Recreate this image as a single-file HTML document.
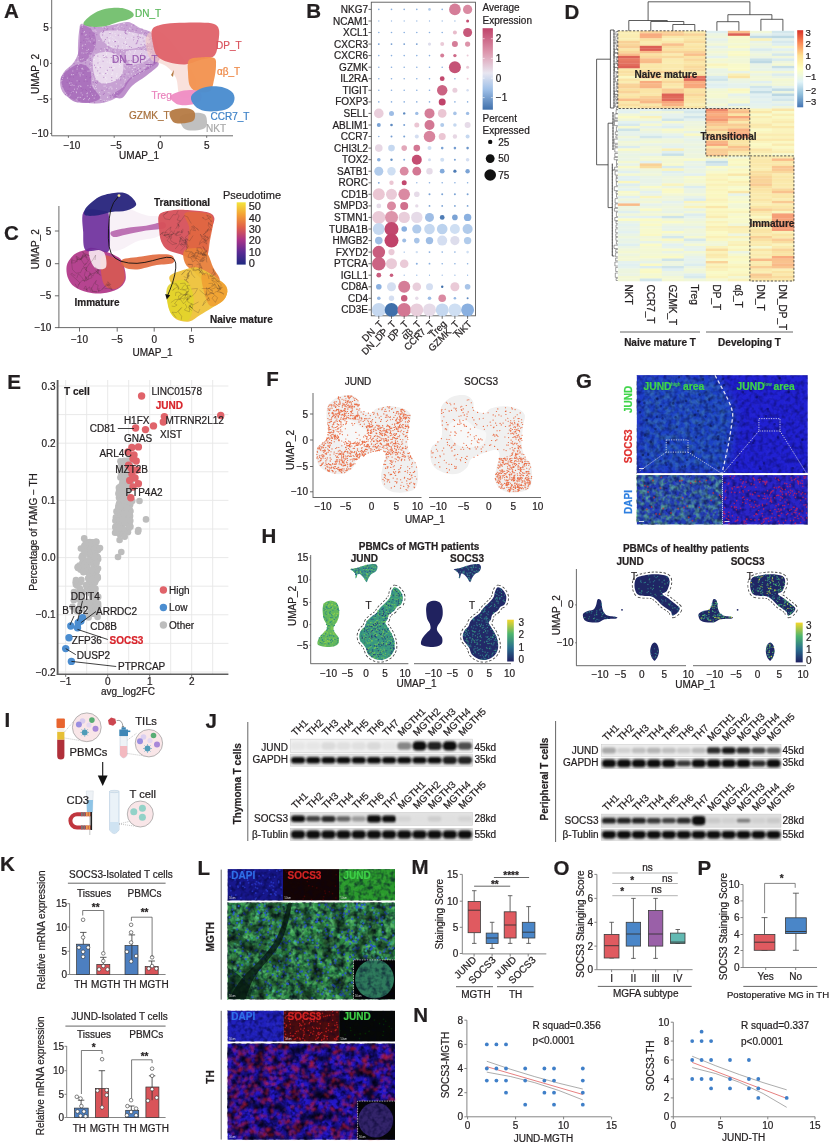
<!DOCTYPE html>
<html><head><meta charset="utf-8"><title>Figure</title>
<style>html,body{margin:0;padding:0;background:#fff;}svg{display:block;}
text{font-family:'Liberation Sans', Arial, sans-serif;}</style></head>
<body><svg fill="#231f20" width="831" height="1146" viewBox="0 0 831 1146">
<rect width="831" height="1146" fill="#ffffff"/>
<text x="4.0" y="18.1" font-size="20.5" font-weight="bold" fill="#231f20" stroke="#231f20" stroke-width="0.22">A</text>
<path d="M81.0,24.0 C83.7,22.5 90.8,26.8 96.0,27.0 C101.2,27.2 106.7,25.8 112.0,25.0 C117.3,24.2 123.3,21.5 128.0,22.0 C132.7,22.5 136.0,26.2 140.0,28.0 C144.0,29.8 149.0,30.2 152.0,33.0 C155.0,35.8 156.8,40.5 158.0,45.0 C159.2,49.5 160.3,56.2 159.0,60.0 C157.7,63.8 153.2,65.8 150.0,68.0 C146.8,70.2 143.3,71.0 140.0,73.0 C136.7,75.0 133.0,76.8 130.0,80.0 C127.0,83.2 125.0,88.7 122.0,92.0 C119.0,95.3 116.3,98.1 112.0,100.0 C107.7,101.9 101.7,103.3 96.0,103.5 C90.3,103.7 83.3,102.6 78.0,101.0 C72.7,99.4 67.0,97.2 64.0,94.0 C61.0,90.8 60.0,85.7 60.0,82.0 C60.0,78.3 61.7,75.3 64.0,72.0 C66.3,68.7 71.5,65.7 74.0,62.0 C76.5,58.3 78.0,54.3 79.0,50.0 C80.0,45.7 79.7,40.3 80.0,36.0 C80.3,31.7 78.3,25.5 81.0,24.0Z" fill="#b98ac8" fill-opacity="0.8"/>
<path d="M61.0,80.0 C60.7,75.2 64.8,72.7 68.0,70.0 C71.2,67.3 76.3,64.0 80.0,64.0 C83.7,64.0 88.0,66.3 90.0,70.0 C92.0,73.7 90.3,81.3 92.0,86.0 C93.7,90.7 101.0,95.2 100.0,98.0 C99.0,100.8 91.0,102.8 86.0,103.0 C81.0,103.2 74.2,102.8 70.0,99.0 C65.8,95.2 61.3,84.8 61.0,80.0Z" fill="#a263b6" fill-opacity="0.75"/>
<path d="M81.0,26.0 C83.3,23.5 89.5,27.3 92.0,30.0 C94.5,32.7 96.3,37.7 96.0,42.0 C95.7,46.3 92.7,52.7 90.0,56.0 C87.3,59.3 82.0,63.8 80.0,62.0 C78.0,60.2 77.8,51.0 78.0,45.0 C78.2,39.0 78.7,28.5 81.0,26.0Z" fill="#a263b6" fill-opacity="0.6"/>
<path d="M112.0,95.0 C112.0,93.3 119.0,90.8 122.0,88.0 C125.0,85.2 126.7,80.8 130.0,78.0 C133.3,75.2 137.7,73.7 142.0,71.0 C146.3,68.3 153.3,62.8 156.0,62.0 C158.7,61.2 159.7,63.7 158.0,66.0 C156.3,68.3 150.3,72.7 146.0,76.0 C141.7,79.3 136.0,82.3 132.0,86.0 C128.0,89.7 125.3,96.5 122.0,98.0 C118.7,99.5 112.0,96.7 112.0,95.0Z" fill="#a263b6" fill-opacity="0.7"/>
<path d="M94.0,56.0 C96.3,52.3 103.5,51.7 108.0,52.0 C112.5,52.3 118.5,54.8 121.0,58.0 C123.5,61.2 124.0,67.2 123.0,71.0 C122.0,74.8 118.7,79.0 115.0,81.0 C111.3,83.0 104.5,84.2 101.0,83.0 C97.5,81.8 95.2,78.5 94.0,74.0 C92.8,69.5 91.7,59.7 94.0,56.0Z" fill="#ffffff" fill-opacity="0.6"/>
<path d="M100.0,33.0 C102.3,30.3 116.0,30.3 124.0,31.0 C132.0,31.7 144.0,34.8 148.0,37.0 C152.0,39.2 151.0,42.0 148.0,44.0 C145.0,46.0 136.3,48.5 130.0,49.0 C123.7,49.5 115.0,49.7 110.0,47.0 C105.0,44.3 97.7,35.7 100.0,33.0Z" fill="#ffffff" fill-opacity="0.5"/>
<path d="M126.0,52.0 C128.0,49.7 137.7,49.7 142.0,50.0 C146.3,50.3 151.7,52.0 152.0,54.0 C152.3,56.0 147.7,60.3 144.0,62.0 C140.3,63.7 133.0,65.7 130.0,64.0 C127.0,62.3 124.0,54.3 126.0,52.0Z" fill="#ffffff" fill-opacity="0.45"/>
<path d="M92.1 72.5h0.2M86.1 38.3h0.2M62.4 78.4h0.2M96.2 88.5h0.2M135.3 50.5h0.2M63.0 74.8h0.2M148.0 57.6h0.2M125.7 42.4h0.2M132.9 63.7h0.2M94.8 54.0h0.2M89.2 55.9h0.2M108.9 68.1h0.2M144.1 46.0h0.2M81.4 68.9h0.2M107.1 48.2h0.2M69.4 83.2h0.2M121.8 72.8h0.2M106.7 79.1h0.2M109.9 63.2h0.2M90.4 41.9h0.2M109.5 60.1h0.2M72.7 71.0h0.2M81.0 73.0h0.2M87.6 60.1h0.2M145.7 47.4h0.2M113.0 48.0h0.2M108.1 92.7h0.2M108.8 100.6h0.2M100.4 59.0h0.2M123.9 62.8h0.2M126.5 45.7h0.2M119.2 78.3h0.2M115.0 50.1h0.2M107.2 45.5h0.2M122.5 47.1h0.2M133.2 65.2h0.2M90.6 91.4h0.2M91.8 76.8h0.2M106.5 82.7h0.2M85.2 35.2h0.2M116.9 95.6h0.2M99.1 58.6h0.2M109.4 32.3h0.2M104.7 33.9h0.2M147.9 37.5h0.2M129.4 32.5h0.2M135.4 74.5h0.2M65.6 93.0h0.2M124.7 82.1h0.2M134.6 67.6h0.2M92.4 95.5h0.2M143.3 71.0h0.2M122.6 73.6h0.2M104.5 90.5h0.2M123.5 78.2h0.2M89.1 71.0h0.2M116.4 88.4h0.2M82.7 45.1h0.2M91.8 38.8h0.2M132.1 62.0h0.2M66.7 94.7h0.2M111.8 89.1h0.2M133.7 54.4h0.2M91.7 66.8h0.2M114.0 46.5h0.2M114.3 67.4h0.2M149.2 42.6h0.2M124.0 27.4h0.2M87.8 71.2h0.2M113.4 41.5h0.2M101.8 83.3h0.2M69.0 96.3h0.2M125.1 65.1h0.2M79.0 73.0h0.2M82.0 27.7h0.2M144.3 50.5h0.2M136.3 61.4h0.2M115.7 53.5h0.2M98.4 67.4h0.2M87.2 96.2h0.2M105.3 71.0h0.2M116.9 30.0h0.2M93.0 85.4h0.2M118.3 42.0h0.2M76.4 92.7h0.2M77.5 66.7h0.2M103.4 56.7h0.2M95.7 74.2h0.2M116.7 28.0h0.2M126.4 51.9h0.2M112.6 74.2h0.2M77.0 100.2h0.2M85.2 44.4h0.2M153.4 56.9h0.2M113.9 38.1h0.2M114.2 93.5h0.2M151.3 65.8h0.2M152.2 60.7h0.2M123.9 63.9h0.2M104.3 56.4h0.2M83.0 58.5h0.2M60.9 81.2h0.2M80.1 75.9h0.2M142.3 34.6h0.2M84.4 31.5h0.2M78.3 56.7h0.2M114.8 27.4h0.2M90.1 87.3h0.2M80.3 59.6h0.2M133.6 67.6h0.2M95.9 31.4h0.2M76.1 99.2h0.2M81.8 52.9h0.2M120.4 34.3h0.2M119.6 28.2h0.2M140.8 40.2h0.2M96.0 79.1h0.2M125.4 43.6h0.2M73.9 85.4h0.2M131.7 37.8h0.2M141.1 52.8h0.2M103.9 86.1h0.2M111.6 46.7h0.2M123.6 23.6h0.2M132.7 77.8h0.2M105.3 27.5h0.2M100.1 95.6h0.2M86.8 93.7h0.2M83.0 74.7h0.2M142.9 33.8h0.2M123.9 38.1h0.2M117.5 30.3h0.2M120.9 85.0h0.2M99.6 60.2h0.2M93.3 86.8h0.2M104.4 48.8h0.2M82.0 59.3h0.2M147.6 41.9h0.2M95.2 95.2h0.2M113.0 68.4h0.2M89.9 55.0h0.2M111.2 62.3h0.2M106.7 100.5h0.2M119.1 50.7h0.2M132.5 33.9h0.2M112.6 72.9h0.2M71.4 74.7h0.2M152.4 42.1h0.2M98.9 63.4h0.2M124.1 68.0h0.2M78.6 64.6h0.2M73.1 91.6h0.2M86.1 34.7h0.2M135.6 57.5h0.2M72.1 75.1h0.2M133.4 71.4h0.2M100.5 50.4h0.2M133.8 58.1h0.2M132.2 69.5h0.2M141.8 57.3h0.2M90.9 52.5h0.2M115.0 80.1h0.2M118.5 26.1h0.2M158.1 57.5h0.2M70.8 85.4h0.2M147.7 66.4h0.2M120.6 53.6h0.2M82.6 48.6h0.2M98.9 40.5h0.2M135.2 67.0h0.2M146.5 65.2h0.2M103.1 74.3h0.2M123.9 63.6h0.2M109.7 39.9h0.2M77.0 80.8h0.2M105.1 50.9h0.2M108.9 37.2h0.2M109.2 62.2h0.2M138.2 48.6h0.2M126.9 45.5h0.2M106.5 54.5h0.2M115.6 35.4h0.2M138.0 34.7h0.2M126.0 37.7h0.2M140.6 53.5h0.2M104.8 55.8h0.2M84.5 98.7h0.2M82.4 25.0h0.2M150.1 47.8h0.2M95.0 30.2h0.2M99.3 92.4h0.2M77.2 88.9h0.2M101.9 66.1h0.2M141.4 31.4h0.2M119.4 64.5h0.2M109.7 40.7h0.2M151.0 50.5h0.2M115.3 39.9h0.2M105.3 51.5h0.2M78.3 86.8h0.2M90.8 85.2h0.2M77.0 69.1h0.2M137.6 59.9h0.2M76.2 91.9h0.2M140.3 71.1h0.2M112.5 64.2h0.2M92.7 80.5h0.2M77.4 97.8h0.2M147.0 36.4h0.2M124.9 80.2h0.2M125.2 79.4h0.2M143.1 68.0h0.2M131.4 25.8h0.2M126.8 73.9h0.2M149.4 64.0h0.2M88.6 99.8h0.2M82.8 69.3h0.2M96.3 84.7h0.2M134.6 31.3h0.2M109.9 87.1h0.2M89.0 41.1h0.2M107.5 97.3h0.2M120.2 75.5h0.2M124.2 23.4h0.2M115.5 55.7h0.2M94.2 45.5h0.2M97.8 66.7h0.2M114.9 33.7h0.2M71.0 82.8h0.2M94.4 88.2h0.2M92.1 58.1h0.2M129.4 50.8h0.2M67.3 78.1h0.2M154.3 46.2h0.2M94.3 59.6h0.2M125.3 41.6h0.2M85.7 53.2h0.2M93.5 59.9h0.2M105.6 77.3h0.2M137.2 27.1h0.2M133.5 57.6h0.2M113.0 80.1h0.2M108.9 39.9h0.2M117.1 46.3h0.2M99.0 71.8h0.2M112.6 37.1h0.2M100.7 99.5h0.2M127.7 38.3h0.2M116.7 75.3h0.2M128.2 73.9h0.2M70.9 92.5h0.2M147.1 33.1h0.2M121.7 26.4h0.2M73.4 74.5h0.2M125.1 69.3h0.2M104.1 100.4h0.2M109.5 50.0h0.2M82.2 94.9h0.2M94.1 98.2h0.2M110.0 82.2h0.2M139.4 73.4h0.2M120.2 54.2h0.2M83.8 32.3h0.2M82.2 25.9h0.2M129.7 67.7h0.2M80.5 97.4h0.2M138.8 56.8h0.2M151.4 37.5h0.2M132.3 61.9h0.2M119.3 79.1h0.2M148.8 33.6h0.2M134.5 40.3h0.2M117.0 73.8h0.2M92.9 74.4h0.2M149.1 65.9h0.2M78.8 97.3h0.2M124.2 68.9h0.2M106.9 57.5h0.2M87.3 93.0h0.2M106.5 71.4h0.2M117.1 92.5h0.2M127.1 66.8h0.2M126.4 38.5h0.2M119.1 66.9h0.2M144.2 48.6h0.2M111.0 46.3h0.2M139.3 70.7h0.2M74.4 89.2h0.2M123.5 49.6h0.2M102.7 27.4h0.2M105.2 77.9h0.2M93.2 79.9h0.2M107.0 47.8h0.2M120.2 36.9h0.2M123.8 86.1h0.2M152.9 36.3h0.2M62.9 76.4h0.2M141.7 46.9h0.2M130.6 47.7h0.2M115.6 51.4h0.2M72.1 84.9h0.2M137.9 65.8h0.2M110.2 32.8h0.2M102.8 73.3h0.2M144.7 38.7h0.2M117.4 26.8h0.2M107.2 44.3h0.2M130.5 52.0h0.2M112.4 33.0h0.2M109.3 41.9h0.2M148.1 52.5h0.2M124.1 43.8h0.2M142.8 63.2h0.2M91.2 56.0h0.2M91.7 93.8h0.2M86.6 41.8h0.2M106.3 83.2h0.2M89.4 98.4h0.2M130.6 28.9h0.2M107.1 62.0h0.2M113.6 67.2h0.2M114.4 92.9h0.2M116.2 83.8h0.2M97.8 75.0h0.2M148.9 61.6h0.2M123.7 51.5h0.2M129.4 28.2h0.2M103.0 74.4h0.2M122.1 43.9h0.2M90.3 61.5h0.2M113.7 94.9h0.2M149.2 67.2h0.2M79.0 86.0h0.2M87.1 52.6h0.2M144.2 32.3h0.2M91.8 62.7h0.2M133.3 60.8h0.2M87.8 38.8h0.2M140.9 49.8h0.2M112.6 62.9h0.2M127.4 30.5h0.2M110.9 87.0h0.2M105.0 81.0h0.2M126.6 47.9h0.2M130.2 63.1h0.2M95.4 86.4h0.2M103.3 59.8h0.2M61.8 80.5h0.2M124.3 42.4h0.2M133.6 34.6h0.2M134.4 52.9h0.2M122.2 37.3h0.2M70.1 95.0h0.2M108.0 44.5h0.2M99.2 28.3h0.2M128.8 54.2h0.2M151.9 59.4h0.2M111.5 74.3h0.2M111.8 88.2h0.2M82.2 46.0h0.2M109.0 88.7h0.2M153.7 49.9h0.2M135.0 51.8h0.2M81.0 92.9h0.2M141.4 61.8h0.2M149.2 50.6h0.2M142.8 43.7h0.2M101.5 37.2h0.2M148.4 47.5h0.2M149.9 34.8h0.2M144.3 70.3h0.2M90.2 67.4h0.2M106.5 87.9h0.2M139.7 35.2h0.2M128.9 76.8h0.2M77.9 61.4h0.2M106.5 53.1h0.2M112.6 40.2h0.2M158.4 52.1h0.2M155.6 44.1h0.2M120.6 65.4h0.2M88.4 49.4h0.2M138.4 68.4h0.2M102.3 41.0h0.2M144.6 67.9h0.2M145.1 54.3h0.2M86.9 50.4h0.2M85.6 79.7h0.2M131.4 73.9h0.2M92.3 30.9h0.2M122.6 87.0h0.2M116.3 76.6h0.2M110.6 36.3h0.2M153.4 38.6h0.2M158.1 51.1h0.2M121.8 50.5h0.2M80.9 86.4h0.2M132.1 76.9h0.2M145.4 60.1h0.2M87.8 85.7h0.2M80.2 86.1h0.2M143.1 49.2h0.2M83.4 99.4h0.2M107.4 73.4h0.2M97.0 75.6h0.2M93.1 78.2h0.2M109.7 92.9h0.2M94.0 40.0h0.2M83.7 53.2h0.2M107.3 97.1h0.2M112.1 49.3h0.2M119.0 24.8h0.2M105.1 86.0h0.2M142.0 35.1h0.2M116.8 40.2h0.2M82.4 68.3h0.2M93.7 31.0h0.2M96.0 79.7h0.2M80.0 74.6h0.2M115.7 44.7h0.2" stroke="#ffffff" stroke-width="0.9" stroke-linecap="round" fill="none" stroke-opacity="0.55"/>
<path d="M150.5 53.1h0.2M156.4 57.4h0.2M148.0 32.8h0.2M104.6 28.2h0.2M136.0 43.8h0.2M103.4 31.4h0.2M67.9 90.6h0.2M136.1 30.3h0.2M129.6 46.6h0.2M89.7 33.0h0.2M100.2 67.6h0.2M83.7 40.3h0.2M77.1 72.6h0.2M111.6 77.6h0.2M114.3 59.9h0.2M102.5 35.0h0.2M112.8 49.7h0.2M138.3 38.7h0.2M95.6 67.7h0.2M103.0 61.2h0.2M70.4 92.3h0.2M120.6 79.9h0.2M106.7 49.5h0.2M93.1 43.4h0.2M69.3 87.0h0.2M118.0 62.1h0.2M93.2 82.2h0.2M156.7 46.5h0.2M97.9 63.0h0.2M103.6 30.8h0.2M76.1 97.9h0.2M114.3 61.6h0.2M140.3 68.6h0.2M137.3 36.8h0.2M99.1 28.2h0.2M90.1 58.7h0.2M94.4 65.2h0.2M129.0 60.6h0.2M114.8 60.9h0.2M107.3 70.3h0.2M81.2 88.5h0.2M138.2 34.9h0.2M146.3 36.2h0.2M148.6 67.7h0.2M79.1 81.0h0.2M76.0 74.9h0.2M144.3 33.1h0.2M108.8 47.0h0.2M78.9 66.7h0.2M132.7 61.4h0.2M86.3 76.6h0.2M90.0 77.7h0.2M82.1 90.7h0.2M95.9 95.7h0.2M105.8 56.9h0.2M124.0 76.8h0.2M68.6 94.3h0.2M82.3 28.5h0.2M107.3 50.3h0.2M113.8 58.1h0.2M94.2 27.7h0.2M125.7 33.5h0.2M109.9 33.5h0.2M133.6 25.1h0.2M133.7 37.3h0.2M69.3 68.0h0.2M140.1 37.5h0.2M117.8 46.1h0.2M118.1 46.0h0.2M91.2 91.3h0.2M132.6 29.4h0.2M115.4 41.5h0.2M87.5 53.1h0.2M105.6 73.5h0.2M91.8 65.8h0.2M85.5 62.9h0.2M90.2 28.8h0.2M124.8 74.2h0.2M93.5 42.9h0.2M125.7 83.1h0.2M146.6 33.3h0.2M125.1 31.7h0.2M117.5 48.1h0.2M126.9 34.0h0.2M97.6 70.9h0.2M84.1 81.2h0.2M149.8 39.3h0.2M144.5 44.8h0.2M120.0 50.8h0.2M152.4 41.7h0.2M142.2 71.5h0.2M95.6 49.1h0.2M147.6 66.5h0.2M106.9 89.0h0.2M93.0 35.4h0.2M82.4 57.8h0.2M90.8 77.4h0.2M102.7 32.5h0.2M103.2 55.6h0.2M80.7 42.4h0.2M76.0 84.3h0.2M73.4 77.1h0.2M86.8 38.1h0.2M94.5 102.7h0.2M141.1 49.5h0.2M153.2 46.7h0.2M70.6 76.8h0.2M105.3 39.5h0.2M91.1 76.4h0.2M81.7 33.4h0.2M141.5 53.9h0.2M126.7 25.2h0.2M84.9 70.4h0.2M93.2 74.4h0.2M104.0 57.5h0.2M156.9 56.2h0.2M133.7 60.0h0.2M116.2 79.8h0.2M76.0 65.3h0.2M125.7 38.1h0.2M137.0 28.1h0.2M94.2 55.6h0.2M97.7 56.1h0.2M101.9 90.3h0.2M89.3 102.4h0.2M91.9 93.0h0.2M133.7 39.9h0.2M142.8 38.0h0.2M124.9 32.4h0.2M85.1 37.2h0.2M154.5 63.1h0.2M94.3 33.3h0.2M137.5 40.9h0.2M94.8 28.2h0.2M113.5 52.9h0.2M90.8 26.2h0.2M112.7 28.3h0.2M126.2 44.2h0.2M95.0 90.9h0.2M111.8 80.5h0.2M112.2 52.0h0.2M136.7 43.3h0.2M86.3 90.5h0.2M90.2 89.2h0.2M85.3 47.9h0.2M147.6 46.6h0.2M69.4 80.6h0.2M89.5 36.2h0.2M72.1 75.7h0.2M141.0 44.6h0.2M81.5 27.8h0.2M80.8 69.5h0.2M128.1 60.9h0.2M111.4 67.4h0.2M125.3 30.7h0.2M85.2 53.7h0.2M135.1 69.2h0.2M82.1 33.8h0.2M74.8 68.8h0.2M89.5 64.1h0.2M112.6 70.2h0.2M115.1 46.3h0.2M81.8 34.7h0.2M83.4 96.8h0.2M99.8 73.2h0.2M82.7 30.8h0.2M100.8 100.7h0.2M79.2 81.5h0.2M103.7 77.4h0.2M109.7 67.4h0.2M86.0 41.8h0.2M108.6 43.0h0.2M65.4 94.5h0.2M79.3 86.5h0.2M62.7 86.7h0.2M116.1 58.9h0.2M94.8 42.4h0.2M138.7 36.7h0.2M70.1 86.4h0.2M73.2 73.8h0.2M114.7 41.7h0.2M90.6 60.5h0.2M79.2 100.2h0.2M96.6 83.6h0.2M117.0 92.6h0.2M113.0 29.6h0.2M104.2 93.3h0.2M147.4 43.4h0.2M117.0 58.4h0.2M125.7 33.2h0.2M106.8 29.6h0.2M83.5 73.0h0.2M96.7 34.7h0.2M149.6 33.0h0.2M88.6 96.9h0.2M65.8 71.1h0.2M85.4 60.5h0.2M151.7 38.2h0.2M131.3 60.7h0.2M151.3 49.5h0.2M110.0 95.7h0.2M114.9 61.8h0.2M71.8 81.7h0.2M138.2 47.6h0.2M111.2 57.5h0.2M95.4 82.5h0.2M67.1 82.3h0.2M83.3 48.1h0.2M90.4 38.3h0.2M69.9 91.4h0.2M118.2 35.2h0.2M74.0 63.7h0.2M145.0 57.2h0.2M131.2 47.5h0.2M145.0 32.7h0.2M156.4 53.7h0.2M135.9 71.9h0.2M152.1 46.1h0.2M123.8 43.3h0.2M106.1 26.1h0.2M103.3 94.4h0.2M106.8 57.6h0.2M128.9 72.1h0.2M69.3 77.0h0.2M101.0 48.9h0.2M90.0 51.6h0.2M82.9 89.4h0.2M113.8 97.5h0.2M107.6 28.7h0.2M90.9 93.6h0.2M143.9 41.1h0.2M87.0 81.3h0.2M142.0 29.1h0.2M97.1 82.3h0.2M128.1 77.1h0.2M68.8 75.1h0.2M158.9 59.2h0.2M110.9 96.0h0.2M104.4 41.2h0.2M90.4 72.9h0.2M120.9 76.4h0.2M72.2 92.8h0.2M121.4 60.5h0.2M153.7 62.5h0.2M103.6 101.7h0.2M107.1 37.7h0.2M149.1 39.9h0.2M147.0 67.5h0.2M126.5 61.0h0.2M110.6 97.7h0.2M76.1 60.0h0.2M136.9 42.3h0.2M137.6 70.5h0.2M137.6 40.9h0.2M65.0 77.2h0.2M97.7 81.1h0.2M85.4 89.4h0.2M155.7 57.2h0.2M85.8 65.7h0.2M124.2 28.0h0.2" stroke="#9d5db2" stroke-width="0.9" stroke-linecap="round" fill="none" stroke-opacity="0.7"/>
<path d="M146.0,38.0 C147.0,33.3 152.0,29.7 156.0,30.0 C160.0,30.3 165.0,34.7 170.0,40.0 C175.0,45.3 181.7,55.3 186.0,62.0 C190.3,68.7 195.0,74.3 196.0,80.0 C197.0,85.7 194.7,93.3 192.0,96.0 C189.3,98.7 182.7,99.0 180.0,96.0 C177.3,93.0 178.3,83.0 176.0,78.0 C173.7,73.0 170.3,69.3 166.0,66.0 C161.7,62.7 153.3,62.7 150.0,58.0 C146.7,53.3 145.0,42.7 146.0,38.0Z" fill="#f4c9c0" fill-opacity="0.55"/>
<path d="M83.5,24.0 C82.8,22.2 87.2,18.2 90.0,16.0 C92.8,13.8 96.3,11.8 100.0,10.5 C103.7,9.2 108.0,8.3 112.0,8.0 C116.0,7.7 120.7,7.8 124.0,8.5 C127.3,9.2 130.4,10.8 132.0,12.0 C133.6,13.2 134.2,14.8 133.5,16.0 C132.8,17.2 130.6,18.5 128.0,19.5 C125.4,20.5 121.7,20.9 118.0,22.0 C114.3,23.1 110.0,25.2 106.0,26.0 C102.0,26.8 97.8,27.3 94.0,27.0 C90.2,26.7 84.2,25.8 83.5,24.0Z" fill="#72bf6d" fill-opacity="0.95"/>
<path d="M152.0,30.0 C153.2,26.8 156.2,26.2 160.0,25.0 C163.8,23.8 168.3,23.4 175.0,23.0 C181.7,22.6 193.5,22.3 200.0,22.5 C206.5,22.7 210.8,22.8 214.0,24.0 C217.2,25.2 218.3,26.7 219.0,30.0 C219.7,33.3 218.8,39.7 218.0,44.0 C217.2,48.3 217.0,53.3 214.0,56.0 C211.0,58.7 204.8,58.6 200.0,60.0 C195.2,61.4 190.3,64.2 185.0,64.5 C179.7,64.8 172.7,63.4 168.0,62.0 C163.3,60.6 159.5,59.0 157.0,56.0 C154.5,53.0 153.8,48.3 153.0,44.0 C152.2,39.7 150.8,33.2 152.0,30.0Z" fill="#e0646b" fill-opacity="0.97"/>
<path d="M189.0,60.0 C191.0,57.6 195.8,57.8 200.0,57.5 C204.2,57.2 211.3,56.6 214.0,58.0 C216.7,59.4 216.0,62.3 216.0,66.0 C216.0,69.7 215.0,75.8 214.0,80.0 C213.0,84.2 212.7,89.0 210.0,91.0 C207.3,93.0 201.3,92.8 198.0,92.0 C194.7,91.2 191.7,89.3 190.0,86.0 C188.3,82.7 188.2,76.3 188.0,72.0 C187.8,67.7 187.0,62.4 189.0,60.0Z" fill="#f2914e" fill-opacity="0.95"/>
<path d="M170.0,97.0 C170.0,94.9 174.7,93.2 178.0,92.0 C181.3,90.8 186.3,90.0 190.0,90.0 C193.7,90.0 198.2,90.3 200.0,92.0 C201.8,93.7 202.3,97.9 201.0,100.0 C199.7,102.1 195.8,103.8 192.0,104.5 C188.2,105.2 181.7,105.8 178.0,104.5 C174.3,103.2 170.0,99.1 170.0,97.0Z" fill="#ef8cc3" fill-opacity="0.95"/>
<path d="M180.0,117.0 C181.3,114.4 188.0,113.5 192.0,113.0 C196.0,112.5 201.5,112.7 204.0,114.0 C206.5,115.3 206.8,118.7 207.0,121.0 C207.2,123.3 207.0,126.4 205.0,128.0 C203.0,129.6 198.5,130.4 195.0,130.5 C191.5,130.6 186.5,130.8 184.0,128.5 C181.5,126.2 178.7,119.6 180.0,117.0Z" fill="#bdbdbd" fill-opacity="0.95"/>
<path d="M191.0,97.0 C191.5,94.3 195.0,91.8 198.0,90.0 C201.0,88.2 205.0,87.0 209.0,86.5 C213.0,86.0 218.2,86.1 222.0,87.0 C225.8,87.9 229.9,90.0 232.0,92.0 C234.1,94.0 234.7,96.7 234.5,99.0 C234.3,101.3 233.1,104.1 231.0,106.0 C228.9,107.9 226.3,109.7 222.0,110.5 C217.7,111.3 209.5,111.8 205.0,111.0 C200.5,110.2 197.3,108.3 195.0,106.0 C192.7,103.7 190.5,99.7 191.0,97.0Z" fill="#4b8dd0" fill-opacity="0.97"/>
<path d="M169.5,113.0 C169.8,110.8 172.9,109.8 176.0,109.0 C179.1,108.2 184.9,108.0 188.0,108.5 C191.1,109.0 193.5,110.1 194.5,112.0 C195.5,113.9 195.4,118.2 194.0,120.0 C192.6,121.8 189.3,122.6 186.0,123.0 C182.7,123.4 176.8,124.2 174.0,122.5 C171.2,120.8 169.2,115.2 169.5,113.0Z" fill="#b57a43" fill-opacity="0.95"/>
<polygon points="171.0,75.0 174.0,70.0 173.0,77.0" fill="#b57a43"/>
<line x1="51.7" y1="0.0" x2="51.7" y2="135.8" stroke="#5a5a5a" stroke-width="0.9"/>
<line x1="50.2" y1="27.8" x2="51.7" y2="27.8" stroke="#5a5a5a" stroke-width="0.9"/>
<text x="48.7" y="31.4" font-size="10" text-anchor="end" fill="#231f20" stroke="#231f20" stroke-width="0.22">5</text>
<line x1="50.2" y1="63.4" x2="51.7" y2="63.4" stroke="#5a5a5a" stroke-width="0.9"/>
<text x="48.7" y="67.0" font-size="10" text-anchor="end" fill="#231f20" stroke="#231f20" stroke-width="0.22">0</text>
<line x1="50.2" y1="99.0" x2="51.7" y2="99.0" stroke="#5a5a5a" stroke-width="0.9"/>
<text x="48.7" y="102.5" font-size="10" text-anchor="end" fill="#231f20" stroke="#231f20" stroke-width="0.22">−5</text>
<line x1="50.2" y1="133.5" x2="51.7" y2="133.5" stroke="#5a5a5a" stroke-width="0.9"/>
<text x="48.7" y="137.1" font-size="10" text-anchor="end" fill="#231f20" stroke="#231f20" stroke-width="0.22">−10</text>
<line x1="51.7" y1="135.8" x2="233.0" y2="135.8" stroke="#5a5a5a" stroke-width="0.9"/>
<line x1="68.4" y1="135.8" x2="68.4" y2="137.8" stroke="#5a5a5a" stroke-width="0.9"/>
<line x1="114.2" y1="135.8" x2="114.2" y2="137.8" stroke="#5a5a5a" stroke-width="0.9"/>
<line x1="160.3" y1="135.8" x2="160.3" y2="137.8" stroke="#5a5a5a" stroke-width="0.9"/>
<line x1="206.7" y1="135.8" x2="206.7" y2="137.8" stroke="#5a5a5a" stroke-width="0.9"/>
<text x="71.9" y="148.8" font-size="10" text-anchor="middle" fill="#231f20" stroke="#231f20" stroke-width="0.22">−10</text>
<text x="116.1" y="148.8" font-size="10" text-anchor="middle" fill="#231f20" stroke="#231f20" stroke-width="0.22">−5</text>
<text x="160.3" y="148.8" font-size="10" text-anchor="middle" fill="#231f20" stroke="#231f20" stroke-width="0.22">0</text>
<text x="206.7" y="148.8" font-size="10" text-anchor="middle" fill="#231f20" stroke="#231f20" stroke-width="0.22">5</text>
<text x="139.1" y="159.2" font-size="10" text-anchor="middle" fill="#231f20" stroke="#231f20" stroke-width="0.22">UMAP_1</text>
<text x="35.0" y="77.5" font-size="10" text-anchor="middle" fill="#231f20" stroke="#231f20" stroke-width="0.22" transform="rotate(-90 35.0 74.0)">UMAP_2</text>
<text x="135.0" y="16.6" font-size="10" fill="#5cb85c" stroke="#5cb85c" stroke-width="0.22">DN_T</text>
<text x="216.0" y="49.0" font-size="10" fill="#d9525c" stroke="#d9525c" stroke-width="0.22">DP_T</text>
<text x="112.0" y="62.5" font-size="10" fill="#9a5bb0" stroke="#9a5bb0" stroke-width="0.22">DN_DP_T</text>
<text x="217.0" y="75.0" font-size="10" fill="#ef8a48" stroke="#ef8a48" stroke-width="0.22">αβ_T</text>
<text x="151.5" y="98.5" font-size="10" fill="#ea84bd" stroke="#ea84bd" stroke-width="0.22">Treg</text>
<text x="129.0" y="118.5" font-size="10" fill="#a8703c" stroke="#a8703c" stroke-width="0.22">GZMK_T</text>
<text x="210.5" y="120.0" font-size="10" fill="#3f83c8" stroke="#3f83c8" stroke-width="0.22">CCR7_T</text>
<text x="206.0" y="131.6" font-size="10" fill="#a9a9a9" stroke="#a9a9a9" stroke-width="0.22">NKT</text>
<text x="306.3" y="18.3" font-size="20.5" font-weight="bold" fill="#231f20" stroke="#231f20" stroke-width="0.22">B</text>
<rect x="371.3" y="2.2" width="104.2" height="313.6" fill="none" stroke="#5a5a5a" stroke-width="0.9"/>
<line x1="368.5" y1="9.4" x2="371.3" y2="9.4" stroke="#5a5a5a" stroke-width="0.9"/>
<text x="368.0" y="12.9" font-size="10" text-anchor="end" fill="#231f20" stroke="#231f20" stroke-width="0.22">NKG7</text>
<circle cx="378.8" cy="9.4" r="0.80" fill="#8ab0e0"/>
<circle cx="391.5" cy="9.4" r="0.80" fill="#8ab0e0"/>
<circle cx="404.2" cy="9.4" r="0.80" fill="#8ab0e0"/>
<circle cx="416.8" cy="9.4" r="0.80" fill="#8ab0e0"/>
<circle cx="429.5" cy="9.4" r="1.30" fill="#b1cbeb"/>
<circle cx="442.2" cy="9.4" r="0.80" fill="#8ab0e0"/>
<circle cx="454.9" cy="9.4" r="5.80" fill="#d57d98"/>
<circle cx="467.6" cy="9.4" r="4.60" fill="#da8aa2"/>
<line x1="368.5" y1="21.0" x2="371.3" y2="21.0" stroke="#5a5a5a" stroke-width="0.9"/>
<text x="368.0" y="24.5" font-size="10" text-anchor="end" fill="#231f20" stroke="#231f20" stroke-width="0.22">NCAM1</text>
<circle cx="378.8" cy="21.0" r="0.70" fill="#9ebde5"/>
<circle cx="391.5" cy="21.0" r="0.70" fill="#9ebde5"/>
<circle cx="404.2" cy="21.0" r="0.70" fill="#9ebde5"/>
<circle cx="416.8" cy="21.0" r="0.70" fill="#9ebde5"/>
<circle cx="429.5" cy="21.0" r="0.70" fill="#9ebde5"/>
<circle cx="442.2" cy="21.0" r="0.70" fill="#9ebde5"/>
<circle cx="454.9" cy="21.0" r="0.70" fill="#9ebde5"/>
<circle cx="467.6" cy="21.0" r="1.50" fill="#c44d72"/>
<line x1="368.5" y1="32.5" x2="371.3" y2="32.5" stroke="#5a5a5a" stroke-width="0.9"/>
<text x="368.0" y="36.1" font-size="10" text-anchor="end" fill="#231f20" stroke="#231f20" stroke-width="0.22">XCL1</text>
<circle cx="378.8" cy="32.5" r="0.80" fill="#8ab0e0"/>
<circle cx="391.5" cy="32.5" r="0.80" fill="#8ab0e0"/>
<circle cx="404.2" cy="32.5" r="0.80" fill="#8ab0e0"/>
<circle cx="416.8" cy="32.5" r="0.80" fill="#8ab0e0"/>
<circle cx="429.5" cy="32.5" r="0.80" fill="#8ab0e0"/>
<circle cx="442.2" cy="32.5" r="0.80" fill="#8ab0e0"/>
<circle cx="454.9" cy="32.5" r="2.00" fill="#e8bccb"/>
<circle cx="467.6" cy="32.5" r="4.50" fill="#c7587a"/>
<line x1="368.5" y1="44.1" x2="371.3" y2="44.1" stroke="#5a5a5a" stroke-width="0.9"/>
<text x="368.0" y="47.6" font-size="10" text-anchor="end" fill="#231f20" stroke="#231f20" stroke-width="0.22">CXCR3</text>
<circle cx="378.8" cy="44.1" r="0.90" fill="#749cd0"/>
<circle cx="391.5" cy="44.1" r="0.90" fill="#749cd0"/>
<circle cx="404.2" cy="44.1" r="0.90" fill="#749cd0"/>
<circle cx="416.8" cy="44.1" r="0.90" fill="#749cd0"/>
<circle cx="429.5" cy="44.1" r="1.60" fill="#ddddec"/>
<circle cx="442.2" cy="44.1" r="2.00" fill="#eacad7"/>
<circle cx="454.9" cy="44.1" r="3.00" fill="#d57d98"/>
<circle cx="467.6" cy="44.1" r="2.60" fill="#dd94aa"/>
<line x1="368.5" y1="55.6" x2="371.3" y2="55.6" stroke="#5a5a5a" stroke-width="0.9"/>
<text x="368.0" y="59.2" font-size="10" text-anchor="end" fill="#231f20" stroke="#231f20" stroke-width="0.22">CXCR6</text>
<circle cx="378.8" cy="55.6" r="0.80" fill="#8ab0e0"/>
<circle cx="391.5" cy="55.6" r="0.80" fill="#8ab0e0"/>
<circle cx="404.2" cy="55.6" r="0.80" fill="#8ab0e0"/>
<circle cx="416.8" cy="55.6" r="0.80" fill="#8ab0e0"/>
<circle cx="429.5" cy="55.6" r="0.80" fill="#8ab0e0"/>
<circle cx="442.2" cy="55.6" r="2.00" fill="#d57d98"/>
<circle cx="454.9" cy="55.6" r="1.70" fill="#ce6a88"/>
<circle cx="467.6" cy="55.6" r="1.00" fill="#eacad7"/>
<line x1="368.5" y1="67.2" x2="371.3" y2="67.2" stroke="#5a5a5a" stroke-width="0.9"/>
<text x="368.0" y="70.7" font-size="10" text-anchor="end" fill="#231f20" stroke="#231f20" stroke-width="0.22">GZMK</text>
<circle cx="378.8" cy="67.2" r="0.80" fill="#8ab0e0"/>
<circle cx="391.5" cy="67.2" r="0.80" fill="#8ab0e0"/>
<circle cx="404.2" cy="67.2" r="0.80" fill="#8ab0e0"/>
<circle cx="416.8" cy="67.2" r="0.80" fill="#8ab0e0"/>
<circle cx="429.5" cy="67.2" r="0.80" fill="#8ab0e0"/>
<circle cx="442.2" cy="67.2" r="0.80" fill="#8ab0e0"/>
<circle cx="454.9" cy="67.2" r="6.00" fill="#c55376"/>
<circle cx="467.6" cy="67.2" r="1.50" fill="#eacad7"/>
<line x1="368.5" y1="78.7" x2="371.3" y2="78.7" stroke="#5a5a5a" stroke-width="0.9"/>
<text x="368.0" y="82.3" font-size="10" text-anchor="end" fill="#231f20" stroke="#231f20" stroke-width="0.22">IL2RA</text>
<circle cx="378.8" cy="78.7" r="0.80" fill="#8ab0e0"/>
<circle cx="391.5" cy="78.7" r="0.80" fill="#8ab0e0"/>
<circle cx="404.2" cy="78.7" r="0.80" fill="#8ab0e0"/>
<circle cx="416.8" cy="78.7" r="0.80" fill="#8ab0e0"/>
<circle cx="429.5" cy="78.7" r="0.80" fill="#8ab0e0"/>
<circle cx="442.2" cy="78.7" r="2.40" fill="#c2486e"/>
<circle cx="454.9" cy="78.7" r="0.80" fill="#8ab0e0"/>
<circle cx="467.6" cy="78.7" r="1.00" fill="#eacad7"/>
<line x1="368.5" y1="90.3" x2="371.3" y2="90.3" stroke="#5a5a5a" stroke-width="0.9"/>
<text x="368.0" y="93.9" font-size="10" text-anchor="end" fill="#231f20" stroke="#231f20" stroke-width="0.22">TIGIT</text>
<circle cx="378.8" cy="90.3" r="0.80" fill="#8ab0e0"/>
<circle cx="391.5" cy="90.3" r="0.80" fill="#8ab0e0"/>
<circle cx="404.2" cy="90.3" r="0.80" fill="#8ab0e0"/>
<circle cx="416.8" cy="90.3" r="0.80" fill="#8ab0e0"/>
<circle cx="429.5" cy="90.3" r="0.80" fill="#8ab0e0"/>
<circle cx="442.2" cy="90.3" r="5.20" fill="#cb6383"/>
<circle cx="454.9" cy="90.3" r="2.50" fill="#e9cedb"/>
<circle cx="467.6" cy="90.3" r="1.20" fill="#d4def1"/>
<line x1="368.5" y1="101.9" x2="371.3" y2="101.9" stroke="#5a5a5a" stroke-width="0.9"/>
<text x="368.0" y="105.4" font-size="10" text-anchor="end" fill="#231f20" stroke="#231f20" stroke-width="0.22">FOXP3</text>
<circle cx="378.8" cy="101.9" r="0.80" fill="#8ab0e0"/>
<circle cx="391.5" cy="101.9" r="0.80" fill="#8ab0e0"/>
<circle cx="404.2" cy="101.9" r="0.80" fill="#8ab0e0"/>
<circle cx="416.8" cy="101.9" r="0.80" fill="#8ab0e0"/>
<circle cx="429.5" cy="101.9" r="0.80" fill="#8ab0e0"/>
<circle cx="442.2" cy="101.9" r="3.50" fill="#c0436a"/>
<circle cx="454.9" cy="101.9" r="0.80" fill="#8ab0e0"/>
<circle cx="467.6" cy="101.9" r="0.80" fill="#8ab0e0"/>
<line x1="368.5" y1="113.4" x2="371.3" y2="113.4" stroke="#5a5a5a" stroke-width="0.9"/>
<text x="368.0" y="117.0" font-size="10" text-anchor="end" fill="#231f20" stroke="#231f20" stroke-width="0.22">SELL</text>
<circle cx="378.8" cy="113.4" r="4.80" fill="#e9cedb"/>
<circle cx="391.5" cy="113.4" r="2.50" fill="#9ebde5"/>
<circle cx="404.2" cy="113.4" r="1.20" fill="#5d89c0"/>
<circle cx="416.8" cy="113.4" r="1.70" fill="#9ebde5"/>
<circle cx="429.5" cy="113.4" r="5.00" fill="#d57d98"/>
<circle cx="442.2" cy="113.4" r="4.30" fill="#ebc6d3"/>
<circle cx="454.9" cy="113.4" r="1.80" fill="#a8c4e8"/>
<circle cx="467.6" cy="113.4" r="1.70" fill="#9ebde5"/>
<line x1="368.5" y1="125.0" x2="371.3" y2="125.0" stroke="#5a5a5a" stroke-width="0.9"/>
<text x="368.0" y="128.5" font-size="10" text-anchor="end" fill="#231f20" stroke="#231f20" stroke-width="0.22">ABLIM1</text>
<circle cx="378.8" cy="125.0" r="2.00" fill="#7ba3d5"/>
<circle cx="391.5" cy="125.0" r="1.30" fill="#5d89c0"/>
<circle cx="404.2" cy="125.0" r="1.00" fill="#7ba3d5"/>
<circle cx="416.8" cy="125.0" r="2.50" fill="#ebc6d3"/>
<circle cx="429.5" cy="125.0" r="5.00" fill="#d37793"/>
<circle cx="442.2" cy="125.0" r="2.00" fill="#b1cbeb"/>
<circle cx="454.9" cy="125.0" r="1.80" fill="#c5d8f0"/>
<circle cx="467.6" cy="125.0" r="3.00" fill="#e6dbe8"/>
<line x1="368.5" y1="136.5" x2="371.3" y2="136.5" stroke="#5a5a5a" stroke-width="0.9"/>
<text x="368.0" y="140.1" font-size="10" text-anchor="end" fill="#231f20" stroke="#231f20" stroke-width="0.22">CCR7</text>
<circle cx="378.8" cy="136.5" r="0.80" fill="#8ab0e0"/>
<circle cx="391.5" cy="136.5" r="1.00" fill="#749cd0"/>
<circle cx="404.2" cy="136.5" r="1.00" fill="#7ba3d5"/>
<circle cx="416.8" cy="136.5" r="2.00" fill="#d4def1"/>
<circle cx="429.5" cy="136.5" r="5.80" fill="#d8849d"/>
<circle cx="442.2" cy="136.5" r="3.50" fill="#ebc6d3"/>
<circle cx="454.9" cy="136.5" r="2.20" fill="#e7d7e4"/>
<circle cx="467.6" cy="136.5" r="2.00" fill="#c5d8f0"/>
<line x1="368.5" y1="148.1" x2="371.3" y2="148.1" stroke="#5a5a5a" stroke-width="0.9"/>
<text x="368.0" y="151.6" font-size="10" text-anchor="end" fill="#231f20" stroke="#231f20" stroke-width="0.22">CHI3L2</text>
<circle cx="378.8" cy="148.1" r="3.80" fill="#e7d7e4"/>
<circle cx="391.5" cy="148.1" r="3.30" fill="#c5d8f0"/>
<circle cx="404.2" cy="148.1" r="2.80" fill="#e2a8ba"/>
<circle cx="416.8" cy="148.1" r="3.30" fill="#d37793"/>
<circle cx="429.5" cy="148.1" r="2.00" fill="#cfdff3"/>
<circle cx="442.2" cy="148.1" r="1.30" fill="#7ba3d5"/>
<circle cx="454.9" cy="148.1" r="1.30" fill="#749cd0"/>
<circle cx="467.6" cy="148.1" r="1.30" fill="#6c96ca"/>
<line x1="368.5" y1="159.7" x2="371.3" y2="159.7" stroke="#5a5a5a" stroke-width="0.9"/>
<text x="368.0" y="163.2" font-size="10" text-anchor="end" fill="#231f20" stroke="#231f20" stroke-width="0.22">TOX2</text>
<circle cx="378.8" cy="159.7" r="1.80" fill="#8ab0e0"/>
<circle cx="391.5" cy="159.7" r="1.20" fill="#6490c5"/>
<circle cx="404.2" cy="159.7" r="1.00" fill="#8ab0e0"/>
<circle cx="416.8" cy="159.7" r="5.00" fill="#c44d72"/>
<circle cx="429.5" cy="159.7" r="1.50" fill="#d4def1"/>
<circle cx="442.2" cy="159.7" r="2.00" fill="#cfdff3"/>
<circle cx="454.9" cy="159.7" r="1.00" fill="#7ba3d5"/>
<circle cx="467.6" cy="159.7" r="1.80" fill="#d4def1"/>
<line x1="368.5" y1="171.2" x2="371.3" y2="171.2" stroke="#5a5a5a" stroke-width="0.9"/>
<text x="368.0" y="174.8" font-size="10" text-anchor="end" fill="#231f20" stroke="#231f20" stroke-width="0.22">SATB1</text>
<circle cx="378.8" cy="171.2" r="4.50" fill="#b1cbeb"/>
<circle cx="391.5" cy="171.2" r="4.20" fill="#cfdff3"/>
<circle cx="404.2" cy="171.2" r="4.40" fill="#da8aa2"/>
<circle cx="416.8" cy="171.2" r="4.40" fill="#d37793"/>
<circle cx="429.5" cy="171.2" r="3.20" fill="#e6dbe8"/>
<circle cx="442.2" cy="171.2" r="2.40" fill="#82aadb"/>
<circle cx="454.9" cy="171.2" r="1.60" fill="#4e7cb5"/>
<circle cx="467.6" cy="171.2" r="2.20" fill="#7ba3d5"/>
<line x1="368.5" y1="182.8" x2="371.3" y2="182.8" stroke="#5a5a5a" stroke-width="0.9"/>
<text x="368.0" y="186.3" font-size="10" text-anchor="end" fill="#231f20" stroke="#231f20" stroke-width="0.22">RORC</text>
<circle cx="378.8" cy="182.8" r="0.90" fill="#7ba3d5"/>
<circle cx="391.5" cy="182.8" r="2.20" fill="#ebc6d3"/>
<circle cx="404.2" cy="182.8" r="2.50" fill="#c2486e"/>
<circle cx="416.8" cy="182.8" r="0.80" fill="#9ebde5"/>
<circle cx="429.5" cy="182.8" r="0.80" fill="#8ab0e0"/>
<circle cx="442.2" cy="182.8" r="0.80" fill="#8ab0e0"/>
<circle cx="454.9" cy="182.8" r="0.80" fill="#8ab0e0"/>
<circle cx="467.6" cy="182.8" r="0.80" fill="#8ab0e0"/>
<line x1="368.5" y1="194.3" x2="371.3" y2="194.3" stroke="#5a5a5a" stroke-width="0.9"/>
<text x="368.0" y="197.9" font-size="10" text-anchor="end" fill="#231f20" stroke="#231f20" stroke-width="0.22">CD1B</text>
<circle cx="378.8" cy="194.3" r="6.00" fill="#ebc6d3"/>
<circle cx="391.5" cy="194.3" r="5.50" fill="#eacad7"/>
<circle cx="404.2" cy="194.3" r="5.80" fill="#da8aa2"/>
<circle cx="416.8" cy="194.3" r="2.80" fill="#e6dbe8"/>
<circle cx="429.5" cy="194.3" r="1.00" fill="#7ba3d5"/>
<circle cx="442.2" cy="194.3" r="1.00" fill="#7ba3d5"/>
<circle cx="454.9" cy="194.3" r="1.00" fill="#7ba3d5"/>
<circle cx="467.6" cy="194.3" r="1.00" fill="#7ba3d5"/>
<line x1="368.5" y1="205.9" x2="371.3" y2="205.9" stroke="#5a5a5a" stroke-width="0.9"/>
<text x="368.0" y="209.4" font-size="10" text-anchor="end" fill="#231f20" stroke="#231f20" stroke-width="0.22">SMPD3</text>
<circle cx="378.8" cy="205.9" r="2.40" fill="#e6dbe8"/>
<circle cx="391.5" cy="205.9" r="4.50" fill="#da8aa2"/>
<circle cx="404.2" cy="205.9" r="4.00" fill="#d0708d"/>
<circle cx="416.8" cy="205.9" r="1.70" fill="#e6dbe8"/>
<circle cx="429.5" cy="205.9" r="0.90" fill="#7ba3d5"/>
<circle cx="442.2" cy="205.9" r="0.90" fill="#7ba3d5"/>
<circle cx="454.9" cy="205.9" r="0.90" fill="#7ba3d5"/>
<circle cx="467.6" cy="205.9" r="0.90" fill="#7ba3d5"/>
<line x1="368.5" y1="217.4" x2="371.3" y2="217.4" stroke="#5a5a5a" stroke-width="0.9"/>
<text x="368.0" y="221.0" font-size="10" text-anchor="end" fill="#231f20" stroke="#231f20" stroke-width="0.22">STMN1</text>
<circle cx="378.8" cy="217.4" r="6.50" fill="#eacad7"/>
<circle cx="391.5" cy="217.4" r="6.50" fill="#dd94aa"/>
<circle cx="404.2" cy="217.4" r="5.70" fill="#e9cedb"/>
<circle cx="416.8" cy="217.4" r="5.70" fill="#e6dbe8"/>
<circle cx="429.5" cy="217.4" r="4.50" fill="#9ebde5"/>
<circle cx="442.2" cy="217.4" r="2.40" fill="#4e7cb5"/>
<circle cx="454.9" cy="217.4" r="2.80" fill="#7ba3d5"/>
<circle cx="467.6" cy="217.4" r="3.70" fill="#8ab0e0"/>
<line x1="368.5" y1="229.0" x2="371.3" y2="229.0" stroke="#5a5a5a" stroke-width="0.9"/>
<text x="368.0" y="232.5" font-size="10" text-anchor="end" fill="#231f20" stroke="#231f20" stroke-width="0.22">TUBA1B</text>
<circle cx="378.8" cy="229.0" r="6.00" fill="#c5d8f0"/>
<circle cx="391.5" cy="229.0" r="7.00" fill="#c2486e"/>
<circle cx="404.2" cy="229.0" r="2.80" fill="#8ab0e0"/>
<circle cx="416.8" cy="229.0" r="4.60" fill="#b1cbeb"/>
<circle cx="429.5" cy="229.0" r="5.30" fill="#c5d8f0"/>
<circle cx="442.2" cy="229.0" r="5.30" fill="#bbd2ee"/>
<circle cx="454.9" cy="229.0" r="5.00" fill="#cfdff3"/>
<circle cx="467.6" cy="229.0" r="5.00" fill="#b1cbeb"/>
<line x1="368.5" y1="240.6" x2="371.3" y2="240.6" stroke="#5a5a5a" stroke-width="0.9"/>
<text x="368.0" y="244.1" font-size="10" text-anchor="end" fill="#231f20" stroke="#231f20" stroke-width="0.22">HMGB2</text>
<circle cx="378.8" cy="240.6" r="3.80" fill="#9ebde5"/>
<circle cx="391.5" cy="240.6" r="7.00" fill="#c0436a"/>
<circle cx="404.2" cy="240.6" r="2.00" fill="#9ebde5"/>
<circle cx="416.8" cy="240.6" r="2.80" fill="#a8c4e8"/>
<circle cx="429.5" cy="240.6" r="3.70" fill="#9ebde5"/>
<circle cx="442.2" cy="240.6" r="5.00" fill="#d4def1"/>
<circle cx="454.9" cy="240.6" r="4.60" fill="#ddddec"/>
<circle cx="467.6" cy="240.6" r="3.70" fill="#b1cbeb"/>
<line x1="368.5" y1="252.1" x2="371.3" y2="252.1" stroke="#5a5a5a" stroke-width="0.9"/>
<text x="368.0" y="255.7" font-size="10" text-anchor="end" fill="#231f20" stroke="#231f20" stroke-width="0.22">FXYD2</text>
<circle cx="378.8" cy="252.1" r="6.30" fill="#c95d7e"/>
<circle cx="391.5" cy="252.1" r="3.10" fill="#eacad7"/>
<circle cx="404.2" cy="252.1" r="0.70" fill="#8ab0e0"/>
<circle cx="416.8" cy="252.1" r="1.20" fill="#cfdff3"/>
<circle cx="429.5" cy="252.1" r="0.90" fill="#8ab0e0"/>
<circle cx="442.2" cy="252.1" r="0.80" fill="#8ab0e0"/>
<circle cx="454.9" cy="252.1" r="0.80" fill="#8ab0e0"/>
<circle cx="467.6" cy="252.1" r="1.30" fill="#cfdff3"/>
<line x1="368.5" y1="263.7" x2="371.3" y2="263.7" stroke="#5a5a5a" stroke-width="0.9"/>
<text x="368.0" y="267.2" font-size="10" text-anchor="end" fill="#231f20" stroke="#231f20" stroke-width="0.22">PTCRA</text>
<circle cx="378.8" cy="263.7" r="6.80" fill="#cb6383"/>
<circle cx="391.5" cy="263.7" r="5.50" fill="#eacad7"/>
<circle cx="404.2" cy="263.7" r="4.30" fill="#eacad7"/>
<circle cx="416.8" cy="263.7" r="1.00" fill="#8ab0e0"/>
<circle cx="429.5" cy="263.7" r="0.90" fill="#8ab0e0"/>
<circle cx="442.2" cy="263.7" r="0.80" fill="#8ab0e0"/>
<circle cx="454.9" cy="263.7" r="0.80" fill="#8ab0e0"/>
<circle cx="467.6" cy="263.7" r="0.80" fill="#8ab0e0"/>
<line x1="368.5" y1="275.2" x2="371.3" y2="275.2" stroke="#5a5a5a" stroke-width="0.9"/>
<text x="368.0" y="278.8" font-size="10" text-anchor="end" fill="#231f20" stroke="#231f20" stroke-width="0.22">IGLL1</text>
<circle cx="378.8" cy="275.2" r="2.40" fill="#c95d7e"/>
<circle cx="391.5" cy="275.2" r="1.80" fill="#c95d7e"/>
<circle cx="404.2" cy="275.2" r="0.60" fill="#8ab0e0"/>
<circle cx="416.8" cy="275.2" r="0.60" fill="#8ab0e0"/>
<circle cx="429.5" cy="275.2" r="0.60" fill="#8ab0e0"/>
<circle cx="442.2" cy="275.2" r="0.60" fill="#8ab0e0"/>
<circle cx="454.9" cy="275.2" r="0.60" fill="#8ab0e0"/>
<circle cx="467.6" cy="275.2" r="0.60" fill="#8ab0e0"/>
<line x1="368.5" y1="286.8" x2="371.3" y2="286.8" stroke="#5a5a5a" stroke-width="0.9"/>
<text x="368.0" y="290.3" font-size="10" text-anchor="end" fill="#231f20" stroke="#231f20" stroke-width="0.22">CD8A</text>
<circle cx="378.8" cy="286.8" r="2.80" fill="#8ab0e0"/>
<circle cx="391.5" cy="286.8" r="4.50" fill="#d4def1"/>
<circle cx="404.2" cy="286.8" r="6.00" fill="#d57d98"/>
<circle cx="416.8" cy="286.8" r="4.30" fill="#e9cedb"/>
<circle cx="429.5" cy="286.8" r="3.50" fill="#d4def1"/>
<circle cx="442.2" cy="286.8" r="1.20" fill="#3f6faa"/>
<circle cx="454.9" cy="286.8" r="4.50" fill="#eacad7"/>
<circle cx="467.6" cy="286.8" r="2.80" fill="#a8c4e8"/>
<line x1="368.5" y1="298.3" x2="371.3" y2="298.3" stroke="#5a5a5a" stroke-width="0.9"/>
<text x="368.0" y="301.9" font-size="10" text-anchor="end" fill="#231f20" stroke="#231f20" stroke-width="0.22">CD4</text>
<circle cx="378.8" cy="298.3" r="1.80" fill="#94b7e3"/>
<circle cx="391.5" cy="298.3" r="2.70" fill="#d4def1"/>
<circle cx="404.2" cy="298.3" r="3.20" fill="#c95d7e"/>
<circle cx="416.8" cy="298.3" r="1.70" fill="#e6dbe8"/>
<circle cx="429.5" cy="298.3" r="1.80" fill="#9ebde5"/>
<circle cx="442.2" cy="298.3" r="3.80" fill="#da8aa2"/>
<circle cx="454.9" cy="298.3" r="1.30" fill="#94b7e3"/>
<circle cx="467.6" cy="298.3" r="1.00" fill="#5d89c0"/>
<line x1="368.5" y1="309.9" x2="371.3" y2="309.9" stroke="#5a5a5a" stroke-width="0.9"/>
<text x="368.0" y="313.4" font-size="10" text-anchor="end" fill="#231f20" stroke="#231f20" stroke-width="0.22">CD3E</text>
<circle cx="378.8" cy="309.9" r="7.00" fill="#c5d8f0"/>
<circle cx="391.5" cy="309.9" r="6.80" fill="#3f6faa"/>
<circle cx="404.2" cy="309.9" r="6.80" fill="#d37793"/>
<circle cx="416.8" cy="309.9" r="6.50" fill="#e9cedb"/>
<circle cx="429.5" cy="309.9" r="6.50" fill="#e6dbe8"/>
<circle cx="442.2" cy="309.9" r="6.50" fill="#c5d8f0"/>
<circle cx="454.9" cy="309.9" r="6.50" fill="#cfdff3"/>
<circle cx="467.6" cy="309.9" r="6.50" fill="#8ab0e0"/>
<line x1="378.8" y1="315.8" x2="378.8" y2="318.8" stroke="#5a5a5a" stroke-width="0.9"/>
<text x="383.6" y="324.5" font-size="9.6" text-anchor="end" fill="#231f20" stroke="#231f20" stroke-width="0.22" transform="rotate(-45 383.6 324.5)">DN_T</text>
<line x1="391.5" y1="315.8" x2="391.5" y2="318.8" stroke="#5a5a5a" stroke-width="0.9"/>
<text x="396.3" y="324.5" font-size="9.6" text-anchor="end" fill="#231f20" stroke="#231f20" stroke-width="0.22" transform="rotate(-45 396.3 324.5)">DN_DP_T</text>
<line x1="404.2" y1="315.8" x2="404.2" y2="318.8" stroke="#5a5a5a" stroke-width="0.9"/>
<text x="409.0" y="324.5" font-size="9.6" text-anchor="end" fill="#231f20" stroke="#231f20" stroke-width="0.22" transform="rotate(-45 409.0 324.5)">DP_T</text>
<line x1="416.8" y1="315.8" x2="416.8" y2="318.8" stroke="#5a5a5a" stroke-width="0.9"/>
<text x="421.6" y="324.5" font-size="9.6" text-anchor="end" fill="#231f20" stroke="#231f20" stroke-width="0.22" transform="rotate(-45 421.6 324.5)">αβ_T</text>
<line x1="429.5" y1="315.8" x2="429.5" y2="318.8" stroke="#5a5a5a" stroke-width="0.9"/>
<text x="434.3" y="324.5" font-size="9.6" text-anchor="end" fill="#231f20" stroke="#231f20" stroke-width="0.22" transform="rotate(-45 434.3 324.5)">CCR7_T</text>
<line x1="442.2" y1="315.8" x2="442.2" y2="318.8" stroke="#5a5a5a" stroke-width="0.9"/>
<text x="447.0" y="324.5" font-size="9.6" text-anchor="end" fill="#231f20" stroke="#231f20" stroke-width="0.22" transform="rotate(-45 447.0 324.5)">Treg</text>
<line x1="454.9" y1="315.8" x2="454.9" y2="318.8" stroke="#5a5a5a" stroke-width="0.9"/>
<text x="459.7" y="324.5" font-size="9.6" text-anchor="end" fill="#231f20" stroke="#231f20" stroke-width="0.22" transform="rotate(-45 459.7 324.5)">GZMK_T</text>
<line x1="467.6" y1="315.8" x2="467.6" y2="318.8" stroke="#5a5a5a" stroke-width="0.9"/>
<text x="472.4" y="324.5" font-size="9.6" text-anchor="end" fill="#231f20" stroke="#231f20" stroke-width="0.22" transform="rotate(-45 472.4 324.5)">NKT</text>
<text x="482.5" y="11.2" font-size="10" fill="#231f20" stroke="#231f20" stroke-width="0.22">Average</text>
<text x="482.5" y="23.6" font-size="10" fill="#231f20" stroke="#231f20" stroke-width="0.22">Expression</text>
<defs><linearGradient id="gB" x1="0" y1="1" x2="0" y2="0"><stop offset="0" stop-color="#3f6faa"/><stop offset="0.25" stop-color="#9fc0e8"/><stop offset="0.45" stop-color="#e8e6f0"/><stop offset="0.7" stop-color="#dd98ae"/><stop offset="1" stop-color="#c0436a"/></linearGradient></defs>
<rect x="482.6" y="28.2" width="10.3" height="81.5" fill="url(#gB)"/>
<line x1="482.6" y1="38.7" x2="484.6" y2="38.7" stroke="#fff" stroke-width="0.6"/>
<line x1="490.9" y1="38.7" x2="492.9" y2="38.7" stroke="#fff" stroke-width="0.6"/>
<text x="495.8" y="42.2" font-size="10" fill="#231f20" stroke="#231f20" stroke-width="0.22">2</text>
<line x1="482.6" y1="58.4" x2="484.6" y2="58.4" stroke="#fff" stroke-width="0.6"/>
<line x1="490.9" y1="58.4" x2="492.9" y2="58.4" stroke="#fff" stroke-width="0.6"/>
<text x="495.8" y="61.9" font-size="10" fill="#231f20" stroke="#231f20" stroke-width="0.22">1</text>
<line x1="482.6" y1="78.2" x2="484.6" y2="78.2" stroke="#fff" stroke-width="0.6"/>
<line x1="490.9" y1="78.2" x2="492.9" y2="78.2" stroke="#fff" stroke-width="0.6"/>
<text x="495.8" y="81.8" font-size="10" fill="#231f20" stroke="#231f20" stroke-width="0.22">0</text>
<line x1="482.6" y1="97.6" x2="484.6" y2="97.6" stroke="#fff" stroke-width="0.6"/>
<line x1="490.9" y1="97.6" x2="492.9" y2="97.6" stroke="#fff" stroke-width="0.6"/>
<text x="495.8" y="101.1" font-size="10" fill="#231f20" stroke="#231f20" stroke-width="0.22">−1</text>
<text x="482.5" y="122.1" font-size="10" fill="#231f20" stroke="#231f20" stroke-width="0.22">Percent</text>
<text x="482.5" y="134.4" font-size="10" fill="#231f20" stroke="#231f20" stroke-width="0.22">Expressed</text>
<circle cx="490.2" cy="141.9" r="2.20" fill="#111"/>
<text x="498.2" y="145.5" font-size="10" fill="#231f20" stroke="#231f20" stroke-width="0.22">25</text>
<circle cx="490.2" cy="158.6" r="4.40" fill="#111"/>
<text x="498.2" y="162.2" font-size="10" fill="#231f20" stroke="#231f20" stroke-width="0.22">50</text>
<circle cx="490.2" cy="175.0" r="5.80" fill="#111"/>
<text x="498.2" y="178.6" font-size="10" fill="#231f20" stroke="#231f20" stroke-width="0.22">75</text>
<text x="3.9" y="239.7" font-size="20.5" font-weight="bold" fill="#231f20" stroke="#231f20" stroke-width="0.22">C</text>
<path d="M107.0,213.2 C109.9,206.7 120.0,208.5 126.5,208.8 C133.0,209.2 139.8,213.9 146.0,215.3 C152.1,216.8 159.7,215.3 163.3,217.5 C166.9,219.7 168.7,225.1 167.6,228.3 C166.5,231.6 161.9,234.8 156.8,237.0 C151.7,239.1 143.4,239.1 137.3,241.3 C131.2,243.5 124.7,248.9 120.0,250.0 C115.3,251.1 111.3,253.9 109.1,247.8 C107.0,241.7 104.1,219.7 107.0,213.2Z" fill="#eedcec" fill-opacity="0.4"/>
<path d="M111.3,231.6 C113.5,230.1 120.7,228.9 126.5,227.9 C132.3,226.9 139.8,226.7 146.0,225.7 C152.1,224.8 160.2,221.8 163.3,222.3 C166.4,222.7 167.3,226.9 164.4,228.3 C161.5,229.7 152.3,229.5 146.0,230.5 C139.7,231.5 131.9,233.3 126.5,234.4 C121.1,235.5 116.0,237.5 113.5,237.0 C111.0,236.5 109.1,233.1 111.3,231.6Z" fill="#a9489e" fill-opacity="0.75"/>
<path d="M66.9,265.1 C68.0,261.2 71.4,256.8 74.5,254.3 C77.6,251.8 82.4,251.1 85.3,250.0 C88.2,248.9 88.2,247.5 91.8,247.8 C95.4,248.2 102.3,250.3 107.0,252.1 C111.7,253.9 117.1,256.1 120.0,258.6 C122.9,261.2 123.4,263.7 124.3,267.3 C125.2,270.9 126.5,276.7 125.4,280.3 C124.3,283.9 121.6,286.8 117.8,289.0 C114.0,291.1 107.7,292.8 102.6,293.3 C97.6,293.8 92.2,293.3 87.5,292.2 C82.8,291.1 77.7,289.1 74.5,286.8 C71.2,284.5 69.3,281.7 68.0,278.1 C66.7,274.5 65.8,269.1 66.9,265.1Z" fill="#b23a8a" fill-opacity="0.95"/>
<path d="M101.6,256.5 C103.9,253.6 112.0,256.8 115.6,258.6 C119.3,260.4 121.8,263.7 123.2,267.3 C124.7,270.9 125.4,276.8 124.3,280.3 C123.2,283.8 119.8,287.4 116.7,288.5 C113.7,289.6 108.4,288.9 105.9,286.8 C103.4,284.7 102.3,281.0 101.6,276.0 C100.8,270.9 99.2,259.4 101.6,256.5Z" fill="#d65a52" fill-opacity="0.9"/>
<path d="M89.7,250.0 C91.8,248.5 101.0,249.3 103.7,252.1 C106.4,255.0 107.2,264.6 105.9,267.3 C104.6,270.0 98.7,269.5 96.2,268.4 C93.6,267.3 91.8,263.9 90.7,260.8 C89.7,257.7 87.5,251.4 89.7,250.0Z" fill="#fbf4f8" fill-opacity="0.85"/>
<path d="M84.2,211.0 C87.8,207.4 100.7,209.9 104.8,211.0 C109.0,212.1 108.4,211.0 109.1,217.5 C109.9,224.0 111.0,244.6 109.1,250.0 C107.3,255.4 102.3,250.0 98.3,250.0 C94.3,250.0 87.8,252.9 85.3,250.0 C82.8,247.1 83.3,239.1 83.2,232.6 C83.0,226.2 80.6,214.6 84.2,211.0Z" fill="#6a2a9a" fill-opacity="0.9"/>
<path d="M85.3,208.8 C86.6,206.5 90.2,203.4 92.9,201.2 C95.6,199.1 97.4,197.3 101.6,195.8 C105.7,194.4 113.3,192.8 117.8,192.6 C122.3,192.4 125.6,192.8 128.6,194.7 C131.7,196.7 136.6,201.9 136.2,204.5 C135.9,207.1 130.6,209.3 126.5,210.6 C122.3,211.8 116.0,211.3 111.3,212.1 C106.6,212.9 102.6,214.8 98.3,215.3 C94.0,215.9 87.5,216.4 85.3,215.3 C83.2,214.2 84.1,211.2 85.3,208.8Z" fill="#27247c" fill-opacity="0.95"/>
<path d="M122.1,259.7 C125.0,257.9 135.5,257.4 141.6,256.5 C147.8,255.6 153.9,254.5 159.0,254.3 C164.0,254.1 169.6,253.9 172.0,255.4 C174.3,256.8 175.6,261.3 173.0,263.0 C170.5,264.6 162.8,264.1 156.8,265.1 C150.8,266.2 142.7,269.1 137.3,269.5 C131.9,269.8 126.8,268.9 124.3,267.3 C121.8,265.7 119.3,261.5 122.1,259.7Z" fill="#e0683c" fill-opacity="0.9"/>
<path d="M159.0,215.3 C160.4,212.4 163.3,211.9 167.6,211.0 C172.0,210.1 178.5,209.7 185.0,209.9 C191.5,210.1 201.7,210.8 206.6,212.1 C211.5,213.3 213.3,214.8 214.2,217.5 C215.1,220.2 212.9,224.3 212.0,228.3 C211.1,232.3 209.7,236.6 208.8,241.3 C207.9,246.0 208.8,253.2 206.6,256.5 C204.4,259.7 200.1,261.2 195.8,260.8 C191.5,260.4 185.3,256.1 180.6,254.3 C175.9,252.5 170.9,252.1 167.6,250.0 C164.4,247.8 162.6,244.9 161.1,241.3 C159.7,237.7 159.3,232.6 159.0,228.3 C158.6,224.0 157.5,218.2 159.0,215.3Z" fill="#d6505a" fill-opacity="0.95"/>
<path d="M185.0,213.2 C187.8,210.6 201.9,212.1 206.6,213.2 C211.3,214.2 212.6,215.0 213.1,219.7 C213.7,224.3 210.9,235.2 209.9,241.3 C208.8,247.5 209.0,253.4 206.6,256.5 C204.3,259.5 199.0,260.8 195.8,259.7 C192.5,258.6 188.2,255.2 187.1,250.0 C186.0,244.7 189.6,234.5 189.3,228.3 C188.9,222.2 182.1,215.7 185.0,213.2Z" fill="#e2683e" fill-opacity="0.85"/>
<path d="M185.0,250.0 C188.2,247.8 199.8,247.1 204.4,250.0 C209.1,252.9 210.6,262.3 213.1,267.3 C215.6,272.4 220.7,277.8 219.6,280.3 C218.5,282.8 210.9,283.9 206.6,282.5 C202.3,281.0 197.2,274.9 193.6,271.6 C190.0,268.4 186.4,266.6 185.0,263.0 C183.5,259.4 181.7,252.1 185.0,250.0Z" fill="#e8803a" fill-opacity="0.95"/>
<path d="M169.8,276.0 C172.0,273.1 180.6,270.9 185.0,269.5 C189.3,268.0 192.2,266.9 195.8,267.3 C199.4,267.7 202.6,269.5 206.6,271.6 C210.6,273.8 216.2,277.4 219.6,280.3 C223.0,283.2 226.5,285.7 227.2,289.0 C227.9,292.2 226.6,296.5 223.9,299.8 C221.2,303.0 214.9,305.9 210.9,308.5 C207.0,311.0 203.7,312.8 200.1,315.0 C196.5,317.1 193.3,320.7 189.3,321.5 C185.3,322.2 179.5,321.1 176.3,319.3 C173.0,317.5 171.2,314.2 169.8,310.6 C168.3,307.0 167.3,301.6 167.6,297.6 C168.0,293.7 171.6,290.4 172.0,286.8 C172.3,283.2 167.6,278.9 169.8,276.0Z" fill="#eec23a" fill-opacity="0.95"/>
<path d="M202.3,273.8 C204.8,271.6 215.5,277.8 219.6,280.3 C223.8,282.8 226.5,285.7 227.2,289.0 C227.9,292.2 226.6,296.9 223.9,299.8 C221.2,302.7 214.2,307.4 210.9,306.3 C207.7,305.2 205.9,298.7 204.4,293.3 C203.0,287.9 199.8,276.0 202.3,273.8Z" fill="#f0a033" fill-opacity="0.9"/>
<path d="M167.6,286.8 C170.3,282.1 180.6,278.5 185.0,280.3 C189.3,282.1 192.9,291.1 193.6,297.6 C194.3,304.1 192.2,315.9 189.3,319.3 C186.4,322.7 179.7,320.0 176.3,318.2 C172.9,316.4 170.2,313.7 168.7,308.5 C167.3,303.2 164.9,291.5 167.6,286.8Z" fill="#e2d42a" fill-opacity="0.9"/>
<path d="M172.1,237.6 L170.7,238.7 L172.1,234.0 L166.8,237.7 L164.2,234.8 L169.5,234.5 L173.2,234.2 L174.7,230.4" fill="none" stroke="#3a2a2a" stroke-width="0.4" stroke-opacity="0.55" stroke-linejoin="round"/>
<path d="M194.0,254.1 L194.3,256.7 L196.1,252.0 L198.9,253.0 L196.8,247.9 L200.7,247.6 L203.1,251.7 L205.4,256.3" fill="none" stroke="#3a2a2a" stroke-width="0.4" stroke-opacity="0.55" stroke-linejoin="round"/>
<path d="M180.8,250.7 L184.9,246.3 L180.9,243.2 L186.0,242.6 L187.4,240.4 L187.4,239.2 L185.8,240.1 L186.7,244.5" fill="none" stroke="#3a2a2a" stroke-width="0.4" stroke-opacity="0.55" stroke-linejoin="round"/>
<path d="M196.6,257.2 L198.5,253.5 L202.9,254.3 L205.2,251.2 L202.9,246.4 L206.7,251.7 L202.2,255.0 L201.3,251.2" fill="none" stroke="#3a2a2a" stroke-width="0.4" stroke-opacity="0.55" stroke-linejoin="round"/>
<path d="M175.2,249.0 L179.2,244.1 L180.5,239.2 L182.8,237.3 L187.0,242.5 L187.0,247.9 L185.0,243.4 L186.0,238.3" fill="none" stroke="#3a2a2a" stroke-width="0.4" stroke-opacity="0.55" stroke-linejoin="round"/>
<path d="M169.9,230.7 L171.1,226.9 L166.1,230.9 L164.1,235.9 L168.4,234.6 L168.0,234.8 L169.5,235.8 L170.2,237.1" fill="none" stroke="#3a2a2a" stroke-width="0.4" stroke-opacity="0.55" stroke-linejoin="round"/>
<path d="M182.8,246.6 L179.9,244.4 L185.1,244.6 L185.6,239.4 L184.7,240.2 L179.5,241.5 L181.0,236.7 L182.3,236.3" fill="none" stroke="#3a2a2a" stroke-width="0.4" stroke-opacity="0.55" stroke-linejoin="round"/>
<path d="M196.5,227.9 L198.7,230.4 L193.5,225.7 L195.5,230.7 L192.8,230.2 L193.8,228.3 L192.3,226.2 L190.9,227.3" fill="none" stroke="#3a2a2a" stroke-width="0.4" stroke-opacity="0.55" stroke-linejoin="round"/>
<path d="M175.6,229.1 L178.5,224.0 L179.3,226.5 L177.2,223.5 L180.5,220.7 L177.1,220.0 L179.2,215.7 L177.3,213.9" fill="none" stroke="#3a2a2a" stroke-width="0.4" stroke-opacity="0.55" stroke-linejoin="round"/>
<path d="M205.0,232.2 L208.9,228.6 L207.1,230.3 L211.3,229.7 L208.3,225.6 L208.6,222.3 L211.9,226.0 L208.5,223.6" fill="none" stroke="#3a2a2a" stroke-width="0.4" stroke-opacity="0.55" stroke-linejoin="round"/>
<path d="M203.5,242.6 L206.9,240.9 L202.9,238.7 L206.0,236.2 L204.4,235.3 L203.5,234.3 L208.1,230.6 L202.7,235.4" fill="none" stroke="#3a2a2a" stroke-width="0.4" stroke-opacity="0.55" stroke-linejoin="round"/>
<path d="M210.2,221.2 L211.9,221.4 L209.7,219.7 L206.7,215.0 L211.1,217.1 L205.8,219.8 L202.3,217.6 L204.0,217.9" fill="none" stroke="#3a2a2a" stroke-width="0.4" stroke-opacity="0.55" stroke-linejoin="round"/>
<path d="M192.8,227.3 L190.1,231.2 L189.8,234.3 L188.2,231.0 L188.6,234.4 L185.1,237.6 L189.6,240.9 L193.1,235.5" fill="none" stroke="#3a2a2a" stroke-width="0.4" stroke-opacity="0.55" stroke-linejoin="round"/>
<path d="M193.7,253.8 L188.8,251.3 L186.3,251.6 L185.5,251.3 L188.5,245.9 L183.6,241.9 L179.6,237.2 L184.7,241.1" fill="none" stroke="#3a2a2a" stroke-width="0.4" stroke-opacity="0.55" stroke-linejoin="round"/>
<path d="M163.7,235.5 L161.7,233.5 L160.1,235.0 L161.1,233.5 L163.4,232.2 L162.0,233.4 L165.1,232.1 L168.3,233.4" fill="none" stroke="#3a2a2a" stroke-width="0.4" stroke-opacity="0.55" stroke-linejoin="round"/>
<path d="M182.8,228.9 L182.8,231.1 L181.9,233.2 L181.5,230.4 L181.9,232.5 L177.2,231.7 L176.4,235.8 L181.1,234.5" fill="none" stroke="#3a2a2a" stroke-width="0.4" stroke-opacity="0.55" stroke-linejoin="round"/>
<path d="M173.4,233.5 L169.4,236.9 L171.1,241.1 L174.3,242.9 L176.8,243.6 L172.5,244.6 L167.2,240.7 L170.1,235.8" fill="none" stroke="#3a2a2a" stroke-width="0.4" stroke-opacity="0.55" stroke-linejoin="round"/>
<path d="M164.0,215.0 L168.2,211.5 L163.0,215.2 L164.9,218.8 L169.8,219.7 L173.0,214.7 L175.9,214.8 L178.2,210.5" fill="none" stroke="#3a2a2a" stroke-width="0.4" stroke-opacity="0.55" stroke-linejoin="round"/>
<path d="M200.3,257.5 L195.6,255.6 L196.3,259.1 L193.5,255.7 L190.8,256.9 L193.5,255.8 L192.1,254.6 L190.5,253.8" fill="none" stroke="#3a2a2a" stroke-width="0.4" stroke-opacity="0.55" stroke-linejoin="round"/>
<path d="M163.6,235.4 L168.7,234.4 L171.4,230.8 L173.4,233.5 L175.3,233.7 L175.1,235.3 L179.4,231.5 L175.1,234.2" fill="none" stroke="#3a2a2a" stroke-width="0.4" stroke-opacity="0.55" stroke-linejoin="round"/>
<path d="M209.6,236.2 L209.0,238.6 L205.6,236.1 L202.3,237.0 L200.3,234.1 L202.4,239.0 L200.2,241.2 L199.2,245.1" fill="none" stroke="#3a2a2a" stroke-width="0.4" stroke-opacity="0.55" stroke-linejoin="round"/>
<path d="M191.3,223.5 L188.2,218.3 L188.0,217.1 L184.4,215.6 L182.5,218.5 L178.6,223.9 L178.4,224.9 L178.1,228.5" fill="none" stroke="#3a2a2a" stroke-width="0.4" stroke-opacity="0.55" stroke-linejoin="round"/>
<path d="M204.3,238.3 L204.1,240.7 L208.0,239.6 L207.6,236.6 L204.8,239.0 L206.7,244.0 L203.3,241.4 L199.9,243.6" fill="none" stroke="#3a2a2a" stroke-width="0.4" stroke-opacity="0.55" stroke-linejoin="round"/>
<path d="M206.4,255.7 L204.4,254.9 L206.8,250.4 L202.4,254.0 L200.2,252.5 L201.0,254.4 L195.7,252.6 L195.0,252.4" fill="none" stroke="#3a2a2a" stroke-width="0.4" stroke-opacity="0.55" stroke-linejoin="round"/>
<path d="M180.1,299.0 L185.1,297.8 L185.6,293.7 L183.1,295.5 L178.9,299.7 L183.3,295.3 L188.1,293.9 L191.1,296.7" fill="none" stroke="#3a2a2a" stroke-width="0.4" stroke-opacity="0.55" stroke-linejoin="round"/>
<path d="M185.2,303.9 L186.9,307.2 L184.4,310.0 L189.4,311.8 L189.7,307.7 L189.7,306.1 L192.0,308.0 L192.8,304.5" fill="none" stroke="#3a2a2a" stroke-width="0.4" stroke-opacity="0.55" stroke-linejoin="round"/>
<path d="M206.1,301.5 L202.6,305.7 L204.3,301.6 L209.0,297.7 L207.1,300.1 L208.2,300.7 L209.8,300.2 L207.8,296.7" fill="none" stroke="#3a2a2a" stroke-width="0.4" stroke-opacity="0.55" stroke-linejoin="round"/>
<path d="M171.7,306.1 L174.5,306.5 L177.1,305.0 L174.5,303.7 L178.6,298.8 L178.6,296.0 L181.5,294.5 L179.7,293.4" fill="none" stroke="#3a2a2a" stroke-width="0.4" stroke-opacity="0.55" stroke-linejoin="round"/>
<path d="M199.9,309.1 L198.3,312.8 L194.1,310.4 L189.8,306.2 L192.8,308.6 L189.4,305.3 L188.5,307.9 L191.9,310.6" fill="none" stroke="#3a2a2a" stroke-width="0.4" stroke-opacity="0.55" stroke-linejoin="round"/>
<path d="M202.9,275.2 L201.8,271.9 L202.1,272.7 L198.9,270.0 L202.1,274.2 L207.0,272.9 L207.6,273.8 L209.0,279.0" fill="none" stroke="#3a2a2a" stroke-width="0.4" stroke-opacity="0.55" stroke-linejoin="round"/>
<path d="M208.5,283.5 L212.4,283.3 L213.5,285.8 L208.1,288.7 L209.9,288.6 L210.1,288.2 L206.8,288.5 L201.8,288.5" fill="none" stroke="#3a2a2a" stroke-width="0.4" stroke-opacity="0.55" stroke-linejoin="round"/>
<path d="M206.1,291.4 L206.8,296.3 L211.1,292.4 L214.2,293.7 L209.4,292.2 L206.5,287.6 L206.9,292.3 L205.0,296.3" fill="none" stroke="#3a2a2a" stroke-width="0.4" stroke-opacity="0.55" stroke-linejoin="round"/>
<path d="M209.0,274.6 L213.6,276.9 L216.9,281.6 L219.7,281.4 L215.2,278.2 L211.5,278.2 L213.6,278.6 L212.8,280.2" fill="none" stroke="#3a2a2a" stroke-width="0.4" stroke-opacity="0.55" stroke-linejoin="round"/>
<path d="M185.8,292.5 L188.6,291.4 L185.1,295.7 L187.5,294.3 L186.1,294.6 L187.1,291.6 L181.7,288.4 L184.8,284.6" fill="none" stroke="#3a2a2a" stroke-width="0.4" stroke-opacity="0.55" stroke-linejoin="round"/>
<path d="M195.0,277.9 L191.9,274.3 L190.8,270.7 L187.2,270.6 L186.7,269.6 L181.6,274.7 L182.9,273.0 L185.3,270.6" fill="none" stroke="#3a2a2a" stroke-width="0.4" stroke-opacity="0.55" stroke-linejoin="round"/>
<path d="M214.6,292.5 L219.2,290.3 L216.5,287.8 L219.9,289.2 L218.3,284.8 L220.2,289.9 L221.2,284.5 L216.1,280.1" fill="none" stroke="#3a2a2a" stroke-width="0.4" stroke-opacity="0.55" stroke-linejoin="round"/>
<path d="M170.8,302.7 L175.2,299.5 L180.3,299.2 L183.6,303.8 L188.4,298.7 L186.2,299.9 L191.1,295.4 L188.8,299.2" fill="none" stroke="#3a2a2a" stroke-width="0.4" stroke-opacity="0.55" stroke-linejoin="round"/>
<path d="M174.5,288.4 L172.7,290.4 L177.3,286.8 L179.9,289.4 L183.5,290.0 L188.1,288.5 L187.2,285.5 L190.2,285.3" fill="none" stroke="#3a2a2a" stroke-width="0.4" stroke-opacity="0.55" stroke-linejoin="round"/>
<path d="M183.7,276.5 L186.1,277.6 L188.3,276.4 L188.2,272.7 L187.8,275.5 L189.8,271.1 L186.9,274.8 L188.5,278.9" fill="none" stroke="#3a2a2a" stroke-width="0.4" stroke-opacity="0.55" stroke-linejoin="round"/>
<path d="M219.6,291.7 L223.9,294.2 L222.1,292.8 L217.4,291.7 L222.4,287.4 L217.8,289.0 L215.0,284.1 L211.3,285.7" fill="none" stroke="#3a2a2a" stroke-width="0.4" stroke-opacity="0.55" stroke-linejoin="round"/>
<path d="M181.3,319.7 L181.7,316.3 L178.2,311.7 L181.7,307.5 L176.6,312.6 L172.1,312.2 L173.3,313.8 L176.2,317.8" fill="none" stroke="#3a2a2a" stroke-width="0.4" stroke-opacity="0.55" stroke-linejoin="round"/>
<path d="M188.2,300.0 L187.6,295.7 L191.3,296.8 L194.7,293.6 L195.1,293.2 L197.6,288.6 L195.9,288.5 L191.3,289.0" fill="none" stroke="#3a2a2a" stroke-width="0.4" stroke-opacity="0.55" stroke-linejoin="round"/>
<path d="M211.4,290.2 L213.0,291.3 L209.9,289.7 L215.3,287.9 L214.6,283.4 L211.5,279.8 L216.2,282.3 L220.2,287.5" fill="none" stroke="#3a2a2a" stroke-width="0.4" stroke-opacity="0.55" stroke-linejoin="round"/>
<path d="M199.5,290.0 L204.4,294.3 L209.3,294.2 L212.2,293.2 L217.6,297.7 L215.4,302.4 L211.9,298.0 L214.3,295.8" fill="none" stroke="#3a2a2a" stroke-width="0.4" stroke-opacity="0.55" stroke-linejoin="round"/>
<path d="M198.6,301.9 L193.6,304.6 L191.2,303.8 L189.5,306.5 L192.2,304.2 L187.9,302.0 L186.9,297.4 L183.1,300.3" fill="none" stroke="#3a2a2a" stroke-width="0.4" stroke-opacity="0.55" stroke-linejoin="round"/>
<path d="M189.8,276.0 L187.8,275.6 L188.1,276.1 L186.5,279.9 L184.2,279.5 L188.4,282.8 L186.2,280.1 L189.5,274.8" fill="none" stroke="#3a2a2a" stroke-width="0.4" stroke-opacity="0.55" stroke-linejoin="round"/>
<path d="M175.5,296.0 L175.8,292.4 L178.8,292.1 L184.0,295.2 L189.2,290.1 L185.7,284.8 L185.0,283.1 L180.1,283.6" fill="none" stroke="#3a2a2a" stroke-width="0.4" stroke-opacity="0.55" stroke-linejoin="round"/>
<path d="M173.2,284.2 L172.3,281.6 L173.7,283.5 L178.2,286.8 L175.4,282.9 L178.2,286.0 L178.3,289.6 L178.9,287.2" fill="none" stroke="#3a2a2a" stroke-width="0.4" stroke-opacity="0.55" stroke-linejoin="round"/>
<path d="M104.5,288.6 L108.9,288.3 L112.3,289.4 L111.4,289.6 L107.8,286.1 L108.3,285.1 L106.7,284.7 L110.0,284.1" fill="none" stroke="#3a2a2a" stroke-width="0.4" stroke-opacity="0.55" stroke-linejoin="round"/>
<path d="M85.3,271.6 L84.4,275.4 L87.9,280.0 L89.1,274.9 L89.9,275.5 L89.8,273.1 L92.1,277.6 L87.8,279.4" fill="none" stroke="#3a2a2a" stroke-width="0.4" stroke-opacity="0.55" stroke-linejoin="round"/>
<path d="M88.6,271.2 L92.9,276.2 L94.5,272.9 L99.0,269.5 L97.8,273.0 L95.8,270.5 L100.6,275.3 L98.7,274.2" fill="none" stroke="#3a2a2a" stroke-width="0.4" stroke-opacity="0.55" stroke-linejoin="round"/>
<path d="M83.4,253.8 L80.7,259.0 L76.1,256.1 L76.4,258.7 L80.1,260.1 L83.5,254.8 L81.2,259.8 L76.5,257.2" fill="none" stroke="#3a2a2a" stroke-width="0.4" stroke-opacity="0.55" stroke-linejoin="round"/>
<path d="M95.1,260.0 L95.6,255.1 L92.8,260.0 L88.9,264.4 L85.4,269.8 L87.3,271.4 L83.5,266.5 L86.3,263.0" fill="none" stroke="#3a2a2a" stroke-width="0.4" stroke-opacity="0.55" stroke-linejoin="round"/>
<path d="M78.0,285.2 L82.1,280.3 L87.0,280.7 L85.8,276.5 L84.6,281.7 L82.2,277.8 L78.4,273.7 L76.8,278.2" fill="none" stroke="#3a2a2a" stroke-width="0.4" stroke-opacity="0.55" stroke-linejoin="round"/>
<path d="M87.6,291.1 L85.6,285.9 L83.9,288.6 L87.0,289.3 L86.6,289.7 L86.0,290.1 L89.6,286.9 L90.6,291.5" fill="none" stroke="#3a2a2a" stroke-width="0.4" stroke-opacity="0.55" stroke-linejoin="round"/>
<path d="M76.7,259.9 L81.9,258.9 L85.9,254.7 L80.7,258.8 L83.9,264.1 L85.9,264.3 L88.8,259.9 L89.2,259.3" fill="none" stroke="#3a2a2a" stroke-width="0.4" stroke-opacity="0.55" stroke-linejoin="round"/>
<path d="M75.5,275.1 L73.6,275.2 L72.2,273.2 L70.7,274.3 L75.9,279.0 L79.8,282.7 L77.5,287.8 L75.0,283.7" fill="none" stroke="#3a2a2a" stroke-width="0.4" stroke-opacity="0.55" stroke-linejoin="round"/>
<path d="M96.2,281.1 L94.5,282.7 L92.1,287.7 L91.6,287.5 L92.0,291.6 L97.2,291.9 L92.6,291.1 L91.1,288.0" fill="none" stroke="#3a2a2a" stroke-width="0.4" stroke-opacity="0.55" stroke-linejoin="round"/>
<path d="M99.0,288.0 L98.3,292.0 L100.5,290.5 L98.4,290.5 L97.3,289.2 L98.2,285.3 L95.2,283.9 L96.4,280.0" fill="none" stroke="#3a2a2a" stroke-width="0.4" stroke-opacity="0.55" stroke-linejoin="round"/>
<path d="M71.7,262.4 L72.1,267.0 L72.5,269.5 L76.0,273.2 L80.5,272.6 L82.5,268.4 L86.6,267.1 L86.3,271.4" fill="none" stroke="#3a2a2a" stroke-width="0.4" stroke-opacity="0.55" stroke-linejoin="round"/>
<path d="M83.7,256.4 L87.2,257.5 L82.7,252.4 L82.8,251.7 L84.2,253.4 L89.4,255.5 L84.9,254.8 L87.6,260.2" fill="none" stroke="#3a2a2a" stroke-width="0.4" stroke-opacity="0.55" stroke-linejoin="round"/>
<path d="M95.0,267.0 L99.3,270.5 L97.4,269.7 L98.3,273.8 L95.1,272.7 L90.6,274.2 L85.5,278.9 L85.8,279.7" fill="none" stroke="#3a2a2a" stroke-width="0.4" stroke-opacity="0.55" stroke-linejoin="round"/>
<path d="M71.9,258.4 L71.6,262.2 L72.0,259.9 L77.2,261.7 L77.5,258.4 L75.3,262.8 L71.4,263.1 L72.7,261.5" fill="none" stroke="#3a2a2a" stroke-width="0.4" stroke-opacity="0.55" stroke-linejoin="round"/>
<path d="M111.9,289.2 L108.7,284.4 L107.9,282.4 L104.6,286.4 L101.5,289.9 L106.3,285.8 L110.8,284.7 L107.6,281.3" fill="none" stroke="#3a2a2a" stroke-width="0.4" stroke-opacity="0.55" stroke-linejoin="round"/>
<path d="M198.9,262.6 L195.4,259.9 L192.8,262.0 L191.1,257.8 L188.0,257.2 L188.8,254.4 L190.9,251.3 L192.8,252.5" fill="none" stroke="#3a2a2a" stroke-width="0.4" stroke-opacity="0.55" stroke-linejoin="round"/>
<path d="M198.6,267.5 L199.7,268.9 L199.1,264.1 L202.2,268.0 L202.0,268.8 L199.5,273.2 L201.6,270.1 L205.0,275.4" fill="none" stroke="#3a2a2a" stroke-width="0.4" stroke-opacity="0.55" stroke-linejoin="round"/>
<path d="M201.7,255.8 L204.0,254.0 L206.6,254.9 L202.3,255.2 L206.1,255.0 L206.5,258.9 L206.0,258.9 L206.9,262.4" fill="none" stroke="#3a2a2a" stroke-width="0.4" stroke-opacity="0.55" stroke-linejoin="round"/>
<path d="M192.0,253.0 L194.8,253.6 L192.7,257.8 L196.9,258.3 L202.1,261.9 L204.8,259.7 L199.5,261.6 L202.1,260.0" fill="none" stroke="#3a2a2a" stroke-width="0.4" stroke-opacity="0.55" stroke-linejoin="round"/>
<path d="M201.5,268.4 L198.8,270.5 L199.5,269.3 L195.3,269.9 L191.7,268.7 L192.6,264.5 L187.7,264.3 L191.7,264.5" fill="none" stroke="#3a2a2a" stroke-width="0.4" stroke-opacity="0.55" stroke-linejoin="round"/>
<path d="M198.7,252.1 L196.3,250.1 L197.1,250.2 L202.3,253.4 L204.9,257.7 L200.5,259.9 L203.2,257.0 L202.8,262.1" fill="none" stroke="#3a2a2a" stroke-width="0.4" stroke-opacity="0.55" stroke-linejoin="round"/>
<path d="M194.3,266.5 L192.9,270.5 L195.6,270.6 L197.6,269.8 L200.9,267.2 L201.4,268.1 L200.2,263.2 L196.6,264.7" fill="none" stroke="#3a2a2a" stroke-width="0.4" stroke-opacity="0.55" stroke-linejoin="round"/>
<path d="M214.3,273.6 L213.0,268.7 L213.6,271.3 L209.9,276.5 L212.5,276.4 L215.0,272.6 L215.5,274.4 L211.6,275.7" fill="none" stroke="#3a2a2a" stroke-width="0.4" stroke-opacity="0.55" stroke-linejoin="round"/>
<path d="M119.0,195.8 Q112.4,202.3 110.7,209.9 Q109.0,217.5 108.5,228.2 Q108.0,239.0 109.1,246.7 Q110.2,254.3 115.1,258.1 Q120.0,262.0 128.7,263.0 Q137.3,264.0 144.9,262.4 Q152.5,260.8 160.1,258.6 Q167.6,256.5 171.3,257.6 Q175.0,258.6 175.7,263.0 Q176.3,267.3 174.7,274.9 Q173.0,282.5 170.3,289.0 L167.6,295.5" fill="none" stroke="#111" stroke-width="0.9"/>
<polygon points="165.2,294.0 170.2,295.2 166.8,299.5" fill="#111"/>
<circle cx="119.0" cy="195.6" r="1.40" fill="#f5e9a0"/>
<line x1="58.9" y1="206.0" x2="58.9" y2="327.6" stroke="#5a5a5a" stroke-width="0.9"/>
<line x1="54.9" y1="231.0" x2="58.9" y2="231.0" stroke="#5a5a5a" stroke-width="0.9"/>
<text x="51.4" y="234.6" font-size="10" text-anchor="end" fill="#231f20" stroke="#231f20" stroke-width="0.22">5</text>
<line x1="54.9" y1="263.7" x2="58.9" y2="263.7" stroke="#5a5a5a" stroke-width="0.9"/>
<text x="51.4" y="267.2" font-size="10" text-anchor="end" fill="#231f20" stroke="#231f20" stroke-width="0.22">0</text>
<line x1="54.9" y1="295.8" x2="58.9" y2="295.8" stroke="#5a5a5a" stroke-width="0.9"/>
<text x="51.4" y="299.4" font-size="10" text-anchor="end" fill="#231f20" stroke="#231f20" stroke-width="0.22">−5</text>
<line x1="54.9" y1="327.6" x2="58.9" y2="327.6" stroke="#5a5a5a" stroke-width="0.9"/>
<text x="51.4" y="331.2" font-size="10" text-anchor="end" fill="#231f20" stroke="#231f20" stroke-width="0.22">−10</text>
<line x1="58.2" y1="327.6" x2="232.0" y2="327.6" stroke="#5a5a5a" stroke-width="0.9"/>
<line x1="79.5" y1="327.6" x2="79.5" y2="331.6" stroke="#5a5a5a" stroke-width="0.9"/>
<text x="79.5" y="343.2" font-size="10" text-anchor="middle" fill="#231f20" stroke="#231f20" stroke-width="0.22">−10</text>
<line x1="117.2" y1="327.6" x2="117.2" y2="331.6" stroke="#5a5a5a" stroke-width="0.9"/>
<text x="117.2" y="343.2" font-size="10" text-anchor="middle" fill="#231f20" stroke="#231f20" stroke-width="0.22">−5</text>
<line x1="154.2" y1="327.6" x2="154.2" y2="331.6" stroke="#5a5a5a" stroke-width="0.9"/>
<text x="154.2" y="343.2" font-size="10" text-anchor="middle" fill="#231f20" stroke="#231f20" stroke-width="0.22">0</text>
<line x1="191.5" y1="327.6" x2="191.5" y2="331.6" stroke="#5a5a5a" stroke-width="0.9"/>
<text x="191.5" y="343.2" font-size="10" text-anchor="middle" fill="#231f20" stroke="#231f20" stroke-width="0.22">5</text>
<text x="152.5" y="356.4" font-size="10" text-anchor="middle" fill="#231f20" stroke="#231f20" stroke-width="0.22">UMAP_1</text>
<text x="35.0" y="252.9" font-size="10" text-anchor="middle" fill="#231f20" stroke="#231f20" stroke-width="0.22" transform="rotate(-90 35.0 249.3)">UMAP_2</text>
<text x="154.0" y="205.6" font-size="10" font-weight="bold" fill="#231f20" stroke="#231f20" stroke-width="0.22">Transitional</text>
<text x="74.5" y="305.6" font-size="10" font-weight="bold" fill="#231f20" stroke="#231f20" stroke-width="0.22">Immature</text>
<text x="210.0" y="323.1" font-size="10" font-weight="bold" fill="#231f20" stroke="#231f20" stroke-width="0.22">Naive mature</text>
<text x="223.0" y="198.6" font-size="11" fill="#231f20" stroke="#231f20" stroke-width="0.22">Pseudotime</text>
<defs><linearGradient id="gC" x1="0" y1="1" x2="0" y2="0"><stop offset="0" stop-color="#1f2a80"/><stop offset="0.2" stop-color="#5a2a94"/><stop offset="0.4" stop-color="#aa3388"/><stop offset="0.6" stop-color="#e0604a"/><stop offset="0.8" stop-color="#f4a035"/><stop offset="1" stop-color="#f3e53c"/></linearGradient></defs>
<rect x="236.7" y="202.3" width="9.0" height="62.3" fill="url(#gC)"/>
<text x="248.7" y="210.4" font-size="11" fill="#231f20" stroke="#231f20" stroke-width="0.22">50</text>
<text x="248.7" y="221.7" font-size="11" fill="#231f20" stroke="#231f20" stroke-width="0.22">40</text>
<text x="248.7" y="233.0" font-size="11" fill="#231f20" stroke="#231f20" stroke-width="0.22">30</text>
<text x="248.7" y="244.2" font-size="11" fill="#231f20" stroke="#231f20" stroke-width="0.22">20</text>
<text x="248.7" y="255.5" font-size="11" fill="#231f20" stroke="#231f20" stroke-width="0.22">10</text>
<text x="248.7" y="266.8" font-size="11" fill="#231f20" stroke="#231f20" stroke-width="0.22">0</text>
<text x="564.6" y="19.3" font-size="20.5" font-weight="bold" fill="#231f20" stroke="#231f20" stroke-width="0.22">D</text>
<rect x="617.8" y="30.8" width="22.3" height="2.8" fill="#faedb3"/>
<rect x="639.8" y="30.8" width="22.3" height="2.8" fill="#f9d59a"/>
<rect x="661.8" y="30.8" width="22.3" height="2.8" fill="#f9d499"/>
<rect x="683.8" y="30.8" width="22.3" height="2.8" fill="#faeaad"/>
<rect x="705.8" y="30.8" width="22.3" height="2.8" fill="#dfeff0"/>
<rect x="727.9" y="30.8" width="22.3" height="2.8" fill="#f9be8b"/>
<rect x="749.9" y="30.8" width="22.3" height="2.8" fill="#f1f7d9"/>
<rect x="771.9" y="30.8" width="22.3" height="2.8" fill="#d3e7ec"/>
<rect x="617.8" y="33.3" width="22.3" height="2.8" fill="#faeeb3"/>
<rect x="639.8" y="33.3" width="22.3" height="2.8" fill="#f8ab7f"/>
<rect x="661.8" y="33.3" width="22.3" height="2.8" fill="#f9c891"/>
<rect x="683.8" y="33.3" width="22.3" height="2.8" fill="#f9d499"/>
<rect x="705.8" y="33.3" width="22.3" height="2.8" fill="#ebf5e2"/>
<rect x="727.9" y="33.3" width="22.3" height="2.8" fill="#dc5f55"/>
<rect x="749.9" y="33.3" width="22.3" height="2.8" fill="#e5f2ed"/>
<rect x="771.9" y="33.3" width="22.3" height="2.8" fill="#dcecef"/>
<rect x="617.8" y="35.8" width="22.3" height="2.8" fill="#faecb2"/>
<rect x="639.8" y="35.8" width="22.3" height="2.8" fill="#f8af81"/>
<rect x="661.8" y="35.8" width="22.3" height="2.8" fill="#fae8ab"/>
<rect x="683.8" y="35.8" width="22.3" height="2.8" fill="#fae6a8"/>
<rect x="705.8" y="35.8" width="22.3" height="2.8" fill="#eff6dc"/>
<rect x="727.9" y="35.8" width="22.3" height="2.8" fill="#f9fac9"/>
<rect x="749.9" y="35.8" width="22.3" height="2.8" fill="#c2dbe5"/>
<rect x="771.9" y="35.8" width="22.3" height="2.8" fill="#bcd8e3"/>
<rect x="617.8" y="38.3" width="22.3" height="2.8" fill="#faefb5"/>
<rect x="639.8" y="38.3" width="22.3" height="2.8" fill="#f9e1a2"/>
<rect x="661.8" y="38.3" width="22.3" height="2.8" fill="#faf1b9"/>
<rect x="683.8" y="38.3" width="22.3" height="2.8" fill="#fae5a7"/>
<rect x="705.8" y="38.3" width="22.3" height="2.8" fill="#e6f2ec"/>
<rect x="727.9" y="38.3" width="22.3" height="2.8" fill="#f5f8d0"/>
<rect x="749.9" y="38.3" width="22.3" height="2.8" fill="#faf2ba"/>
<rect x="771.9" y="38.3" width="22.3" height="2.8" fill="#e6f2ec"/>
<rect x="617.8" y="40.8" width="22.3" height="2.8" fill="#f9d197"/>
<rect x="639.8" y="40.8" width="22.3" height="2.8" fill="#faebb0"/>
<rect x="661.8" y="40.8" width="22.3" height="2.8" fill="#fae8ab"/>
<rect x="683.8" y="40.8" width="22.3" height="2.8" fill="#f9db9e"/>
<rect x="705.8" y="40.8" width="22.3" height="2.8" fill="#ecf5e2"/>
<rect x="727.9" y="40.8" width="22.3" height="2.8" fill="#f6f9ce"/>
<rect x="749.9" y="40.8" width="22.3" height="2.8" fill="#e8f3e7"/>
<rect x="771.9" y="40.8" width="22.3" height="2.8" fill="#d7e9ed"/>
<rect x="617.8" y="43.3" width="22.3" height="2.8" fill="#f9d79b"/>
<rect x="639.8" y="43.3" width="22.3" height="2.8" fill="#fae7aa"/>
<rect x="661.8" y="43.3" width="22.3" height="2.8" fill="#f9c08d"/>
<rect x="683.8" y="43.3" width="22.3" height="2.8" fill="#fae9ad"/>
<rect x="705.8" y="43.3" width="22.3" height="2.8" fill="#f2f7d6"/>
<rect x="727.9" y="43.3" width="22.3" height="2.8" fill="#f3f8d4"/>
<rect x="749.9" y="43.3" width="22.3" height="2.8" fill="#eff6db"/>
<rect x="771.9" y="43.3" width="22.3" height="2.8" fill="#dfeff0"/>
<rect x="617.8" y="45.8" width="22.3" height="2.8" fill="#f9cd95"/>
<rect x="639.8" y="45.8" width="22.3" height="2.8" fill="#dc5f55"/>
<rect x="661.8" y="45.8" width="22.3" height="2.8" fill="#f9dc9f"/>
<rect x="683.8" y="45.8" width="22.3" height="2.8" fill="#fae4a5"/>
<rect x="705.8" y="45.8" width="22.3" height="2.8" fill="#e6f2ec"/>
<rect x="727.9" y="45.8" width="22.3" height="2.8" fill="#fafac8"/>
<rect x="749.9" y="45.8" width="22.3" height="2.8" fill="#ebf5e2"/>
<rect x="771.9" y="45.8" width="22.3" height="2.8" fill="#f4f8d3"/>
<rect x="617.8" y="48.3" width="22.3" height="2.8" fill="#fae6a8"/>
<rect x="639.8" y="48.3" width="22.3" height="2.8" fill="#dc5f55"/>
<rect x="661.8" y="48.3" width="22.3" height="2.8" fill="#fae3a4"/>
<rect x="683.8" y="48.3" width="22.3" height="2.8" fill="#fae4a4"/>
<rect x="705.8" y="48.3" width="22.3" height="2.8" fill="#eef5de"/>
<rect x="727.9" y="48.3" width="22.3" height="2.8" fill="#eef6dd"/>
<rect x="749.9" y="48.3" width="22.3" height="2.8" fill="#daebee"/>
<rect x="771.9" y="48.3" width="22.3" height="2.8" fill="#e3f1f1"/>
<rect x="617.8" y="50.9" width="22.3" height="2.8" fill="#f9d69b"/>
<rect x="639.8" y="50.9" width="22.3" height="2.8" fill="#f9bc8a"/>
<rect x="661.8" y="50.9" width="22.3" height="2.8" fill="#f9d49a"/>
<rect x="683.8" y="50.9" width="22.3" height="2.8" fill="#f9d298"/>
<rect x="705.8" y="50.9" width="22.3" height="2.8" fill="#f3f7d5"/>
<rect x="727.9" y="50.9" width="22.3" height="2.8" fill="#f9fac9"/>
<rect x="749.9" y="50.9" width="22.3" height="2.8" fill="#e9f4e6"/>
<rect x="771.9" y="50.9" width="22.3" height="2.8" fill="#edf5e0"/>
<rect x="617.8" y="53.4" width="22.3" height="2.8" fill="#f9bc8a"/>
<rect x="639.8" y="53.4" width="22.3" height="2.8" fill="#fae3a4"/>
<rect x="661.8" y="53.4" width="22.3" height="2.8" fill="#faebb0"/>
<rect x="683.8" y="53.4" width="22.3" height="2.8" fill="#f9bf8b"/>
<rect x="705.8" y="53.4" width="22.3" height="2.8" fill="#eef6dd"/>
<rect x="727.9" y="53.4" width="22.3" height="2.8" fill="#faf9c5"/>
<rect x="749.9" y="53.4" width="22.3" height="2.8" fill="#eff6dc"/>
<rect x="771.9" y="53.4" width="22.3" height="2.8" fill="#d4e8ec"/>
<rect x="617.8" y="55.9" width="22.3" height="2.8" fill="#dd6256"/>
<rect x="639.8" y="55.9" width="22.3" height="2.8" fill="#f9d99d"/>
<rect x="661.8" y="55.9" width="22.3" height="2.8" fill="#f9d99d"/>
<rect x="683.8" y="55.9" width="22.3" height="2.8" fill="#fae4a5"/>
<rect x="705.8" y="55.9" width="22.3" height="2.8" fill="#e5f2ee"/>
<rect x="727.9" y="55.9" width="22.3" height="2.8" fill="#f2f7d5"/>
<rect x="749.9" y="55.9" width="22.3" height="2.8" fill="#ebf4e3"/>
<rect x="771.9" y="55.9" width="22.3" height="2.8" fill="#f0f6da"/>
<rect x="617.8" y="58.4" width="22.3" height="2.8" fill="#e77a63"/>
<rect x="639.8" y="58.4" width="22.3" height="2.8" fill="#f9bf8c"/>
<rect x="661.8" y="58.4" width="22.3" height="2.8" fill="#faecb0"/>
<rect x="683.8" y="58.4" width="22.3" height="2.8" fill="#f9d89c"/>
<rect x="705.8" y="58.4" width="22.3" height="2.8" fill="#f5f8d0"/>
<rect x="727.9" y="58.4" width="22.3" height="2.8" fill="#f1f7d8"/>
<rect x="749.9" y="58.4" width="22.3" height="2.8" fill="#cae1e8"/>
<rect x="771.9" y="58.4" width="22.3" height="2.8" fill="#d9ebee"/>
<rect x="617.8" y="60.9" width="22.3" height="2.8" fill="#e47460"/>
<rect x="639.8" y="60.9" width="22.3" height="2.8" fill="#f9bb89"/>
<rect x="661.8" y="60.9" width="22.3" height="2.8" fill="#faedb3"/>
<rect x="683.8" y="60.9" width="22.3" height="2.8" fill="#fae5a7"/>
<rect x="705.8" y="60.9" width="22.3" height="2.8" fill="#f2f7d7"/>
<rect x="727.9" y="60.9" width="22.3" height="2.8" fill="#f2f7d6"/>
<rect x="749.9" y="60.9" width="22.3" height="2.8" fill="#bed9e4"/>
<rect x="771.9" y="60.9" width="22.3" height="2.8" fill="#edf5df"/>
<rect x="617.8" y="63.4" width="22.3" height="2.8" fill="#e26d5c"/>
<rect x="639.8" y="63.4" width="22.3" height="2.8" fill="#fae8ab"/>
<rect x="661.8" y="63.4" width="22.3" height="2.8" fill="#fae9ac"/>
<rect x="683.8" y="63.4" width="22.3" height="2.8" fill="#fae4a4"/>
<rect x="705.8" y="63.4" width="22.3" height="2.8" fill="#faf4bd"/>
<rect x="727.9" y="63.4" width="22.3" height="2.8" fill="#f8f9ca"/>
<rect x="749.9" y="63.4" width="22.3" height="2.8" fill="#e9f3e7"/>
<rect x="771.9" y="63.4" width="22.3" height="2.8" fill="#f3f8d4"/>
<rect x="617.8" y="65.9" width="22.3" height="2.8" fill="#dd6156"/>
<rect x="639.8" y="65.9" width="22.3" height="2.8" fill="#fae6a8"/>
<rect x="661.8" y="65.9" width="22.3" height="2.8" fill="#fae9ad"/>
<rect x="683.8" y="65.9" width="22.3" height="2.8" fill="#f9da9d"/>
<rect x="705.8" y="65.9" width="22.3" height="2.8" fill="#f8f9cb"/>
<rect x="727.9" y="65.9" width="22.3" height="2.8" fill="#f9faca"/>
<rect x="749.9" y="65.9" width="22.3" height="2.8" fill="#eaf4e4"/>
<rect x="771.9" y="65.9" width="22.3" height="2.8" fill="#c6dee7"/>
<rect x="617.8" y="68.4" width="22.3" height="2.8" fill="#fae9ac"/>
<rect x="639.8" y="68.4" width="22.3" height="2.8" fill="#fae6a8"/>
<rect x="661.8" y="68.4" width="22.3" height="2.8" fill="#faeaae"/>
<rect x="683.8" y="68.4" width="22.3" height="2.8" fill="#f9dc9f"/>
<rect x="705.8" y="68.4" width="22.3" height="2.8" fill="#eaf4e5"/>
<rect x="727.9" y="68.4" width="22.3" height="2.8" fill="#fafac8"/>
<rect x="749.9" y="68.4" width="22.3" height="2.8" fill="#e8f3e8"/>
<rect x="771.9" y="68.4" width="22.3" height="2.8" fill="#e4f2f0"/>
<rect x="617.8" y="70.9" width="22.3" height="2.8" fill="#f9e0a2"/>
<rect x="639.8" y="70.9" width="22.3" height="2.8" fill="#f9d399"/>
<rect x="661.8" y="70.9" width="22.3" height="2.8" fill="#f9d79b"/>
<rect x="683.8" y="70.9" width="22.3" height="2.8" fill="#fae9ad"/>
<rect x="705.8" y="70.9" width="22.3" height="2.8" fill="#eaf4e4"/>
<rect x="727.9" y="70.9" width="22.3" height="2.8" fill="#e8f3e8"/>
<rect x="749.9" y="70.9" width="22.3" height="2.8" fill="#f5f8d1"/>
<rect x="771.9" y="70.9" width="22.3" height="2.8" fill="#f2f7d5"/>
<rect x="617.8" y="73.4" width="22.3" height="2.8" fill="#fae4a6"/>
<rect x="639.8" y="73.4" width="22.3" height="2.8" fill="#fae5a6"/>
<rect x="661.8" y="73.4" width="22.3" height="2.8" fill="#faefb6"/>
<rect x="683.8" y="73.4" width="22.3" height="2.8" fill="#fae4a5"/>
<rect x="705.8" y="73.4" width="22.3" height="2.8" fill="#eef5dd"/>
<rect x="727.9" y="73.4" width="22.3" height="2.8" fill="#faefb6"/>
<rect x="749.9" y="73.4" width="22.3" height="2.8" fill="#eaf4e5"/>
<rect x="771.9" y="73.4" width="22.3" height="2.8" fill="#dcecef"/>
<rect x="617.8" y="75.9" width="22.3" height="2.8" fill="#faf7c2"/>
<rect x="639.8" y="75.9" width="22.3" height="2.8" fill="#f9be8b"/>
<rect x="661.8" y="75.9" width="22.3" height="2.8" fill="#fae4a5"/>
<rect x="683.8" y="75.9" width="22.3" height="2.8" fill="#e4715f"/>
<rect x="705.8" y="75.9" width="22.3" height="2.8" fill="#d9ebee"/>
<rect x="727.9" y="75.9" width="22.3" height="2.8" fill="#fae5a6"/>
<rect x="749.9" y="75.9" width="22.3" height="2.8" fill="#f1f7d8"/>
<rect x="771.9" y="75.9" width="22.3" height="2.8" fill="#ebf4e3"/>
<rect x="617.8" y="78.4" width="22.3" height="2.8" fill="#fae4a6"/>
<rect x="639.8" y="78.4" width="22.3" height="2.8" fill="#faf2ba"/>
<rect x="661.8" y="78.4" width="22.3" height="2.8" fill="#fae6a9"/>
<rect x="683.8" y="78.4" width="22.3" height="2.8" fill="#e16c5c"/>
<rect x="705.8" y="78.4" width="22.3" height="2.8" fill="#cee4ea"/>
<rect x="727.9" y="78.4" width="22.3" height="2.8" fill="#ecf5e1"/>
<rect x="749.9" y="78.4" width="22.3" height="2.8" fill="#f2f7d7"/>
<rect x="771.9" y="78.4" width="22.3" height="2.8" fill="#f4f8d2"/>
<rect x="617.8" y="80.9" width="22.3" height="2.8" fill="#faedb2"/>
<rect x="639.8" y="80.9" width="22.3" height="2.8" fill="#f8ac7f"/>
<rect x="661.8" y="80.9" width="22.3" height="2.8" fill="#f9d79b"/>
<rect x="683.8" y="80.9" width="22.3" height="2.8" fill="#f8ad80"/>
<rect x="705.8" y="80.9" width="22.3" height="2.8" fill="#e7f3eb"/>
<rect x="727.9" y="80.9" width="22.3" height="2.8" fill="#eaf4e5"/>
<rect x="749.9" y="80.9" width="22.3" height="2.8" fill="#e1f0f1"/>
<rect x="771.9" y="80.9" width="22.3" height="2.8" fill="#f1f7d8"/>
<rect x="617.8" y="83.4" width="22.3" height="2.8" fill="#f9d49a"/>
<rect x="639.8" y="83.4" width="22.3" height="2.8" fill="#f8b887"/>
<rect x="661.8" y="83.4" width="22.3" height="2.8" fill="#fae6a9"/>
<rect x="683.8" y="83.4" width="22.3" height="2.8" fill="#f8a67b"/>
<rect x="705.8" y="83.4" width="22.3" height="2.8" fill="#dfeff0"/>
<rect x="727.9" y="83.4" width="22.3" height="2.8" fill="#e5f2ee"/>
<rect x="749.9" y="83.4" width="22.3" height="2.8" fill="#edf5df"/>
<rect x="771.9" y="83.4" width="22.3" height="2.8" fill="#f2f7d6"/>
<rect x="617.8" y="85.9" width="22.3" height="2.8" fill="#f9d197"/>
<rect x="639.8" y="85.9" width="22.3" height="2.8" fill="#f8b485"/>
<rect x="661.8" y="85.9" width="22.3" height="2.8" fill="#faebb0"/>
<rect x="683.8" y="85.9" width="22.3" height="2.8" fill="#f8a97d"/>
<rect x="705.8" y="85.9" width="22.3" height="2.8" fill="#e3f1f1"/>
<rect x="727.9" y="85.9" width="22.3" height="2.8" fill="#e6f2ed"/>
<rect x="749.9" y="85.9" width="22.3" height="2.8" fill="#d0e5eb"/>
<rect x="771.9" y="85.9" width="22.3" height="2.8" fill="#e6f3eb"/>
<rect x="617.8" y="88.4" width="22.3" height="2.8" fill="#f9e0a1"/>
<rect x="639.8" y="88.4" width="22.3" height="2.8" fill="#fae5a6"/>
<rect x="661.8" y="88.4" width="22.3" height="2.8" fill="#f9ca93"/>
<rect x="683.8" y="88.4" width="22.3" height="2.8" fill="#fae4a5"/>
<rect x="705.8" y="88.4" width="22.3" height="2.8" fill="#f1f7d8"/>
<rect x="727.9" y="88.4" width="22.3" height="2.8" fill="#faf7c2"/>
<rect x="749.9" y="88.4" width="22.3" height="2.8" fill="#deeef0"/>
<rect x="771.9" y="88.4" width="22.3" height="2.8" fill="#c3dce6"/>
<rect x="617.8" y="91.0" width="22.3" height="2.8" fill="#f9d399"/>
<rect x="639.8" y="91.0" width="22.3" height="2.8" fill="#fae6a8"/>
<rect x="661.8" y="91.0" width="22.3" height="2.8" fill="#f9cd95"/>
<rect x="683.8" y="91.0" width="22.3" height="2.8" fill="#f9e2a3"/>
<rect x="705.8" y="91.0" width="22.3" height="2.8" fill="#f4f8d1"/>
<rect x="727.9" y="91.0" width="22.3" height="2.8" fill="#f9fac8"/>
<rect x="749.9" y="91.0" width="22.3" height="2.8" fill="#c4dde6"/>
<rect x="771.9" y="91.0" width="22.3" height="2.8" fill="#ecf5e0"/>
<rect x="617.8" y="93.5" width="22.3" height="2.8" fill="#fae8ac"/>
<rect x="639.8" y="93.5" width="22.3" height="2.8" fill="#fae7a9"/>
<rect x="661.8" y="93.5" width="22.3" height="2.8" fill="#de6256"/>
<rect x="683.8" y="93.5" width="22.3" height="2.8" fill="#f9d69b"/>
<rect x="705.8" y="93.5" width="22.3" height="2.8" fill="#f5f8d1"/>
<rect x="727.9" y="93.5" width="22.3" height="2.8" fill="#e6f2ec"/>
<rect x="749.9" y="93.5" width="22.3" height="2.8" fill="#e3f1f1"/>
<rect x="771.9" y="93.5" width="22.3" height="2.8" fill="#bbd7e3"/>
<rect x="617.8" y="96.0" width="22.3" height="2.8" fill="#fae4a5"/>
<rect x="639.8" y="96.0" width="22.3" height="2.8" fill="#f9d097"/>
<rect x="661.8" y="96.0" width="22.3" height="2.8" fill="#e06a5a"/>
<rect x="683.8" y="96.0" width="22.3" height="2.8" fill="#fae3a4"/>
<rect x="705.8" y="96.0" width="22.3" height="2.8" fill="#f4f8d1"/>
<rect x="727.9" y="96.0" width="22.3" height="2.8" fill="#edf5e0"/>
<rect x="749.9" y="96.0" width="22.3" height="2.8" fill="#deeef0"/>
<rect x="771.9" y="96.0" width="22.3" height="2.8" fill="#dcedef"/>
<rect x="617.8" y="98.5" width="22.3" height="2.8" fill="#f9bd8a"/>
<rect x="639.8" y="98.5" width="22.3" height="2.8" fill="#f9c590"/>
<rect x="661.8" y="98.5" width="22.3" height="2.8" fill="#e16a5b"/>
<rect x="683.8" y="98.5" width="22.3" height="2.8" fill="#fae4a6"/>
<rect x="705.8" y="98.5" width="22.3" height="2.8" fill="#eef5dd"/>
<rect x="727.9" y="98.5" width="22.3" height="2.8" fill="#f2f7d7"/>
<rect x="749.9" y="98.5" width="22.3" height="2.8" fill="#e5f2ee"/>
<rect x="771.9" y="98.5" width="22.3" height="2.8" fill="#d2e6eb"/>
<rect x="617.8" y="101.0" width="22.3" height="2.8" fill="#fae8ab"/>
<rect x="639.8" y="101.0" width="22.3" height="2.8" fill="#f8b988"/>
<rect x="661.8" y="101.0" width="22.3" height="2.8" fill="#f8a47a"/>
<rect x="683.8" y="101.0" width="22.3" height="2.8" fill="#fae7aa"/>
<rect x="705.8" y="101.0" width="22.3" height="2.8" fill="#edf5df"/>
<rect x="727.9" y="101.0" width="22.3" height="2.8" fill="#f6f9ce"/>
<rect x="749.9" y="101.0" width="22.3" height="2.8" fill="#e1f0f1"/>
<rect x="771.9" y="101.0" width="22.3" height="2.8" fill="#e8f3e8"/>
<rect x="617.8" y="103.5" width="22.3" height="2.8" fill="#f9dea0"/>
<rect x="639.8" y="103.5" width="22.3" height="2.8" fill="#fae7a9"/>
<rect x="661.8" y="103.5" width="22.3" height="2.8" fill="#f8b182"/>
<rect x="683.8" y="103.5" width="22.3" height="2.8" fill="#faeeb4"/>
<rect x="705.8" y="103.5" width="22.3" height="2.8" fill="#f4f8d3"/>
<rect x="727.9" y="103.5" width="22.3" height="2.8" fill="#dcecef"/>
<rect x="749.9" y="103.5" width="22.3" height="2.8" fill="#e5f2ed"/>
<rect x="771.9" y="103.5" width="22.3" height="2.8" fill="#dfeff0"/>
<rect x="617.8" y="106.0" width="22.3" height="2.8" fill="#fae8ab"/>
<rect x="639.8" y="106.0" width="22.3" height="2.8" fill="#f9db9e"/>
<rect x="661.8" y="106.0" width="22.3" height="2.8" fill="#f9d197"/>
<rect x="683.8" y="106.0" width="22.3" height="2.8" fill="#fae5a6"/>
<rect x="705.8" y="106.0" width="22.3" height="2.8" fill="#ebf4e2"/>
<rect x="727.9" y="106.0" width="22.3" height="2.8" fill="#eef6dd"/>
<rect x="749.9" y="106.0" width="22.3" height="2.8" fill="#e7f3eb"/>
<rect x="771.9" y="106.0" width="22.3" height="2.8" fill="#eef5dd"/>
<rect x="617.8" y="108.5" width="22.3" height="2.8" fill="#e6f2ed"/>
<rect x="639.8" y="108.5" width="22.3" height="2.8" fill="#e3f1f1"/>
<rect x="661.8" y="108.5" width="22.3" height="2.8" fill="#d8eaed"/>
<rect x="683.8" y="108.5" width="22.3" height="2.8" fill="#deeef0"/>
<rect x="705.8" y="108.5" width="22.3" height="2.8" fill="#ec876b"/>
<rect x="727.9" y="108.5" width="22.3" height="2.8" fill="#f9c992"/>
<rect x="749.9" y="108.5" width="22.3" height="2.8" fill="#faf4bd"/>
<rect x="771.9" y="108.5" width="22.3" height="2.8" fill="#fae6a8"/>
<rect x="617.8" y="111.0" width="22.3" height="2.8" fill="#e3f1f1"/>
<rect x="639.8" y="111.0" width="22.3" height="2.8" fill="#f2f7d5"/>
<rect x="661.8" y="111.0" width="22.3" height="2.8" fill="#eff6db"/>
<rect x="683.8" y="111.0" width="22.3" height="2.8" fill="#d5e8ec"/>
<rect x="705.8" y="111.0" width="22.3" height="2.8" fill="#f8a47a"/>
<rect x="727.9" y="111.0" width="22.3" height="2.8" fill="#f9bd8a"/>
<rect x="749.9" y="111.0" width="22.3" height="2.8" fill="#fae8aa"/>
<rect x="771.9" y="111.0" width="22.3" height="2.8" fill="#f8faca"/>
<rect x="617.8" y="113.5" width="22.3" height="2.8" fill="#f1f7d7"/>
<rect x="639.8" y="113.5" width="22.3" height="2.8" fill="#e9f4e6"/>
<rect x="661.8" y="113.5" width="22.3" height="2.8" fill="#e6f2ed"/>
<rect x="683.8" y="113.5" width="22.3" height="2.8" fill="#e5f2ed"/>
<rect x="705.8" y="113.5" width="22.3" height="2.8" fill="#f8af81"/>
<rect x="727.9" y="113.5" width="22.3" height="2.8" fill="#fae4a5"/>
<rect x="749.9" y="113.5" width="22.3" height="2.8" fill="#f8faca"/>
<rect x="771.9" y="113.5" width="22.3" height="2.8" fill="#faeeb4"/>
<rect x="617.8" y="116.0" width="22.3" height="2.8" fill="#fafac8"/>
<rect x="639.8" y="116.0" width="22.3" height="2.8" fill="#faf2ba"/>
<rect x="661.8" y="116.0" width="22.3" height="2.8" fill="#e6f2ec"/>
<rect x="683.8" y="116.0" width="22.3" height="2.8" fill="#d1e5eb"/>
<rect x="705.8" y="116.0" width="22.3" height="2.8" fill="#f8a47a"/>
<rect x="727.9" y="116.0" width="22.3" height="2.8" fill="#f8a57a"/>
<rect x="749.9" y="116.0" width="22.3" height="2.8" fill="#faedb3"/>
<rect x="771.9" y="116.0" width="22.3" height="2.8" fill="#faf8c3"/>
<rect x="617.8" y="118.5" width="22.3" height="2.8" fill="#f0f6d9"/>
<rect x="639.8" y="118.5" width="22.3" height="2.8" fill="#f1f7d8"/>
<rect x="661.8" y="118.5" width="22.3" height="2.8" fill="#d0e5eb"/>
<rect x="683.8" y="118.5" width="22.3" height="2.8" fill="#e6f2ed"/>
<rect x="705.8" y="118.5" width="22.3" height="2.8" fill="#f29773"/>
<rect x="727.9" y="118.5" width="22.3" height="2.8" fill="#f9cd95"/>
<rect x="749.9" y="118.5" width="22.3" height="2.8" fill="#faf5bf"/>
<rect x="771.9" y="118.5" width="22.3" height="2.8" fill="#faf1b8"/>
<rect x="617.8" y="121.0" width="22.3" height="2.8" fill="#e4f2f0"/>
<rect x="639.8" y="121.0" width="22.3" height="2.8" fill="#e5f2ee"/>
<rect x="661.8" y="121.0" width="22.3" height="2.8" fill="#f5f8d0"/>
<rect x="683.8" y="121.0" width="22.3" height="2.8" fill="#edf5df"/>
<rect x="705.8" y="121.0" width="22.3" height="2.8" fill="#f9ba89"/>
<rect x="727.9" y="121.0" width="22.3" height="2.8" fill="#fae9ad"/>
<rect x="749.9" y="121.0" width="22.3" height="2.8" fill="#faf3bc"/>
<rect x="771.9" y="121.0" width="22.3" height="2.8" fill="#faebb0"/>
<rect x="617.8" y="123.5" width="22.3" height="2.8" fill="#d7e9ed"/>
<rect x="639.8" y="123.5" width="22.3" height="2.8" fill="#f5f8d0"/>
<rect x="661.8" y="123.5" width="22.3" height="2.8" fill="#e6f2ed"/>
<rect x="683.8" y="123.5" width="22.3" height="2.8" fill="#edf5df"/>
<rect x="705.8" y="123.5" width="22.3" height="2.8" fill="#f9c791"/>
<rect x="727.9" y="123.5" width="22.3" height="2.8" fill="#f9cc94"/>
<rect x="749.9" y="123.5" width="22.3" height="2.8" fill="#fae8ac"/>
<rect x="771.9" y="123.5" width="22.3" height="2.8" fill="#faf5bf"/>
<rect x="617.8" y="126.0" width="22.3" height="2.8" fill="#f6f8cf"/>
<rect x="639.8" y="126.0" width="22.3" height="2.8" fill="#e6f2ec"/>
<rect x="661.8" y="126.0" width="22.3" height="2.8" fill="#deeef0"/>
<rect x="683.8" y="126.0" width="22.3" height="2.8" fill="#f0f6da"/>
<rect x="705.8" y="126.0" width="22.3" height="2.8" fill="#f9db9e"/>
<rect x="727.9" y="126.0" width="22.3" height="2.8" fill="#f9d89c"/>
<rect x="749.9" y="126.0" width="22.3" height="2.8" fill="#faebaf"/>
<rect x="771.9" y="126.0" width="22.3" height="2.8" fill="#fae8ab"/>
<rect x="617.8" y="128.5" width="22.3" height="2.8" fill="#cde3e9"/>
<rect x="639.8" y="128.5" width="22.3" height="2.8" fill="#f0f6d9"/>
<rect x="661.8" y="128.5" width="22.3" height="2.8" fill="#f8f9cb"/>
<rect x="683.8" y="128.5" width="22.3" height="2.8" fill="#f4f8d3"/>
<rect x="705.8" y="128.5" width="22.3" height="2.8" fill="#f9c992"/>
<rect x="727.9" y="128.5" width="22.3" height="2.8" fill="#f8af81"/>
<rect x="749.9" y="128.5" width="22.3" height="2.8" fill="#f9fac9"/>
<rect x="771.9" y="128.5" width="22.3" height="2.8" fill="#faf4be"/>
<rect x="617.8" y="131.0" width="22.3" height="2.8" fill="#e7f3ea"/>
<rect x="639.8" y="131.0" width="22.3" height="2.8" fill="#ebf4e3"/>
<rect x="661.8" y="131.0" width="22.3" height="2.8" fill="#f2f7d5"/>
<rect x="683.8" y="131.0" width="22.3" height="2.8" fill="#e8f3e8"/>
<rect x="705.8" y="131.0" width="22.3" height="2.8" fill="#fae3a4"/>
<rect x="727.9" y="131.0" width="22.3" height="2.8" fill="#f8b887"/>
<rect x="749.9" y="131.0" width="22.3" height="2.8" fill="#faf6c0"/>
<rect x="771.9" y="131.0" width="22.3" height="2.8" fill="#faf3bc"/>
<rect x="617.8" y="133.4" width="22.3" height="2.8" fill="#e6f2ec"/>
<rect x="639.8" y="133.4" width="22.3" height="2.8" fill="#e4f2ef"/>
<rect x="661.8" y="133.4" width="22.3" height="2.8" fill="#e7f3eb"/>
<rect x="683.8" y="133.4" width="22.3" height="2.8" fill="#faf9c4"/>
<rect x="705.8" y="133.4" width="22.3" height="2.8" fill="#f9d198"/>
<rect x="727.9" y="133.4" width="22.3" height="2.8" fill="#f59c76"/>
<rect x="749.9" y="133.4" width="22.3" height="2.8" fill="#faecb1"/>
<rect x="771.9" y="133.4" width="22.3" height="2.8" fill="#faecb1"/>
<rect x="617.8" y="135.9" width="22.3" height="2.8" fill="#f0f6da"/>
<rect x="639.8" y="135.9" width="22.3" height="2.8" fill="#d2e6eb"/>
<rect x="661.8" y="135.9" width="22.3" height="2.8" fill="#e0eff0"/>
<rect x="683.8" y="135.9" width="22.3" height="2.8" fill="#ebf4e3"/>
<rect x="705.8" y="135.9" width="22.3" height="2.8" fill="#f8b988"/>
<rect x="727.9" y="135.9" width="22.3" height="2.8" fill="#f8a57b"/>
<rect x="749.9" y="135.9" width="22.3" height="2.8" fill="#faf4bd"/>
<rect x="771.9" y="135.9" width="22.3" height="2.8" fill="#faf2ba"/>
<rect x="617.8" y="138.4" width="22.3" height="2.8" fill="#e7f3ea"/>
<rect x="639.8" y="138.4" width="22.3" height="2.8" fill="#eef6dd"/>
<rect x="661.8" y="138.4" width="22.3" height="2.8" fill="#eef6dd"/>
<rect x="683.8" y="138.4" width="22.3" height="2.8" fill="#e7f3ea"/>
<rect x="705.8" y="138.4" width="22.3" height="2.8" fill="#f9d69b"/>
<rect x="727.9" y="138.4" width="22.3" height="2.8" fill="#f9e3a3"/>
<rect x="749.9" y="138.4" width="22.3" height="2.8" fill="#fae9ad"/>
<rect x="771.9" y="138.4" width="22.3" height="2.8" fill="#fae8ab"/>
<rect x="617.8" y="140.9" width="22.3" height="2.8" fill="#f1f7d8"/>
<rect x="639.8" y="140.9" width="22.3" height="2.8" fill="#f3f8d4"/>
<rect x="661.8" y="140.9" width="22.3" height="2.8" fill="#f0f6da"/>
<rect x="683.8" y="140.9" width="22.3" height="2.8" fill="#eaf4e5"/>
<rect x="705.8" y="140.9" width="22.3" height="2.8" fill="#f8b585"/>
<rect x="727.9" y="140.9" width="22.3" height="2.8" fill="#fae5a6"/>
<rect x="749.9" y="140.9" width="22.3" height="2.8" fill="#faf4bd"/>
<rect x="771.9" y="140.9" width="22.3" height="2.8" fill="#faf8c3"/>
<rect x="617.8" y="143.4" width="22.3" height="2.8" fill="#eff6dc"/>
<rect x="639.8" y="143.4" width="22.3" height="2.8" fill="#e8f3e9"/>
<rect x="661.8" y="143.4" width="22.3" height="2.8" fill="#e8f3e8"/>
<rect x="683.8" y="143.4" width="22.3" height="2.8" fill="#edf5df"/>
<rect x="705.8" y="143.4" width="22.3" height="2.8" fill="#f8a67b"/>
<rect x="727.9" y="143.4" width="22.3" height="2.8" fill="#f9e2a3"/>
<rect x="749.9" y="143.4" width="22.3" height="2.8" fill="#fafac6"/>
<rect x="771.9" y="143.4" width="22.3" height="2.8" fill="#faebb0"/>
<rect x="617.8" y="145.9" width="22.3" height="2.8" fill="#dbecef"/>
<rect x="639.8" y="145.9" width="22.3" height="2.8" fill="#f0f6da"/>
<rect x="661.8" y="145.9" width="22.3" height="2.8" fill="#e4f2ef"/>
<rect x="683.8" y="145.9" width="22.3" height="2.8" fill="#e9f4e6"/>
<rect x="705.8" y="145.9" width="22.3" height="2.8" fill="#fae6a8"/>
<rect x="727.9" y="145.9" width="22.3" height="2.8" fill="#f9c18d"/>
<rect x="749.9" y="145.9" width="22.3" height="2.8" fill="#faf6c1"/>
<rect x="771.9" y="145.9" width="22.3" height="2.8" fill="#faf9c5"/>
<rect x="617.8" y="148.4" width="22.3" height="2.8" fill="#fafac8"/>
<rect x="639.8" y="148.4" width="22.3" height="2.8" fill="#f2f7d6"/>
<rect x="661.8" y="148.4" width="22.3" height="2.8" fill="#faefb6"/>
<rect x="683.8" y="148.4" width="22.3" height="2.8" fill="#edf5df"/>
<rect x="705.8" y="148.4" width="22.3" height="2.8" fill="#f9cb94"/>
<rect x="727.9" y="148.4" width="22.3" height="2.8" fill="#f9ce96"/>
<rect x="749.9" y="148.4" width="22.3" height="2.8" fill="#fae5a7"/>
<rect x="771.9" y="148.4" width="22.3" height="2.8" fill="#faf2bb"/>
<rect x="617.8" y="150.9" width="22.3" height="2.8" fill="#ecf5e0"/>
<rect x="639.8" y="150.9" width="22.3" height="2.8" fill="#f1f6d9"/>
<rect x="661.8" y="150.9" width="22.3" height="2.8" fill="#dfeff0"/>
<rect x="683.8" y="150.9" width="22.3" height="2.8" fill="#ebf4e3"/>
<rect x="705.8" y="150.9" width="22.3" height="2.8" fill="#f9cf96"/>
<rect x="727.9" y="150.9" width="22.3" height="2.8" fill="#fae6a8"/>
<rect x="749.9" y="150.9" width="22.3" height="2.8" fill="#faebb0"/>
<rect x="771.9" y="150.9" width="22.3" height="2.8" fill="#faedb2"/>
<rect x="617.8" y="153.4" width="22.3" height="2.8" fill="#e9f4e6"/>
<rect x="639.8" y="153.4" width="22.3" height="2.8" fill="#e5f2ee"/>
<rect x="661.8" y="153.4" width="22.3" height="2.8" fill="#c8e0e8"/>
<rect x="683.8" y="153.4" width="22.3" height="2.8" fill="#eef5dd"/>
<rect x="705.8" y="153.4" width="22.3" height="2.8" fill="#f9c690"/>
<rect x="727.9" y="153.4" width="22.3" height="2.8" fill="#faeaae"/>
<rect x="749.9" y="153.4" width="22.3" height="2.8" fill="#faf3bb"/>
<rect x="771.9" y="153.4" width="22.3" height="2.8" fill="#f6f9cf"/>
<rect x="617.8" y="155.9" width="22.3" height="2.8" fill="#ecf5e1"/>
<rect x="639.8" y="155.9" width="22.3" height="2.8" fill="#f2f7d6"/>
<rect x="661.8" y="155.9" width="22.3" height="2.8" fill="#f2f7d7"/>
<rect x="683.8" y="155.9" width="22.3" height="2.8" fill="#edf5df"/>
<rect x="705.8" y="155.9" width="22.3" height="2.8" fill="#faf4be"/>
<rect x="727.9" y="155.9" width="22.3" height="2.8" fill="#f1f7d8"/>
<rect x="749.9" y="155.9" width="22.3" height="2.8" fill="#faeaae"/>
<rect x="771.9" y="155.9" width="22.3" height="2.8" fill="#faebaf"/>
<rect x="617.8" y="158.4" width="22.3" height="2.8" fill="#eaf4e4"/>
<rect x="639.8" y="158.4" width="22.3" height="2.8" fill="#f3f8d4"/>
<rect x="661.8" y="158.4" width="22.3" height="2.8" fill="#f4f8d3"/>
<rect x="683.8" y="158.4" width="22.3" height="2.8" fill="#f8faca"/>
<rect x="705.8" y="158.4" width="22.3" height="2.8" fill="#eaf4e5"/>
<rect x="727.9" y="158.4" width="22.3" height="2.8" fill="#faf7c2"/>
<rect x="749.9" y="158.4" width="22.3" height="2.8" fill="#fae8ab"/>
<rect x="771.9" y="158.4" width="22.3" height="2.8" fill="#f9bb89"/>
<rect x="617.8" y="160.9" width="22.3" height="2.8" fill="#f4f8d2"/>
<rect x="639.8" y="160.9" width="22.3" height="2.8" fill="#e3f1f1"/>
<rect x="661.8" y="160.9" width="22.3" height="2.8" fill="#f2f7d6"/>
<rect x="683.8" y="160.9" width="22.3" height="2.8" fill="#e7f3ea"/>
<rect x="705.8" y="160.9" width="22.3" height="2.8" fill="#c5dde6"/>
<rect x="727.9" y="160.9" width="22.3" height="2.8" fill="#f9fac8"/>
<rect x="749.9" y="160.9" width="22.3" height="2.8" fill="#fae8aa"/>
<rect x="771.9" y="160.9" width="22.3" height="2.8" fill="#fae7aa"/>
<rect x="617.8" y="163.4" width="22.3" height="2.8" fill="#e8f3e9"/>
<rect x="639.8" y="163.4" width="22.3" height="2.8" fill="#f9d197"/>
<rect x="661.8" y="163.4" width="22.3" height="2.8" fill="#f7f9cd"/>
<rect x="683.8" y="163.4" width="22.3" height="2.8" fill="#ebf4e4"/>
<rect x="705.8" y="163.4" width="22.3" height="2.8" fill="#d4e7ec"/>
<rect x="727.9" y="163.4" width="22.3" height="2.8" fill="#faf6c0"/>
<rect x="749.9" y="163.4" width="22.3" height="2.8" fill="#fae8ab"/>
<rect x="771.9" y="163.4" width="22.3" height="2.8" fill="#fae7a9"/>
<rect x="617.8" y="165.9" width="22.3" height="2.8" fill="#f8f9cb"/>
<rect x="639.8" y="165.9" width="22.3" height="2.8" fill="#f9dda0"/>
<rect x="661.8" y="165.9" width="22.3" height="2.8" fill="#d9ebee"/>
<rect x="683.8" y="165.9" width="22.3" height="2.8" fill="#e5f2ed"/>
<rect x="705.8" y="165.9" width="22.3" height="2.8" fill="#f9fac9"/>
<rect x="727.9" y="165.9" width="22.3" height="2.8" fill="#f2f7d5"/>
<rect x="749.9" y="165.9" width="22.3" height="2.8" fill="#faecb1"/>
<rect x="771.9" y="165.9" width="22.3" height="2.8" fill="#f9c590"/>
<rect x="617.8" y="168.4" width="22.3" height="2.8" fill="#ebf4e3"/>
<rect x="639.8" y="168.4" width="22.3" height="2.8" fill="#f0f6da"/>
<rect x="661.8" y="168.4" width="22.3" height="2.8" fill="#faf4bd"/>
<rect x="683.8" y="168.4" width="22.3" height="2.8" fill="#ebf4e3"/>
<rect x="705.8" y="168.4" width="22.3" height="2.8" fill="#f1f7d8"/>
<rect x="727.9" y="168.4" width="22.3" height="2.8" fill="#faf7c2"/>
<rect x="749.9" y="168.4" width="22.3" height="2.8" fill="#faeeb4"/>
<rect x="771.9" y="168.4" width="22.3" height="2.8" fill="#f9c992"/>
<rect x="617.8" y="170.9" width="22.3" height="2.8" fill="#e1f0f1"/>
<rect x="639.8" y="170.9" width="22.3" height="2.8" fill="#ecf5e1"/>
<rect x="661.8" y="170.9" width="22.3" height="2.8" fill="#dfeff0"/>
<rect x="683.8" y="170.9" width="22.3" height="2.8" fill="#ecf5e1"/>
<rect x="705.8" y="170.9" width="22.3" height="2.8" fill="#f7f9cd"/>
<rect x="727.9" y="170.9" width="22.3" height="2.8" fill="#fafac8"/>
<rect x="749.9" y="170.9" width="22.3" height="2.8" fill="#f9dea0"/>
<rect x="771.9" y="170.9" width="22.3" height="2.8" fill="#f9d89c"/>
<rect x="617.8" y="173.4" width="22.3" height="2.8" fill="#f4f8d2"/>
<rect x="639.8" y="173.4" width="22.3" height="2.8" fill="#f1f7d7"/>
<rect x="661.8" y="173.4" width="22.3" height="2.8" fill="#e7f3ea"/>
<rect x="683.8" y="173.4" width="22.3" height="2.8" fill="#e2f0f1"/>
<rect x="705.8" y="173.4" width="22.3" height="2.8" fill="#faf3bc"/>
<rect x="727.9" y="173.4" width="22.3" height="2.8" fill="#fae7a9"/>
<rect x="749.9" y="173.4" width="22.3" height="2.8" fill="#f9e0a2"/>
<rect x="771.9" y="173.4" width="22.3" height="2.8" fill="#faecb1"/>
<rect x="617.8" y="175.9" width="22.3" height="2.8" fill="#e3f1f1"/>
<rect x="639.8" y="175.9" width="22.3" height="2.8" fill="#e9f4e6"/>
<rect x="661.8" y="175.9" width="22.3" height="2.8" fill="#edf5df"/>
<rect x="683.8" y="175.9" width="22.3" height="2.8" fill="#f7f9cd"/>
<rect x="705.8" y="175.9" width="22.3" height="2.8" fill="#faf6c0"/>
<rect x="727.9" y="175.9" width="22.3" height="2.8" fill="#f6f9ce"/>
<rect x="749.9" y="175.9" width="22.3" height="2.8" fill="#f9d499"/>
<rect x="771.9" y="175.9" width="22.3" height="2.8" fill="#fae7a9"/>
<rect x="617.8" y="178.4" width="22.3" height="2.8" fill="#e1f0f1"/>
<rect x="639.8" y="178.4" width="22.3" height="2.8" fill="#e8f3e8"/>
<rect x="661.8" y="178.4" width="22.3" height="2.8" fill="#eef6dd"/>
<rect x="683.8" y="178.4" width="22.3" height="2.8" fill="#f3f8d3"/>
<rect x="705.8" y="178.4" width="22.3" height="2.8" fill="#faf1b8"/>
<rect x="727.9" y="178.4" width="22.3" height="2.8" fill="#faf9c4"/>
<rect x="749.9" y="178.4" width="22.3" height="2.8" fill="#f9d399"/>
<rect x="771.9" y="178.4" width="22.3" height="2.8" fill="#fae7a9"/>
<rect x="617.8" y="180.9" width="22.3" height="2.8" fill="#faf7c1"/>
<rect x="639.8" y="180.9" width="22.3" height="2.8" fill="#e8f3e9"/>
<rect x="661.8" y="180.9" width="22.3" height="2.8" fill="#ecf5e2"/>
<rect x="683.8" y="180.9" width="22.3" height="2.8" fill="#f5f8d0"/>
<rect x="705.8" y="180.9" width="22.3" height="2.8" fill="#faf8c3"/>
<rect x="727.9" y="180.9" width="22.3" height="2.8" fill="#faefb5"/>
<rect x="749.9" y="180.9" width="22.3" height="2.8" fill="#f9d59a"/>
<rect x="771.9" y="180.9" width="22.3" height="2.8" fill="#faeaad"/>
<rect x="617.8" y="183.4" width="22.3" height="2.8" fill="#deeef0"/>
<rect x="639.8" y="183.4" width="22.3" height="2.8" fill="#e9f4e6"/>
<rect x="661.8" y="183.4" width="22.3" height="2.8" fill="#faf4bd"/>
<rect x="683.8" y="183.4" width="22.3" height="2.8" fill="#f0f6d9"/>
<rect x="705.8" y="183.4" width="22.3" height="2.8" fill="#faf1b8"/>
<rect x="727.9" y="183.4" width="22.3" height="2.8" fill="#faf2bb"/>
<rect x="749.9" y="183.4" width="22.3" height="2.8" fill="#f9ca93"/>
<rect x="771.9" y="183.4" width="22.3" height="2.8" fill="#fae9ac"/>
<rect x="617.8" y="185.9" width="22.3" height="2.8" fill="#eaf4e4"/>
<rect x="639.8" y="185.9" width="22.3" height="2.8" fill="#f9fac9"/>
<rect x="661.8" y="185.9" width="22.3" height="2.8" fill="#ecf5e1"/>
<rect x="683.8" y="185.9" width="22.3" height="2.8" fill="#dcedef"/>
<rect x="705.8" y="185.9" width="22.3" height="2.8" fill="#faf7c2"/>
<rect x="727.9" y="185.9" width="22.3" height="2.8" fill="#f6f9cf"/>
<rect x="749.9" y="185.9" width="22.3" height="2.8" fill="#f9dfa1"/>
<rect x="771.9" y="185.9" width="22.3" height="2.8" fill="#faecb2"/>
<rect x="617.8" y="188.4" width="22.3" height="2.8" fill="#e4f2f0"/>
<rect x="639.8" y="188.4" width="22.3" height="2.8" fill="#eef6dd"/>
<rect x="661.8" y="188.4" width="22.3" height="2.8" fill="#faf9c5"/>
<rect x="683.8" y="188.4" width="22.3" height="2.8" fill="#ebf4e3"/>
<rect x="705.8" y="188.4" width="22.3" height="2.8" fill="#faf4be"/>
<rect x="727.9" y="188.4" width="22.3" height="2.8" fill="#fafac7"/>
<rect x="749.9" y="188.4" width="22.3" height="2.8" fill="#fae4a5"/>
<rect x="771.9" y="188.4" width="22.3" height="2.8" fill="#f9d89c"/>
<rect x="617.8" y="190.9" width="22.3" height="2.8" fill="#f8f9cc"/>
<rect x="639.8" y="190.9" width="22.3" height="2.8" fill="#e4f1f0"/>
<rect x="661.8" y="190.9" width="22.3" height="2.8" fill="#fafac8"/>
<rect x="683.8" y="190.9" width="22.3" height="2.8" fill="#ebf4e3"/>
<rect x="705.8" y="190.9" width="22.3" height="2.8" fill="#faf8c4"/>
<rect x="727.9" y="190.9" width="22.3" height="2.8" fill="#fae7a9"/>
<rect x="749.9" y="190.9" width="22.3" height="2.8" fill="#fae8ab"/>
<rect x="771.9" y="190.9" width="22.3" height="2.8" fill="#f9c28e"/>
<rect x="617.8" y="193.4" width="22.3" height="2.8" fill="#f4f8d2"/>
<rect x="639.8" y="193.4" width="22.3" height="2.8" fill="#e9f3e7"/>
<rect x="661.8" y="193.4" width="22.3" height="2.8" fill="#f3f7d5"/>
<rect x="683.8" y="193.4" width="22.3" height="2.8" fill="#f1f7d8"/>
<rect x="705.8" y="193.4" width="22.3" height="2.8" fill="#faf7c1"/>
<rect x="727.9" y="193.4" width="22.3" height="2.8" fill="#e7f3ea"/>
<rect x="749.9" y="193.4" width="22.3" height="2.8" fill="#fae9ad"/>
<rect x="771.9" y="193.4" width="22.3" height="2.8" fill="#fae8ab"/>
<rect x="617.8" y="195.9" width="22.3" height="2.8" fill="#e3f1f1"/>
<rect x="639.8" y="195.9" width="22.3" height="2.8" fill="#faf5be"/>
<rect x="661.8" y="195.9" width="22.3" height="2.8" fill="#edf5e0"/>
<rect x="683.8" y="195.9" width="22.3" height="2.8" fill="#e8f3e8"/>
<rect x="705.8" y="195.9" width="22.3" height="2.8" fill="#faf8c3"/>
<rect x="727.9" y="195.9" width="22.3" height="2.8" fill="#f4f8d2"/>
<rect x="749.9" y="195.9" width="22.3" height="2.8" fill="#faedb2"/>
<rect x="771.9" y="195.9" width="22.3" height="2.8" fill="#fae6a8"/>
<rect x="617.8" y="198.4" width="22.3" height="2.8" fill="#eff6dc"/>
<rect x="639.8" y="198.4" width="22.3" height="2.8" fill="#edf5df"/>
<rect x="661.8" y="198.4" width="22.3" height="2.8" fill="#eef5dd"/>
<rect x="683.8" y="198.4" width="22.3" height="2.8" fill="#dbecef"/>
<rect x="705.8" y="198.4" width="22.3" height="2.8" fill="#faf1b9"/>
<rect x="727.9" y="198.4" width="22.3" height="2.8" fill="#f4f8d2"/>
<rect x="749.9" y="198.4" width="22.3" height="2.8" fill="#fae5a6"/>
<rect x="771.9" y="198.4" width="22.3" height="2.8" fill="#faeeb4"/>
<rect x="617.8" y="200.9" width="22.3" height="2.8" fill="#e8f3e8"/>
<rect x="639.8" y="200.9" width="22.3" height="2.8" fill="#f3f7d5"/>
<rect x="661.8" y="200.9" width="22.3" height="2.8" fill="#e5f2ee"/>
<rect x="683.8" y="200.9" width="22.3" height="2.8" fill="#faf5bf"/>
<rect x="705.8" y="200.9" width="22.3" height="2.8" fill="#faf6c0"/>
<rect x="727.9" y="200.9" width="22.3" height="2.8" fill="#fafac8"/>
<rect x="749.9" y="200.9" width="22.3" height="2.8" fill="#faecb2"/>
<rect x="771.9" y="200.9" width="22.3" height="2.8" fill="#f9ca93"/>
<rect x="617.8" y="203.4" width="22.3" height="2.8" fill="#f9ba88"/>
<rect x="639.8" y="203.4" width="22.3" height="2.8" fill="#e6f2ec"/>
<rect x="661.8" y="203.4" width="22.3" height="2.8" fill="#ebf4e4"/>
<rect x="683.8" y="203.4" width="22.3" height="2.8" fill="#f0f6d9"/>
<rect x="705.8" y="203.4" width="22.3" height="2.8" fill="#fafac6"/>
<rect x="727.9" y="203.4" width="22.3" height="2.8" fill="#f1f7d8"/>
<rect x="749.9" y="203.4" width="22.3" height="2.8" fill="#faf0b7"/>
<rect x="771.9" y="203.4" width="22.3" height="2.8" fill="#faedb2"/>
<rect x="617.8" y="205.9" width="22.3" height="2.8" fill="#ecf5e0"/>
<rect x="639.8" y="205.9" width="22.3" height="2.8" fill="#ecf5e2"/>
<rect x="661.8" y="205.9" width="22.3" height="2.8" fill="#eff6dc"/>
<rect x="683.8" y="205.9" width="22.3" height="2.8" fill="#faf3bb"/>
<rect x="705.8" y="205.9" width="22.3" height="2.8" fill="#fae7aa"/>
<rect x="727.9" y="205.9" width="22.3" height="2.8" fill="#f2f7d6"/>
<rect x="749.9" y="205.9" width="22.3" height="2.8" fill="#fae4a5"/>
<rect x="771.9" y="205.9" width="22.3" height="2.8" fill="#fae6a8"/>
<rect x="617.8" y="208.4" width="22.3" height="2.8" fill="#ebf4e2"/>
<rect x="639.8" y="208.4" width="22.3" height="2.8" fill="#f9fac8"/>
<rect x="661.8" y="208.4" width="22.3" height="2.8" fill="#ecf5e1"/>
<rect x="683.8" y="208.4" width="22.3" height="2.8" fill="#e8f3e7"/>
<rect x="705.8" y="208.4" width="22.3" height="2.8" fill="#faf9c4"/>
<rect x="727.9" y="208.4" width="22.3" height="2.8" fill="#f9fac8"/>
<rect x="749.9" y="208.4" width="22.3" height="2.8" fill="#f9d097"/>
<rect x="771.9" y="208.4" width="22.3" height="2.8" fill="#f9db9e"/>
<rect x="617.8" y="210.9" width="22.3" height="2.8" fill="#dfeff0"/>
<rect x="639.8" y="210.9" width="22.3" height="2.8" fill="#edf5de"/>
<rect x="661.8" y="210.9" width="22.3" height="2.8" fill="#e8f3e8"/>
<rect x="683.8" y="210.9" width="22.3" height="2.8" fill="#f2f7d6"/>
<rect x="705.8" y="210.9" width="22.3" height="2.8" fill="#faf4bd"/>
<rect x="727.9" y="210.9" width="22.3" height="2.8" fill="#faf3bc"/>
<rect x="749.9" y="210.9" width="22.3" height="2.8" fill="#fae7aa"/>
<rect x="771.9" y="210.9" width="22.3" height="2.8" fill="#faf6c0"/>
<rect x="617.8" y="213.4" width="22.3" height="2.8" fill="#f0f6da"/>
<rect x="639.8" y="213.4" width="22.3" height="2.8" fill="#f3f7d4"/>
<rect x="661.8" y="213.4" width="22.3" height="2.8" fill="#f3f7d5"/>
<rect x="683.8" y="213.4" width="22.3" height="2.8" fill="#ddedef"/>
<rect x="705.8" y="213.4" width="22.3" height="2.8" fill="#faf5bf"/>
<rect x="727.9" y="213.4" width="22.3" height="2.8" fill="#f5f8d1"/>
<rect x="749.9" y="213.4" width="22.3" height="2.8" fill="#faecb1"/>
<rect x="771.9" y="213.4" width="22.3" height="2.8" fill="#f6a078"/>
<rect x="617.8" y="215.9" width="22.3" height="2.8" fill="#e5f2ee"/>
<rect x="639.8" y="215.9" width="22.3" height="2.8" fill="#e3f1f1"/>
<rect x="661.8" y="215.9" width="22.3" height="2.8" fill="#cde3ea"/>
<rect x="683.8" y="215.9" width="22.3" height="2.8" fill="#e6f3eb"/>
<rect x="705.8" y="215.9" width="22.3" height="2.8" fill="#faecb2"/>
<rect x="727.9" y="215.9" width="22.3" height="2.8" fill="#fafac8"/>
<rect x="749.9" y="215.9" width="22.3" height="2.8" fill="#faf9c5"/>
<rect x="771.9" y="215.9" width="22.3" height="2.8" fill="#f69f77"/>
<rect x="617.8" y="218.4" width="22.3" height="2.8" fill="#fafac7"/>
<rect x="639.8" y="218.4" width="22.3" height="2.8" fill="#fafac6"/>
<rect x="661.8" y="218.4" width="22.3" height="2.8" fill="#f2f7d7"/>
<rect x="683.8" y="218.4" width="22.3" height="2.8" fill="#edf5e0"/>
<rect x="705.8" y="218.4" width="22.3" height="2.8" fill="#f6f9ce"/>
<rect x="727.9" y="218.4" width="22.3" height="2.8" fill="#f7f9ce"/>
<rect x="749.9" y="218.4" width="22.3" height="2.8" fill="#fae9ad"/>
<rect x="771.9" y="218.4" width="22.3" height="2.8" fill="#f8a47a"/>
<rect x="617.8" y="221.0" width="22.3" height="2.8" fill="#e9f4e6"/>
<rect x="639.8" y="221.0" width="22.3" height="2.8" fill="#f4f8d3"/>
<rect x="661.8" y="221.0" width="22.3" height="2.8" fill="#fafac7"/>
<rect x="683.8" y="221.0" width="22.3" height="2.8" fill="#f1f7d7"/>
<rect x="705.8" y="221.0" width="22.3" height="2.8" fill="#faf2bb"/>
<rect x="727.9" y="221.0" width="22.3" height="2.8" fill="#f8f9ca"/>
<rect x="749.9" y="221.0" width="22.3" height="2.8" fill="#faf3bc"/>
<rect x="771.9" y="221.0" width="22.3" height="2.8" fill="#f59d76"/>
<rect x="617.8" y="223.5" width="22.3" height="2.8" fill="#e4f2ef"/>
<rect x="639.8" y="223.5" width="22.3" height="2.8" fill="#faf9c5"/>
<rect x="661.8" y="223.5" width="22.3" height="2.8" fill="#ecf5e1"/>
<rect x="683.8" y="223.5" width="22.3" height="2.8" fill="#eef6dd"/>
<rect x="705.8" y="223.5" width="22.3" height="2.8" fill="#faf8c4"/>
<rect x="727.9" y="223.5" width="22.3" height="2.8" fill="#f0f6da"/>
<rect x="749.9" y="223.5" width="22.3" height="2.8" fill="#f9bf8c"/>
<rect x="771.9" y="223.5" width="22.3" height="2.8" fill="#f39873"/>
<rect x="617.8" y="226.0" width="22.3" height="2.8" fill="#e8f3e9"/>
<rect x="639.8" y="226.0" width="22.3" height="2.8" fill="#f3f8d4"/>
<rect x="661.8" y="226.0" width="22.3" height="2.8" fill="#e8f3e8"/>
<rect x="683.8" y="226.0" width="22.3" height="2.8" fill="#e8f3e9"/>
<rect x="705.8" y="226.0" width="22.3" height="2.8" fill="#faeeb4"/>
<rect x="727.9" y="226.0" width="22.3" height="2.8" fill="#faeaaf"/>
<rect x="749.9" y="226.0" width="22.3" height="2.8" fill="#faedb3"/>
<rect x="771.9" y="226.0" width="22.3" height="2.8" fill="#f39873"/>
<rect x="617.8" y="228.5" width="22.3" height="2.8" fill="#e7f3ea"/>
<rect x="639.8" y="228.5" width="22.3" height="2.8" fill="#f7f9cd"/>
<rect x="661.8" y="228.5" width="22.3" height="2.8" fill="#e8f3e8"/>
<rect x="683.8" y="228.5" width="22.3" height="2.8" fill="#f0f6da"/>
<rect x="705.8" y="228.5" width="22.3" height="2.8" fill="#faf2ba"/>
<rect x="727.9" y="228.5" width="22.3" height="2.8" fill="#faf0b8"/>
<rect x="749.9" y="228.5" width="22.3" height="2.8" fill="#fae4a4"/>
<rect x="771.9" y="228.5" width="22.3" height="2.8" fill="#f49b75"/>
<rect x="617.8" y="231.0" width="22.3" height="2.8" fill="#e3f1f1"/>
<rect x="639.8" y="231.0" width="22.3" height="2.8" fill="#f7f9cd"/>
<rect x="661.8" y="231.0" width="22.3" height="2.8" fill="#fafac6"/>
<rect x="683.8" y="231.0" width="22.3" height="2.8" fill="#f0f6da"/>
<rect x="705.8" y="231.0" width="22.3" height="2.8" fill="#fafac7"/>
<rect x="727.9" y="231.0" width="22.3" height="2.8" fill="#faf1b8"/>
<rect x="749.9" y="231.0" width="22.3" height="2.8" fill="#fae5a7"/>
<rect x="771.9" y="231.0" width="22.3" height="2.8" fill="#faf1b8"/>
<rect x="617.8" y="233.5" width="22.3" height="2.8" fill="#e9f4e6"/>
<rect x="639.8" y="233.5" width="22.3" height="2.8" fill="#faf8c3"/>
<rect x="661.8" y="233.5" width="22.3" height="2.8" fill="#ecf5e1"/>
<rect x="683.8" y="233.5" width="22.3" height="2.8" fill="#ecf5e1"/>
<rect x="705.8" y="233.5" width="22.3" height="2.8" fill="#faf8c4"/>
<rect x="727.9" y="233.5" width="22.3" height="2.8" fill="#edf5e0"/>
<rect x="749.9" y="233.5" width="22.3" height="2.8" fill="#faebaf"/>
<rect x="771.9" y="233.5" width="22.3" height="2.8" fill="#fae4a4"/>
<rect x="617.8" y="236.0" width="22.3" height="2.8" fill="#eef6dd"/>
<rect x="639.8" y="236.0" width="22.3" height="2.8" fill="#f0f6da"/>
<rect x="661.8" y="236.0" width="22.3" height="2.8" fill="#d4e8ec"/>
<rect x="683.8" y="236.0" width="22.3" height="2.8" fill="#f5f8d0"/>
<rect x="705.8" y="236.0" width="22.3" height="2.8" fill="#faf0b7"/>
<rect x="727.9" y="236.0" width="22.3" height="2.8" fill="#faf2ba"/>
<rect x="749.9" y="236.0" width="22.3" height="2.8" fill="#f9d097"/>
<rect x="771.9" y="236.0" width="22.3" height="2.8" fill="#faeaae"/>
<rect x="617.8" y="238.5" width="22.3" height="2.8" fill="#e7f3e9"/>
<rect x="639.8" y="238.5" width="22.3" height="2.8" fill="#f4f8d3"/>
<rect x="661.8" y="238.5" width="22.3" height="2.8" fill="#faf8c4"/>
<rect x="683.8" y="238.5" width="22.3" height="2.8" fill="#d5e8ec"/>
<rect x="705.8" y="238.5" width="22.3" height="2.8" fill="#faf7c3"/>
<rect x="727.9" y="238.5" width="22.3" height="2.8" fill="#f4f8d1"/>
<rect x="749.9" y="238.5" width="22.3" height="2.8" fill="#f9e0a2"/>
<rect x="771.9" y="238.5" width="22.3" height="2.8" fill="#f9cc95"/>
<rect x="617.8" y="241.0" width="22.3" height="2.8" fill="#eaf4e5"/>
<rect x="639.8" y="241.0" width="22.3" height="2.8" fill="#e7f3ea"/>
<rect x="661.8" y="241.0" width="22.3" height="2.8" fill="#eff6db"/>
<rect x="683.8" y="241.0" width="22.3" height="2.8" fill="#e9f4e7"/>
<rect x="705.8" y="241.0" width="22.3" height="2.8" fill="#f2f7d5"/>
<rect x="727.9" y="241.0" width="22.3" height="2.8" fill="#faf3bc"/>
<rect x="749.9" y="241.0" width="22.3" height="2.8" fill="#faebaf"/>
<rect x="771.9" y="241.0" width="22.3" height="2.8" fill="#f9dda0"/>
<rect x="617.8" y="243.5" width="22.3" height="2.8" fill="#dfeff0"/>
<rect x="639.8" y="243.5" width="22.3" height="2.8" fill="#fafac7"/>
<rect x="661.8" y="243.5" width="22.3" height="2.8" fill="#e3f1f1"/>
<rect x="683.8" y="243.5" width="22.3" height="2.8" fill="#f4f8d3"/>
<rect x="705.8" y="243.5" width="22.3" height="2.8" fill="#f0f6d9"/>
<rect x="727.9" y="243.5" width="22.3" height="2.8" fill="#faefb6"/>
<rect x="749.9" y="243.5" width="22.3" height="2.8" fill="#faeaad"/>
<rect x="771.9" y="243.5" width="22.3" height="2.8" fill="#faf3bc"/>
<rect x="617.8" y="246.0" width="22.3" height="2.8" fill="#eaf4e4"/>
<rect x="639.8" y="246.0" width="22.3" height="2.8" fill="#f4f8d3"/>
<rect x="661.8" y="246.0" width="22.3" height="2.8" fill="#e7f3eb"/>
<rect x="683.8" y="246.0" width="22.3" height="2.8" fill="#e7f3ea"/>
<rect x="705.8" y="246.0" width="22.3" height="2.8" fill="#faf3bc"/>
<rect x="727.9" y="246.0" width="22.3" height="2.8" fill="#f9fac9"/>
<rect x="749.9" y="246.0" width="22.3" height="2.8" fill="#f5f8d0"/>
<rect x="771.9" y="246.0" width="22.3" height="2.8" fill="#faeaae"/>
<rect x="617.8" y="248.5" width="22.3" height="2.8" fill="#f0f6da"/>
<rect x="639.8" y="248.5" width="22.3" height="2.8" fill="#f3f8d3"/>
<rect x="661.8" y="248.5" width="22.3" height="2.8" fill="#f7f9cd"/>
<rect x="683.8" y="248.5" width="22.3" height="2.8" fill="#e6f2ed"/>
<rect x="705.8" y="248.5" width="22.3" height="2.8" fill="#f9dda0"/>
<rect x="727.9" y="248.5" width="22.3" height="2.8" fill="#faf4bd"/>
<rect x="749.9" y="248.5" width="22.3" height="2.8" fill="#fae4a5"/>
<rect x="771.9" y="248.5" width="22.3" height="2.8" fill="#f9d59a"/>
<rect x="617.8" y="251.0" width="22.3" height="2.8" fill="#f4f8d2"/>
<rect x="639.8" y="251.0" width="22.3" height="2.8" fill="#f2f7d6"/>
<rect x="661.8" y="251.0" width="22.3" height="2.8" fill="#eaf4e5"/>
<rect x="683.8" y="251.0" width="22.3" height="2.8" fill="#f3f8d3"/>
<rect x="705.8" y="251.0" width="22.3" height="2.8" fill="#faf2ba"/>
<rect x="727.9" y="251.0" width="22.3" height="2.8" fill="#ebf4e3"/>
<rect x="749.9" y="251.0" width="22.3" height="2.8" fill="#faefb6"/>
<rect x="771.9" y="251.0" width="22.3" height="2.8" fill="#f9e2a3"/>
<rect x="617.8" y="253.5" width="22.3" height="2.8" fill="#edf5df"/>
<rect x="639.8" y="253.5" width="22.3" height="2.8" fill="#f3f8d4"/>
<rect x="661.8" y="253.5" width="22.3" height="2.8" fill="#f4f8d3"/>
<rect x="683.8" y="253.5" width="22.3" height="2.8" fill="#ecf5e0"/>
<rect x="705.8" y="253.5" width="22.3" height="2.8" fill="#fae9ac"/>
<rect x="727.9" y="253.5" width="22.3" height="2.8" fill="#f5f8d0"/>
<rect x="749.9" y="253.5" width="22.3" height="2.8" fill="#faeaae"/>
<rect x="771.9" y="253.5" width="22.3" height="2.8" fill="#fae4a5"/>
<rect x="617.8" y="256.0" width="22.3" height="2.8" fill="#f2f7d5"/>
<rect x="639.8" y="256.0" width="22.3" height="2.8" fill="#f7f9cc"/>
<rect x="661.8" y="256.0" width="22.3" height="2.8" fill="#fafac6"/>
<rect x="683.8" y="256.0" width="22.3" height="2.8" fill="#e7f3ea"/>
<rect x="705.8" y="256.0" width="22.3" height="2.8" fill="#faecb1"/>
<rect x="727.9" y="256.0" width="22.3" height="2.8" fill="#faf6c1"/>
<rect x="749.9" y="256.0" width="22.3" height="2.8" fill="#faefb6"/>
<rect x="771.9" y="256.0" width="22.3" height="2.8" fill="#f8aa7e"/>
<rect x="617.8" y="258.5" width="22.3" height="2.8" fill="#f3f7d5"/>
<rect x="639.8" y="258.5" width="22.3" height="2.8" fill="#edf5df"/>
<rect x="661.8" y="258.5" width="22.3" height="2.8" fill="#cfe4ea"/>
<rect x="683.8" y="258.5" width="22.3" height="2.8" fill="#e5f2ee"/>
<rect x="705.8" y="258.5" width="22.3" height="2.8" fill="#f9fac9"/>
<rect x="727.9" y="258.5" width="22.3" height="2.8" fill="#fafac6"/>
<rect x="749.9" y="258.5" width="22.3" height="2.8" fill="#f9ba88"/>
<rect x="771.9" y="258.5" width="22.3" height="2.8" fill="#f9c08c"/>
<rect x="617.8" y="261.0" width="22.3" height="2.8" fill="#e5f2ee"/>
<rect x="639.8" y="261.0" width="22.3" height="2.8" fill="#e7f3ea"/>
<rect x="661.8" y="261.0" width="22.3" height="2.8" fill="#edf5df"/>
<rect x="683.8" y="261.0" width="22.3" height="2.8" fill="#e7f3ea"/>
<rect x="705.8" y="261.0" width="22.3" height="2.8" fill="#f9d399"/>
<rect x="727.9" y="261.0" width="22.3" height="2.8" fill="#f7f9cd"/>
<rect x="749.9" y="261.0" width="22.3" height="2.8" fill="#faebb0"/>
<rect x="771.9" y="261.0" width="22.3" height="2.8" fill="#f9c38e"/>
<rect x="617.8" y="263.5" width="22.3" height="2.8" fill="#e1f0f1"/>
<rect x="639.8" y="263.5" width="22.3" height="2.8" fill="#faf9c5"/>
<rect x="661.8" y="263.5" width="22.3" height="2.8" fill="#ecf5e1"/>
<rect x="683.8" y="263.5" width="22.3" height="2.8" fill="#dcedef"/>
<rect x="705.8" y="263.5" width="22.3" height="2.8" fill="#faf3bc"/>
<rect x="727.9" y="263.5" width="22.3" height="2.8" fill="#faf6c1"/>
<rect x="749.9" y="263.5" width="22.3" height="2.8" fill="#fae9ad"/>
<rect x="771.9" y="263.5" width="22.3" height="2.8" fill="#f9ba88"/>
<rect x="617.8" y="266.0" width="22.3" height="2.8" fill="#e5f2ee"/>
<rect x="639.8" y="266.0" width="22.3" height="2.8" fill="#dcedef"/>
<rect x="661.8" y="266.0" width="22.3" height="2.8" fill="#cfe4ea"/>
<rect x="683.8" y="266.0" width="22.3" height="2.8" fill="#eaf4e4"/>
<rect x="705.8" y="266.0" width="22.3" height="2.8" fill="#faecb1"/>
<rect x="727.9" y="266.0" width="22.3" height="2.8" fill="#faf2ba"/>
<rect x="749.9" y="266.0" width="22.3" height="2.8" fill="#f9ce96"/>
<rect x="771.9" y="266.0" width="22.3" height="2.8" fill="#f9c48f"/>
<rect x="617.8" y="268.5" width="22.3" height="2.8" fill="#ecf5e0"/>
<rect x="639.8" y="268.5" width="22.3" height="2.8" fill="#fafac8"/>
<rect x="661.8" y="268.5" width="22.3" height="2.8" fill="#e1f0f1"/>
<rect x="683.8" y="268.5" width="22.3" height="2.8" fill="#f1f7d8"/>
<rect x="705.8" y="268.5" width="22.3" height="2.8" fill="#faf2bb"/>
<rect x="727.9" y="268.5" width="22.3" height="2.8" fill="#f9fac8"/>
<rect x="749.9" y="268.5" width="22.3" height="2.8" fill="#faeaae"/>
<rect x="771.9" y="268.5" width="22.3" height="2.8" fill="#faf0b7"/>
<rect x="617.8" y="271.0" width="22.3" height="2.8" fill="#edf5de"/>
<rect x="639.8" y="271.0" width="22.3" height="2.8" fill="#faf9c5"/>
<rect x="661.8" y="271.0" width="22.3" height="2.8" fill="#ecf5e2"/>
<rect x="683.8" y="271.0" width="22.3" height="2.8" fill="#eff6db"/>
<rect x="705.8" y="271.0" width="22.3" height="2.8" fill="#f9fac8"/>
<rect x="727.9" y="271.0" width="22.3" height="2.8" fill="#faf8c4"/>
<rect x="749.9" y="271.0" width="22.3" height="2.8" fill="#faefb5"/>
<rect x="771.9" y="271.0" width="22.3" height="2.8" fill="#fae3a4"/>
<rect x="617.8" y="273.5" width="22.3" height="2.8" fill="#ebf4e4"/>
<rect x="639.8" y="273.5" width="22.3" height="2.8" fill="#f4f8d3"/>
<rect x="661.8" y="273.5" width="22.3" height="2.8" fill="#eaf4e5"/>
<rect x="683.8" y="273.5" width="22.3" height="2.8" fill="#dfeff0"/>
<rect x="705.8" y="273.5" width="22.3" height="2.8" fill="#faf8c4"/>
<rect x="727.9" y="273.5" width="22.3" height="2.8" fill="#faf2ba"/>
<rect x="749.9" y="273.5" width="22.3" height="2.8" fill="#f9ca93"/>
<rect x="771.9" y="273.5" width="22.3" height="2.8" fill="#fae9ad"/>
<rect x="617.8" y="276.0" width="22.3" height="2.8" fill="#f3f7d4"/>
<rect x="639.8" y="276.0" width="22.3" height="2.8" fill="#f7f9cc"/>
<rect x="661.8" y="276.0" width="22.3" height="2.8" fill="#f2f7d6"/>
<rect x="683.8" y="276.0" width="22.3" height="2.8" fill="#d8eaed"/>
<rect x="705.8" y="276.0" width="22.3" height="2.8" fill="#faf3bc"/>
<rect x="727.9" y="276.0" width="22.3" height="2.8" fill="#f2f7d5"/>
<rect x="749.9" y="276.0" width="22.3" height="2.8" fill="#f9d399"/>
<rect x="771.9" y="276.0" width="22.3" height="2.8" fill="#f9db9e"/>
<rect x="617.8" y="278.5" width="22.3" height="2.8" fill="#f1f7d7"/>
<rect x="639.8" y="278.5" width="22.3" height="2.8" fill="#d2e6eb"/>
<rect x="661.8" y="278.5" width="22.3" height="2.8" fill="#f4f8d3"/>
<rect x="683.8" y="278.5" width="22.3" height="2.8" fill="#f1f7d8"/>
<rect x="705.8" y="278.5" width="22.3" height="2.8" fill="#f5f8d1"/>
<rect x="727.9" y="278.5" width="22.3" height="2.8" fill="#faf2bb"/>
<rect x="749.9" y="278.5" width="22.3" height="2.8" fill="#fae6a8"/>
<rect x="771.9" y="278.5" width="22.3" height="2.8" fill="#fae8ab"/>
<rect x="617.8" y="30.8" width="88.1" height="77.7" fill="none" stroke="#444" stroke-width="0.9" stroke-dasharray="2.2,1.6"/>
<rect x="705.8" y="108.5" width="44.0" height="47.4" fill="none" stroke="#444" stroke-width="0.9" stroke-dasharray="2.2,1.6"/>
<rect x="749.9" y="155.9" width="44.0" height="125.1" fill="none" stroke="#444" stroke-width="0.9" stroke-dasharray="2.2,1.6"/>
<text x="634.5" y="77.8" font-size="10" font-weight="bold" fill="#231f20" stroke="#231f20" stroke-width="0.22">Naive mature</text>
<text x="700.4" y="139.5" font-size="10" font-weight="bold" fill="#231f20" stroke="#231f20" stroke-width="0.22">Transitional</text>
<text x="749.4" y="226.8" font-size="10" font-weight="bold" fill="#231f20" stroke="#231f20" stroke-width="0.22">Immature</text>
<path d="M672.8,30.8 V24.5 H694.8 V30.8" fill="none" stroke="#333" stroke-width="0.8"/>
<path d="M650.8,30.8 V21.5 H683.8 V24.5" fill="none" stroke="#333" stroke-width="0.8"/>
<path d="M628.8,30.8 V20.5 H667.3 V21.5" fill="none" stroke="#333" stroke-width="0.8"/>
<path d="M716.9,30.8 V21.7 H738.9 V30.8" fill="none" stroke="#333" stroke-width="0.8"/>
<path d="M760.9,30.8 V19.3 H782.9 V30.8" fill="none" stroke="#333" stroke-width="0.8"/>
<path d="M727.9,21.7 V14.7 H771.9 V19.3" fill="none" stroke="#333" stroke-width="0.8"/>
<path d="M648.1,20.5 V1.8 H749.9 V14.7" fill="none" stroke="#333" stroke-width="0.8"/>
<path d="M596.6,59.2 V164.8" fill="none" stroke="#333" stroke-width="0.8"/>
<path d="M596.6,59.2 H610.4" fill="none" stroke="#333" stroke-width="0.8"/>
<path d="M610.4,30 V108" fill="none" stroke="#333" stroke-width="0.8"/>
<path d="M596.6,164.8 H608.1" fill="none" stroke="#333" stroke-width="0.8"/>
<path d="M608.1,123.2 V207.6" fill="none" stroke="#333" stroke-width="0.8"/>
<path d="M608.1,123.2 H613" fill="none" stroke="#333" stroke-width="0.8"/>
<path d="M608.1,207.6 H612.3" fill="none" stroke="#333" stroke-width="0.8"/>
<path d="M612.3,163.7 V256" fill="none" stroke="#333" stroke-width="0.8"/>
<path d="M612.3,256 H614.5" fill="none" stroke="#333" stroke-width="0.8"/>
<path d="M612.3,170 H614.5" fill="none" stroke="#333" stroke-width="0.8"/>
<path d="M610.4,30 H614" fill="none" stroke="#333" stroke-width="0.8"/>
<path d="M610.4,108 H614" fill="none" stroke="#333" stroke-width="0.8"/>
<path d="M613,112 V150" fill="none" stroke="#333" stroke-width="0.8"/>
<path d="M614,30 V108" fill="none" stroke="#333" stroke-width="0.8"/>
<path d="M617.8,31.6 H615.9 V35.1 H617.8 M617.8,36.3 H615.8 V40.7 H617.8 M617.8,42.1 H615.2 V44.0 H617.8 M617.8,45.4 H616.3 V49.0 H617.8 M617.8,49.4 H614.6 V52.5 H617.8 M617.8,53.4 H614.0 V56.8 H617.8 M617.8,57.3 H616.3 V59.9 H617.8 M617.8,61.1 H616.0 V63.3 H617.8 M617.8,63.8 H614.3 V67.3 H617.8 M617.8,67.6 H614.5 V71.7 H617.8 M617.8,72.3 H616.2 V76.7 H617.8 M617.8,77.4 H615.3 V81.8 H617.8 M617.8,82.9 H616.4 V85.2 H617.8 M617.8,86.4 H616.2 V90.8 H617.8 M617.8,91.4 H614.4 V94.2 H617.8 M617.8,94.7 H614.8 V96.7 H617.8 M617.8,97.7 H615.7 V99.5 H617.8 M617.8,100.2 H616.0 V102.8 H617.8 M617.8,103.7 H615.2 V106.4 H617.8 M617.8,107.5 H616.4 V109.5 H617.8 M617.8,109.8 H616.1 V113.6 H617.8 M617.8,113.9 H614.9 V117.9 H617.8 M617.8,118.9 H614.1 V120.7 H617.8 M617.8,121.2 H614.5 V125.6 H617.8 M617.8,126.8 H616.4 V131.1 H617.8 M617.8,131.8 H615.3 V134.6 H617.8 M617.8,135.8 H615.9 V137.9 H617.8 M617.8,139.1 H614.1 V143.3 H617.8 M617.8,144.7 H614.9 V146.7 H617.8 M617.8,147.8 H614.8 V152.1 H617.8 M617.8,153.5 H614.8 V156.7 H617.8 M617.8,157.4 H614.2 V159.7 H617.8 M617.8,160.2 H616.5 V163.8 H617.8 M617.8,164.3 H616.5 V166.3 H617.8 M617.8,167.2 H614.6 V170.1 H617.8 M617.8,171.1 H615.1 V175.1 H617.8 M617.8,175.9 H616.3 V177.9 H617.8 M617.8,178.2 H616.1 V181.4 H617.8 M617.8,181.8 H616.4 V185.6 H617.8 M617.8,186.7 H614.3 V190.6 H617.8 M617.8,191.4 H616.1 V193.6 H617.8 M617.8,194.3 H616.5 V197.3 H617.8 M617.8,198.6 H615.1 V203.0 H617.8 M617.8,203.9 H615.2 V207.7 H617.8 M617.8,208.3 H614.4 V211.2 H617.8 M617.8,212.0 H616.4 V216.5 H617.8 M617.8,217.5 H614.8 V220.7 H617.8 M617.8,221.1 H616.0 V223.6 H617.8 M617.8,224.9 H616.0 V227.7 H617.8 M617.8,228.9 H615.7 V232.6 H617.8 M617.8,233.8 H615.8 V236.6 H617.8 M617.8,237.3 H615.9 V240.4 H617.8 M617.8,241.5 H616.4 V244.1 H617.8 M617.8,245.2 H614.0 V248.5 H617.8 M617.8,249.5 H615.7 V252.0 H617.8 M617.8,252.8 H615.6 V256.8 H617.8 M617.8,258.1 H615.6 V260.8 H617.8 M617.8,262.0 H614.9 V266.0 H617.8 M617.8,267.4 H615.7 V271.5 H617.8 M617.8,273.0 H615.3 V277.4 H617.8 M617.8,278.3 H616.1 V280.5 H617.8 " fill="none" stroke="#444" stroke-width="0.5"/>
<path d="M614,30 V108 M613,112 V150 M612.3,163.7 V256" fill="none" stroke="#444" stroke-width="0.5" stroke-dasharray="2,1"/>
<defs><linearGradient id="gD" x1="0" y1="1" x2="0" y2="0"><stop offset="0" stop-color="#4575b4"/><stop offset="0.17" stop-color="#91bfdb"/><stop offset="0.33" stop-color="#e0f3f8"/><stop offset="0.5" stop-color="#ffffbf"/><stop offset="0.67" stop-color="#fee090"/><stop offset="0.83" stop-color="#fc8d59"/><stop offset="1" stop-color="#d73027"/></linearGradient></defs>
<rect x="797.2" y="30.2" width="6.0" height="77.1" fill="url(#gD)"/>
<text x="805.4" y="36.2" font-size="9.5" fill="#231f20" stroke="#231f20" stroke-width="0.22">3</text>
<text x="805.4" y="47.3" font-size="9.5" fill="#231f20" stroke="#231f20" stroke-width="0.22">2</text>
<text x="805.4" y="58.8" font-size="9.5" fill="#231f20" stroke="#231f20" stroke-width="0.22">1</text>
<text x="805.4" y="70.3" font-size="9.5" fill="#231f20" stroke="#231f20" stroke-width="0.22">0</text>
<text x="805.4" y="80.3" font-size="9.5" fill="#231f20" stroke="#231f20" stroke-width="0.22">−1</text>
<text x="805.4" y="93.7" font-size="9.5" fill="#231f20" stroke="#231f20" stroke-width="0.22">−2</text>
<text x="805.4" y="104.8" font-size="9.5" fill="#231f20" stroke="#231f20" stroke-width="0.22">−3</text>
<text x="628.8" y="288.1" font-size="10" fill="#231f20" stroke="#231f20" stroke-width="0.22" transform="rotate(90 628.8 284.5)">NKT</text>
<text x="650.8" y="288.1" font-size="10" fill="#231f20" stroke="#231f20" stroke-width="0.22" transform="rotate(90 650.8 284.5)">CCR7_T</text>
<text x="672.8" y="288.1" font-size="10" fill="#231f20" stroke="#231f20" stroke-width="0.22" transform="rotate(90 672.8 284.5)">GZMK_T</text>
<text x="694.8" y="288.1" font-size="10" fill="#231f20" stroke="#231f20" stroke-width="0.22" transform="rotate(90 694.8 284.5)">Treg</text>
<text x="716.9" y="288.1" font-size="10" fill="#231f20" stroke="#231f20" stroke-width="0.22" transform="rotate(90 716.9 284.5)">DP_T</text>
<text x="738.9" y="288.1" font-size="10" fill="#231f20" stroke="#231f20" stroke-width="0.22" transform="rotate(90 738.9 284.5)">αβ_T</text>
<text x="760.9" y="288.1" font-size="10" fill="#231f20" stroke="#231f20" stroke-width="0.22" transform="rotate(90 760.9 284.5)">DN_T</text>
<text x="782.9" y="288.1" font-size="10" fill="#231f20" stroke="#231f20" stroke-width="0.22" transform="rotate(90 782.9 284.5)">DN_DP_T</text>
<line x1="620.0" y1="332.0" x2="700.0" y2="332.0" stroke="#555" stroke-width="0.9"/>
<line x1="706.0" y1="332.0" x2="793.0" y2="332.0" stroke="#555" stroke-width="0.9"/>
<text x="660.0" y="346.1" font-size="10" text-anchor="middle" font-weight="bold" fill="#231f20" stroke="#231f20" stroke-width="0.22">Naive mature T</text>
<text x="749.5" y="346.1" font-size="10" text-anchor="middle" font-weight="bold" fill="#231f20" stroke="#231f20" stroke-width="0.22">Developing T</text>
<text x="7.3" y="388.7" font-size="20.5" font-weight="bold" fill="#231f20" stroke="#231f20" stroke-width="0.22">E</text>
<line x1="65.7" y1="380.0" x2="65.7" y2="674.0" stroke="#e6e6e6" stroke-width="0.9"/>
<line x1="86.7" y1="380.0" x2="86.7" y2="674.0" stroke="#e6e6e6" stroke-width="0.9"/>
<line x1="107.7" y1="380.0" x2="107.7" y2="674.0" stroke="#e6e6e6" stroke-width="0.9"/>
<line x1="128.7" y1="380.0" x2="128.7" y2="674.0" stroke="#e6e6e6" stroke-width="0.9"/>
<line x1="149.7" y1="380.0" x2="149.7" y2="674.0" stroke="#e6e6e6" stroke-width="0.9"/>
<line x1="170.7" y1="380.0" x2="170.7" y2="674.0" stroke="#e6e6e6" stroke-width="0.9"/>
<line x1="191.7" y1="380.0" x2="191.7" y2="674.0" stroke="#e6e6e6" stroke-width="0.9"/>
<line x1="212.7" y1="380.0" x2="212.7" y2="674.0" stroke="#e6e6e6" stroke-width="0.9"/>
<line x1="58.0" y1="672.0" x2="228.4" y2="672.0" stroke="#e6e6e6" stroke-width="0.9"/>
<line x1="58.0" y1="643.4" x2="228.4" y2="643.4" stroke="#e6e6e6" stroke-width="0.9"/>
<line x1="58.0" y1="614.8" x2="228.4" y2="614.8" stroke="#e6e6e6" stroke-width="0.9"/>
<line x1="58.0" y1="586.2" x2="228.4" y2="586.2" stroke="#e6e6e6" stroke-width="0.9"/>
<line x1="58.0" y1="557.6" x2="228.4" y2="557.6" stroke="#e6e6e6" stroke-width="0.9"/>
<line x1="58.0" y1="529.0" x2="228.4" y2="529.0" stroke="#e6e6e6" stroke-width="0.9"/>
<line x1="58.0" y1="500.4" x2="228.4" y2="500.4" stroke="#e6e6e6" stroke-width="0.9"/>
<line x1="58.0" y1="471.8" x2="228.4" y2="471.8" stroke="#e6e6e6" stroke-width="0.9"/>
<line x1="58.0" y1="443.2" x2="228.4" y2="443.2" stroke="#e6e6e6" stroke-width="0.9"/>
<line x1="58.0" y1="414.6" x2="228.4" y2="414.6" stroke="#e6e6e6" stroke-width="0.9"/>
<line x1="58.0" y1="386.0" x2="228.4" y2="386.0" stroke="#e6e6e6" stroke-width="0.9"/>
<circle cx="125.9" cy="522.5" r="3.30" fill="#bdbdbd"/>
<circle cx="125.3" cy="487.5" r="3.30" fill="#bdbdbd"/>
<circle cx="127.6" cy="518.7" r="3.30" fill="#bdbdbd"/>
<circle cx="125.7" cy="474.6" r="3.30" fill="#bdbdbd"/>
<circle cx="120.5" cy="497.2" r="3.30" fill="#bdbdbd"/>
<circle cx="120.0" cy="534.5" r="3.30" fill="#bdbdbd"/>
<circle cx="119.1" cy="491.2" r="3.30" fill="#bdbdbd"/>
<circle cx="122.7" cy="475.7" r="3.30" fill="#bdbdbd"/>
<circle cx="115.9" cy="517.4" r="3.30" fill="#bdbdbd"/>
<circle cx="128.1" cy="460.5" r="3.30" fill="#bdbdbd"/>
<circle cx="126.8" cy="469.7" r="3.30" fill="#bdbdbd"/>
<circle cx="119.3" cy="532.2" r="3.30" fill="#bdbdbd"/>
<circle cx="119.0" cy="497.7" r="3.30" fill="#bdbdbd"/>
<circle cx="124.2" cy="463.9" r="3.30" fill="#bdbdbd"/>
<circle cx="128.0" cy="523.2" r="3.30" fill="#bdbdbd"/>
<circle cx="129.9" cy="525.4" r="3.30" fill="#bdbdbd"/>
<circle cx="124.3" cy="501.0" r="3.30" fill="#bdbdbd"/>
<circle cx="123.1" cy="509.2" r="3.30" fill="#bdbdbd"/>
<circle cx="115.4" cy="520.8" r="3.30" fill="#bdbdbd"/>
<circle cx="122.8" cy="470.3" r="3.30" fill="#bdbdbd"/>
<circle cx="122.5" cy="476.7" r="3.30" fill="#bdbdbd"/>
<circle cx="129.7" cy="462.7" r="3.30" fill="#bdbdbd"/>
<circle cx="128.3" cy="478.6" r="3.30" fill="#bdbdbd"/>
<circle cx="126.7" cy="491.5" r="3.30" fill="#bdbdbd"/>
<circle cx="122.3" cy="525.6" r="3.30" fill="#bdbdbd"/>
<circle cx="122.4" cy="473.2" r="3.30" fill="#bdbdbd"/>
<circle cx="129.6" cy="466.1" r="3.30" fill="#bdbdbd"/>
<circle cx="121.7" cy="504.3" r="3.30" fill="#bdbdbd"/>
<circle cx="122.2" cy="501.2" r="3.30" fill="#bdbdbd"/>
<circle cx="124.4" cy="460.7" r="3.30" fill="#bdbdbd"/>
<circle cx="115.1" cy="532.7" r="3.30" fill="#bdbdbd"/>
<circle cx="130.7" cy="481.3" r="3.30" fill="#bdbdbd"/>
<circle cx="123.7" cy="497.8" r="3.30" fill="#bdbdbd"/>
<circle cx="126.9" cy="493.8" r="3.30" fill="#bdbdbd"/>
<circle cx="124.7" cy="518.2" r="3.30" fill="#bdbdbd"/>
<circle cx="125.4" cy="493.3" r="3.30" fill="#bdbdbd"/>
<circle cx="117.5" cy="521.3" r="3.30" fill="#bdbdbd"/>
<circle cx="129.4" cy="508.8" r="3.30" fill="#bdbdbd"/>
<circle cx="124.7" cy="508.9" r="3.30" fill="#bdbdbd"/>
<circle cx="117.4" cy="511.9" r="3.30" fill="#bdbdbd"/>
<circle cx="128.0" cy="529.8" r="3.30" fill="#bdbdbd"/>
<circle cx="124.2" cy="476.9" r="3.30" fill="#bdbdbd"/>
<circle cx="127.4" cy="483.9" r="3.30" fill="#bdbdbd"/>
<circle cx="130.4" cy="467.9" r="3.30" fill="#bdbdbd"/>
<circle cx="130.2" cy="504.5" r="3.30" fill="#bdbdbd"/>
<circle cx="126.5" cy="463.2" r="3.30" fill="#bdbdbd"/>
<circle cx="125.5" cy="469.0" r="3.30" fill="#bdbdbd"/>
<circle cx="119.9" cy="506.8" r="3.30" fill="#bdbdbd"/>
<circle cx="122.0" cy="469.6" r="3.30" fill="#bdbdbd"/>
<circle cx="127.8" cy="529.6" r="3.30" fill="#bdbdbd"/>
<circle cx="125.4" cy="477.2" r="3.30" fill="#bdbdbd"/>
<circle cx="120.8" cy="472.5" r="3.30" fill="#bdbdbd"/>
<circle cx="119.9" cy="515.5" r="3.30" fill="#bdbdbd"/>
<circle cx="119.1" cy="503.5" r="3.30" fill="#bdbdbd"/>
<circle cx="119.7" cy="529.6" r="3.30" fill="#bdbdbd"/>
<circle cx="130.6" cy="467.9" r="3.30" fill="#bdbdbd"/>
<circle cx="125.3" cy="479.3" r="3.30" fill="#bdbdbd"/>
<circle cx="130.1" cy="516.0" r="3.30" fill="#bdbdbd"/>
<circle cx="126.7" cy="495.6" r="3.30" fill="#bdbdbd"/>
<circle cx="117.2" cy="532.6" r="3.30" fill="#bdbdbd"/>
<circle cx="128.6" cy="472.4" r="3.30" fill="#bdbdbd"/>
<circle cx="126.6" cy="469.2" r="3.30" fill="#bdbdbd"/>
<circle cx="124.7" cy="503.0" r="3.30" fill="#bdbdbd"/>
<circle cx="123.5" cy="471.6" r="3.30" fill="#bdbdbd"/>
<circle cx="121.2" cy="495.0" r="3.30" fill="#bdbdbd"/>
<circle cx="120.4" cy="477.6" r="3.30" fill="#bdbdbd"/>
<circle cx="130.3" cy="483.8" r="3.30" fill="#bdbdbd"/>
<circle cx="124.1" cy="533.0" r="3.30" fill="#bdbdbd"/>
<circle cx="129.2" cy="486.8" r="3.30" fill="#bdbdbd"/>
<circle cx="121.2" cy="491.3" r="3.30" fill="#bdbdbd"/>
<circle cx="129.8" cy="504.6" r="3.30" fill="#bdbdbd"/>
<circle cx="121.7" cy="467.4" r="3.30" fill="#bdbdbd"/>
<circle cx="115.6" cy="527.7" r="3.30" fill="#bdbdbd"/>
<circle cx="121.4" cy="532.8" r="3.30" fill="#bdbdbd"/>
<circle cx="128.8" cy="524.2" r="3.30" fill="#bdbdbd"/>
<circle cx="121.6" cy="486.0" r="3.30" fill="#bdbdbd"/>
<circle cx="121.8" cy="494.7" r="3.30" fill="#bdbdbd"/>
<circle cx="120.2" cy="498.0" r="3.30" fill="#bdbdbd"/>
<circle cx="117.6" cy="522.4" r="3.30" fill="#bdbdbd"/>
<circle cx="126.4" cy="506.6" r="3.30" fill="#bdbdbd"/>
<circle cx="118.5" cy="493.8" r="3.30" fill="#bdbdbd"/>
<circle cx="129.5" cy="481.9" r="3.30" fill="#bdbdbd"/>
<circle cx="128.6" cy="477.1" r="3.30" fill="#bdbdbd"/>
<circle cx="121.7" cy="534.1" r="3.30" fill="#bdbdbd"/>
<circle cx="127.1" cy="530.0" r="3.30" fill="#bdbdbd"/>
<circle cx="126.3" cy="521.7" r="3.30" fill="#bdbdbd"/>
<circle cx="126.1" cy="515.9" r="3.30" fill="#bdbdbd"/>
<circle cx="116.5" cy="511.4" r="3.30" fill="#bdbdbd"/>
<circle cx="120.8" cy="505.8" r="3.30" fill="#bdbdbd"/>
<circle cx="123.4" cy="467.7" r="3.30" fill="#bdbdbd"/>
<circle cx="124.4" cy="497.3" r="3.30" fill="#bdbdbd"/>
<circle cx="121.3" cy="464.2" r="3.30" fill="#bdbdbd"/>
<circle cx="124.2" cy="490.0" r="3.30" fill="#bdbdbd"/>
<circle cx="130.5" cy="480.1" r="3.30" fill="#bdbdbd"/>
<circle cx="126.2" cy="511.7" r="3.30" fill="#bdbdbd"/>
<circle cx="124.6" cy="495.6" r="3.30" fill="#bdbdbd"/>
<circle cx="128.0" cy="530.0" r="3.30" fill="#bdbdbd"/>
<circle cx="124.0" cy="462.1" r="3.30" fill="#bdbdbd"/>
<circle cx="130.5" cy="511.1" r="3.30" fill="#bdbdbd"/>
<circle cx="115.4" cy="526.7" r="3.30" fill="#bdbdbd"/>
<circle cx="128.0" cy="529.3" r="3.30" fill="#bdbdbd"/>
<circle cx="125.0" cy="478.2" r="3.30" fill="#bdbdbd"/>
<circle cx="120.5" cy="488.5" r="3.30" fill="#bdbdbd"/>
<circle cx="124.9" cy="486.8" r="3.30" fill="#bdbdbd"/>
<circle cx="122.5" cy="496.2" r="3.30" fill="#bdbdbd"/>
<circle cx="119.7" cy="504.9" r="3.30" fill="#bdbdbd"/>
<circle cx="121.3" cy="531.1" r="3.30" fill="#bdbdbd"/>
<circle cx="126.2" cy="516.3" r="3.30" fill="#bdbdbd"/>
<circle cx="127.9" cy="473.9" r="3.30" fill="#bdbdbd"/>
<circle cx="120.2" cy="500.8" r="3.30" fill="#bdbdbd"/>
<circle cx="123.3" cy="506.1" r="3.30" fill="#bdbdbd"/>
<circle cx="130.4" cy="487.7" r="3.30" fill="#bdbdbd"/>
<circle cx="122.2" cy="528.4" r="3.30" fill="#bdbdbd"/>
<circle cx="126.5" cy="498.1" r="3.30" fill="#bdbdbd"/>
<circle cx="128.5" cy="468.5" r="3.30" fill="#bdbdbd"/>
<circle cx="128.3" cy="488.1" r="3.30" fill="#bdbdbd"/>
<circle cx="129.3" cy="485.0" r="3.30" fill="#bdbdbd"/>
<circle cx="127.5" cy="482.7" r="3.30" fill="#bdbdbd"/>
<circle cx="129.5" cy="516.5" r="3.30" fill="#bdbdbd"/>
<circle cx="125.0" cy="506.0" r="3.30" fill="#bdbdbd"/>
<circle cx="130.4" cy="473.4" r="3.30" fill="#bdbdbd"/>
<circle cx="120.4" cy="461.2" r="3.30" fill="#bdbdbd"/>
<circle cx="120.5" cy="511.5" r="3.30" fill="#bdbdbd"/>
<circle cx="118.6" cy="505.6" r="3.30" fill="#bdbdbd"/>
<circle cx="118.9" cy="493.6" r="3.30" fill="#bdbdbd"/>
<circle cx="129.8" cy="512.2" r="3.30" fill="#bdbdbd"/>
<circle cx="125.2" cy="479.5" r="3.30" fill="#bdbdbd"/>
<circle cx="130.4" cy="526.7" r="3.30" fill="#bdbdbd"/>
<circle cx="122.5" cy="482.4" r="3.30" fill="#bdbdbd"/>
<circle cx="125.3" cy="509.8" r="3.30" fill="#bdbdbd"/>
<circle cx="123.0" cy="484.0" r="3.30" fill="#bdbdbd"/>
<circle cx="123.7" cy="464.0" r="3.30" fill="#bdbdbd"/>
<circle cx="128.4" cy="515.8" r="3.30" fill="#bdbdbd"/>
<circle cx="125.7" cy="523.3" r="3.30" fill="#bdbdbd"/>
<circle cx="124.5" cy="519.9" r="3.30" fill="#bdbdbd"/>
<circle cx="121.3" cy="514.1" r="3.30" fill="#bdbdbd"/>
<circle cx="125.2" cy="464.8" r="3.30" fill="#bdbdbd"/>
<circle cx="125.2" cy="502.2" r="3.30" fill="#bdbdbd"/>
<circle cx="118.2" cy="513.9" r="3.30" fill="#bdbdbd"/>
<circle cx="120.3" cy="506.1" r="3.30" fill="#bdbdbd"/>
<circle cx="130.3" cy="520.7" r="3.30" fill="#bdbdbd"/>
<circle cx="127.9" cy="532.2" r="3.30" fill="#bdbdbd"/>
<circle cx="127.7" cy="465.2" r="3.30" fill="#bdbdbd"/>
<circle cx="122.4" cy="533.3" r="3.30" fill="#bdbdbd"/>
<circle cx="124.3" cy="531.8" r="3.30" fill="#bdbdbd"/>
<circle cx="122.8" cy="482.6" r="3.30" fill="#bdbdbd"/>
<circle cx="123.1" cy="534.2" r="3.30" fill="#bdbdbd"/>
<circle cx="119.3" cy="527.7" r="3.30" fill="#bdbdbd"/>
<circle cx="128.8" cy="501.0" r="3.30" fill="#bdbdbd"/>
<circle cx="118.3" cy="507.2" r="3.30" fill="#bdbdbd"/>
<circle cx="125.0" cy="491.6" r="3.30" fill="#bdbdbd"/>
<circle cx="120.9" cy="521.3" r="3.30" fill="#bdbdbd"/>
<circle cx="121.0" cy="515.8" r="3.30" fill="#bdbdbd"/>
<circle cx="125.5" cy="514.3" r="3.30" fill="#bdbdbd"/>
<circle cx="126.8" cy="491.2" r="3.30" fill="#bdbdbd"/>
<circle cx="118.9" cy="487.9" r="3.30" fill="#bdbdbd"/>
<circle cx="122.8" cy="522.6" r="3.30" fill="#bdbdbd"/>
<circle cx="123.2" cy="487.3" r="3.30" fill="#bdbdbd"/>
<circle cx="123.8" cy="493.4" r="3.30" fill="#bdbdbd"/>
<circle cx="122.0" cy="520.9" r="3.30" fill="#bdbdbd"/>
<circle cx="120.9" cy="490.6" r="3.30" fill="#bdbdbd"/>
<circle cx="121.5" cy="504.4" r="3.30" fill="#bdbdbd"/>
<circle cx="122.6" cy="491.2" r="3.30" fill="#bdbdbd"/>
<circle cx="125.4" cy="509.1" r="3.30" fill="#bdbdbd"/>
<circle cx="120.0" cy="511.3" r="3.30" fill="#bdbdbd"/>
<circle cx="119.9" cy="520.4" r="3.30" fill="#bdbdbd"/>
<circle cx="119.9" cy="520.6" r="3.30" fill="#bdbdbd"/>
<circle cx="123.4" cy="515.7" r="3.30" fill="#bdbdbd"/>
<circle cx="124.3" cy="512.5" r="3.30" fill="#bdbdbd"/>
<circle cx="123.9" cy="503.5" r="3.30" fill="#bdbdbd"/>
<circle cx="122.8" cy="496.0" r="3.30" fill="#bdbdbd"/>
<circle cx="122.4" cy="519.1" r="3.30" fill="#bdbdbd"/>
<circle cx="121.2" cy="486.0" r="3.30" fill="#bdbdbd"/>
<circle cx="123.0" cy="495.6" r="3.30" fill="#bdbdbd"/>
<circle cx="122.7" cy="494.1" r="3.30" fill="#bdbdbd"/>
<circle cx="123.5" cy="490.2" r="3.30" fill="#bdbdbd"/>
<circle cx="125.9" cy="514.7" r="3.30" fill="#bdbdbd"/>
<circle cx="124.3" cy="502.0" r="3.30" fill="#bdbdbd"/>
<circle cx="125.5" cy="498.1" r="3.30" fill="#bdbdbd"/>
<circle cx="127.2" cy="503.5" r="3.30" fill="#bdbdbd"/>
<circle cx="126.4" cy="516.8" r="3.30" fill="#bdbdbd"/>
<circle cx="120.0" cy="487.0" r="3.30" fill="#bdbdbd"/>
<circle cx="124.6" cy="496.1" r="3.30" fill="#bdbdbd"/>
<circle cx="127.9" cy="487.1" r="3.30" fill="#bdbdbd"/>
<circle cx="129.3" cy="501.9" r="3.30" fill="#bdbdbd"/>
<circle cx="120.0" cy="507.7" r="3.30" fill="#bdbdbd"/>
<circle cx="127.8" cy="485.6" r="3.30" fill="#bdbdbd"/>
<circle cx="121.9" cy="522.8" r="3.30" fill="#bdbdbd"/>
<circle cx="121.1" cy="509.2" r="3.30" fill="#bdbdbd"/>
<circle cx="121.4" cy="493.0" r="3.30" fill="#bdbdbd"/>
<circle cx="126.7" cy="497.4" r="3.30" fill="#bdbdbd"/>
<circle cx="128.6" cy="501.8" r="3.30" fill="#bdbdbd"/>
<circle cx="126.0" cy="488.0" r="3.30" fill="#bdbdbd"/>
<circle cx="132.2" cy="501.1" r="3.30" fill="#bdbdbd"/>
<circle cx="123.3" cy="492.2" r="3.30" fill="#bdbdbd"/>
<circle cx="118.5" cy="508.8" r="3.30" fill="#bdbdbd"/>
<circle cx="122.4" cy="520.0" r="3.30" fill="#bdbdbd"/>
<circle cx="124.5" cy="501.7" r="3.30" fill="#bdbdbd"/>
<circle cx="122.8" cy="490.6" r="3.30" fill="#bdbdbd"/>
<circle cx="124.7" cy="522.2" r="3.30" fill="#bdbdbd"/>
<circle cx="123.2" cy="506.3" r="3.30" fill="#bdbdbd"/>
<circle cx="123.4" cy="496.6" r="3.30" fill="#bdbdbd"/>
<circle cx="128.2" cy="514.8" r="3.30" fill="#bdbdbd"/>
<circle cx="127.3" cy="502.3" r="3.30" fill="#bdbdbd"/>
<circle cx="122.4" cy="487.4" r="3.30" fill="#bdbdbd"/>
<circle cx="123.5" cy="513.7" r="3.30" fill="#bdbdbd"/>
<circle cx="120.9" cy="506.3" r="3.30" fill="#bdbdbd"/>
<circle cx="120.3" cy="493.2" r="3.30" fill="#bdbdbd"/>
<circle cx="123.6" cy="497.2" r="3.30" fill="#bdbdbd"/>
<circle cx="126.3" cy="508.1" r="3.30" fill="#bdbdbd"/>
<circle cx="81.4" cy="579.9" r="3.30" fill="#bdbdbd"/>
<circle cx="75.7" cy="582.2" r="3.30" fill="#bdbdbd"/>
<circle cx="94.1" cy="572.4" r="3.30" fill="#bdbdbd"/>
<circle cx="92.6" cy="561.2" r="3.30" fill="#bdbdbd"/>
<circle cx="88.6" cy="617.4" r="3.30" fill="#bdbdbd"/>
<circle cx="91.0" cy="573.1" r="3.30" fill="#bdbdbd"/>
<circle cx="89.3" cy="561.0" r="3.30" fill="#bdbdbd"/>
<circle cx="93.3" cy="589.1" r="3.30" fill="#bdbdbd"/>
<circle cx="89.4" cy="587.6" r="3.30" fill="#bdbdbd"/>
<circle cx="95.7" cy="564.1" r="3.30" fill="#bdbdbd"/>
<circle cx="80.0" cy="588.7" r="3.30" fill="#bdbdbd"/>
<circle cx="97.0" cy="556.4" r="3.30" fill="#bdbdbd"/>
<circle cx="94.9" cy="548.9" r="3.30" fill="#bdbdbd"/>
<circle cx="95.4" cy="606.4" r="3.30" fill="#bdbdbd"/>
<circle cx="93.6" cy="594.8" r="3.30" fill="#bdbdbd"/>
<circle cx="82.5" cy="562.6" r="3.30" fill="#bdbdbd"/>
<circle cx="90.7" cy="591.8" r="3.30" fill="#bdbdbd"/>
<circle cx="72.5" cy="606.8" r="3.30" fill="#bdbdbd"/>
<circle cx="77.3" cy="585.7" r="3.30" fill="#bdbdbd"/>
<circle cx="77.8" cy="567.1" r="3.30" fill="#bdbdbd"/>
<circle cx="86.3" cy="571.7" r="3.30" fill="#bdbdbd"/>
<circle cx="87.6" cy="543.4" r="3.30" fill="#bdbdbd"/>
<circle cx="96.1" cy="568.6" r="3.30" fill="#bdbdbd"/>
<circle cx="86.9" cy="568.6" r="3.30" fill="#bdbdbd"/>
<circle cx="95.0" cy="600.4" r="3.30" fill="#bdbdbd"/>
<circle cx="80.1" cy="582.5" r="3.30" fill="#bdbdbd"/>
<circle cx="90.4" cy="572.6" r="3.30" fill="#bdbdbd"/>
<circle cx="90.9" cy="556.0" r="3.30" fill="#bdbdbd"/>
<circle cx="94.8" cy="613.9" r="3.30" fill="#bdbdbd"/>
<circle cx="94.0" cy="552.2" r="3.30" fill="#bdbdbd"/>
<circle cx="81.9" cy="608.7" r="3.30" fill="#bdbdbd"/>
<circle cx="90.4" cy="602.0" r="3.30" fill="#bdbdbd"/>
<circle cx="77.1" cy="611.1" r="3.30" fill="#bdbdbd"/>
<circle cx="76.1" cy="610.2" r="3.30" fill="#bdbdbd"/>
<circle cx="89.3" cy="554.5" r="3.30" fill="#bdbdbd"/>
<circle cx="97.6" cy="617.0" r="3.30" fill="#bdbdbd"/>
<circle cx="93.6" cy="590.1" r="3.30" fill="#bdbdbd"/>
<circle cx="94.3" cy="548.8" r="3.30" fill="#bdbdbd"/>
<circle cx="98.1" cy="603.6" r="3.30" fill="#bdbdbd"/>
<circle cx="93.0" cy="557.7" r="3.30" fill="#bdbdbd"/>
<circle cx="80.5" cy="605.0" r="3.30" fill="#bdbdbd"/>
<circle cx="85.6" cy="567.0" r="3.30" fill="#bdbdbd"/>
<circle cx="91.9" cy="613.5" r="3.30" fill="#bdbdbd"/>
<circle cx="91.8" cy="556.4" r="3.30" fill="#bdbdbd"/>
<circle cx="91.0" cy="609.0" r="3.30" fill="#bdbdbd"/>
<circle cx="95.5" cy="588.8" r="3.30" fill="#bdbdbd"/>
<circle cx="87.2" cy="569.2" r="3.30" fill="#bdbdbd"/>
<circle cx="91.7" cy="589.6" r="3.30" fill="#bdbdbd"/>
<circle cx="78.0" cy="592.2" r="3.30" fill="#bdbdbd"/>
<circle cx="90.9" cy="584.8" r="3.30" fill="#bdbdbd"/>
<circle cx="86.2" cy="550.6" r="3.30" fill="#bdbdbd"/>
<circle cx="95.9" cy="599.9" r="3.30" fill="#bdbdbd"/>
<circle cx="94.5" cy="576.9" r="3.30" fill="#bdbdbd"/>
<circle cx="92.0" cy="553.4" r="3.30" fill="#bdbdbd"/>
<circle cx="95.4" cy="548.8" r="3.30" fill="#bdbdbd"/>
<circle cx="92.1" cy="558.0" r="3.30" fill="#bdbdbd"/>
<circle cx="84.7" cy="549.8" r="3.30" fill="#bdbdbd"/>
<circle cx="82.8" cy="592.4" r="3.30" fill="#bdbdbd"/>
<circle cx="82.0" cy="604.7" r="3.30" fill="#bdbdbd"/>
<circle cx="79.5" cy="596.6" r="3.30" fill="#bdbdbd"/>
<circle cx="92.9" cy="570.4" r="3.30" fill="#bdbdbd"/>
<circle cx="96.5" cy="550.3" r="3.30" fill="#bdbdbd"/>
<circle cx="89.9" cy="542.1" r="3.30" fill="#bdbdbd"/>
<circle cx="97.8" cy="578.0" r="3.30" fill="#bdbdbd"/>
<circle cx="90.1" cy="584.4" r="3.30" fill="#bdbdbd"/>
<circle cx="89.7" cy="587.8" r="3.30" fill="#bdbdbd"/>
<circle cx="95.0" cy="582.6" r="3.30" fill="#bdbdbd"/>
<circle cx="93.1" cy="609.1" r="3.30" fill="#bdbdbd"/>
<circle cx="95.8" cy="562.7" r="3.30" fill="#bdbdbd"/>
<circle cx="80.3" cy="608.7" r="3.30" fill="#bdbdbd"/>
<circle cx="94.8" cy="553.2" r="3.30" fill="#bdbdbd"/>
<circle cx="90.9" cy="593.5" r="3.30" fill="#bdbdbd"/>
<circle cx="80.4" cy="607.2" r="3.30" fill="#bdbdbd"/>
<circle cx="89.3" cy="590.4" r="3.30" fill="#bdbdbd"/>
<circle cx="92.1" cy="596.1" r="3.30" fill="#bdbdbd"/>
<circle cx="89.0" cy="604.8" r="3.30" fill="#bdbdbd"/>
<circle cx="82.5" cy="555.6" r="3.30" fill="#bdbdbd"/>
<circle cx="95.1" cy="574.9" r="3.30" fill="#bdbdbd"/>
<circle cx="80.6" cy="569.7" r="3.30" fill="#bdbdbd"/>
<circle cx="91.2" cy="610.1" r="3.30" fill="#bdbdbd"/>
<circle cx="82.4" cy="600.9" r="3.30" fill="#bdbdbd"/>
<circle cx="93.7" cy="551.6" r="3.30" fill="#bdbdbd"/>
<circle cx="93.0" cy="598.8" r="3.30" fill="#bdbdbd"/>
<circle cx="98.1" cy="550.1" r="3.30" fill="#bdbdbd"/>
<circle cx="88.9" cy="546.7" r="3.30" fill="#bdbdbd"/>
<circle cx="82.6" cy="557.1" r="3.30" fill="#bdbdbd"/>
<circle cx="96.4" cy="541.9" r="3.30" fill="#bdbdbd"/>
<circle cx="97.6" cy="611.1" r="3.30" fill="#bdbdbd"/>
<circle cx="96.6" cy="604.8" r="3.30" fill="#bdbdbd"/>
<circle cx="90.2" cy="561.9" r="3.30" fill="#bdbdbd"/>
<circle cx="98.0" cy="568.6" r="3.30" fill="#bdbdbd"/>
<circle cx="88.8" cy="543.1" r="3.30" fill="#bdbdbd"/>
<circle cx="93.1" cy="589.6" r="3.30" fill="#bdbdbd"/>
<circle cx="96.2" cy="559.8" r="3.30" fill="#bdbdbd"/>
<circle cx="73.8" cy="600.3" r="3.30" fill="#bdbdbd"/>
<circle cx="91.3" cy="605.3" r="3.30" fill="#bdbdbd"/>
<circle cx="94.0" cy="590.4" r="3.30" fill="#bdbdbd"/>
<circle cx="91.1" cy="613.7" r="3.30" fill="#bdbdbd"/>
<circle cx="80.7" cy="591.3" r="3.30" fill="#bdbdbd"/>
<circle cx="87.4" cy="566.8" r="3.30" fill="#bdbdbd"/>
<circle cx="84.3" cy="564.7" r="3.30" fill="#bdbdbd"/>
<circle cx="89.2" cy="560.1" r="3.30" fill="#bdbdbd"/>
<circle cx="95.3" cy="568.8" r="3.30" fill="#bdbdbd"/>
<circle cx="90.4" cy="542.2" r="3.30" fill="#bdbdbd"/>
<circle cx="96.0" cy="610.3" r="3.30" fill="#bdbdbd"/>
<circle cx="91.3" cy="585.0" r="3.30" fill="#bdbdbd"/>
<circle cx="91.9" cy="550.8" r="3.30" fill="#bdbdbd"/>
<circle cx="78.8" cy="608.7" r="3.30" fill="#bdbdbd"/>
<circle cx="86.1" cy="602.0" r="3.30" fill="#bdbdbd"/>
<circle cx="88.2" cy="578.2" r="3.30" fill="#bdbdbd"/>
<circle cx="92.9" cy="557.3" r="3.30" fill="#bdbdbd"/>
<circle cx="95.5" cy="564.9" r="3.30" fill="#bdbdbd"/>
<circle cx="92.4" cy="584.4" r="3.30" fill="#bdbdbd"/>
<circle cx="89.6" cy="602.5" r="3.30" fill="#bdbdbd"/>
<circle cx="91.9" cy="545.7" r="3.30" fill="#bdbdbd"/>
<circle cx="88.9" cy="579.7" r="3.30" fill="#bdbdbd"/>
<circle cx="92.1" cy="613.1" r="3.30" fill="#bdbdbd"/>
<circle cx="75.9" cy="584.6" r="3.30" fill="#bdbdbd"/>
<circle cx="92.0" cy="543.8" r="3.30" fill="#bdbdbd"/>
<circle cx="83.5" cy="556.2" r="3.30" fill="#bdbdbd"/>
<circle cx="87.5" cy="604.3" r="3.30" fill="#bdbdbd"/>
<circle cx="79.4" cy="565.6" r="3.30" fill="#bdbdbd"/>
<circle cx="88.8" cy="552.2" r="3.30" fill="#bdbdbd"/>
<circle cx="96.7" cy="571.3" r="3.30" fill="#bdbdbd"/>
<circle cx="90.6" cy="581.8" r="3.30" fill="#bdbdbd"/>
<circle cx="92.7" cy="572.4" r="3.30" fill="#bdbdbd"/>
<circle cx="87.1" cy="543.3" r="3.30" fill="#bdbdbd"/>
<circle cx="89.9" cy="601.9" r="3.30" fill="#bdbdbd"/>
<circle cx="95.1" cy="591.7" r="3.30" fill="#bdbdbd"/>
<circle cx="89.6" cy="575.3" r="3.30" fill="#bdbdbd"/>
<circle cx="86.4" cy="561.5" r="3.30" fill="#bdbdbd"/>
<circle cx="92.3" cy="542.3" r="3.30" fill="#bdbdbd"/>
<circle cx="92.6" cy="579.2" r="3.30" fill="#bdbdbd"/>
<circle cx="94.6" cy="567.0" r="3.30" fill="#bdbdbd"/>
<circle cx="95.0" cy="549.4" r="3.30" fill="#bdbdbd"/>
<circle cx="92.6" cy="613.5" r="3.30" fill="#bdbdbd"/>
<circle cx="96.5" cy="597.2" r="3.30" fill="#bdbdbd"/>
<circle cx="93.2" cy="584.7" r="3.30" fill="#bdbdbd"/>
<circle cx="97.9" cy="557.6" r="3.30" fill="#bdbdbd"/>
<circle cx="96.4" cy="547.8" r="3.30" fill="#bdbdbd"/>
<circle cx="98.1" cy="559.2" r="3.30" fill="#bdbdbd"/>
<circle cx="78.0" cy="610.7" r="3.30" fill="#bdbdbd"/>
<circle cx="96.4" cy="547.6" r="3.30" fill="#bdbdbd"/>
<circle cx="91.3" cy="542.6" r="3.30" fill="#bdbdbd"/>
<circle cx="81.7" cy="557.2" r="3.30" fill="#bdbdbd"/>
<circle cx="84.3" cy="545.9" r="3.30" fill="#bdbdbd"/>
<circle cx="97.7" cy="576.7" r="3.30" fill="#bdbdbd"/>
<circle cx="96.2" cy="579.8" r="3.30" fill="#bdbdbd"/>
<circle cx="98.2" cy="606.4" r="3.30" fill="#bdbdbd"/>
<circle cx="91.0" cy="543.3" r="3.30" fill="#bdbdbd"/>
<circle cx="95.9" cy="596.3" r="3.30" fill="#bdbdbd"/>
<circle cx="87.0" cy="613.7" r="3.30" fill="#bdbdbd"/>
<circle cx="89.8" cy="560.9" r="3.30" fill="#bdbdbd"/>
<circle cx="75.1" cy="595.9" r="3.30" fill="#bdbdbd"/>
<circle cx="98.2" cy="596.9" r="3.30" fill="#bdbdbd"/>
<circle cx="93.5" cy="564.6" r="3.30" fill="#bdbdbd"/>
<circle cx="93.4" cy="588.1" r="3.30" fill="#bdbdbd"/>
<circle cx="77.9" cy="567.2" r="3.30" fill="#bdbdbd"/>
<circle cx="97.6" cy="607.8" r="3.30" fill="#bdbdbd"/>
<circle cx="83.4" cy="572.2" r="3.30" fill="#bdbdbd"/>
<circle cx="96.6" cy="562.8" r="3.30" fill="#bdbdbd"/>
<circle cx="96.0" cy="596.8" r="3.30" fill="#bdbdbd"/>
<circle cx="94.6" cy="594.0" r="3.30" fill="#bdbdbd"/>
<circle cx="97.0" cy="604.6" r="3.30" fill="#bdbdbd"/>
<circle cx="86.8" cy="587.6" r="3.30" fill="#bdbdbd"/>
<circle cx="85.8" cy="542.1" r="3.30" fill="#bdbdbd"/>
<circle cx="93.4" cy="557.3" r="3.30" fill="#bdbdbd"/>
<circle cx="94.9" cy="557.1" r="3.30" fill="#bdbdbd"/>
<circle cx="84.4" cy="551.9" r="3.30" fill="#bdbdbd"/>
<circle cx="95.1" cy="600.9" r="3.30" fill="#bdbdbd"/>
<circle cx="84.2" cy="538.4" r="3.30" fill="#bdbdbd"/>
<circle cx="96.0" cy="541.8" r="3.30" fill="#bdbdbd"/>
<circle cx="80.9" cy="548.5" r="3.30" fill="#bdbdbd"/>
<circle cx="119.6" cy="540.0" r="3.30" fill="#bdbdbd"/>
<circle cx="124.7" cy="536.7" r="3.30" fill="#bdbdbd"/>
<circle cx="138.0" cy="531.7" r="3.30" fill="#bdbdbd"/>
<circle cx="121.3" cy="552.0" r="3.30" fill="#bdbdbd"/>
<circle cx="118.0" cy="557.0" r="3.30" fill="#bdbdbd"/>
<circle cx="139.5" cy="501.0" r="3.30" fill="#bdbdbd"/>
<circle cx="146.0" cy="519.4" r="3.30" fill="#bdbdbd"/>
<circle cx="138.4" cy="530.0" r="3.30" fill="#bdbdbd"/>
<circle cx="76.0" cy="580.0" r="3.30" fill="#bdbdbd"/>
<circle cx="74.0" cy="592.0" r="3.30" fill="#bdbdbd"/>
<circle cx="80.0" cy="600.0" r="3.30" fill="#bdbdbd"/>
<circle cx="86.0" cy="585.0" r="3.30" fill="#bdbdbd"/>
<circle cx="92.0" cy="570.0" r="3.30" fill="#bdbdbd"/>
<circle cx="78.0" cy="568.0" r="3.30" fill="#bdbdbd"/>
<circle cx="100.0" cy="548.0" r="3.30" fill="#bdbdbd"/>
<circle cx="141.6" cy="396.0" r="3.70" fill="#e0636a"/>
<circle cx="220.7" cy="415.5" r="3.70" fill="#e0636a"/>
<circle cx="164.4" cy="416.6" r="3.70" fill="#e0636a"/>
<circle cx="163.3" cy="422.0" r="3.70" fill="#e0636a"/>
<circle cx="153.5" cy="425.9" r="3.70" fill="#e0636a"/>
<circle cx="145.5" cy="429.6" r="3.70" fill="#e0636a"/>
<circle cx="135.6" cy="428.0" r="3.70" fill="#e0636a"/>
<circle cx="131.9" cy="447.5" r="3.70" fill="#e0636a"/>
<circle cx="138.4" cy="446.9" r="3.70" fill="#e0636a"/>
<circle cx="133.0" cy="458.8" r="3.70" fill="#e0636a"/>
<circle cx="136.2" cy="461.0" r="3.70" fill="#e0636a"/>
<circle cx="128.6" cy="465.3" r="3.70" fill="#e0636a"/>
<circle cx="138.4" cy="483.7" r="3.70" fill="#e0636a"/>
<circle cx="131.9" cy="474.0" r="3.70" fill="#e0636a"/>
<circle cx="129.7" cy="480.5" r="3.70" fill="#e0636a"/>
<circle cx="133.0" cy="487.0" r="3.70" fill="#e0636a"/>
<circle cx="130.8" cy="497.8" r="3.70" fill="#e0636a"/>
<circle cx="134.0" cy="455.0" r="3.70" fill="#e0636a"/>
<circle cx="137.0" cy="470.0" r="3.70" fill="#e0636a"/>
<circle cx="128.0" cy="452.0" r="3.70" fill="#e0636a"/>
<circle cx="131.0" cy="468.0" r="3.70" fill="#e0636a"/>
<circle cx="135.0" cy="478.0" r="3.70" fill="#e0636a"/>
<circle cx="70.8" cy="626.0" r="3.70" fill="#4b8dd0"/>
<circle cx="78.2" cy="622.7" r="3.70" fill="#4b8dd0"/>
<circle cx="69.0" cy="637.8" r="3.70" fill="#4b8dd0"/>
<circle cx="65.7" cy="648.6" r="3.70" fill="#4b8dd0"/>
<circle cx="71.4" cy="661.4" r="3.70" fill="#4b8dd0"/>
<circle cx="80.9" cy="621.0" r="3.70" fill="#4b8dd0"/>
<circle cx="77.5" cy="627.7" r="3.70" fill="#4b8dd0"/>
<circle cx="82.5" cy="617.6" r="3.70" fill="#4b8dd0"/>
<line x1="117.8" y1="428.5" x2="134.0" y2="428.5" stroke="#111" stroke-width="0.8"/>
<line x1="82.5" y1="600.8" x2="77.5" y2="621.0" stroke="#111" stroke-width="0.8"/>
<line x1="74.0" y1="616.0" x2="70.0" y2="625.0" stroke="#111" stroke-width="0.8"/>
<line x1="96.0" y1="611.5" x2="80.9" y2="622.7" stroke="#111" stroke-width="0.8"/>
<line x1="77.5" y1="629.4" x2="107.8" y2="639.5" stroke="#111" stroke-width="0.8"/>
<line x1="65.7" y1="648.6" x2="75.8" y2="654.7" stroke="#111" stroke-width="0.8"/>
<line x1="71.4" y1="661.4" x2="116.2" y2="666.5" stroke="#111" stroke-width="0.8"/>
<text x="151.4" y="394.6" font-size="10" fill="#231f20" stroke="#231f20" stroke-width="0.22">LINC01578</text>
<text x="123.9" y="423.8" font-size="10" fill="#231f20" stroke="#231f20" stroke-width="0.22">H1FX</text>
<text x="165.5" y="424.4" font-size="10" fill="#231f20" stroke="#231f20" stroke-width="0.22">MTRNR2L12</text>
<text x="89.7" y="432.1" font-size="10" fill="#231f20" stroke="#231f20" stroke-width="0.22">CD81</text>
<text x="160.0" y="438.1" font-size="10" fill="#231f20" stroke="#231f20" stroke-width="0.22">XIST</text>
<text x="123.9" y="442.4" font-size="10" fill="#231f20" stroke="#231f20" stroke-width="0.22">GNAS</text>
<text x="99.4" y="456.9" font-size="10" fill="#231f20" stroke="#231f20" stroke-width="0.22">ARL4C</text>
<text x="115.2" y="472.8" font-size="10" fill="#231f20" stroke="#231f20" stroke-width="0.22">MZT2B</text>
<text x="125.4" y="495.9" font-size="10" fill="#231f20" stroke="#231f20" stroke-width="0.22">PTP4A2</text>
<text x="70.8" y="600.2" font-size="10" fill="#231f20" stroke="#231f20" stroke-width="0.22">DDIT4</text>
<text x="62.3" y="614.4" font-size="10" fill="#231f20" stroke="#231f20" stroke-width="0.22">BTG2</text>
<text x="96.0" y="615.0" font-size="10" fill="#231f20" stroke="#231f20" stroke-width="0.22">ARRDC2</text>
<text x="90.3" y="629.5" font-size="10" fill="#231f20" stroke="#231f20" stroke-width="0.22">CD8B</text>
<text x="71.8" y="643.8" font-size="10" fill="#231f20" stroke="#231f20" stroke-width="0.22">ZFP36</text>
<text x="76.8" y="659.2" font-size="10" fill="#231f20" stroke="#231f20" stroke-width="0.22">DUSP2</text>
<text x="118.0" y="670.0" font-size="10" fill="#231f20" stroke="#231f20" stroke-width="0.22">PTPRCAP</text>
<text x="155.7" y="408.6" font-size="10" font-weight="bold" fill="#d8232a" stroke="#d8232a" stroke-width="0.22">JUND</text>
<text x="109.5" y="643.8" font-size="10" font-weight="bold" fill="#d8232a" stroke="#d8232a" stroke-width="0.22">SOCS3</text>
<text x="64.1" y="395.2" font-size="10" font-weight="bold" fill="#231f20" stroke="#231f20" stroke-width="0.22">T cell</text>
<circle cx="163.4" cy="590.0" r="3.70" fill="#e0636a"/>
<text x="169.1" y="593.5" font-size="10" fill="#231f20" stroke="#231f20" stroke-width="0.22">High</text>
<circle cx="163.4" cy="607.5" r="3.70" fill="#4b8dd0"/>
<text x="169.1" y="611.0" font-size="10" fill="#231f20" stroke="#231f20" stroke-width="0.22">Low</text>
<circle cx="163.4" cy="625.0" r="3.70" fill="#bdbdbd"/>
<text x="169.1" y="628.5" font-size="10" fill="#231f20" stroke="#231f20" stroke-width="0.22">Other</text>
<line x1="57.6" y1="380.0" x2="57.6" y2="675.0" stroke="#5d5d5d" stroke-width="1.8"/>
<line x1="56.8" y1="674.2" x2="228.4" y2="674.2" stroke="#5d5d5d" stroke-width="1.6"/>
<text x="55.5" y="389.6" font-size="10" text-anchor="end" fill="#231f20" stroke="#231f20" stroke-width="0.22">0.3</text>
<text x="55.5" y="446.8" font-size="10" text-anchor="end" fill="#231f20" stroke="#231f20" stroke-width="0.22">0.2</text>
<text x="55.5" y="504.0" font-size="10" text-anchor="end" fill="#231f20" stroke="#231f20" stroke-width="0.22">0.1</text>
<text x="55.5" y="561.1" font-size="10" text-anchor="end" fill="#231f20" stroke="#231f20" stroke-width="0.22">0.0</text>
<text x="55.5" y="618.4" font-size="10" text-anchor="end" fill="#231f20" stroke="#231f20" stroke-width="0.22">−0.1</text>
<text x="55.5" y="675.5" font-size="10" text-anchor="end" fill="#231f20" stroke="#231f20" stroke-width="0.22">−0.2</text>
<line x1="65.7" y1="674.2" x2="65.7" y2="676.8" stroke="#5d5d5d" stroke-width="0.9"/>
<text x="65.7" y="684.5" font-size="10" text-anchor="middle" fill="#231f20" stroke="#231f20" stroke-width="0.22">−1</text>
<line x1="107.7" y1="674.2" x2="107.7" y2="676.8" stroke="#5d5d5d" stroke-width="0.9"/>
<text x="107.7" y="684.5" font-size="10" text-anchor="middle" fill="#231f20" stroke="#231f20" stroke-width="0.22">0</text>
<line x1="149.7" y1="674.2" x2="149.7" y2="676.8" stroke="#5d5d5d" stroke-width="0.9"/>
<text x="149.7" y="684.5" font-size="10" text-anchor="middle" fill="#231f20" stroke="#231f20" stroke-width="0.22">1</text>
<line x1="191.7" y1="674.2" x2="191.7" y2="676.8" stroke="#5d5d5d" stroke-width="0.9"/>
<text x="191.7" y="684.5" font-size="10" text-anchor="middle" fill="#231f20" stroke="#231f20" stroke-width="0.22">2</text>
<text x="128.0" y="694.5" font-size="10" text-anchor="middle" fill="#231f20" stroke="#231f20" stroke-width="0.22">avg_log2FC</text>
<text x="33.7" y="535.5" font-size="10" text-anchor="middle" fill="#231f20" stroke="#231f20" stroke-width="0.22" transform="rotate(-90 33.7 532.0)">Percentage of TAMG − TH</text>
<text x="266.3" y="385.7" font-size="20.5" font-weight="bold" fill="#231f20" stroke="#231f20" stroke-width="0.22">F</text>
<text x="358.0" y="385.2" font-size="10" text-anchor="middle" fill="#231f20" stroke="#231f20" stroke-width="0.22">JUND</text>
<text x="481.0" y="385.2" font-size="10" text-anchor="middle" fill="#231f20" stroke="#231f20" stroke-width="0.22">SOCS3</text>
<path d="M328.0,405.6 C330.0,402.2 334.4,398.5 338.3,396.8 C342.2,395.1 348.2,394.6 351.6,395.3 C355.1,396.0 357.5,398.8 359.0,401.2 C360.5,403.6 358.4,408.0 360.4,410.0 C362.4,412.0 368.1,413.2 370.8,413.0 C373.5,412.8 373.8,409.7 376.7,408.6 C379.6,407.5 384.2,406.3 388.4,406.2 C392.6,406.1 398.0,406.6 401.7,408.0 C405.4,409.4 409.4,411.4 410.6,414.5 C411.8,417.6 409.5,421.4 409.0,426.3 C408.5,431.2 407.3,439.1 407.6,444.0 C407.9,448.9 409.1,452.4 410.6,455.8 C412.1,459.2 415.3,460.7 416.5,464.6 C417.7,468.5 418.5,475.1 418.0,479.3 C417.5,483.5 416.9,487.5 413.5,489.7 C410.1,491.9 402.0,492.9 397.3,492.6 C392.6,492.4 388.2,490.4 385.5,488.2 C382.8,486.0 381.5,482.8 381.0,479.3 C380.5,475.9 381.8,471.4 382.5,467.5 C383.2,463.6 385.5,458.7 385.5,455.8 C385.5,452.9 384.9,450.4 382.5,449.9 C380.1,449.4 375.0,451.3 370.8,452.8 C366.6,454.3 360.5,456.2 357.5,458.7 C354.5,461.1 355.2,465.1 353.0,467.5 C350.8,469.9 347.6,472.4 344.2,473.4 C340.8,474.4 336.3,474.4 332.4,473.4 C328.5,472.4 323.3,470.2 320.6,467.5 C317.9,464.8 316.7,460.6 316.2,457.2 C315.7,453.8 316.0,449.8 317.7,446.9 C319.4,443.9 324.8,442.4 326.5,439.5 C328.2,436.6 328.0,432.9 328.0,429.2 C328.0,425.5 326.5,421.3 326.5,417.4 C326.5,413.5 326.0,409.0 328.0,405.6Z" fill="#f0f0f0"/>
<path d="M335.0,425.0 C336.7,421.3 345.5,419.5 350.0,420.0 C354.5,420.5 358.3,425.8 362.0,428.0 C365.7,430.2 371.0,430.2 372.0,433.0 C373.0,435.8 371.3,442.7 368.0,445.0 C364.7,447.3 356.7,447.5 352.0,447.0 C347.3,446.5 342.8,445.7 340.0,442.0 C337.2,438.3 333.3,428.7 335.0,425.0Z" fill="#f8f8f8"/>
<path d="M399.4 422.3h0.2M406.9 483.7h0.2M370.0 438.6h0.2M340.9 421.8h0.2M369.6 424.9h0.2M335.1 406.0h0.2M328.8 409.8h0.2M348.4 400.9h0.2M336.9 414.1h0.2M362.8 441.4h0.2M347.6 402.1h0.2M317.7 448.1h0.2M325.1 453.8h0.2M398.0 426.9h0.2M335.1 464.5h0.2M345.3 456.0h0.2M392.6 452.4h0.2M339.4 404.3h0.2M375.6 451.1h0.2M409.5 474.5h0.2M404.0 455.5h0.2M329.3 427.6h0.2M366.7 439.1h0.2M329.3 405.1h0.2M371.7 440.1h0.2M340.1 397.6h0.2M339.0 399.4h0.2M397.1 445.5h0.2M324.1 456.0h0.2M356.9 404.9h0.2M332.3 416.6h0.2M332.9 432.6h0.2M334.0 436.6h0.2M370.2 432.5h0.2M367.8 425.5h0.2M371.5 422.8h0.2M409.4 418.3h0.2M336.0 439.1h0.2M348.4 448.5h0.2M400.4 427.3h0.2M351.9 423.4h0.2M396.5 482.9h0.2M360.3 445.0h0.2M342.1 419.0h0.2M317.7 448.8h0.2M389.0 408.1h0.2M398.7 431.5h0.2M347.9 452.9h0.2M370.7 452.1h0.2M345.6 411.4h0.2M336.6 457.5h0.2M317.4 456.9h0.2M348.2 468.7h0.2M356.9 456.6h0.2M397.9 430.8h0.2M386.7 443.8h0.2M352.7 415.8h0.2M408.8 415.3h0.2M327.6 449.0h0.2M341.4 472.3h0.2M351.9 459.2h0.2M382.5 435.3h0.2M338.9 406.4h0.2M318.9 447.0h0.2M395.9 443.3h0.2M354.9 463.7h0.2M328.4 425.3h0.2M337.1 413.3h0.2M347.7 400.9h0.2M338.7 411.3h0.2M375.6 417.2h0.2M395.0 438.2h0.2M332.5 470.6h0.2M406.1 441.9h0.2M396.0 452.2h0.2M324.3 442.0h0.2M408.7 486.2h0.2M353.7 443.6h0.2M363.3 451.8h0.2M387.7 432.6h0.2M353.1 458.8h0.2M407.6 430.3h0.2M403.6 486.4h0.2M323.2 462.9h0.2M397.0 453.1h0.2M329.6 467.2h0.2M354.9 398.4h0.2M393.2 466.8h0.2M350.4 453.9h0.2M341.1 453.2h0.2M344.2 413.0h0.2M353.9 456.5h0.2M387.8 425.5h0.2M375.5 446.4h0.2M334.0 468.5h0.2M407.2 432.4h0.2M403.6 418.0h0.2M385.5 478.3h0.2M398.3 413.9h0.2M347.0 470.4h0.2M344.4 416.4h0.2M388.8 479.8h0.2M405.4 446.3h0.2M413.2 472.5h0.2M379.9 430.4h0.2M363.4 452.7h0.2M327.2 457.9h0.2M347.1 458.7h0.2M383.6 451.1h0.2M401.2 411.7h0.2M333.6 424.1h0.2M385.6 440.4h0.2M341.5 460.2h0.2M397.5 447.4h0.2M387.4 420.2h0.2M354.2 448.4h0.2M334.8 473.1h0.2M401.4 459.5h0.2M404.3 414.0h0.2M400.3 439.5h0.2M407.7 453.3h0.2M389.7 417.5h0.2M403.7 451.3h0.2M364.1 451.5h0.2M396.3 449.7h0.2M381.0 433.8h0.2M367.8 429.0h0.2M322.2 454.8h0.2M343.2 410.2h0.2M362.5 451.8h0.2M376.0 430.4h0.2M394.3 465.8h0.2M330.6 429.5h0.2M347.7 417.3h0.2M338.3 417.2h0.2M357.8 406.2h0.2M386.7 417.1h0.2M411.8 475.1h0.2M342.5 414.4h0.2M405.1 471.4h0.2M385.2 431.0h0.2M344.2 460.2h0.2M390.5 461.2h0.2M337.8 415.8h0.2M400.7 417.7h0.2M336.2 437.1h0.2M401.8 459.1h0.2M366.1 446.6h0.2M353.9 419.2h0.2M349.8 445.3h0.2M336.3 464.0h0.2M323.6 452.5h0.2M377.0 436.1h0.2M334.9 421.9h0.2M397.2 423.6h0.2M381.0 443.6h0.2M351.1 408.0h0.2M398.4 472.6h0.2M347.4 411.5h0.2M367.4 446.6h0.2M373.8 440.7h0.2M351.3 456.3h0.2M349.9 468.9h0.2M387.8 480.2h0.2M329.5 439.3h0.2M361.2 417.8h0.2M386.3 431.1h0.2M356.6 415.4h0.2M332.7 464.3h0.2M392.1 408.6h0.2M392.7 437.5h0.2M330.6 432.3h0.2M319.6 445.7h0.2M405.0 436.7h0.2M373.5 429.6h0.2M330.8 435.7h0.2M355.7 443.8h0.2M367.3 433.3h0.2M376.0 439.7h0.2M390.0 428.1h0.2M348.7 395.9h0.2M390.9 454.0h0.2M393.4 471.7h0.2M379.0 427.8h0.2M345.5 447.4h0.2M354.2 406.4h0.2M322.8 442.7h0.2M338.6 409.3h0.2M401.2 430.2h0.2M328.0 432.5h0.2M380.9 444.0h0.2M357.6 415.1h0.2M350.1 444.0h0.2M331.7 413.0h0.2M362.2 453.8h0.2M345.4 408.9h0.2M339.2 470.9h0.2M340.4 427.1h0.2M328.6 470.6h0.2M385.9 411.4h0.2M414.0 487.0h0.2M340.0 469.4h0.2M355.3 418.4h0.2M354.2 417.2h0.2M349.9 441.6h0.2M343.1 419.0h0.2M365.5 449.4h0.2M366.9 446.6h0.2M363.0 414.0h0.2M330.9 451.7h0.2M351.0 456.3h0.2M394.5 429.6h0.2M330.9 421.4h0.2M403.8 456.6h0.2M344.1 415.7h0.2M357.0 438.5h0.2M341.9 414.7h0.2M354.1 452.6h0.2M357.1 459.2h0.2M394.3 437.6h0.2M354.2 459.0h0.2M396.7 423.2h0.2M407.9 485.6h0.2M397.9 456.6h0.2M337.1 421.4h0.2M406.9 490.2h0.2M405.9 418.5h0.2M407.2 447.1h0.2M344.2 414.8h0.2M338.4 415.9h0.2M408.4 453.5h0.2M343.6 418.0h0.2M401.0 410.9h0.2M348.4 445.6h0.2M407.7 439.2h0.2M400.2 424.2h0.2M378.3 445.5h0.2M339.8 459.5h0.2M374.3 436.4h0.2M334.0 402.2h0.2M328.9 445.2h0.2M350.9 463.3h0.2M396.3 459.3h0.2M357.3 416.6h0.2M385.2 438.7h0.2M346.2 406.8h0.2M350.2 444.1h0.2M396.1 454.7h0.2M348.4 417.9h0.2M408.1 456.1h0.2M393.8 472.4h0.2M399.4 426.1h0.2M409.5 468.6h0.2M346.3 423.3h0.2M402.6 424.5h0.2M342.1 460.6h0.2M391.7 435.1h0.2M344.5 408.6h0.2M399.9 416.9h0.2M403.0 454.8h0.2M352.5 406.9h0.2M347.4 396.1h0.2M376.0 433.1h0.2M356.6 459.6h0.2M350.5 443.1h0.2M379.9 434.2h0.2M362.4 426.4h0.2M341.1 469.4h0.2M340.8 424.6h0.2M352.4 461.0h0.2M334.8 410.9h0.2M333.8 427.8h0.2M357.3 455.5h0.2M338.3 431.9h0.2M346.2 422.0h0.2M357.3 416.5h0.2M362.9 454.6h0.2M322.9 456.7h0.2M359.0 457.9h0.2M363.1 421.4h0.2M356.4 456.4h0.2M344.6 444.1h0.2M370.6 430.4h0.2M356.3 452.1h0.2M410.1 479.2h0.2M341.1 411.0h0.2M350.6 415.1h0.2M370.9 436.0h0.2M370.4 433.4h0.2M328.1 470.9h0.2M384.6 451.7h0.2M386.0 448.5h0.2M409.6 483.2h0.2M347.1 445.9h0.2M400.9 409.6h0.2M408.7 427.0h0.2M335.1 414.2h0.2M334.8 468.8h0.2M387.1 466.7h0.2M349.5 444.6h0.2M343.9 468.9h0.2M395.3 475.2h0.2M322.4 443.0h0.2M384.5 433.8h0.2M340.1 403.9h0.2M350.5 411.5h0.2M334.6 417.8h0.2M386.8 426.4h0.2M396.2 413.3h0.2M364.1 455.6h0.2M364.3 444.6h0.2M353.4 464.1h0.2M366.4 436.8h0.2M402.2 420.1h0.2M383.7 447.9h0.2M351.2 403.9h0.2M405.2 419.1h0.2M381.2 439.9h0.2M351.2 412.6h0.2M390.3 435.5h0.2M355.5 459.4h0.2M345.4 441.6h0.2M396.4 433.5h0.2M338.8 412.2h0.2M381.7 409.7h0.2M410.4 478.7h0.2M370.7 450.1h0.2M403.7 434.6h0.2M366.6 427.6h0.2M390.6 454.6h0.2M355.9 455.1h0.2M390.9 449.3h0.2M351.5 404.2h0.2M327.8 434.6h0.2M407.5 421.8h0.2M345.5 459.2h0.2M402.7 409.7h0.2M361.7 451.1h0.2M354.2 406.9h0.2M324.6 449.9h0.2M391.2 447.5h0.2M340.6 454.5h0.2M410.5 456.6h0.2M385.5 460.7h0.2M347.8 408.0h0.2M388.2 440.8h0.2M401.0 465.5h0.2M376.8 440.9h0.2M395.8 446.5h0.2M342.0 399.2h0.2M321.8 464.4h0.2M390.5 443.1h0.2M342.7 411.5h0.2M340.9 422.9h0.2M347.5 460.5h0.2M336.1 453.5h0.2M402.3 447.9h0.2M352.3 408.9h0.2M394.6 448.6h0.2M365.6 418.8h0.2M382.5 425.5h0.2M399.0 419.5h0.2M410.4 455.9h0.2M351.6 396.1h0.2M393.2 437.0h0.2M333.0 430.3h0.2M408.2 427.9h0.2M325.1 450.3h0.2M394.6 445.8h0.2M355.3 442.0h0.2M394.4 446.7h0.2M404.3 478.1h0.2M397.9 411.5h0.2M403.8 417.9h0.2M338.4 396.9h0.2M332.1 426.7h0.2M395.2 415.3h0.2M366.2 426.4h0.2M391.9 441.8h0.2M384.1 428.6h0.2M351.4 411.4h0.2M402.0 427.3h0.2M339.6 400.8h0.2M340.6 429.9h0.2M333.5 423.8h0.2M348.4 413.5h0.2M330.0 408.2h0.2M319.4 455.9h0.2M336.5 468.5h0.2M368.4 426.1h0.2M392.7 445.0h0.2M338.7 424.9h0.2M402.7 433.8h0.2M373.2 438.0h0.2M412.0 477.7h0.2M365.7 415.6h0.2M399.7 457.5h0.2M350.6 453.9h0.2M358.9 404.6h0.2M333.0 434.2h0.2M332.3 427.0h0.2M322.0 444.3h0.2M325.2 458.2h0.2M350.4 464.8h0.2M336.4 414.2h0.2M400.4 488.1h0.2M352.6 418.2h0.2M387.3 425.1h0.2M390.1 463.3h0.2M402.9 416.6h0.2M387.9 437.0h0.2M342.3 462.7h0.2M397.2 422.5h0.2M390.3 432.4h0.2M355.6 404.8h0.2M340.6 464.1h0.2M349.1 397.3h0.2M397.4 423.1h0.2M357.9 443.6h0.2M376.5 450.8h0.2M337.1 461.8h0.2M359.4 454.8h0.2M395.3 435.3h0.2M364.2 424.1h0.2M385.2 475.9h0.2M368.2 452.9h0.2M408.8 415.3h0.2M385.1 451.6h0.2M395.6 475.5h0.2M390.8 428.4h0.2M375.0 429.7h0.2M393.1 478.1h0.2M396.7 429.5h0.2M337.8 467.9h0.2M358.6 451.5h0.2M356.4 404.1h0.2M335.3 416.5h0.2M324.0 451.6h0.2M382.7 430.8h0.2M406.6 480.9h0.2M339.5 462.1h0.2M329.8 409.9h0.2M401.9 482.3h0.2M346.3 449.5h0.2M401.5 418.2h0.2M368.2 439.7h0.2M337.6 469.2h0.2M391.1 433.6h0.2M338.4 413.3h0.2M377.7 436.3h0.2M336.3 404.6h0.2M387.2 481.7h0.2M386.1 415.1h0.2M332.5 463.5h0.2M398.3 452.0h0.2M407.5 415.7h0.2M331.8 437.0h0.2M354.9 403.9h0.2M370.5 421.6h0.2M325.6 468.7h0.2M343.0 457.1h0.2M406.6 426.6h0.2M388.4 444.3h0.2M358.9 443.5h0.2M355.7 454.4h0.2M354.5 423.6h0.2M331.9 448.9h0.2M382.9 479.4h0.2M365.5 454.3h0.2M388.6 437.1h0.2M334.2 437.1h0.2M414.5 471.4h0.2M356.0 416.2h0.2M326.9 466.6h0.2M398.1 457.4h0.2M350.7 451.1h0.2M403.5 415.1h0.2M370.2 427.1h0.2M339.9 470.4h0.2M387.8 452.4h0.2M401.8 450.1h0.2M376.4 447.7h0.2M397.2 429.0h0.2M320.2 465.6h0.2M364.7 454.6h0.2M393.8 427.5h0.2M389.5 482.1h0.2M345.5 405.8h0.2M350.3 456.1h0.2M397.3 417.9h0.2M347.6 405.6h0.2M349.3 445.0h0.2M377.0 425.2h0.2M343.0 415.0h0.2M386.2 432.3h0.2M350.0 405.8h0.2M321.1 455.2h0.2M371.2 424.2h0.2M344.0 404.0h0.2M348.0 397.2h0.2M332.0 408.2h0.2M397.6 422.0h0.2M352.7 425.1h0.2M334.1 452.1h0.2M326.4 454.3h0.2M350.2 459.7h0.2M361.6 418.9h0.2M333.4 430.5h0.2M334.8 403.6h0.2M386.3 444.2h0.2M387.2 451.9h0.2M382.9 446.0h0.2M324.0 445.5h0.2M351.8 464.4h0.2M397.7 446.6h0.2M389.4 427.6h0.2M397.4 441.2h0.2M408.7 458.1h0.2M328.2 452.1h0.2M338.6 410.2h0.2M373.3 446.7h0.2M369.2 425.7h0.2M404.7 417.5h0.2M362.5 442.7h0.2M363.4 456.1h0.2M359.1 442.3h0.2M372.0 426.3h0.2M347.0 456.6h0.2M332.1 437.8h0.2M335.9 429.7h0.2M402.2 456.4h0.2M399.5 425.3h0.2M362.1 454.9h0.2M357.5 445.0h0.2M344.4 411.0h0.2M331.3 437.0h0.2M368.1 444.3h0.2M358.9 421.0h0.2M391.7 428.1h0.2M361.2 444.3h0.2M347.0 462.9h0.2M403.4 418.3h0.2M388.1 429.7h0.2M322.2 464.5h0.2M323.5 450.5h0.2M398.2 423.3h0.2M347.4 452.8h0.2M329.3 469.0h0.2M329.8 432.7h0.2M357.9 457.8h0.2M339.1 414.3h0.2M320.9 460.0h0.2M345.4 465.5h0.2M330.6 464.6h0.2M348.2 455.7h0.2M331.8 434.6h0.2M400.8 485.2h0.2M341.6 464.3h0.2M382.4 435.6h0.2M344.6 451.5h0.2M360.1 455.0h0.2M403.2 452.4h0.2M339.1 463.9h0.2M335.3 436.5h0.2M369.6 426.3h0.2M387.9 466.9h0.2M404.5 477.4h0.2M354.3 458.7h0.2M384.1 474.6h0.2M345.9 451.6h0.2M341.7 470.4h0.2M354.6 451.6h0.2M396.1 427.7h0.2M335.6 417.7h0.2M372.5 419.5h0.2M319.2 448.5h0.2M335.4 407.4h0.2M386.3 421.5h0.2M355.6 417.8h0.2M328.7 437.5h0.2M325.8 440.9h0.2M370.8 448.6h0.2M387.0 456.7h0.2M388.9 426.4h0.2M350.3 446.8h0.2M320.6 458.2h0.2M384.9 430.4h0.2M380.5 430.6h0.2M402.9 413.7h0.2M400.3 453.1h0.2M337.5 409.5h0.2M407.9 487.7h0.2M344.0 463.7h0.2M401.3 460.6h0.2M407.8 425.1h0.2M398.7 452.3h0.2M384.0 428.5h0.2M399.3 416.1h0.2M380.2 433.2h0.2M400.3 468.3h0.2M334.2 435.9h0.2M328.1 435.0h0.2M391.7 462.1h0.2M386.4 453.6h0.2M341.8 469.2h0.2M408.5 427.4h0.2M350.1 442.7h0.2M382.7 427.1h0.2M330.9 465.1h0.2M343.9 461.8h0.2M402.4 409.4h0.2M394.4 486.4h0.2M397.9 443.4h0.2M414.4 487.6h0.2M375.3 427.0h0.2M358.4 454.8h0.2M413.6 483.2h0.2M328.9 425.8h0.2M410.1 472.6h0.2M332.4 438.5h0.2M317.4 452.3h0.2M346.5 468.8h0.2M388.1 454.5h0.2M325.2 451.0h0.2M404.1 453.1h0.2M364.6 441.2h0.2M333.4 410.6h0.2M323.4 445.4h0.2M325.8 463.1h0.2M331.5 432.1h0.2M333.8 422.6h0.2M337.5 438.4h0.2M339.8 401.7h0.2M398.8 469.5h0.2M369.7 418.3h0.2M396.0 427.7h0.2M347.1 403.8h0.2M341.8 459.9h0.2M354.3 442.9h0.2M345.8 458.1h0.2M363.5 436.9h0.2M402.1 426.1h0.2M367.5 430.0h0.2M329.5 470.8h0.2M348.5 441.1h0.2M344.6 414.1h0.2M334.4 464.1h0.2M404.9 471.5h0.2M356.9 444.5h0.2M387.0 432.0h0.2M364.0 442.4h0.2M392.3 450.5h0.2M372.8 412.4h0.2M390.4 419.8h0.2M331.0 442.8h0.2M347.3 458.5h0.2M407.6 466.8h0.2M383.1 430.5h0.2M364.5 420.2h0.2M361.6 418.0h0.2M369.3 427.3h0.2M345.2 413.3h0.2M393.4 434.3h0.2M327.0 437.7h0.2M391.5 409.3h0.2M344.3 410.1h0.2M345.3 411.2h0.2M380.4 443.0h0.2M339.1 413.8h0.2M348.9 398.4h0.2M375.3 435.8h0.2M341.1 417.3h0.2M366.3 449.4h0.2M375.5 422.4h0.2M336.6 410.5h0.2M319.5 457.5h0.2M350.9 451.9h0.2M367.3 444.4h0.2M351.1 411.2h0.2M344.1 458.7h0.2M415.0 462.7h0.2M335.2 413.9h0.2M335.5 435.0h0.2M350.4 463.1h0.2M376.5 425.2h0.2M377.2 446.7h0.2M343.7 419.6h0.2M375.4 444.4h0.2M320.0 460.9h0.2M390.3 416.9h0.2M388.9 453.5h0.2M355.7 419.2h0.2M340.0 431.3h0.2M384.6 464.2h0.2M384.6 434.3h0.2M378.8 428.8h0.2M322.1 463.2h0.2M327.2 438.2h0.2M326.7 459.7h0.2M356.3 453.4h0.2M338.6 454.7h0.2M342.8 403.3h0.2M346.3 442.8h0.2M371.5 429.7h0.2M392.2 452.2h0.2M390.3 435.6h0.2M348.9 406.2h0.2M336.6 409.4h0.2M391.2 487.9h0.2M364.5 418.6h0.2M409.9 415.3h0.2M353.3 443.4h0.2M367.3 430.9h0.2M404.3 411.8h0.2M335.9 406.7h0.2M354.6 404.4h0.2M398.8 427.4h0.2M345.6 415.3h0.2M371.5 443.8h0.2M379.3 450.6h0.2M348.2 396.8h0.2M336.4 468.5h0.2M392.9 461.0h0.2M318.7 461.8h0.2M392.7 453.7h0.2M349.8 446.9h0.2M335.4 466.8h0.2M343.5 455.0h0.2M395.3 452.2h0.2M351.9 452.5h0.2M375.8 447.8h0.2M337.8 429.2h0.2M329.2 442.5h0.2M344.8 465.6h0.2M346.1 447.8h0.2M366.6 438.2h0.2M389.5 446.2h0.2M329.8 442.5h0.2M344.6 444.2h0.2M399.8 422.0h0.2M405.1 428.4h0.2M405.3 418.2h0.2M405.3 414.5h0.2M370.7 441.8h0.2M394.7 423.7h0.2M396.8 481.9h0.2M318.0 458.8h0.2M327.8 418.5h0.2M345.4 402.4h0.2M394.2 433.7h0.2M381.3 435.0h0.2M346.5 413.0h0.2M385.9 454.8h0.2M349.3 446.4h0.2M359.7 418.8h0.2M411.8 458.6h0.2M388.8 407.1h0.2M346.6 443.7h0.2M407.4 472.7h0.2M377.0 447.3h0.2M350.7 396.1h0.2M373.5 431.3h0.2M354.3 400.1h0.2M404.8 417.4h0.2M327.5 424.0h0.2M377.5 440.9h0.2M351.5 411.0h0.2M407.5 437.5h0.2M361.8 450.3h0.2M366.6 445.3h0.2M394.5 424.9h0.2M406.1 417.1h0.2M345.6 464.7h0.2M331.4 404.7h0.2M341.9 431.8h0.2M352.1 451.8h0.2M384.5 430.7h0.2M361.7 450.3h0.2M391.0 446.6h0.2M341.5 455.9h0.2M379.5 432.4h0.2M402.0 409.7h0.2M324.2 444.1h0.2M353.1 448.2h0.2M343.8 400.1h0.2M323.0 458.0h0.2M395.3 440.9h0.2M348.5 405.0h0.2M327.4 469.8h0.2M352.1 418.7h0.2M383.9 440.6h0.2M332.1 426.2h0.2M388.6 472.8h0.2M333.4 414.1h0.2M396.0 449.2h0.2M398.0 460.6h0.2M379.2 417.9h0.2M385.6 468.5h0.2M345.1 470.8h0.2M333.5 415.9h0.2M337.3 426.2h0.2M371.7 432.1h0.2M398.1 411.9h0.2M350.3 397.2h0.2M341.3 415.0h0.2M388.0 425.6h0.2M383.6 429.0h0.2M346.9 401.9h0.2M403.4 448.0h0.2M392.7 437.9h0.2M407.6 432.1h0.2M316.7 458.0h0.2M392.2 439.2h0.2M396.0 438.9h0.2M341.5 410.2h0.2M400.5 419.3h0.2M365.8 451.3h0.2M347.6 451.4h0.2M373.3 429.2h0.2M367.5 426.7h0.2M387.1 415.1h0.2M365.1 442.6h0.2M391.4 474.4h0.2M333.8 430.9h0.2M346.7 421.6h0.2M338.1 416.5h0.2M371.8 420.9h0.2M367.6 445.3h0.2M388.8 450.9h0.2M391.9 442.6h0.2M332.8 471.8h0.2M340.5 410.3h0.2M372.7 425.4h0.2M365.2 449.3h0.2M389.7 426.5h0.2M337.5 428.7h0.2M376.2 433.6h0.2M329.9 433.2h0.2M343.2 424.6h0.2M390.7 431.1h0.2M389.8 430.0h0.2M329.3 447.5h0.2M331.5 417.9h0.2M324.6 450.2h0.2M352.3 401.5h0.2M348.2 397.1h0.2M322.2 450.8h0.2M343.8 442.2h0.2M345.8 418.7h0.2M323.0 456.1h0.2M414.7 483.7h0.2M384.2 480.8h0.2M339.3 420.3h0.2M347.4 466.9h0.2M403.3 410.3h0.2M392.0 462.6h0.2M362.4 442.0h0.2M382.7 433.3h0.2M334.5 437.3h0.2M384.4 484.0h0.2M352.5 406.1h0.2M361.9 441.6h0.2M341.7 465.3h0.2M380.2 428.5h0.2M335.0 438.1h0.2M357.3 456.2h0.2M351.8 396.3h0.2M367.4 449.7h0.2M405.4 421.9h0.2M397.6 457.1h0.2M328.9 412.9h0.2M391.5 448.8h0.2M392.0 457.1h0.2M344.7 418.2h0.2M403.7 431.6h0.2M323.5 447.8h0.2M409.7 483.8h0.2M359.6 453.6h0.2M325.4 468.0h0.2M363.4 414.2h0.2M399.8 420.4h0.2M398.1 422.3h0.2M328.4 406.3h0.2M362.6 443.1h0.2M389.7 406.7h0.2M416.5 479.0h0.2M389.9 453.0h0.2M392.1 449.1h0.2M383.0 430.9h0.2M341.5 410.9h0.2M399.9 413.7h0.2M354.9 416.1h0.2M400.7 414.0h0.2M381.4 427.8h0.2M345.0 406.2h0.2M373.8 445.0h0.2M360.2 424.4h0.2M392.5 419.3h0.2M346.8 445.2h0.2M402.3 448.5h0.2M395.3 407.8h0.2M357.2 404.3h0.2M411.0 482.3h0.2M378.2 429.5h0.2M349.9 418.3h0.2M400.8 449.7h0.2M337.0 431.3h0.2M378.0 441.6h0.2M338.2 451.1h0.2M336.0 420.3h0.2M333.9 405.9h0.2M349.2 402.6h0.2M406.8 417.8h0.2M400.6 431.7h0.2M336.8 457.0h0.2M405.3 448.4h0.2M329.5 410.4h0.2M395.5 471.7h0.2M340.0 451.0h0.2M391.3 460.8h0.2M333.0 471.3h0.2M390.1 449.2h0.2M360.8 420.7h0.2M400.1 421.0h0.2M400.5 479.8h0.2M334.2 415.3h0.2M377.3 413.2h0.2M358.2 415.1h0.2M406.7 435.9h0.2M338.4 437.4h0.2M380.3 440.5h0.2M338.2 436.6h0.2M405.6 425.1h0.2M364.0 445.8h0.2M404.9 415.7h0.2M403.5 424.7h0.2M395.5 420.3h0.2M338.5 404.1h0.2M369.5 446.5h0.2M367.9 441.3h0.2M342.1 461.1h0.2M354.0 443.2h0.2M361.5 448.3h0.2M362.9 455.2h0.2M331.1 419.8h0.2M399.5 447.7h0.2M369.1 447.9h0.2M370.9 431.5h0.2M344.8 465.3h0.2M351.1 413.0h0.2M391.5 464.4h0.2M403.8 456.6h0.2M385.1 434.8h0.2M413.8 472.3h0.2M399.5 435.3h0.2M408.5 417.6h0.2M356.9 409.5h0.2M354.7 446.2h0.2M377.9 446.7h0.2M350.0 401.5h0.2M329.4 415.8h0.2M331.2 443.4h0.2M405.9 448.1h0.2M341.7 445.8h0.2M353.9 452.5h0.2M356.6 445.2h0.2M339.6 433.9h0.2M345.5 424.1h0.2M325.0 465.2h0.2M356.8 409.1h0.2M383.7 439.1h0.2M350.7 466.4h0.2M327.5 464.8h0.2M346.1 404.4h0.2M409.2 421.5h0.2M400.8 417.8h0.2M333.2 467.6h0.2M334.8 403.4h0.2M359.1 435.0h0.2M343.5 454.3h0.2M341.6 411.2h0.2M400.2 418.3h0.2M349.4 449.7h0.2M334.4 439.0h0.2M385.4 417.3h0.2M335.7 462.1h0.2M353.0 415.5h0.2M389.3 410.9h0.2M377.5 414.7h0.2M387.1 431.9h0.2M334.1 466.8h0.2M386.5 430.1h0.2M329.5 446.7h0.2M371.6 433.1h0.2M384.3 477.5h0.2M409.4 452.9h0.2M398.6 422.7h0.2M329.9 422.1h0.2M352.5 465.0h0.2M378.0 425.3h0.2M341.7 472.7h0.2M346.3 470.8h0.2M334.9 401.8h0.2M414.2 484.6h0.2M391.3 449.3h0.2M349.2 398.7h0.2M407.6 422.1h0.2M404.9 457.2h0.2M352.0 443.5h0.2M388.5 445.3h0.2M396.6 452.4h0.2M406.0 418.0h0.2M338.1 457.6h0.2M332.9 413.1h0.2M399.2 458.8h0.2M339.4 469.3h0.2M328.8 438.3h0.2M343.6 404.8h0.2M384.7 461.0h0.2M362.7 454.7h0.2M332.3 416.8h0.2M383.1 407.5h0.2M328.2 428.7h0.2M396.3 434.1h0.2M402.1 412.3h0.2M364.5 450.5h0.2M365.0 446.2h0.2M363.9 411.6h0.2M355.8 416.1h0.2M349.9 466.3h0.2M401.6 413.9h0.2M411.2 475.8h0.2M411.5 464.2h0.2M340.2 427.2h0.2M357.7 413.7h0.2M319.2 448.9h0.2M336.5 401.8h0.2M373.1 451.4h0.2M339.2 414.1h0.2M326.4 464.6h0.2M367.2 436.9h0.2M406.5 415.0h0.2M401.8 441.9h0.2M399.7 471.9h0.2M330.2 445.1h0.2M401.0 411.5h0.2M386.8 458.7h0.2M357.8 445.4h0.2M328.0 410.0h0.2M328.4 427.0h0.2M329.4 464.3h0.2M330.9 435.7h0.2M340.5 419.1h0.2M388.5 456.7h0.2M332.6 412.4h0.2M338.6 428.0h0.2M390.7 467.4h0.2M357.2 454.3h0.2M384.4 411.2h0.2M387.4 445.0h0.2M343.4 454.2h0.2M357.4 448.9h0.2M377.9 415.0h0.2M400.4 414.7h0.2M350.9 402.4h0.2M370.2 415.6h0.2M361.4 450.5h0.2M335.1 436.4h0.2M366.3 418.7h0.2M364.9 435.2h0.2M387.8 443.9h0.2M358.1 405.4h0.2M328.5 413.8h0.2M346.5 417.0h0.2M407.7 478.6h0.2M330.8 468.5h0.2M397.0 478.9h0.2M395.4 461.7h0.2M341.5 457.2h0.2M406.3 426.5h0.2M388.2 416.8h0.2M321.9 447.0h0.2M360.0 439.9h0.2M405.3 426.4h0.2M351.3 415.2h0.2M387.4 468.0h0.2M357.9 419.2h0.2M336.7 447.6h0.2M389.9 433.5h0.2M393.5 412.4h0.2M371.4 444.3h0.2M370.3 426.7h0.2M335.9 463.2h0.2M319.3 455.7h0.2M394.2 427.5h0.2M401.7 409.3h0.2M358.8 410.1h0.2M349.6 453.1h0.2M335.6 448.5h0.2M372.8 446.7h0.2M335.7 471.8h0.2M333.5 432.0h0.2M395.5 454.8h0.2M382.2 447.5h0.2M349.7 406.5h0.2M328.9 432.1h0.2M373.5 429.5h0.2M395.3 442.9h0.2M355.8 432.4h0.2M344.0 452.6h0.2M386.3 439.1h0.2M329.1 419.8h0.2M333.8 404.8h0.2M387.3 454.5h0.2M321.2 465.4h0.2M386.3 457.3h0.2M345.7 439.0h0.2M344.6 396.2h0.2M359.7 408.8h0.2M337.8 453.3h0.2M376.7 433.3h0.2M379.9 446.7h0.2M386.1 454.3h0.2M399.8 417.8h0.2M380.6 421.2h0.2M376.9 443.4h0.2M331.1 459.2h0.2M381.7 434.1h0.2M356.0 458.6h0.2M385.4 438.6h0.2M405.3 436.5h0.2M399.1 426.7h0.2M343.7 462.7h0.2M368.8 435.5h0.2M366.3 441.6h0.2M364.9 453.3h0.2M345.3 428.7h0.2M344.8 420.7h0.2M396.5 412.9h0.2M337.6 405.3h0.2M360.3 451.3h0.2M368.6 433.8h0.2M346.2 418.4h0.2M408.7 420.4h0.2M397.9 436.6h0.2M411.5 458.1h0.2M362.4 441.4h0.2M389.0 446.0h0.2M320.8 446.7h0.2M385.2 409.2h0.2M354.2 418.3h0.2M372.3 426.1h0.2M336.5 427.0h0.2M339.7 421.4h0.2M331.5 406.0h0.2M412.4 462.9h0.2M368.4 421.8h0.2M384.4 434.0h0.2M330.1 457.9h0.2M373.5 414.2h0.2M385.1 475.1h0.2M330.2 461.1h0.2M396.0 450.4h0.2M316.8 454.5h0.2M378.8 436.7h0.2M356.6 399.4h0.2M359.5 417.2h0.2M384.1 441.6h0.2M329.5 422.6h0.2M406.4 417.6h0.2M401.1 421.3h0.2M337.4 435.3h0.2M389.1 452.7h0.2M345.1 396.2h0.2M326.3 440.1h0.2M342.2 468.7h0.2M330.1 460.7h0.2M339.8 460.3h0.2M382.1 408.9h0.2M368.3 432.4h0.2M392.9 430.6h0.2M405.5 436.0h0.2M338.1 398.4h0.2M354.6 400.5h0.2M325.7 460.9h0.2M327.7 445.7h0.2M393.5 443.6h0.2M361.0 412.0h0.2M381.3 419.6h0.2M348.3 469.0h0.2M379.8 437.3h0.2M343.8 465.4h0.2M359.3 405.0h0.2M338.8 439.2h0.2M333.2 416.0h0.2M329.2 429.4h0.2M374.1 428.0h0.2M336.4 459.9h0.2M359.2 457.0h0.2M357.4 450.2h0.2M381.1 438.3h0.2M338.8 439.9h0.2M343.4 457.8h0.2M407.2 426.3h0.2M342.2 405.8h0.2M337.1 437.0h0.2M349.3 445.9h0.2M379.0 449.1h0.2M339.2 461.5h0.2M378.1 426.4h0.2M331.7 470.2h0.2M393.5 451.5h0.2M336.1 410.7h0.2M402.2 454.3h0.2M403.2 427.9h0.2M367.7 420.7h0.2M326.0 453.9h0.2M351.3 465.6h0.2M368.4 445.3h0.2M327.7 470.6h0.2M340.3 453.6h0.2M338.6 440.6h0.2M318.8 448.7h0.2M386.5 440.5h0.2M343.4 456.4h0.2M335.2 461.2h0.2M331.2 467.6h0.2M376.6 448.3h0.2M386.2 438.7h0.2M395.7 443.9h0.2M392.2 424.2h0.2M398.1 428.9h0.2M339.8 450.4h0.2M409.9 457.4h0.2M353.3 397.8h0.2M326.1 453.4h0.2M371.7 427.0h0.2M368.3 413.1h0.2M416.4 467.1h0.2M343.2 462.0h0.2M368.5 434.1h0.2M368.7 446.8h0.2M343.0 453.5h0.2M401.5 425.8h0.2M335.2 466.6h0.2M398.8 471.3h0.2M386.9 441.6h0.2M339.1 411.9h0.2M328.4 463.6h0.2M326.8 452.8h0.2M328.2 446.3h0.2M391.0 450.5h0.2M379.4 425.9h0.2M342.3 434.6h0.2M345.8 418.9h0.2M394.9 452.8h0.2M403.2 415.7h0.2M395.0 458.7h0.2M331.6 467.1h0.2M380.0 443.6h0.2M334.9 435.4h0.2M384.6 435.6h0.2M368.6 430.3h0.2M333.9 454.0h0.2M350.2 465.2h0.2M385.0 445.4h0.2M334.2 441.8h0.2M321.3 458.7h0.2M363.8 442.0h0.2M374.3 449.5h0.2M337.6 459.9h0.2M343.1 471.0h0.2M340.7 471.6h0.2M355.4 417.4h0.2M356.3 443.3h0.2M365.7 436.2h0.2M405.4 456.2h0.2M394.5 443.6h0.2M349.7 464.1h0.2M378.8 449.0h0.2M338.7 447.5h0.2M371.7 439.2h0.2M383.7 413.9h0.2M320.6 460.4h0.2M342.4 461.7h0.2M377.6 414.7h0.2M371.3 426.2h0.2M404.8 411.5h0.2M339.6 454.3h0.2M370.5 437.3h0.2M331.8 408.1h0.2M394.2 469.5h0.2M399.0 444.3h0.2M391.0 451.3h0.2M347.2 456.0h0.2M330.3 435.8h0.2M349.6 456.4h0.2M357.2 416.1h0.2M337.2 423.9h0.2M357.4 442.3h0.2M323.1 455.1h0.2M319.3 447.8h0.2M341.8 452.1h0.2M351.7 407.0h0.2M380.5 421.4h0.2M395.5 442.4h0.2M329.0 471.4h0.2M357.4 445.0h0.2M386.7 435.2h0.2M383.8 464.4h0.2M394.4 435.5h0.2M406.0 489.5h0.2M350.3 415.8h0.2M361.5 452.8h0.2M332.6 463.7h0.2M362.0 444.0h0.2M398.6 449.3h0.2M411.8 466.8h0.2M340.7 412.1h0.2M351.2 406.0h0.2M395.3 426.6h0.2M344.8 396.3h0.2M393.8 417.4h0.2M396.1 438.2h0.2M332.4 413.7h0.2M317.2 451.2h0.2M397.5 454.1h0.2M400.6 467.6h0.2M331.4 440.6h0.2M352.7 413.5h0.2M353.1 458.7h0.2M350.2 418.7h0.2M409.4 459.9h0.2M354.3 400.1h0.2M327.4 467.0h0.2M357.8 400.7h0.2M382.8 438.8h0.2M356.0 445.5h0.2M332.7 424.8h0.2M388.3 479.7h0.2M354.0 418.3h0.2M341.6 441.0h0.2M357.5 412.0h0.2M327.8 441.1h0.2M388.2 443.7h0.2M335.3 427.5h0.2M347.7 409.2h0.2M377.8 441.8h0.2M403.8 414.2h0.2M396.3 428.6h0.2M343.1 466.0h0.2M377.5 450.6h0.2M342.2 407.1h0.2M381.2 431.7h0.2M326.5 439.5h0.2M373.5 441.4h0.2M390.1 474.7h0.2M334.0 435.2h0.2M322.9 447.0h0.2M387.1 447.8h0.2M381.5 444.6h0.2M377.5 428.2h0.2M405.3 436.5h0.2M400.7 409.7h0.2M344.7 472.6h0.2M389.3 429.7h0.2M339.7 453.3h0.2M378.3 450.2h0.2M329.3 450.6h0.2M396.3 419.5h0.2M333.1 415.7h0.2M385.3 432.3h0.2M385.5 434.4h0.2M383.6 446.1h0.2M340.0 433.3h0.2M338.4 397.7h0.2M338.2 424.6h0.2M348.2 415.5h0.2M404.5 459.9h0.2M360.1 454.8h0.2M397.4 438.4h0.2M407.5 470.8h0.2M408.0 422.3h0.2M397.4 447.7h0.2M388.5 443.8h0.2M369.1 423.4h0.2M396.2 420.9h0.2M387.1 479.3h0.2M377.7 441.7h0.2M344.3 405.0h0.2M327.9 467.1h0.2M327.5 438.5h0.2M389.9 460.5h0.2M354.0 460.0h0.2M347.6 464.6h0.2M374.7 446.7h0.2M345.2 451.0h0.2M380.8 449.6h0.2M401.4 444.3h0.2M390.9 439.4h0.2M359.7 456.2h0.2M368.0 418.8h0.2M342.8 404.9h0.2M330.9 419.4h0.2M406.5 432.6h0.2M415.0 476.5h0.2M408.5 426.6h0.2M390.4 474.3h0.2M345.8 398.7h0.2M341.6 458.8h0.2M321.7 448.0h0.2M346.8 469.3h0.2M337.8 428.8h0.2M395.3 434.0h0.2M377.3 438.2h0.2M347.8 443.4h0.2M358.8 444.2h0.2M362.0 447.5h0.2M405.9 448.7h0.2M399.2 436.7h0.2M370.0 435.5h0.2M335.5 455.8h0.2M409.0 479.2h0.2M341.7 426.1h0.2M388.1 439.8h0.2M366.5 427.4h0.2M336.1 415.7h0.2M352.4 410.7h0.2M328.9 443.3h0.2M344.2 410.6h0.2M336.8 461.4h0.2M325.5 443.2h0.2M374.2 413.0h0.2M347.5 435.1h0.2M336.8 419.0h0.2M328.0 422.5h0.2M331.9 405.1h0.2M386.5 445.8h0.2M400.0 427.7h0.2M330.0 454.9h0.2M330.9 438.3h0.2M397.7 431.2h0.2M348.2 445.7h0.2M338.5 467.3h0.2M351.7 446.0h0.2M358.9 422.2h0.2M387.3 406.8h0.2M341.6 451.8h0.2M342.0 454.3h0.2M371.9 449.8h0.2M326.6 439.0h0.2M400.3 446.3h0.2M338.6 469.8h0.2M402.5 443.7h0.2M339.5 412.9h0.2M396.8 411.5h0.2M320.4 450.1h0.2M330.6 404.9h0.2M328.0 408.2h0.2M339.2 440.6h0.2M350.6 468.7h0.2M329.6 464.6h0.2M379.5 440.3h0.2M328.6 450.1h0.2M350.0 407.0h0.2M325.5 468.1h0.2M331.4 421.5h0.2M385.4 468.0h0.2M339.5 421.1h0.2M380.6 427.2h0.2M359.1 415.9h0.2M403.9 410.0h0.2M329.3 432.8h0.2M325.7 447.6h0.2M320.7 449.1h0.2M372.7 438.6h0.2M378.7 409.1h0.2M345.7 400.6h0.2M379.3 441.1h0.2M385.5 464.5h0.2M386.8 429.3h0.2M349.0 407.5h0.2M322.1 456.7h0.2M373.9 441.4h0.2M344.9 406.3h0.2M346.4 462.1h0.2M337.2 456.3h0.2M328.9 429.0h0.2M327.4 442.8h0.2M395.1 481.5h0.2M328.8 430.1h0.2M335.4 436.1h0.2M394.6 473.5h0.2M380.9 416.3h0.2M387.6 449.3h0.2M339.6 414.6h0.2M402.7 439.8h0.2M396.7 419.0h0.2M339.9 402.6h0.2M353.1 455.5h0.2" stroke="#e8582a" stroke-width="1.1" stroke-linecap="round" fill="none" stroke-opacity="0.85"/>
<path d="M442.0,405.6 C444.0,402.2 448.4,398.5 452.3,396.8 C456.2,395.1 462.2,394.6 465.6,395.3 C469.1,396.0 471.5,398.8 473.0,401.2 C474.5,403.6 472.4,408.0 474.4,410.0 C476.4,412.0 482.1,413.2 484.8,413.0 C487.5,412.8 487.8,409.7 490.7,408.6 C493.6,407.5 498.2,406.3 502.4,406.2 C506.6,406.1 512.0,406.6 515.7,408.0 C519.4,409.4 523.4,411.4 524.6,414.5 C525.8,417.6 523.5,421.4 523.0,426.3 C522.5,431.2 521.3,439.1 521.6,444.0 C521.9,448.9 523.1,452.4 524.6,455.8 C526.1,459.2 529.3,460.7 530.5,464.6 C531.7,468.5 532.5,475.1 532.0,479.3 C531.5,483.5 531.0,487.5 527.5,489.7 C524.0,491.9 516.0,492.9 511.3,492.6 C506.6,492.4 502.2,490.4 499.5,488.2 C496.8,486.0 495.5,482.8 495.0,479.3 C494.5,475.9 495.8,471.4 496.5,467.5 C497.2,463.6 499.5,458.7 499.5,455.8 C499.5,452.9 498.9,450.4 496.5,449.9 C494.1,449.4 489.0,451.3 484.8,452.8 C480.6,454.3 474.5,456.2 471.5,458.7 C468.5,461.1 469.2,465.1 467.0,467.5 C464.8,469.9 461.6,472.4 458.2,473.4 C454.8,474.4 450.3,474.4 446.4,473.4 C442.5,472.4 437.3,470.2 434.6,467.5 C431.9,464.8 430.7,460.6 430.2,457.2 C429.7,453.8 430.0,449.8 431.7,446.9 C433.4,443.9 438.8,442.4 440.5,439.5 C442.2,436.6 442.0,432.9 442.0,429.2 C442.0,425.5 440.5,421.3 440.5,417.4 C440.5,413.5 440.0,409.0 442.0,405.6Z" fill="#f0f0f0"/>
<path d="M449.0,425.0 C450.7,421.3 459.5,419.5 464.0,420.0 C468.5,420.5 472.3,425.8 476.0,428.0 C479.7,430.2 485.0,430.2 486.0,433.0 C487.0,435.8 485.3,442.7 482.0,445.0 C478.7,447.3 470.7,447.5 466.0,447.0 C461.3,446.5 456.8,445.7 454.0,442.0 C451.2,438.3 447.3,428.7 449.0,425.0Z" fill="#f8f8f8"/>
<path d="M456.1 433.3h0.2M445.8 428.8h0.2M526.1 472.9h0.2M514.8 460.8h0.2M511.0 467.2h0.2M463.1 408.9h0.2M527.6 488.5h0.2M508.9 468.9h0.2M519.3 458.5h0.2M512.7 433.5h0.2M455.0 455.0h0.2M467.2 400.0h0.2M524.8 483.4h0.2M514.4 475.9h0.2M498.7 482.9h0.2M520.7 458.5h0.2M450.8 432.1h0.2M520.7 477.4h0.2M513.6 434.1h0.2M496.9 435.4h0.2M528.7 471.2h0.2M521.4 488.8h0.2M517.6 451.7h0.2M463.0 412.6h0.2M517.5 485.2h0.2M520.5 475.8h0.2M518.0 448.0h0.2M515.8 456.3h0.2M464.4 415.0h0.2M521.3 438.4h0.2M515.0 432.8h0.2M507.4 466.7h0.2M514.9 483.5h0.2M512.1 447.6h0.2M499.4 478.0h0.2M505.7 484.0h0.2M518.7 479.3h0.2M512.7 467.5h0.2M517.8 466.9h0.2M517.2 473.7h0.2M517.4 486.8h0.2M460.6 460.7h0.2M519.1 479.4h0.2M514.9 443.1h0.2M517.8 466.9h0.2M466.3 426.4h0.2M522.8 475.2h0.2M456.0 468.1h0.2M512.9 477.7h0.2M517.1 414.8h0.2M519.4 456.8h0.2M509.7 477.9h0.2M507.6 482.2h0.2M513.0 472.2h0.2M514.3 463.9h0.2M502.5 470.1h0.2M469.1 448.6h0.2M520.8 487.7h0.2M501.9 470.8h0.2M526.0 471.6h0.2M509.3 491.5h0.2M483.3 413.2h0.2M431.9 457.0h0.2M518.5 434.8h0.2M460.9 449.3h0.2M516.8 483.5h0.2M505.6 420.0h0.2M518.1 430.5h0.2M431.9 452.9h0.2M490.1 422.1h0.2M508.5 437.6h0.2M505.7 473.6h0.2M525.5 487.3h0.2M525.8 478.0h0.2M449.1 411.3h0.2M519.9 447.2h0.2M507.1 463.9h0.2M519.9 438.3h0.2M517.9 469.1h0.2M517.7 425.6h0.2M497.7 476.2h0.2M515.1 487.7h0.2M521.7 422.6h0.2M521.9 459.1h0.2M449.3 469.9h0.2M510.1 472.8h0.2M529.2 469.0h0.2M525.0 481.8h0.2M446.2 462.8h0.2M528.0 473.6h0.2M528.1 483.7h0.2M514.3 443.8h0.2M500.4 477.2h0.2M515.2 455.2h0.2M505.4 426.5h0.2M471.2 402.8h0.2M513.6 467.4h0.2M510.3 422.7h0.2M501.7 464.8h0.2M523.2 475.8h0.2M508.4 471.4h0.2M504.9 459.0h0.2M495.2 478.5h0.2M441.3 438.6h0.2M514.0 480.1h0.2M513.9 450.9h0.2M475.1 447.0h0.2M518.6 486.9h0.2M461.0 430.7h0.2M504.8 437.0h0.2M514.0 436.9h0.2M514.1 478.4h0.2M446.5 468.5h0.2M471.3 443.7h0.2M449.0 439.5h0.2M521.8 427.5h0.2M529.6 480.9h0.2M499.8 458.4h0.2M514.1 420.8h0.2M513.3 480.9h0.2M446.7 439.3h0.2M505.8 463.4h0.2M510.0 448.8h0.2M463.0 420.5h0.2M519.2 436.9h0.2M453.2 419.5h0.2M513.8 466.4h0.2M450.0 435.2h0.2M529.8 484.1h0.2M527.4 479.1h0.2M519.9 475.4h0.2M461.7 410.5h0.2M515.5 465.6h0.2M502.1 475.8h0.2M525.9 489.1h0.2M523.3 488.7h0.2M509.3 430.0h0.2M511.2 486.1h0.2M529.5 482.6h0.2M503.4 458.6h0.2M524.0 481.7h0.2M511.4 468.3h0.2M486.1 451.3h0.2M518.7 480.8h0.2M508.1 461.1h0.2M498.4 474.1h0.2M520.4 467.6h0.2M509.3 489.9h0.2M431.3 451.0h0.2M511.7 484.6h0.2M517.3 450.7h0.2M502.2 485.6h0.2M528.2 485.8h0.2M454.9 468.4h0.2M519.5 431.8h0.2M518.8 461.2h0.2M522.4 480.8h0.2M515.0 491.1h0.2M506.8 482.4h0.2M462.5 447.3h0.2M515.2 485.3h0.2M498.3 468.3h0.2M502.1 466.2h0.2M517.4 489.8h0.2M517.0 487.0h0.2M510.2 425.0h0.2M510.1 412.5h0.2M506.8 487.5h0.2M520.8 457.9h0.2M514.8 426.5h0.2M524.2 473.3h0.2M511.9 460.3h0.2M443.8 416.8h0.2M514.9 475.0h0.2M512.3 429.5h0.2M512.8 437.5h0.2M508.5 489.3h0.2M515.6 454.3h0.2M500.0 459.8h0.2M518.0 445.5h0.2M474.5 427.2h0.2M477.6 455.3h0.2M515.7 455.1h0.2M520.2 470.8h0.2M511.5 474.7h0.2M510.2 490.5h0.2M487.3 425.7h0.2M508.6 464.8h0.2M512.2 471.2h0.2M514.6 477.9h0.2M457.9 424.4h0.2M500.4 464.0h0.2M507.0 470.4h0.2M516.5 444.0h0.2M503.0 423.1h0.2M500.6 488.2h0.2M493.0 435.2h0.2M522.5 424.5h0.2M495.4 478.9h0.2M451.0 448.0h0.2M516.9 458.8h0.2M515.3 488.4h0.2M518.1 447.0h0.2M460.9 423.3h0.2M509.9 466.8h0.2M517.5 477.9h0.2M508.1 484.3h0.2M513.0 444.6h0.2M530.3 482.9h0.2M531.4 478.0h0.2M504.4 458.6h0.2M504.8 464.3h0.2M507.0 456.8h0.2M515.4 463.7h0.2M445.1 409.2h0.2M516.9 461.5h0.2M511.8 458.3h0.2M445.6 428.8h0.2M514.7 485.3h0.2M514.2 476.3h0.2M511.3 423.2h0.2M517.0 491.2h0.2M474.5 438.7h0.2M461.6 457.6h0.2M506.8 477.5h0.2M515.0 448.3h0.2M514.2 464.2h0.2M520.9 447.9h0.2M526.8 479.7h0.2M471.7 440.6h0.2M510.4 487.9h0.2M518.2 446.9h0.2M506.6 483.6h0.2M459.6 424.3h0.2M435.7 445.4h0.2M512.5 443.2h0.2M451.8 447.1h0.2M500.0 466.8h0.2M523.8 473.3h0.2M527.0 461.5h0.2M511.5 477.8h0.2M472.4 417.6h0.2M473.8 419.9h0.2M520.0 479.0h0.2M458.9 416.2h0.2M442.2 425.1h0.2M510.9 443.0h0.2M504.3 488.0h0.2M455.2 432.1h0.2M518.4 490.5h0.2M518.9 463.8h0.2M502.5 460.7h0.2M502.7 472.5h0.2M515.6 463.7h0.2M512.3 485.3h0.2M508.8 471.2h0.2M454.8 431.9h0.2M514.6 448.6h0.2M505.4 459.1h0.2M516.9 435.3h0.2M501.3 460.0h0.2M499.1 486.9h0.2M503.4 475.3h0.2M499.3 481.4h0.2M504.4 464.4h0.2M526.6 468.3h0.2M520.8 459.7h0.2M463.8 424.4h0.2M519.8 452.9h0.2M506.0 473.7h0.2M512.4 464.7h0.2M520.5 467.5h0.2M455.6 409.1h0.2M531.1 478.2h0.2M513.5 489.6h0.2M441.5 410.9h0.2M514.6 461.6h0.2M495.4 479.1h0.2M500.8 465.5h0.2M502.9 462.7h0.2M528.4 476.8h0.2M523.8 485.5h0.2M522.7 472.9h0.2M522.0 462.6h0.2M518.9 466.9h0.2M442.2 450.7h0.2M529.7 473.8h0.2M514.6 483.6h0.2M488.0 412.7h0.2M527.2 475.1h0.2M517.2 426.0h0.2M499.7 462.0h0.2M497.5 481.9h0.2M527.8 463.3h0.2M520.0 451.8h0.2M500.9 484.4h0.2M443.2 412.5h0.2M499.8 473.6h0.2M511.2 460.6h0.2M503.0 476.7h0.2M449.9 403.3h0.2M449.0 410.8h0.2M467.4 447.2h0.2M513.6 467.5h0.2M516.9 429.7h0.2M513.2 486.9h0.2M517.8 423.9h0.2M512.2 408.9h0.2M510.4 483.2h0.2M510.0 474.5h0.2M511.7 484.9h0.2M519.1 485.2h0.2M512.2 454.6h0.2M504.5 483.4h0.2M502.3 462.4h0.2M446.3 402.3h0.2M513.7 418.1h0.2M506.6 445.0h0.2M454.8 444.9h0.2M526.5 475.6h0.2M511.5 407.8h0.2M524.4 463.6h0.2M456.1 466.7h0.2M511.0 440.1h0.2M472.6 407.6h0.2M437.8 441.9h0.2M499.8 481.1h0.2M476.7 424.8h0.2M523.8 469.3h0.2M521.9 454.1h0.2M444.2 460.2h0.2M438.6 462.5h0.2M507.3 472.0h0.2M470.3 429.0h0.2M448.9 464.2h0.2M514.0 436.9h0.2M503.7 488.6h0.2M514.7 429.5h0.2M524.6 466.0h0.2M505.8 460.5h0.2M521.2 479.9h0.2M511.3 484.8h0.2M499.7 459.3h0.2M519.0 418.5h0.2M519.5 481.0h0.2M498.0 482.3h0.2M515.9 439.0h0.2M513.7 477.4h0.2M519.0 463.6h0.2M527.9 486.7h0.2M509.9 465.4h0.2M516.2 430.0h0.2M503.6 460.8h0.2M505.7 458.9h0.2M516.3 454.7h0.2M515.1 486.5h0.2M518.5 440.2h0.2M451.4 410.4h0.2M516.2 429.8h0.2M518.6 439.5h0.2M514.1 431.8h0.2M475.5 423.5h0.2M519.6 488.2h0.2M518.6 421.3h0.2M521.3 460.0h0.2M510.8 433.7h0.2M490.8 425.3h0.2M508.1 421.3h0.2M495.8 479.9h0.2M512.0 453.4h0.2M513.6 487.5h0.2M477.5 412.4h0.2M504.5 475.2h0.2M496.6 476.8h0.2M512.6 471.4h0.2M510.4 458.5h0.2M516.8 480.7h0.2M521.4 484.3h0.2M511.6 473.8h0.2M499.8 475.6h0.2M515.8 460.5h0.2M515.1 436.2h0.2M512.9 449.9h0.2M520.1 487.8h0.2M497.7 408.9h0.2M525.0 457.1h0.2M510.1 461.9h0.2M512.4 471.6h0.2M501.9 464.9h0.2M512.6 433.0h0.2M450.7 404.8h0.2M466.2 405.5h0.2M454.5 466.3h0.2M513.1 479.8h0.2M496.8 439.8h0.2M514.3 480.6h0.2M497.8 467.6h0.2M527.6 480.9h0.2M517.2 481.8h0.2M498.2 478.9h0.2M467.0 416.5h0.2M491.5 440.5h0.2M527.3 482.7h0.2M511.0 479.5h0.2M508.1 433.2h0.2M515.8 437.4h0.2M504.5 471.2h0.2M499.2 466.7h0.2M493.9 427.1h0.2M497.8 436.5h0.2M517.6 477.7h0.2M496.4 434.8h0.2M522.5 466.9h0.2M526.3 463.6h0.2M516.4 454.3h0.2M497.3 474.7h0.2M518.1 487.4h0.2M498.0 480.5h0.2M502.9 484.3h0.2M503.8 449.8h0.2M518.9 469.5h0.2M514.3 480.5h0.2M531.5 476.5h0.2M508.8 482.4h0.2M520.3 469.9h0.2M520.8 471.4h0.2M523.3 467.0h0.2M528.9 473.7h0.2M509.5 458.9h0.2M520.5 428.1h0.2M453.3 445.2h0.2M506.7 484.6h0.2M451.9 450.9h0.2M515.2 458.4h0.2M513.4 480.3h0.2M516.5 464.4h0.2M501.3 458.8h0.2M514.5 422.6h0.2M522.4 462.4h0.2M466.5 459.5h0.2M525.1 478.8h0.2M510.7 428.4h0.2M524.2 464.7h0.2M437.5 451.0h0.2M508.0 480.5h0.2M509.5 474.4h0.2M441.6 413.4h0.2M513.2 491.2h0.2M517.3 424.4h0.2M500.5 478.9h0.2M520.5 445.8h0.2M509.8 425.7h0.2M505.3 474.1h0.2M481.4 451.6h0.2M504.0 464.0h0.2M435.5 457.6h0.2M483.1 418.2h0.2M516.9 443.4h0.2M525.4 478.4h0.2M524.7 461.6h0.2M529.0 478.2h0.2M518.0 428.7h0.2M516.4 433.3h0.2M519.6 441.8h0.2M476.1 448.9h0.2M509.4 489.2h0.2M496.5 425.2h0.2M507.5 468.2h0.2M482.7 447.0h0.2M465.3 458.4h0.2M517.0 480.5h0.2M468.1 411.9h0.2M521.6 474.8h0.2M507.2 485.8h0.2M507.3 458.9h0.2M447.3 442.4h0.2M446.4 422.5h0.2M522.1 461.4h0.2M517.4 478.9h0.2M513.3 480.1h0.2M498.7 483.4h0.2M525.1 461.1h0.2M520.9 485.4h0.2M510.8 488.6h0.2M527.5 475.0h0.2M518.1 465.5h0.2M504.6 458.1h0.2M459.6 420.1h0.2M477.5 442.2h0.2M521.2 478.0h0.2M514.9 482.7h0.2M501.2 483.7h0.2M517.3 454.2h0.2M498.1 465.1h0.2M519.0 490.2h0.2M508.8 487.5h0.2M447.3 403.3h0.2M512.9 424.8h0.2M454.1 455.7h0.2M530.5 467.1h0.2M520.4 485.1h0.2M500.1 473.0h0.2M457.5 454.5h0.2M521.8 440.2h0.2M515.2 416.8h0.2M454.2 403.9h0.2M497.6 449.4h0.2M466.3 445.4h0.2M505.8 414.5h0.2M456.1 459.0h0.2M478.6 439.5h0.2M499.7 467.1h0.2M506.0 460.5h0.2M507.7 418.2h0.2M520.4 439.0h0.2M511.6 455.4h0.2M515.4 488.1h0.2M509.9 469.3h0.2M520.4 468.6h0.2M522.0 435.3h0.2M509.0 491.6h0.2M514.3 477.8h0.2M519.2 426.2h0.2M504.3 473.5h0.2M446.5 429.8h0.2M515.0 463.6h0.2M513.8 475.9h0.2M473.4 410.3h0.2M521.8 467.8h0.2M518.6 479.0h0.2M495.3 416.0h0.2M467.7 436.7h0.2M518.0 424.9h0.2M518.4 448.4h0.2M500.0 479.3h0.2M499.5 481.1h0.2M526.4 479.9h0.2M515.3 427.6h0.2M460.9 415.8h0.2M510.1 456.0h0.2M484.6 444.8h0.2M522.4 487.7h0.2M510.9 487.1h0.2M519.5 446.4h0.2M514.5 472.8h0.2M434.9 464.7h0.2M521.1 471.1h0.2M507.2 477.1h0.2M514.3 458.3h0.2M520.5 461.3h0.2M521.9 482.5h0.2M502.0 471.4h0.2M514.8 423.7h0.2M456.3 410.7h0.2M499.0 465.2h0.2M439.7 466.9h0.2M520.2 468.4h0.2M520.3 478.3h0.2M519.5 490.2h0.2M507.9 463.0h0.2M506.3 476.4h0.2M483.3 426.4h0.2M493.0 420.1h0.2M518.7 487.0h0.2M528.6 461.7h0.2M501.2 424.9h0.2M521.5 419.8h0.2M512.4 479.3h0.2M525.3 463.4h0.2M464.2 425.8h0.2M454.0 408.0h0.2M510.0 489.6h0.2M466.1 419.1h0.2M466.9 414.0h0.2M518.0 459.0h0.2M515.5 431.4h0.2M501.4 473.2h0.2M445.2 428.9h0.2M499.7 430.6h0.2M518.0 477.7h0.2M500.7 471.7h0.2M517.9 484.8h0.2M433.1 452.7h0.2M518.3 491.1h0.2M515.2 487.6h0.2M478.8 442.7h0.2M526.7 471.5h0.2M511.6 480.5h0.2M511.0 433.2h0.2M454.7 443.4h0.2M499.9 470.4h0.2M478.4 439.1h0.2M528.6 465.2h0.2M512.5 469.2h0.2M464.1 415.1h0.2M477.5 446.9h0.2M507.2 484.7h0.2M496.4 473.6h0.2M512.9 472.7h0.2M506.7 479.9h0.2M527.8 480.9h0.2M522.2 478.1h0.2M507.4 480.8h0.2M504.5 477.6h0.2M447.5 444.7h0.2M484.3 429.3h0.2M521.2 488.2h0.2M521.5 477.8h0.2M506.0 485.4h0.2M528.6 472.0h0.2M473.9 457.2h0.2M495.6 440.6h0.2M518.7 480.9h0.2M490.7 444.7h0.2M519.0 484.0h0.2M518.0 489.7h0.2M501.2 487.1h0.2M440.2 456.7h0.2M494.7 436.3h0.2M528.8 480.1h0.2M521.6 459.7h0.2M506.0 450.6h0.2M498.9 472.9h0.2M482.0 439.9h0.2M474.1 436.7h0.2M448.0 424.7h0.2M461.2 409.6h0.2M509.0 465.3h0.2M479.0 439.7h0.2M509.9 459.7h0.2M517.2 487.4h0.2M508.3 442.5h0.2M513.7 427.3h0.2M517.9 453.9h0.2M470.3 434.8h0.2M509.8 490.2h0.2M500.6 464.3h0.2M509.0 479.2h0.2M528.8 484.8h0.2M510.7 430.2h0.2M464.7 426.1h0.2M517.5 475.2h0.2M518.7 488.9h0.2M495.7 474.4h0.2M502.1 488.1h0.2M512.8 452.8h0.2M512.9 466.7h0.2M512.4 470.7h0.2M493.4 427.6h0.2M511.2 462.2h0.2M443.6 448.1h0.2M518.9 450.1h0.2M524.9 459.3h0.2M509.7 475.9h0.2M436.4 449.2h0.2M468.5 432.2h0.2M519.5 472.7h0.2M522.9 458.7h0.2M528.1 482.5h0.2M469.8 448.9h0.2M503.0 463.0h0.2M497.0 430.8h0.2M522.4 472.8h0.2M502.2 478.0h0.2M443.8 454.0h0.2M493.5 434.3h0.2M501.8 469.9h0.2M519.3 430.6h0.2M527.4 471.7h0.2M525.0 483.9h0.2M451.5 464.4h0.2M529.5 463.7h0.2M501.1 487.1h0.2M501.7 458.8h0.2M501.8 485.9h0.2M505.9 411.1h0.2M526.0 482.9h0.2M494.5 446.4h0.2M512.0 489.1h0.2M511.4 443.3h0.2M480.6 438.9h0.2M509.7 491.6h0.2M525.4 484.9h0.2M527.0 477.5h0.2M511.0 467.5h0.2M466.9 456.4h0.2M439.8 455.8h0.2M505.9 480.8h0.2M530.0 481.5h0.2M524.1 480.2h0.2M467.8 432.8h0.2M509.2 490.6h0.2M505.4 411.4h0.2M507.6 490.8h0.2M449.4 445.6h0.2M515.1 487.1h0.2M441.8 409.5h0.2M502.4 460.3h0.2M515.3 488.4h0.2M517.6 486.3h0.2M454.9 435.4h0.2M512.4 441.7h0.2M512.1 469.3h0.2M510.2 461.1h0.2M521.7 469.5h0.2M512.3 469.3h0.2M468.7 399.7h0.2M508.1 445.1h0.2M510.4 431.3h0.2M454.2 426.4h0.2M447.2 424.7h0.2M529.1 463.3h0.2M525.5 477.9h0.2M499.0 458.8h0.2M481.1 448.9h0.2M512.1 462.8h0.2M520.1 412.9h0.2M501.1 416.0h0.2M500.2 476.4h0.2M508.2 483.3h0.2M498.0 475.3h0.2M495.5 423.1h0.2M518.8 463.3h0.2M529.6 483.3h0.2M489.6 445.4h0.2M518.0 418.6h0.2M463.5 449.2h0.2M500.1 482.3h0.2M516.6 457.6h0.2M509.0 426.0h0.2M503.3 471.2h0.2M496.8 482.2h0.2M519.2 487.1h0.2M454.4 420.4h0.2M466.3 445.2h0.2M523.4 458.2h0.2M477.1 441.0h0.2M494.8 435.0h0.2M498.8 462.1h0.2M447.2 472.4h0.2M523.7 454.5h0.2M513.8 466.9h0.2M497.9 477.3h0.2M516.6 484.5h0.2M499.9 477.4h0.2M514.8 479.8h0.2M506.7 482.8h0.2M519.1 477.9h0.2M479.3 418.9h0.2M516.8 458.7h0.2M509.5 474.8h0.2M524.7 487.1h0.2M507.0 485.7h0.2M518.6 460.0h0.2M498.8 414.9h0.2M493.1 414.9h0.2M501.5 473.5h0.2M504.7 479.8h0.2M506.9 472.6h0.2M508.7 484.6h0.2M523.2 465.0h0.2M517.9 435.6h0.2M506.7 484.1h0.2M510.6 430.7h0.2M514.7 457.3h0.2M524.5 464.1h0.2M476.0 435.6h0.2M513.7 463.0h0.2M508.2 463.0h0.2M496.4 411.5h0.2M459.8 421.9h0.2M509.0 474.5h0.2M512.3 423.1h0.2M517.3 437.0h0.2M463.7 443.3h0.2M497.3 472.3h0.2M511.0 467.7h0.2M456.0 408.3h0.2M461.7 406.3h0.2M454.6 449.5h0.2M457.5 424.1h0.2M520.1 473.6h0.2M460.2 459.6h0.2M521.8 485.6h0.2M442.2 420.9h0.2M505.4 407.8h0.2M500.0 423.4h0.2M520.5 458.7h0.2M522.1 481.7h0.2M515.7 453.4h0.2M515.0 409.6h0.2M526.3 465.1h0.2M510.6 420.7h0.2M460.5 407.0h0.2M503.4 462.0h0.2M528.3 478.9h0.2M465.3 462.5h0.2M513.0 478.7h0.2M523.4 475.5h0.2M515.4 470.4h0.2" stroke="#e8582a" stroke-width="1.1" stroke-linecap="round" fill="none" stroke-opacity="0.85"/>
<line x1="313.0" y1="393.0" x2="313.0" y2="497.5" stroke="#5a5a5a" stroke-width="0.9"/>
<line x1="310.0" y1="414.0" x2="313.0" y2="414.0" stroke="#5a5a5a" stroke-width="0.9"/>
<text x="308.0" y="417.6" font-size="10" text-anchor="end" fill="#231f20" stroke="#231f20" stroke-width="0.22">5</text>
<line x1="310.0" y1="440.0" x2="313.0" y2="440.0" stroke="#5a5a5a" stroke-width="0.9"/>
<text x="308.0" y="443.6" font-size="10" text-anchor="end" fill="#231f20" stroke="#231f20" stroke-width="0.22">0</text>
<line x1="310.0" y1="466.5" x2="313.0" y2="466.5" stroke="#5a5a5a" stroke-width="0.9"/>
<text x="308.0" y="470.1" font-size="10" text-anchor="end" fill="#231f20" stroke="#231f20" stroke-width="0.22">−5</text>
<line x1="310.0" y1="491.8" x2="313.0" y2="491.8" stroke="#5a5a5a" stroke-width="0.9"/>
<text x="308.0" y="495.4" font-size="10" text-anchor="end" fill="#231f20" stroke="#231f20" stroke-width="0.22">−10</text>
<line x1="312.7" y1="497.5" x2="421.5" y2="497.5" stroke="#5a5a5a" stroke-width="0.9"/>
<line x1="429.0" y1="497.5" x2="541.0" y2="497.5" stroke="#5a5a5a" stroke-width="0.9"/>
<text x="323.1" y="510.1" font-size="10" text-anchor="middle" fill="#231f20" stroke="#231f20" stroke-width="0.22">−10</text>
<text x="345.7" y="510.1" font-size="10" text-anchor="middle" fill="#231f20" stroke="#231f20" stroke-width="0.22">−5</text>
<text x="371.6" y="510.1" font-size="10" text-anchor="middle" fill="#231f20" stroke="#231f20" stroke-width="0.22">0</text>
<text x="396.2" y="510.1" font-size="10" text-anchor="middle" fill="#231f20" stroke="#231f20" stroke-width="0.22">5</text>
<text x="417.5" y="510.1" font-size="10" text-anchor="middle" fill="#231f20" stroke="#231f20" stroke-width="0.22">10</text>
<text x="438.4" y="510.1" font-size="10" text-anchor="middle" fill="#231f20" stroke="#231f20" stroke-width="0.22">−10</text>
<text x="463.6" y="510.1" font-size="10" text-anchor="middle" fill="#231f20" stroke="#231f20" stroke-width="0.22">−5</text>
<text x="488.9" y="510.1" font-size="10" text-anchor="middle" fill="#231f20" stroke="#231f20" stroke-width="0.22">0</text>
<text x="513.2" y="510.1" font-size="10" text-anchor="middle" fill="#231f20" stroke="#231f20" stroke-width="0.22">5</text>
<text x="537.7" y="510.1" font-size="10" text-anchor="middle" fill="#231f20" stroke="#231f20" stroke-width="0.22">10</text>
<text x="424.9" y="523.3" font-size="10" text-anchor="middle" fill="#231f20" stroke="#231f20" stroke-width="0.22">UMAP_1</text>
<text x="290.7" y="453.6" font-size="10" text-anchor="middle" fill="#231f20" stroke="#231f20" stroke-width="0.22" transform="rotate(-90 290.7 450.0)">UMAP_2</text>
<text x="575.9" y="387.8" font-size="20.5" font-weight="bold" fill="#231f20" stroke="#231f20" stroke-width="0.22">G</text>
<defs>
<filter id="nDark" x="0" y="0" width="1" height="1" filterUnits="objectBoundingBox" primitiveUnits="userSpaceOnUse"><feTurbulence type="fractalNoise" baseFrequency="0.22" numOctaves="2" seed="4"/><feColorMatrix type="matrix" values="0 0 0 0 0  0 0 0 0 0  0 0 0 0 0.02  2.6 0 0 0 -1.05"/><feGaussianBlur stdDeviation="0.6"/></filter>
<filter id="nLight" x="0" y="0" width="1" height="1" filterUnits="objectBoundingBox" primitiveUnits="userSpaceOnUse"><feTurbulence type="fractalNoise" baseFrequency="0.3" numOctaves="1" seed="9"/><feColorMatrix type="matrix" values="0 0 0 0 1  0 0 0 0 1  0 0 0 0 1  0 2.5 0 0 -1.2"/><feGaussianBlur stdDeviation="0.6"/></filter>
<filter id="nRed" x="0" y="0" width="1" height="1" filterUnits="objectBoundingBox" primitiveUnits="userSpaceOnUse"><feTurbulence type="fractalNoise" baseFrequency="0.5" numOctaves="1" seed="17"/><feColorMatrix type="matrix" values="0 0 0 0 1  0 0 0 0 0.12  0 0 0 0 0.3  0 0 6 0 -3.3"/><feGaussianBlur stdDeviation="0.45"/></filter>
<filter id="nBlue" x="0" y="0" width="1" height="1" filterUnits="objectBoundingBox" primitiveUnits="userSpaceOnUse"><feTurbulence type="fractalNoise" baseFrequency="0.35" numOctaves="1" seed="31"/><feColorMatrix type="matrix" values="0 0 0 0 0.12  0 0 0 0 0.3  0 0 0 0 0.95  0 0 5 0 -2.8"/><feGaussianBlur stdDeviation="0.5"/></filter>
<filter id="nGreen" x="0" y="0" width="1" height="1" filterUnits="objectBoundingBox" primitiveUnits="userSpaceOnUse"><feTurbulence type="fractalNoise" baseFrequency="0.2" numOctaves="2" seed="23"/><feColorMatrix type="matrix" values="0 0 0 0 0.2  0 0 0 0 0.78  0 0 0 0 0.25  0 0 0 2.6 -0.95"/><feGaussianBlur stdDeviation="0.6"/></filter>
<filter id="nDark2" x="0" y="0" width="1" height="1" filterUnits="objectBoundingBox" primitiveUnits="userSpaceOnUse"><feTurbulence type="fractalNoise" baseFrequency="0.09" numOctaves="2" seed="41"/><feColorMatrix type="matrix" values="0 0 0 0 0  0 0 0 0 0  0 0 0 0 0  3.2 0 0 0 -1.35"/><feGaussianBlur stdDeviation="1"/></filter>
</defs>
<rect x="636.9" y="375.2" width="170.8" height="98.0" fill="#2020d2"/>
<rect x="636.9" y="375.2" width="170.8" height="98.0" fill="#000" filter="url(#nLight)" opacity="0.03"/>
<rect x="636.9" y="375.2" width="170.8" height="98.0" fill="#000" filter="url(#nDark)" opacity="0.35"/>
<defs><filter id="fbl3" x="-20%" y="-20%" width="140%" height="140%"><feGaussianBlur stdDeviation="5"/></filter><mask id="mGl"><path d="M636.9,375.2 L718,375.2 C727,392 737,408 735.6,417 C733,440 728,460 725,473.2 L636.9,473.2 Z" fill="#fff" filter="url(#fbl3)"/></mask></defs>
<g mask="url(#mGl)">
<rect x="636.9" y="375.2" width="170.8" height="98.0" fill="#1c42c6"/>
<rect x="636.9" y="375.2" width="170.8" height="98.0" fill="#000" filter="url(#nGreen)" opacity="0.2"/>
<rect x="636.9" y="375.2" width="170.8" height="98.0" fill="#000" filter="url(#nDark)" opacity="0.4"/>
</g>
<defs><filter id="sb0_7" x="-5%" y="-5%" width="110%" height="110%"><feGaussianBlur stdDeviation="0.7"/></filter></defs>
<path d="M718.0 439.2h0M750.3 390.1h0M640.0 412.3h0M684.3 453.8h0M754.4 433.9h0M732.1 439.6h0M662.6 418.5h0M665.5 462.9h0M648.1 454.6h0M650.7 442.0h0M694.9 415.1h0M779.9 378.3h0M648.4 463.8h0M723.8 385.2h0M804.2 466.8h0M657.1 416.9h0M660.9 406.3h0M742.7 392.1h0M755.4 381.4h0M667.0 454.3h0M705.6 416.5h0M738.4 422.0h0M702.9 379.4h0M760.4 468.8h0M802.4 439.8h0M698.1 411.1h0M754.3 440.8h0M657.3 398.9h0M699.3 425.3h0M774.5 424.2h0M642.9 455.0h0M710.6 426.0h0M675.6 417.3h0M703.5 450.1h0M655.5 429.0h0M668.1 442.9h0M644.4 402.9h0M696.1 437.3h0M647.0 420.3h0M673.3 403.4h0M718.3 468.0h0M719.1 467.7h0M666.4 464.7h0M699.5 394.6h0M764.1 463.5h0M639.3 402.1h0M767.8 409.1h0M678.8 377.3h0M644.9 435.6h0M803.7 471.8h0M722.9 378.8h0M692.4 451.6h0M778.1 437.5h0M676.8 426.8h0M718.5 436.3h0M682.4 466.8h0M788.6 392.0h0M687.2 459.8h0M685.0 466.5h0M724.9 442.9h0M756.7 396.9h0M686.1 400.8h0M753.1 442.7h0M660.4 461.1h0M708.9 399.5h0M711.4 469.9h0M732.4 436.1h0M792.9 468.3h0M766.1 416.3h0M737.2 462.5h0" stroke="#101030" stroke-width="2.6" stroke-linecap="round" fill="none" stroke-opacity="0.4" filter="url(#sb0_7)"/>
<rect x="636.9" y="473.2" width="170.8" height="1.9" fill="#ffffff"/>
<rect x="636.9" y="475.1" width="85.6" height="49.3" fill="#2440b4"/>
<rect x="636.9" y="475.1" width="85.6" height="49.3" fill="#000" filter="url(#nGreen)" opacity="0.55"/>
<rect x="636.9" y="475.1" width="85.6" height="49.3" fill="#000" filter="url(#nDark)" opacity="0.5"/>
<defs><filter id="sb0_5" x="-5%" y="-5%" width="110%" height="110%"><feGaussianBlur stdDeviation="0.5"/></filter></defs>
<path d="M659.6 508.4h0M695.0 516.1h0M653.6 487.1h0M650.3 486.9h0M699.2 482.4h0M682.3 486.3h0M662.6 496.5h0M707.8 504.8h0M639.3 489.2h0M650.3 517.2h0M705.5 514.1h0M706.9 511.2h0M717.1 513.5h0M659.5 516.2h0M678.6 511.7h0M685.0 496.4h0M668.4 496.5h0M664.2 481.8h0M706.3 513.7h0M720.1 508.7h0M684.2 511.4h0M649.3 508.0h0M675.0 484.6h0M655.0 500.8h0M659.2 497.8h0M688.5 494.9h0M649.0 499.3h0M657.7 487.4h0M654.3 493.5h0M644.2 506.8h0M717.4 494.6h0M697.9 520.1h0M641.7 482.9h0M705.2 515.6h0M691.3 483.8h0M672.5 517.0h0M711.8 514.0h0M655.0 516.3h0M669.3 509.9h0M649.5 521.9h0M688.3 510.2h0M655.7 505.2h0M686.4 504.0h0M668.0 510.4h0M666.5 490.2h0M651.8 508.4h0M647.4 486.9h0M643.9 506.5h0M684.4 501.8h0M641.3 496.9h0M666.6 480.6h0M638.3 523.1h0M648.2 490.4h0M660.5 504.3h0M644.5 498.3h0M668.6 515.4h0M638.6 492.0h0M679.4 521.8h0M681.1 498.5h0M693.8 490.2h0M640.7 499.8h0M713.8 510.9h0M659.6 508.4h0M708.7 488.4h0M687.0 493.0h0M658.4 489.8h0M655.1 492.8h0M641.3 494.9h0M645.3 511.9h0M688.0 476.5h0M702.5 485.2h0M678.1 502.3h0M665.8 489.9h0M674.3 482.7h0M709.9 481.5h0M706.6 486.5h0M663.3 494.5h0M640.9 482.3h0M668.1 497.0h0M711.0 522.7h0M641.7 501.4h0M648.9 514.0h0M664.9 518.2h0M683.5 482.2h0M638.5 487.9h0M710.3 483.3h0M677.9 493.7h0M666.8 513.9h0M655.9 510.0h0M693.6 520.2h0" stroke="#2a30d0" stroke-width="2.4" stroke-linecap="round" fill="none" stroke-opacity="0.6" filter="url(#sb0_5)"/>
<defs><filter id="sb0_4" x="-5%" y="-5%" width="110%" height="110%"><feGaussianBlur stdDeviation="0.4"/></filter></defs>
<path d="M646.8 509.4h0M692.4 520.7h0M660.5 488.1h0M699.3 507.3h0M663.2 508.5h0M671.0 512.9h0M647.7 486.6h0M713.3 493.0h0M659.6 514.2h0M690.7 483.1h0M684.0 507.5h0M651.6 507.0h0M648.1 492.0h0M644.8 485.7h0M719.8 495.2h0M720.8 496.8h0M688.7 517.4h0M695.4 481.3h0M687.2 506.1h0M653.0 480.5h0M711.1 500.4h0M654.0 497.5h0M656.1 513.9h0M679.7 480.9h0M706.4 480.3h0M661.3 477.3h0M699.8 481.4h0M681.9 480.4h0M678.1 508.6h0M682.6 497.6h0" stroke="#d03030" stroke-width="1.8" stroke-linecap="round" fill="none" stroke-opacity="0.7" filter="url(#sb0_4)"/>
<rect x="722.5" y="475.1" width="85.2" height="49.3" fill="#2a24c8"/>
<rect x="722.5" y="475.1" width="85.2" height="49.3" fill="#000" filter="url(#nDark)" opacity="0.45"/>
<path d="M804.0 476.5h0M784.8 483.4h0M805.8 476.7h0M796.8 508.4h0M795.0 523.6h0M743.3 492.0h0M782.5 489.3h0M745.3 486.8h0M795.0 517.6h0M790.0 486.6h0M800.6 500.3h0M742.6 497.6h0M758.4 479.7h0M770.5 493.1h0M770.9 520.3h0M777.3 495.2h0M795.5 523.4h0M764.3 521.0h0M724.9 482.6h0M737.7 520.6h0M781.0 510.2h0M747.3 499.5h0M797.5 480.7h0M733.0 478.2h0M762.5 516.0h0M769.7 495.0h0M765.3 484.4h0M802.6 492.8h0M743.0 490.7h0M792.3 491.1h0M798.9 491.9h0M760.2 479.4h0M799.2 513.9h0M763.0 481.4h0M764.5 493.8h0M793.5 520.2h0M785.3 489.6h0M726.8 518.5h0M802.3 483.5h0M765.1 498.8h0M804.9 478.0h0M728.5 516.1h0M770.9 498.0h0M788.3 504.2h0M781.2 488.1h0M730.4 476.3h0M751.1 506.8h0M755.1 492.5h0M775.0 509.5h0M773.1 490.8h0M792.0 514.1h0M798.0 518.5h0M724.6 507.8h0M752.4 494.4h0M766.6 482.8h0M744.2 522.9h0M751.0 519.5h0M780.5 490.9h0M749.9 504.8h0M782.0 492.1h0M728.2 484.1h0M795.3 510.7h0M732.4 515.7h0M771.4 491.9h0M798.0 482.0h0M731.5 492.3h0M785.0 502.0h0M763.8 519.2h0M756.2 513.5h0M723.7 513.2h0M736.3 507.2h0M793.4 507.2h0M771.7 502.1h0M786.1 493.5h0M742.8 502.5h0M766.8 481.4h0M767.6 498.2h0M736.4 509.7h0M788.4 492.1h0M795.6 523.0h0M778.7 495.4h0M746.1 482.1h0M746.1 523.5h0M728.4 519.6h0M781.6 513.3h0M731.6 506.7h0M740.5 508.2h0M789.7 510.3h0M768.1 518.1h0M742.5 483.4h0M795.7 478.6h0M758.2 495.9h0M796.6 493.7h0M770.9 499.8h0M763.3 498.5h0M762.4 504.3h0M759.5 496.1h0M800.6 522.5h0M744.0 521.1h0M725.3 491.8h0M798.5 484.0h0M779.2 523.3h0M774.5 497.8h0M725.8 497.4h0M762.1 513.5h0M755.9 514.3h0M757.2 506.2h0M786.7 483.8h0M803.0 497.4h0M763.4 522.3h0M771.0 500.7h0M741.2 486.4h0M786.9 500.0h0M778.4 509.1h0M780.3 491.3h0M795.4 497.4h0M738.0 517.3h0M798.7 481.6h0M797.3 508.7h0M745.9 503.3h0M800.4 483.1h0M778.5 487.4h0M735.8 521.2h0M806.5 507.1h0M789.5 494.7h0M759.1 505.2h0M791.3 509.3h0M762.6 505.8h0M757.0 514.5h0M795.9 512.8h0M750.2 494.1h0M805.2 493.9h0M778.9 480.5h0M734.3 486.7h0M779.6 486.8h0M778.2 479.4h0M781.1 509.4h0M744.8 487.3h0M744.3 499.5h0M738.8 487.1h0M790.5 520.6h0M736.7 500.7h0M778.4 521.2h0M770.1 501.2h0M787.8 513.5h0M782.8 505.6h0M791.1 477.9h0M787.5 486.5h0M752.8 494.7h0M766.8 504.0h0M772.4 491.0h0M753.5 507.2h0M801.2 494.1h0M724.0 516.6h0M797.5 516.0h0M776.5 495.8h0M728.8 519.8h0M759.8 481.7h0M775.5 478.0h0M755.8 504.7h0M790.4 493.0h0M739.7 492.3h0M791.9 480.2h0M734.9 492.5h0M802.9 518.0h0M804.2 478.2h0M765.2 482.8h0M772.2 513.7h0M763.6 508.8h0M780.2 500.1h0M755.9 487.3h0M783.5 522.7h0M804.2 520.0h0M794.2 507.2h0M764.7 481.7h0M790.1 484.7h0M801.1 516.8h0M747.0 519.1h0M786.5 514.6h0M732.4 488.9h0M736.3 520.8h0M743.7 497.1h0M786.2 494.8h0M776.1 505.7h0M755.0 520.1h0M779.2 511.2h0M784.5 505.5h0M737.5 519.5h0M802.1 480.8h0M754.1 484.8h0M734.3 503.5h0M759.5 482.3h0M763.6 509.1h0M734.7 506.7h0M778.4 515.6h0M806.8 517.9h0M754.6 479.9h0M751.2 484.0h0M794.6 493.4h0M770.2 510.5h0M761.8 523.5h0M778.4 504.4h0M737.2 487.4h0M780.9 496.9h0M771.8 517.8h0M779.9 515.9h0M754.0 479.1h0M746.5 519.1h0M743.4 481.8h0M729.0 523.6h0M740.8 479.5h0M753.3 478.0h0M784.3 508.7h0M758.6 510.5h0M724.8 513.9h0M777.0 511.8h0M735.2 521.3h0M805.7 498.8h0M750.0 500.6h0M782.5 497.9h0M768.7 521.4h0M782.5 494.4h0M799.3 513.5h0M725.1 499.4h0M748.5 490.5h0M754.2 515.8h0M774.3 487.6h0M728.9 483.1h0M754.7 501.7h0M764.9 496.2h0M767.5 490.7h0M802.9 486.4h0M754.1 507.3h0M793.4 495.2h0M776.3 488.0h0M724.2 522.1h0M728.9 512.3h0M725.9 490.2h0M766.4 518.8h0M790.5 490.2h0M724.0 511.8h0M785.6 520.4h0M734.4 507.8h0M774.9 517.8h0M794.2 512.5h0M794.4 479.8h0M805.8 504.7h0M798.2 483.1h0M766.5 518.2h0M804.0 505.1h0M798.0 477.0h0M732.0 488.1h0M796.4 509.9h0M758.9 519.6h0M766.4 482.8h0M802.1 511.1h0M806.5 513.1h0M765.4 518.6h0M734.4 476.3h0M745.4 521.3h0" stroke="#e0204a" stroke-width="1.6" stroke-linecap="round" fill="none" stroke-opacity="0.7" filter="url(#sb0_4)"/>
<line x1="722.5" y1="475.1" x2="722.5" y2="524.4" stroke="#ffffff" stroke-width="0.7" stroke-dasharray="1,1"/>
<path d="M715,375.2 C724,392 734,408 732.6,417 C730,440 725,460 722,473.2" fill="none" stroke="#e0e0f4" stroke-width="1.3" stroke-dasharray="3.5,2.5"/>
<rect x="666.2" y="439.9" width="21.8" height="12.2" fill="none" stroke="#e8e8e8" stroke-width="0.8" stroke-dasharray="1.2,1.2"/>
<rect x="758.9" y="418.6" width="21.1" height="12.4" fill="none" stroke="#e8e8e8" stroke-width="0.8" stroke-dasharray="1.2,1.2"/>
<line x1="666.2" y1="452.1" x2="638.8" y2="471.5" stroke="#e8e8e8" stroke-width="0.8" stroke-dasharray="1.2,1.2"/>
<line x1="688.0" y1="452.1" x2="721.4" y2="473.2" stroke="#e8e8e8" stroke-width="0.8" stroke-dasharray="1.2,1.2"/>
<line x1="758.9" y1="431.0" x2="723.0" y2="473.2" stroke="#e8e8e8" stroke-width="0.8" stroke-dasharray="1.2,1.2"/>
<line x1="780.0" y1="431.0" x2="806.5" y2="473.2" stroke="#e8e8e8" stroke-width="0.8" stroke-dasharray="1.2,1.2"/>
<text x="643.5" y="389.7" font-size="10.3" font-weight="bold" fill="#3ed548" stroke="#3ed548" stroke-width="0.22">JUND</text>
<text x="671" y="385.5" font-size="4.5" font-weight="bold" fill="#3ed548">high</text>
<text x="683.0" y="389.7" font-size="10.3" font-weight="bold" fill="#3ed548" stroke="#3ed548" stroke-width="0.22">area</text>
<text x="736.6" y="389.7" font-size="10.3" font-weight="bold" fill="#3ed548" stroke="#3ed548" stroke-width="0.22">JUND</text>
<text x="764.2" y="385.5" font-size="4.5" font-weight="bold" fill="#3ed548">low</text>
<text x="773.5" y="389.7" font-size="10.3" font-weight="bold" fill="#3ed548" stroke="#3ed548" stroke-width="0.22">area</text>
<line x1="639.0" y1="468.5" x2="644.0" y2="468.5" stroke="#ffffff" stroke-width="0.8"/>
<line x1="639.0" y1="521.5" x2="644.0" y2="521.5" stroke="#ffffff" stroke-width="0.8"/>
<line x1="724.5" y1="521.5" x2="729.5" y2="521.5" stroke="#ffffff" stroke-width="0.8"/>
<text x="628.2" y="402.9" font-size="10" text-anchor="middle" font-weight="bold" fill="#3ed548" stroke="#3ed548" stroke-width="0.22" transform="rotate(-90 628.2 399.4)">JUND</text>
<text x="628.2" y="449.9" font-size="10" text-anchor="middle" font-weight="bold" fill="#e0302e" stroke="#e0302e" stroke-width="0.22" transform="rotate(-90 628.2 446.3)">SOCS3</text>
<text x="628.2" y="505.6" font-size="10" text-anchor="middle" font-weight="bold" fill="#2e7fe0" stroke="#2e7fe0" stroke-width="0.22" transform="rotate(-90 628.2 502.0)">DAPI</text>
<text x="261.4" y="542.8" font-size="20.5" font-weight="bold" fill="#231f20" stroke="#231f20" stroke-width="0.22">H</text>
<text x="419.0" y="549.8" font-size="10" text-anchor="middle" font-weight="bold" fill="#231f20" stroke="#231f20" stroke-width="0.22">PBMCs of MGTH patients</text>
<text x="364.4" y="561.9" font-size="10" text-anchor="middle" font-weight="bold" fill="#231f20" stroke="#231f20" stroke-width="0.22">JUND</text>
<text x="467.0" y="561.9" font-size="10" text-anchor="middle" font-weight="bold" fill="#231f20" stroke="#231f20" stroke-width="0.22">SOCS3</text>
<path d="M350.3,569.2 C350.9,568.7 353.9,568.6 356.7,567.9 C359.5,567.2 364.1,565.4 367.1,564.8 C370.1,564.2 373.2,563.8 374.9,564.1 C376.6,564.4 377.2,565.5 377.4,566.6 C377.6,567.8 377.3,569.7 376.2,571.0 C375.1,572.3 372.3,573.2 371.0,574.4 C369.7,575.6 369.1,577.0 368.4,578.3 C367.7,579.6 367.3,582.2 366.6,582.2 C365.9,582.2 365.0,579.6 364.0,578.3 C363.0,577.0 361.6,575.2 360.6,574.4 C359.6,573.6 358.6,573.2 358.0,573.6 C357.4,574.0 357.1,576.2 356.7,577.0 C356.3,577.8 355.7,578.7 355.5,578.3 C355.3,577.9 355.9,575.6 355.5,574.4 C355.1,573.2 353.8,571.9 352.9,571.0 C352.0,570.1 349.7,569.7 350.3,569.2Z" fill="#3a9484"/>
<path d="M361.4 573.9h0.2M373.7 567.3h0.2M360.6 571.4h0.2M369.0 570.0h0.2M367.0 566.1h0.2M376.3 566.0h0.2M355.4 568.8h0.2M368.0 570.0h0.2M366.3 573.9h0.2M356.6 572.3h0.2M373.0 564.9h0.2M367.8 573.9h0.2M366.7 565.2h0.2M367.2 566.3h0.2M367.3 567.6h0.2M366.6 574.0h0.2M363.5 569.2h0.2M358.4 571.4h0.2M371.2 569.1h0.2M364.8 579.0h0.2M365.5 565.4h0.2M357.7 571.6h0.2M357.1 568.3h0.2M366.5 573.6h0.2M358.9 570.0h0.2M372.1 571.0h0.2M368.9 572.2h0.2M356.3 576.6h0.2M358.7 573.8h0.2M353.6 571.2h0.2M363.9 575.7h0.2M368.7 576.6h0.2M372.5 564.4h0.2M371.9 566.2h0.2M365.5 579.6h0.2M375.4 567.0h0.2M357.0 569.1h0.2M354.3 568.9h0.2M368.2 567.2h0.2M355.1 572.3h0.2M360.5 572.4h0.2M372.0 569.1h0.2M363.3 575.7h0.2M356.4 571.9h0.2M351.2 569.0h0.2M367.6 576.1h0.2M374.0 570.2h0.2M366.3 569.4h0.2M368.0 577.8h0.2M375.8 567.2h0.2M371.9 572.7h0.2M375.9 565.4h0.2M360.7 567.0h0.2M364.7 570.6h0.2M365.4 579.2h0.2M359.3 568.2h0.2M367.6 566.1h0.2M367.4 574.6h0.2M366.3 576.3h0.2M364.7 566.1h0.2" stroke="#6cc35c" stroke-width="1.1" stroke-linecap="round" fill="none"/>
<path d="M355.9 568.7h0.2M357.8 568.3h0.2M369.2 571.3h0.2M355.5 574.4h0.2M361.9 571.7h0.2M364.9 574.7h0.2M363.6 568.4h0.2M359.1 569.1h0.2M371.4 568.5h0.2M365.2 571.3h0.2M364.4 570.8h0.2M363.6 575.8h0.2M367.7 572.4h0.2M355.1 571.9h0.2M361.8 571.9h0.2M352.6 569.5h0.2M368.7 567.6h0.2M369.4 570.8h0.2M372.9 564.5h0.2M358.8 573.5h0.2M358.3 571.2h0.2M365.9 568.4h0.2M373.6 569.3h0.2M355.1 572.3h0.2M358.7 573.4h0.2M376.6 566.8h0.2M355.9 570.8h0.2M375.8 565.6h0.2M358.8 570.2h0.2M368.3 576.0h0.2M362.0 574.8h0.2M368.5 568.2h0.2M357.7 568.3h0.2M367.2 565.4h0.2M372.8 571.6h0.2M358.0 568.6h0.2M351.9 569.3h0.2M371.7 568.4h0.2M370.4 571.6h0.2M367.0 566.7h0.2" stroke="#2a5a8a" stroke-width="1.1" stroke-linecap="round" fill="none"/>
<path d="M324.4,602.9 C325.5,602.1 327.8,600.9 329.6,600.8 C331.5,600.7 334.0,601.1 335.5,602.1 C337.0,603.1 338.0,604.6 338.6,606.7 C339.2,608.8 339.4,612.1 339.2,614.5 C339.0,616.9 338.2,619.0 337.3,621.0 C336.4,623.0 334.6,624.7 334.0,626.2 C333.4,627.7 333.2,628.7 333.5,630.0 C333.8,631.3 335.1,632.6 336.0,633.9 C336.9,635.2 338.2,636.3 338.6,637.8 C339.0,639.3 339.2,641.6 338.6,643.0 C338.0,644.4 336.7,645.4 334.8,646.1 C332.9,646.8 329.6,647.2 327.0,647.1 C324.4,647.0 320.8,646.3 319.2,645.6 C317.6,644.9 317.4,644.3 317.4,643.0 C317.4,641.7 318.2,639.5 319.2,637.8 C320.2,636.1 322.3,634.1 323.6,632.6 C324.9,631.1 326.6,630.2 327.0,628.7 C327.4,627.2 326.8,625.3 326.2,623.6 C325.6,621.9 324.2,620.6 323.6,618.4 C323.0,616.2 322.7,612.8 322.6,610.6 C322.5,608.5 322.8,606.8 323.1,605.5 C323.4,604.2 323.3,603.7 324.4,602.9Z" fill="#62b85e"/>
<path d="M335.4 602.4h0.2M325.5 645.7h0.2M333.4 620.9h0.2M329.9 620.1h0.2M325.3 644.1h0.2M335.2 619.8h0.2M336.5 621.7h0.2M328.0 641.5h0.2M326.6 621.0h0.2M333.0 631.9h0.2M320.9 641.2h0.2M328.1 606.1h0.2M333.8 633.1h0.2M331.0 640.5h0.2M333.9 638.2h0.2M332.8 628.9h0.2M335.8 608.9h0.2M327.9 605.0h0.2M332.4 604.5h0.2M334.7 638.4h0.2M325.7 642.7h0.2M325.6 638.9h0.2M323.8 634.3h0.2M326.0 641.9h0.2M335.4 605.6h0.2M327.4 639.9h0.2M320.9 637.1h0.2M324.2 603.9h0.2M333.7 634.6h0.2M328.3 629.8h0.2M336.3 615.4h0.2M330.5 608.6h0.2M324.6 632.6h0.2M326.4 636.1h0.2M329.2 604.7h0.2M331.4 604.2h0.2M324.7 645.2h0.2M321.2 635.8h0.2M329.4 641.2h0.2M331.4 627.0h0.2M329.6 638.2h0.2M331.2 628.9h0.2M325.0 631.3h0.2M324.6 642.6h0.2M323.9 634.1h0.2M329.1 624.9h0.2M329.1 607.3h0.2M328.0 624.8h0.2M325.4 610.1h0.2M327.3 632.9h0.2M323.7 636.4h0.2M328.1 641.5h0.2M326.1 608.9h0.2M328.2 622.0h0.2M326.1 630.9h0.2M330.3 616.0h0.2M332.4 608.1h0.2M331.9 619.4h0.2M334.2 639.8h0.2M328.0 605.5h0.2M334.7 618.1h0.2M332.8 624.0h0.2M330.3 601.3h0.2M331.5 605.0h0.2M332.2 607.7h0.2M333.8 634.1h0.2M329.7 618.7h0.2M330.6 633.4h0.2M337.8 613.5h0.2M318.5 642.9h0.2M324.9 640.8h0.2M334.3 613.4h0.2M334.7 605.3h0.2M332.8 614.3h0.2M333.2 645.5h0.2M326.5 603.6h0.2M333.6 614.7h0.2M327.5 640.6h0.2M332.2 602.7h0.2M336.8 613.3h0.2M328.5 614.0h0.2M333.5 620.7h0.2M332.1 642.9h0.2M333.3 639.4h0.2M336.2 619.1h0.2M332.1 627.2h0.2M336.0 608.5h0.2M324.3 634.7h0.2M330.8 613.9h0.2M337.2 619.1h0.2" stroke="#8fd04e" stroke-width="1.1" stroke-linecap="round" fill="none"/>
<path d="M330.7 617.4h0.2M338.0 638.0h0.2M332.0 624.1h0.2M330.1 611.6h0.2M331.1 642.6h0.2M328.2 625.3h0.2M327.4 604.8h0.2M323.8 641.5h0.2M331.0 635.6h0.2M337.5 642.2h0.2M328.6 602.7h0.2M324.1 617.5h0.2M333.8 636.5h0.2M323.8 608.2h0.2M326.2 606.6h0.2M330.6 640.4h0.2M326.2 607.6h0.2M337.9 608.9h0.2M332.2 617.2h0.2M334.6 639.1h0.2M321.8 643.3h0.2M320.3 642.5h0.2M324.0 610.2h0.2M319.2 637.9h0.2M328.4 643.3h0.2M337.4 640.8h0.2M337.2 609.0h0.2M329.4 612.9h0.2M333.1 635.6h0.2M331.0 621.6h0.2M326.4 624.5h0.2M322.2 640.5h0.2M333.8 625.7h0.2M327.1 636.4h0.2M330.1 613.4h0.2M334.3 619.4h0.2M336.2 603.7h0.2M337.7 638.4h0.2M326.7 620.9h0.2M334.9 608.2h0.2M331.1 614.7h0.2M336.1 643.7h0.2M337.7 609.4h0.2M329.3 635.7h0.2M333.7 645.7h0.2M330.9 617.6h0.2M331.1 607.5h0.2M325.4 633.7h0.2M325.9 618.0h0.2M327.0 627.9h0.2M326.6 630.3h0.2M325.1 609.6h0.2M337.4 616.0h0.2M333.6 630.7h0.2M329.2 635.1h0.2M338.7 610.3h0.2M337.3 605.4h0.2M326.1 611.7h0.2M323.6 616.5h0.2M326.6 620.1h0.2M330.1 622.5h0.2M328.2 608.3h0.2M327.8 639.4h0.2M326.9 608.7h0.2M327.2 629.2h0.2M331.5 614.7h0.2M334.3 625.5h0.2M332.0 615.3h0.2M321.4 637.6h0.2M328.6 625.6h0.2M323.8 636.2h0.2M323.9 635.2h0.2M331.3 607.2h0.2M335.8 617.6h0.2M326.1 614.5h0.2M325.2 613.1h0.2M332.8 610.2h0.2M334.9 639.5h0.2M328.6 628.7h0.2M329.2 625.8h0.2M327.0 607.1h0.2M331.5 639.4h0.2M326.8 619.8h0.2M332.3 640.9h0.2M322.3 639.5h0.2M328.9 644.0h0.2M330.0 608.4h0.2M336.0 619.0h0.2M321.3 635.4h0.2M325.0 643.8h0.2" stroke="#2f8a82" stroke-width="1.1" stroke-linecap="round" fill="none"/>
<path d="M394.3,587.3 C395.6,587.1 398.0,588.4 399.4,589.9 C400.8,591.4 402.5,594.0 402.8,596.4 C403.1,598.8 402.2,602.5 401.2,604.2 C400.2,605.9 398.0,605.6 396.9,606.7 C395.8,607.8 395.4,609.5 394.3,610.6 C393.2,611.7 391.4,612.3 390.4,613.2 C389.4,614.1 388.8,614.7 388.3,615.8 C387.8,616.9 387.8,618.5 387.3,619.7 C386.8,620.9 385.1,621.5 385.2,622.8 C385.3,624.1 386.7,625.5 387.8,627.4 C388.9,629.2 390.6,631.5 391.7,633.9 C392.8,636.3 393.9,639.1 394.3,641.7 C394.7,644.3 395.0,647.0 394.3,649.4 C393.6,651.8 392.3,654.2 390.4,655.9 C388.4,657.6 385.2,659.3 382.6,659.8 C380.0,660.3 377.3,659.9 374.9,659.0 C372.5,658.1 369.9,656.4 368.4,654.6 C366.9,652.8 366.7,649.8 365.8,648.1 C364.9,646.4 364.1,645.6 363.2,644.3 C362.2,643.0 360.8,641.9 360.1,640.4 C359.5,638.9 359.1,636.9 359.3,635.2 C359.5,633.5 360.4,631.5 361.4,630.0 C362.3,628.5 364.1,627.7 365.0,626.2 C365.9,624.7 366.1,622.5 367.1,621.0 C368.1,619.5 369.5,618.4 371.0,617.1 C372.5,615.8 374.7,614.7 376.2,613.2 C377.7,611.7 378.7,609.5 380.0,608.0 C381.3,606.5 382.6,605.5 383.9,604.2 C385.2,602.9 386.7,601.6 387.8,600.3 C388.9,599.0 389.8,597.9 390.4,596.4 C391.0,594.9 391.0,592.7 391.7,591.2 C392.4,589.7 393.0,587.5 394.3,587.3Z" fill="none" stroke="#444" stroke-width="5.2" stroke-dasharray="2.2,1.6" stroke-linejoin="round"/>
<path d="M394.3,587.3 C395.6,587.1 398.0,588.4 399.4,589.9 C400.8,591.4 402.5,594.0 402.8,596.4 C403.1,598.8 402.2,602.5 401.2,604.2 C400.2,605.9 398.0,605.6 396.9,606.7 C395.8,607.8 395.4,609.5 394.3,610.6 C393.2,611.7 391.4,612.3 390.4,613.2 C389.4,614.1 388.8,614.7 388.3,615.8 C387.8,616.9 387.8,618.5 387.3,619.7 C386.8,620.9 385.1,621.5 385.2,622.8 C385.3,624.1 386.7,625.5 387.8,627.4 C388.9,629.2 390.6,631.5 391.7,633.9 C392.8,636.3 393.9,639.1 394.3,641.7 C394.7,644.3 395.0,647.0 394.3,649.4 C393.6,651.8 392.3,654.2 390.4,655.9 C388.4,657.6 385.2,659.3 382.6,659.8 C380.0,660.3 377.3,659.9 374.9,659.0 C372.5,658.1 369.9,656.4 368.4,654.6 C366.9,652.8 366.7,649.8 365.8,648.1 C364.9,646.4 364.1,645.6 363.2,644.3 C362.2,643.0 360.8,641.9 360.1,640.4 C359.5,638.9 359.1,636.9 359.3,635.2 C359.5,633.5 360.4,631.5 361.4,630.0 C362.3,628.5 364.1,627.7 365.0,626.2 C365.9,624.7 366.1,622.5 367.1,621.0 C368.1,619.5 369.5,618.4 371.0,617.1 C372.5,615.8 374.7,614.7 376.2,613.2 C377.7,611.7 378.7,609.5 380.0,608.0 C381.3,606.5 382.6,605.5 383.9,604.2 C385.2,602.9 386.7,601.6 387.8,600.3 C388.9,599.0 389.8,597.9 390.4,596.4 C391.0,594.9 391.0,592.7 391.7,591.2 C392.4,589.7 393.0,587.5 394.3,587.3Z" fill="none" stroke="#fff" stroke-width="3.6" stroke-linejoin="round"/>
<path d="M394.3,587.3 C395.6,587.1 398.0,588.4 399.4,589.9 C400.8,591.4 402.5,594.0 402.8,596.4 C403.1,598.8 402.2,602.5 401.2,604.2 C400.2,605.9 398.0,605.6 396.9,606.7 C395.8,607.8 395.4,609.5 394.3,610.6 C393.2,611.7 391.4,612.3 390.4,613.2 C389.4,614.1 388.8,614.7 388.3,615.8 C387.8,616.9 387.8,618.5 387.3,619.7 C386.8,620.9 385.1,621.5 385.2,622.8 C385.3,624.1 386.7,625.5 387.8,627.4 C388.9,629.2 390.6,631.5 391.7,633.9 C392.8,636.3 393.9,639.1 394.3,641.7 C394.7,644.3 395.0,647.0 394.3,649.4 C393.6,651.8 392.3,654.2 390.4,655.9 C388.4,657.6 385.2,659.3 382.6,659.8 C380.0,660.3 377.3,659.9 374.9,659.0 C372.5,658.1 369.9,656.4 368.4,654.6 C366.9,652.8 366.7,649.8 365.8,648.1 C364.9,646.4 364.1,645.6 363.2,644.3 C362.2,643.0 360.8,641.9 360.1,640.4 C359.5,638.9 359.1,636.9 359.3,635.2 C359.5,633.5 360.4,631.5 361.4,630.0 C362.3,628.5 364.1,627.7 365.0,626.2 C365.9,624.7 366.1,622.5 367.1,621.0 C368.1,619.5 369.5,618.4 371.0,617.1 C372.5,615.8 374.7,614.7 376.2,613.2 C377.7,611.7 378.7,609.5 380.0,608.0 C381.3,606.5 382.6,605.5 383.9,604.2 C385.2,602.9 386.7,601.6 387.8,600.3 C388.9,599.0 389.8,597.9 390.4,596.4 C391.0,594.9 391.0,592.7 391.7,591.2 C392.4,589.7 393.0,587.5 394.3,587.3Z" fill="#3a9a7e"/>
<path d="M367.5 643.1h0.2M376.0 639.3h0.2M393.0 648.1h0.2M383.1 622.3h0.2M372.8 656.4h0.2M394.4 588.1h0.2M371.7 622.2h0.2M394.7 604.6h0.2M370.6 651.9h0.2M362.9 629.8h0.2M376.7 634.0h0.2M398.1 591.4h0.2M397.3 594.3h0.2M385.4 640.2h0.2M375.7 644.4h0.2M385.1 655.2h0.2M371.6 625.3h0.2M390.2 655.7h0.2M377.8 653.5h0.2M368.8 640.5h0.2M386.7 633.5h0.2M363.6 637.8h0.2M387.1 641.5h0.2M381.3 636.7h0.2M390.5 636.2h0.2M381.0 630.5h0.2M364.6 628.6h0.2M394.6 602.0h0.2M374.8 622.2h0.2M392.5 638.4h0.2M377.3 644.0h0.2M383.5 647.8h0.2M400.9 597.4h0.2M382.1 631.7h0.2M389.7 655.8h0.2M396.5 590.8h0.2M370.1 625.2h0.2M380.7 643.8h0.2M369.3 654.3h0.2M394.2 643.5h0.2M393.8 647.2h0.2M386.9 608.2h0.2M370.6 638.4h0.2M377.5 658.5h0.2M373.2 616.7h0.2M394.5 590.8h0.2M391.2 637.9h0.2M393.0 595.1h0.2M392.7 604.9h0.2M383.4 622.6h0.2M391.3 605.0h0.2M361.5 630.5h0.2M367.3 621.3h0.2M364.2 634.6h0.2M390.0 635.8h0.2M377.1 626.1h0.2M389.1 654.6h0.2M367.4 620.9h0.2M378.7 654.6h0.2M388.4 643.8h0.2M364.8 643.2h0.2M392.8 639.6h0.2M381.8 624.2h0.2M374.7 656.7h0.2M384.3 635.9h0.2M383.9 617.6h0.2M378.5 611.5h0.2M383.7 655.2h0.2M381.7 657.8h0.2M389.6 603.8h0.2M368.3 649.1h0.2M382.8 617.5h0.2M401.4 598.7h0.2M378.9 651.7h0.2M366.9 628.2h0.2M376.9 623.3h0.2M379.4 643.2h0.2M374.6 652.3h0.2M380.0 617.9h0.2M372.8 638.0h0.2M395.6 607.3h0.2M397.6 595.7h0.2M384.9 622.3h0.2M372.0 654.6h0.2M369.0 642.9h0.2M388.5 631.5h0.2M374.5 644.9h0.2M384.9 605.1h0.2M371.2 629.6h0.2M367.1 650.8h0.2M375.6 647.7h0.2M382.8 612.8h0.2M367.7 630.2h0.2M383.8 658.1h0.2M379.2 622.0h0.2M371.1 630.3h0.2M380.7 649.3h0.2M388.5 613.7h0.2M364.9 644.8h0.2M379.1 655.8h0.2M379.4 623.6h0.2M388.8 612.3h0.2M383.3 655.8h0.2M383.7 630.2h0.2M387.8 636.5h0.2M392.6 604.3h0.2M366.5 641.8h0.2M390.9 610.6h0.2M384.1 649.3h0.2M384.8 627.3h0.2M385.5 635.0h0.2M384.9 621.5h0.2M372.0 641.1h0.2M370.3 633.0h0.2M373.2 657.3h0.2M374.9 617.5h0.2M373.2 626.7h0.2M383.0 637.5h0.2M365.1 639.8h0.2M400.3 594.0h0.2M377.7 634.2h0.2M398.1 599.1h0.2M377.3 630.4h0.2M396.0 595.9h0.2M382.2 643.0h0.2M393.4 639.9h0.2M374.0 653.1h0.2M380.8 652.0h0.2M372.3 637.5h0.2M368.2 652.1h0.2M390.9 595.5h0.2M365.9 635.9h0.2M377.9 610.9h0.2M377.6 620.3h0.2M376.7 620.5h0.2M386.7 643.3h0.2M377.5 647.5h0.2M381.9 624.1h0.2M371.1 640.9h0.2M374.3 624.1h0.2M368.6 648.3h0.2M386.7 644.9h0.2M374.2 648.4h0.2M374.6 658.1h0.2M378.1 614.2h0.2M375.0 635.8h0.2M390.5 606.5h0.2M373.8 633.9h0.2M370.3 622.6h0.2M399.7 602.7h0.2M396.0 606.1h0.2M383.4 631.7h0.2M381.0 645.6h0.2M386.7 638.8h0.2M376.1 638.4h0.2M383.6 632.9h0.2M393.6 609.1h0.2M365.5 635.5h0.2M386.1 643.8h0.2M388.0 603.8h0.2M368.9 636.6h0.2M377.4 634.8h0.2M368.4 625.1h0.2M367.2 624.9h0.2M391.2 641.5h0.2M383.5 644.1h0.2M369.9 652.7h0.2M382.5 634.0h0.2M384.4 635.6h0.2M371.0 646.4h0.2M375.8 621.9h0.2M363.0 629.1h0.2M366.8 634.1h0.2M383.3 632.8h0.2M367.5 649.0h0.2M369.8 653.9h0.2M378.4 623.3h0.2M375.2 633.3h0.2M378.5 642.2h0.2M369.8 647.5h0.2M381.8 642.9h0.2M383.0 658.1h0.2M372.0 640.4h0.2M394.9 599.0h0.2M386.4 611.3h0.2M395.9 594.1h0.2M369.3 638.1h0.2M366.5 625.6h0.2M391.8 598.8h0.2M391.6 649.7h0.2M388.9 656.2h0.2M372.7 625.7h0.2M376.1 629.6h0.2M383.2 643.0h0.2M361.1 637.2h0.2M379.0 615.5h0.2M381.3 658.3h0.2M379.9 628.5h0.2M394.0 602.0h0.2M389.0 640.2h0.2M390.0 645.1h0.2M387.0 615.8h0.2M386.7 606.0h0.2M371.4 635.6h0.2M390.8 633.4h0.2M376.4 627.1h0.2M365.4 638.0h0.2M373.7 631.9h0.2M393.8 590.8h0.2M398.6 594.8h0.2M394.5 607.1h0.2M370.9 630.7h0.2M370.8 632.5h0.2M393.2 590.1h0.2M376.0 622.3h0.2M400.7 597.6h0.2M388.0 616.0h0.2M389.0 636.7h0.2M377.6 630.2h0.2M379.6 624.4h0.2M362.0 638.8h0.2M383.1 643.2h0.2M369.7 625.1h0.2M368.3 624.7h0.2M386.0 629.7h0.2M373.0 657.1h0.2M386.7 605.6h0.2M370.7 639.1h0.2M381.7 621.7h0.2M384.1 621.6h0.2M396.9 599.5h0.2M378.0 651.6h0.2M373.3 653.2h0.2M382.3 650.9h0.2M389.5 607.2h0.2M388.7 638.3h0.2M399.4 604.6h0.2M383.1 654.3h0.2M376.1 655.1h0.2M388.4 614.3h0.2M385.7 616.4h0.2M389.0 600.3h0.2M375.4 628.0h0.2M382.1 614.2h0.2M375.5 647.4h0.2M387.9 655.9h0.2M381.8 651.7h0.2M391.0 612.2h0.2M385.5 653.4h0.2M382.6 635.9h0.2M376.5 635.4h0.2M373.9 623.6h0.2M391.0 647.0h0.2M383.1 632.2h0.2M374.5 647.9h0.2M384.1 650.8h0.2M372.3 652.0h0.2M382.7 651.8h0.2M370.0 642.1h0.2M370.1 627.5h0.2" stroke="#74c658" stroke-width="1.1" stroke-linecap="round" fill="none"/>
<path d="M372.4 649.9h0.2M383.4 644.7h0.2M380.1 626.4h0.2M379.8 613.7h0.2M366.3 630.6h0.2M364.7 643.0h0.2M378.9 654.7h0.2M369.2 636.9h0.2M361.6 636.0h0.2M386.2 610.1h0.2M371.0 652.3h0.2M391.1 653.4h0.2M396.3 601.1h0.2M371.8 635.3h0.2M383.1 623.3h0.2M376.4 646.2h0.2M373.1 615.9h0.2M373.3 624.3h0.2M391.8 651.4h0.2M372.4 630.5h0.2M379.7 611.2h0.2M382.6 615.6h0.2M368.0 652.6h0.2M381.7 645.4h0.2M385.8 645.9h0.2M377.9 629.7h0.2M375.0 616.5h0.2M382.9 651.3h0.2M381.2 633.6h0.2M374.3 645.4h0.2M383.2 608.1h0.2M390.2 636.5h0.2M393.1 647.6h0.2M368.9 629.0h0.2M391.0 652.8h0.2M368.3 651.4h0.2M367.6 649.3h0.2M390.7 612.8h0.2M394.7 589.7h0.2M389.1 644.6h0.2M370.3 645.2h0.2M379.6 630.4h0.2M394.1 648.9h0.2M390.8 606.4h0.2M371.5 636.0h0.2M384.0 633.3h0.2M370.9 638.3h0.2M386.4 631.7h0.2M382.0 609.4h0.2M385.4 638.9h0.2M385.2 630.7h0.2M388.2 605.4h0.2M396.9 595.3h0.2M393.1 595.7h0.2M378.5 639.5h0.2M371.0 626.4h0.2M361.2 631.8h0.2M366.2 634.7h0.2M364.6 629.8h0.2M379.9 654.2h0.2M369.0 653.2h0.2M384.1 636.2h0.2M375.3 628.9h0.2M384.3 637.8h0.2M383.5 643.5h0.2M381.1 644.4h0.2M379.6 614.8h0.2M375.2 623.5h0.2M379.3 633.2h0.2M367.1 631.9h0.2M389.7 644.2h0.2M392.9 641.2h0.2M383.2 613.3h0.2M387.8 644.8h0.2M393.1 594.9h0.2M382.6 609.0h0.2M366.8 621.8h0.2M380.4 652.3h0.2M366.5 649.1h0.2M377.1 648.3h0.2M390.6 648.3h0.2M393.1 638.7h0.2M387.5 629.3h0.2M367.1 626.5h0.2M401.9 600.3h0.2M393.2 645.6h0.2M387.1 618.3h0.2M376.1 637.4h0.2M393.6 648.0h0.2M385.9 645.7h0.2M397.2 605.2h0.2M379.8 643.0h0.2M371.7 636.4h0.2M392.7 639.7h0.2M398.2 593.5h0.2M374.3 635.9h0.2M367.1 629.8h0.2M375.3 636.4h0.2M369.9 653.7h0.2M390.8 610.1h0.2M390.3 643.5h0.2M398.3 601.9h0.2M377.3 623.5h0.2M392.1 591.8h0.2M376.3 624.8h0.2M378.1 650.9h0.2M386.0 650.7h0.2M376.1 637.5h0.2M390.1 642.6h0.2M377.5 654.5h0.2M383.6 641.1h0.2M391.0 645.3h0.2M375.4 634.7h0.2M364.8 639.0h0.2M386.4 604.1h0.2M385.9 641.3h0.2M379.3 644.8h0.2M388.1 613.6h0.2M385.0 616.2h0.2M376.4 613.6h0.2M372.0 626.7h0.2M382.9 639.1h0.2M371.5 636.9h0.2M362.1 638.4h0.2M383.5 623.2h0.2M381.9 637.9h0.2M393.6 610.2h0.2M389.1 601.4h0.2M390.4 648.1h0.2M388.5 614.0h0.2M392.8 599.6h0.2M383.4 614.2h0.2M381.0 654.5h0.2M390.7 605.4h0.2M397.4 603.5h0.2M381.9 615.3h0.2M392.0 590.8h0.2M371.3 631.1h0.2M377.0 622.3h0.2M366.3 626.8h0.2M379.7 618.0h0.2M392.1 636.7h0.2M382.0 659.7h0.2M373.5 654.5h0.2M399.2 594.9h0.2M364.3 628.5h0.2M362.1 637.4h0.2M371.5 656.7h0.2M383.4 624.0h0.2M368.9 637.0h0.2M391.7 602.0h0.2M393.1 638.7h0.2M372.6 651.2h0.2M374.9 654.6h0.2M393.9 648.0h0.2M380.0 646.3h0.2M398.9 603.6h0.2M372.8 656.3h0.2M384.8 629.9h0.2M364.3 631.2h0.2M385.3 618.3h0.2M376.3 631.8h0.2M395.4 590.1h0.2M370.8 632.8h0.2M398.9 596.0h0.2M401.6 594.5h0.2M369.4 626.0h0.2M372.6 637.8h0.2M367.7 649.7h0.2M385.6 615.4h0.2M383.2 635.5h0.2M374.3 646.0h0.2M371.1 619.1h0.2M365.7 637.5h0.2M398.3 599.9h0.2M390.0 613.5h0.2M375.4 614.7h0.2M393.3 649.1h0.2M378.4 650.9h0.2M365.9 625.9h0.2M378.5 656.3h0.2M380.7 634.4h0.2M368.3 633.7h0.2M389.6 611.0h0.2M379.0 623.3h0.2M387.5 636.9h0.2M396.7 591.4h0.2M372.9 619.3h0.2M373.9 628.7h0.2M377.6 626.9h0.2M384.1 612.2h0.2M383.4 611.1h0.2M378.6 644.5h0.2M383.9 620.4h0.2M378.1 640.7h0.2M375.0 625.3h0.2M388.2 656.0h0.2M373.5 625.1h0.2M398.8 603.9h0.2M382.5 629.2h0.2" stroke="#23407a" stroke-width="1.1" stroke-linecap="round" fill="none"/>
<path d="M367.1 641.2h0.2M393.8 640.9h0.2M389.1 635.3h0.2M385.8 635.6h0.2M390.0 606.4h0.2M387.3 650.3h0.2M389.4 652.7h0.2M393.2 601.1h0.2M380.7 633.3h0.2M379.9 652.9h0.2M385.7 640.0h0.2M368.2 622.8h0.2M389.3 654.8h0.2M365.8 635.5h0.2M368.7 636.1h0.2M383.6 651.9h0.2M381.3 638.8h0.2M377.4 631.4h0.2M378.5 646.3h0.2M361.2 631.7h0.2M392.3 650.3h0.2M373.6 633.2h0.2M372.2 617.9h0.2M383.6 634.2h0.2M377.5 638.1h0.2M371.4 617.8h0.2M392.1 593.1h0.2M392.6 592.0h0.2M376.1 650.3h0.2M385.1 646.1h0.2M387.5 648.2h0.2M392.4 591.0h0.2M368.2 631.4h0.2M394.1 602.2h0.2M388.4 628.4h0.2M377.5 655.0h0.2M372.7 645.0h0.2M364.3 640.9h0.2M385.6 629.0h0.2M360.9 636.6h0.2M380.0 643.9h0.2M396.5 602.0h0.2M365.3 630.3h0.2M369.6 629.1h0.2M382.4 624.3h0.2M376.7 638.0h0.2M382.1 632.2h0.2M389.6 609.7h0.2M389.8 637.0h0.2M392.6 610.9h0.2M383.7 640.4h0.2M373.2 643.0h0.2M371.4 644.8h0.2M381.4 626.0h0.2M382.4 619.1h0.2M391.4 605.6h0.2M366.3 626.6h0.2M398.0 594.6h0.2M361.0 641.3h0.2M374.8 646.0h0.2M386.0 630.7h0.2M382.0 607.3h0.2M377.7 640.1h0.2M388.9 636.2h0.2M383.8 655.9h0.2M389.6 609.1h0.2M371.8 634.4h0.2M387.9 630.2h0.2M369.8 631.5h0.2M392.5 639.4h0.2M370.7 654.0h0.2M365.9 624.4h0.2M385.7 636.0h0.2M376.9 631.2h0.2M361.8 630.8h0.2M368.3 651.2h0.2M376.4 627.7h0.2M392.1 605.7h0.2M390.9 610.2h0.2M388.6 638.6h0.2M380.2 655.1h0.2M370.0 640.6h0.2M386.6 632.3h0.2M392.9 607.7h0.2M391.2 601.7h0.2M374.3 630.1h0.2M390.2 645.5h0.2M393.9 641.9h0.2M387.1 635.2h0.2M370.0 641.7h0.2M391.1 647.7h0.2M379.7 642.4h0.2M379.1 632.1h0.2M391.8 597.0h0.2M364.5 644.7h0.2M386.0 625.8h0.2M389.4 643.1h0.2M383.1 647.1h0.2M366.6 634.7h0.2M367.8 625.3h0.2M381.4 631.4h0.2M377.3 634.0h0.2M382.8 655.2h0.2M369.4 645.4h0.2M380.4 628.9h0.2M370.2 627.9h0.2M386.3 652.8h0.2M384.4 623.0h0.2M389.6 637.4h0.2M375.9 638.4h0.2M380.0 630.8h0.2M365.9 630.9h0.2M369.5 649.9h0.2M366.9 646.1h0.2M383.2 635.5h0.2M368.1 645.8h0.2M371.5 639.3h0.2M381.6 644.2h0.2M369.8 630.1h0.2M401.3 595.4h0.2M373.1 649.9h0.2M372.3 617.1h0.2M368.9 623.5h0.2M390.7 645.9h0.2M393.8 600.2h0.2M372.5 646.1h0.2M384.1 639.4h0.2M386.0 654.2h0.2M392.6 590.1h0.2M386.1 638.1h0.2M367.5 640.3h0.2M389.2 655.9h0.2M376.9 651.2h0.2M389.7 639.2h0.2M388.3 643.3h0.2M397.4 603.4h0.2M393.5 594.7h0.2M379.8 658.6h0.2M389.6 613.0h0.2M378.5 645.5h0.2M385.6 641.6h0.2M380.0 617.8h0.2M383.5 628.1h0.2M393.3 650.0h0.2M361.0 633.9h0.2M374.1 616.7h0.2M382.0 658.4h0.2M391.0 633.6h0.2M381.4 613.5h0.2M392.8 603.6h0.2" stroke="#2f8a8a" stroke-width="1.1" stroke-linecap="round" fill="none"/>
<path d="M453.8,569.2 C454.4,568.7 457.4,568.6 460.2,567.9 C463.0,567.2 467.6,565.4 470.6,564.8 C473.6,564.2 476.7,563.8 478.4,564.1 C480.1,564.4 480.7,565.5 480.9,566.6 C481.1,567.8 480.8,569.7 479.7,571.0 C478.6,572.3 475.8,573.2 474.5,574.4 C473.2,575.6 472.6,577.0 471.9,578.3 C471.2,579.6 470.8,582.2 470.1,582.2 C469.4,582.2 468.5,579.6 467.5,578.3 C466.5,577.0 465.1,575.2 464.1,574.4 C463.1,573.6 462.1,573.2 461.5,573.6 C460.9,574.0 460.6,576.2 460.2,577.0 C459.8,577.8 459.2,578.7 459.0,578.3 C458.8,577.9 459.4,575.6 459.0,574.4 C458.6,573.2 457.3,571.9 456.4,571.0 C455.5,570.1 453.2,569.7 453.8,569.2Z" fill="#26336f"/>
<path d="M473.2 566.8h0.2M471.8 568.0h0.2M469.4 578.8h0.2M459.2 577.3h0.2M473.4 567.5h0.2M456.6 570.9h0.2M471.4 567.3h0.2M466.4 567.0h0.2M465.9 567.0h0.2M470.6 572.6h0.2M476.5 570.7h0.2M459.5 577.1h0.2M479.8 568.4h0.2M467.4 575.5h0.2M468.4 569.8h0.2M473.2 565.6h0.2M462.7 567.6h0.2M472.4 573.9h0.2M464.0 571.1h0.2M473.9 571.2h0.2M469.1 577.3h0.2M463.7 573.7h0.2M457.8 568.7h0.2M470.2 567.3h0.2M466.2 566.2h0.2M478.3 571.2h0.2M459.7 573.7h0.2M470.6 580.1h0.2M477.6 572.3h0.2M471.9 570.2h0.2M479.3 568.6h0.2M468.5 579.6h0.2M463.9 571.3h0.2M469.1 575.5h0.2M462.7 572.1h0.2M475.0 571.9h0.2M469.9 579.3h0.2M469.0 572.9h0.2M472.0 569.5h0.2M475.8 567.4h0.2M461.8 568.2h0.2M473.1 574.8h0.2M463.9 572.4h0.2M467.8 568.1h0.2M462.9 572.3h0.2M468.1 577.7h0.2M466.7 573.0h0.2M460.3 571.7h0.2M467.2 574.1h0.2M476.2 564.6h0.2" stroke="#3a8a8a" stroke-width="1.1" stroke-linecap="round" fill="none"/>
<path d="M427.9,602.9 C429.0,602.1 431.2,600.9 433.1,600.8 C435.0,600.7 437.5,601.1 439.0,602.1 C440.5,603.1 441.5,604.6 442.1,606.7 C442.7,608.8 442.9,612.1 442.7,614.5 C442.5,616.9 441.7,619.0 440.8,621.0 C439.9,623.0 438.1,624.7 437.5,626.2 C436.9,627.7 436.7,628.7 437.0,630.0 C437.3,631.3 438.6,632.6 439.5,633.9 C440.4,635.2 441.7,636.3 442.1,637.8 C442.5,639.3 442.7,641.6 442.1,643.0 C441.5,644.4 440.2,645.4 438.3,646.1 C436.4,646.8 433.1,647.2 430.5,647.1 C427.9,647.0 424.3,646.3 422.7,645.6 C421.1,644.9 420.9,644.3 420.9,643.0 C420.9,641.7 421.7,639.5 422.7,637.8 C423.7,636.1 425.8,634.1 427.1,632.6 C428.4,631.1 430.1,630.2 430.5,628.7 C430.9,627.2 430.3,625.3 429.7,623.6 C429.1,621.9 427.7,620.6 427.1,618.4 C426.5,616.2 426.2,612.8 426.1,610.6 C426.0,608.5 426.3,606.8 426.6,605.5 C426.9,604.2 426.8,603.7 427.9,602.9Z" fill="#20225f"/>
<path d="M497.8,587.3 C499.1,587.1 501.5,588.4 502.9,589.9 C504.3,591.4 506.0,594.0 506.3,596.4 C506.6,598.8 505.7,602.5 504.7,604.2 C503.7,605.9 501.5,605.6 500.4,606.7 C499.2,607.8 498.9,609.5 497.8,610.6 C496.7,611.7 494.9,612.3 493.9,613.2 C492.9,614.1 492.3,614.7 491.8,615.8 C491.3,616.9 491.3,618.5 490.8,619.7 C490.3,620.9 488.6,621.5 488.7,622.8 C488.8,624.1 490.2,625.5 491.3,627.4 C492.4,629.2 494.1,631.5 495.2,633.9 C496.3,636.3 497.4,639.1 497.8,641.7 C498.2,644.3 498.5,647.0 497.8,649.4 C497.1,651.8 495.8,654.2 493.9,655.9 C491.9,657.6 488.7,659.3 486.1,659.8 C483.5,660.3 480.8,659.9 478.4,659.0 C476.0,658.1 473.4,656.4 471.9,654.6 C470.4,652.8 470.2,649.8 469.3,648.1 C468.4,646.4 467.6,645.6 466.7,644.3 C465.8,643.0 464.2,641.9 463.6,640.4 C463.0,638.9 462.6,636.9 462.8,635.2 C463.0,633.5 463.9,631.5 464.9,630.0 C465.8,628.5 467.6,627.7 468.5,626.2 C469.4,624.7 469.6,622.5 470.6,621.0 C471.6,619.5 473.0,618.4 474.5,617.1 C476.0,615.8 478.2,614.7 479.7,613.2 C481.2,611.7 482.2,609.5 483.5,608.0 C484.8,606.5 486.1,605.5 487.4,604.2 C488.7,602.9 490.2,601.6 491.3,600.3 C492.4,599.0 493.2,597.9 493.9,596.4 C494.5,594.9 494.5,592.7 495.2,591.2 C495.9,589.7 496.5,587.5 497.8,587.3Z" fill="none" stroke="#444" stroke-width="5.2" stroke-dasharray="2.2,1.6" stroke-linejoin="round"/>
<path d="M497.8,587.3 C499.1,587.1 501.5,588.4 502.9,589.9 C504.3,591.4 506.0,594.0 506.3,596.4 C506.6,598.8 505.7,602.5 504.7,604.2 C503.7,605.9 501.5,605.6 500.4,606.7 C499.2,607.8 498.9,609.5 497.8,610.6 C496.7,611.7 494.9,612.3 493.9,613.2 C492.9,614.1 492.3,614.7 491.8,615.8 C491.3,616.9 491.3,618.5 490.8,619.7 C490.3,620.9 488.6,621.5 488.7,622.8 C488.8,624.1 490.2,625.5 491.3,627.4 C492.4,629.2 494.1,631.5 495.2,633.9 C496.3,636.3 497.4,639.1 497.8,641.7 C498.2,644.3 498.5,647.0 497.8,649.4 C497.1,651.8 495.8,654.2 493.9,655.9 C491.9,657.6 488.7,659.3 486.1,659.8 C483.5,660.3 480.8,659.9 478.4,659.0 C476.0,658.1 473.4,656.4 471.9,654.6 C470.4,652.8 470.2,649.8 469.3,648.1 C468.4,646.4 467.6,645.6 466.7,644.3 C465.8,643.0 464.2,641.9 463.6,640.4 C463.0,638.9 462.6,636.9 462.8,635.2 C463.0,633.5 463.9,631.5 464.9,630.0 C465.8,628.5 467.6,627.7 468.5,626.2 C469.4,624.7 469.6,622.5 470.6,621.0 C471.6,619.5 473.0,618.4 474.5,617.1 C476.0,615.8 478.2,614.7 479.7,613.2 C481.2,611.7 482.2,609.5 483.5,608.0 C484.8,606.5 486.1,605.5 487.4,604.2 C488.7,602.9 490.2,601.6 491.3,600.3 C492.4,599.0 493.2,597.9 493.9,596.4 C494.5,594.9 494.5,592.7 495.2,591.2 C495.9,589.7 496.5,587.5 497.8,587.3Z" fill="none" stroke="#fff" stroke-width="3.6" stroke-linejoin="round"/>
<path d="M497.8,587.3 C499.1,587.1 501.5,588.4 502.9,589.9 C504.3,591.4 506.0,594.0 506.3,596.4 C506.6,598.8 505.7,602.5 504.7,604.2 C503.7,605.9 501.5,605.6 500.4,606.7 C499.2,607.8 498.9,609.5 497.8,610.6 C496.7,611.7 494.9,612.3 493.9,613.2 C492.9,614.1 492.3,614.7 491.8,615.8 C491.3,616.9 491.3,618.5 490.8,619.7 C490.3,620.9 488.6,621.5 488.7,622.8 C488.8,624.1 490.2,625.5 491.3,627.4 C492.4,629.2 494.1,631.5 495.2,633.9 C496.3,636.3 497.4,639.1 497.8,641.7 C498.2,644.3 498.5,647.0 497.8,649.4 C497.1,651.8 495.8,654.2 493.9,655.9 C491.9,657.6 488.7,659.3 486.1,659.8 C483.5,660.3 480.8,659.9 478.4,659.0 C476.0,658.1 473.4,656.4 471.9,654.6 C470.4,652.8 470.2,649.8 469.3,648.1 C468.4,646.4 467.6,645.6 466.7,644.3 C465.8,643.0 464.2,641.9 463.6,640.4 C463.0,638.9 462.6,636.9 462.8,635.2 C463.0,633.5 463.9,631.5 464.9,630.0 C465.8,628.5 467.6,627.7 468.5,626.2 C469.4,624.7 469.6,622.5 470.6,621.0 C471.6,619.5 473.0,618.4 474.5,617.1 C476.0,615.8 478.2,614.7 479.7,613.2 C481.2,611.7 482.2,609.5 483.5,608.0 C484.8,606.5 486.1,605.5 487.4,604.2 C488.7,602.9 490.2,601.6 491.3,600.3 C492.4,599.0 493.2,597.9 493.9,596.4 C494.5,594.9 494.5,592.7 495.2,591.2 C495.9,589.7 496.5,587.5 497.8,587.3Z" fill="#222a68"/>
<path d="M463.5 635.5h0.2M487.7 652.5h0.2M501.4 590.5h0.2M473.8 649.9h0.2M503.8 599.7h0.2M487.0 605.3h0.2M486.4 659.3h0.2M471.3 642.6h0.2M482.9 612.0h0.2M487.3 627.4h0.2M465.1 636.2h0.2M484.1 611.3h0.2M480.7 615.1h0.2M485.9 622.1h0.2M480.4 635.2h0.2M475.8 628.8h0.2M476.6 622.7h0.2M489.1 607.3h0.2M496.3 601.1h0.2M491.9 654.8h0.2M471.4 626.9h0.2M495.1 639.8h0.2M487.9 639.6h0.2M497.1 645.8h0.2M483.9 659.1h0.2M493.7 643.8h0.2M482.2 649.7h0.2M476.9 640.6h0.2M486.9 654.1h0.2M477.6 619.9h0.2M486.6 624.6h0.2M480.0 640.9h0.2M482.7 651.4h0.2M478.6 620.3h0.2M497.5 590.8h0.2M486.2 618.8h0.2M472.6 630.7h0.2M472.1 630.2h0.2M495.6 593.5h0.2M475.9 639.8h0.2M493.0 637.8h0.2M491.5 644.0h0.2M480.5 648.8h0.2M484.2 618.9h0.2M487.2 622.6h0.2M486.0 636.7h0.2M489.5 640.1h0.2M473.5 618.4h0.2M487.2 637.4h0.2M463.8 634.4h0.2M487.4 621.1h0.2M490.4 606.5h0.2M487.6 643.3h0.2M487.8 641.3h0.2M475.0 651.4h0.2M489.0 638.5h0.2M465.1 635.4h0.2M483.7 632.0h0.2M467.7 640.7h0.2M470.1 637.6h0.2M477.2 625.6h0.2M499.4 597.9h0.2M477.8 639.6h0.2M496.9 601.0h0.2M491.8 602.7h0.2M486.4 641.6h0.2M485.0 617.9h0.2M497.9 603.1h0.2M493.1 634.5h0.2M474.0 625.6h0.2M486.8 617.8h0.2M490.7 648.8h0.2M498.8 595.5h0.2M481.2 625.0h0.2M496.5 597.9h0.2M495.2 652.5h0.2M487.9 636.5h0.2M484.2 629.5h0.2M492.2 637.3h0.2M492.9 644.9h0.2M478.6 649.9h0.2M483.6 612.2h0.2M496.8 594.4h0.2M489.0 625.4h0.2M479.2 649.4h0.2M468.3 635.5h0.2M495.7 636.4h0.2M494.1 650.2h0.2M494.4 606.4h0.2M486.2 654.9h0.2M487.2 648.2h0.2M485.4 655.6h0.2M481.8 659.1h0.2M470.6 645.1h0.2M471.7 641.1h0.2M493.0 652.8h0.2M470.0 638.3h0.2M487.7 630.9h0.2M466.5 631.6h0.2M495.4 598.9h0.2M489.4 643.2h0.2M475.8 648.2h0.2M495.0 605.2h0.2M480.2 626.2h0.2M467.3 644.6h0.2M492.2 636.7h0.2M475.8 642.3h0.2M483.5 627.3h0.2M488.4 611.9h0.2M481.6 618.2h0.2M487.5 618.6h0.2M499.6 598.6h0.2M472.7 619.5h0.2M487.9 614.6h0.2M478.6 616.0h0.2M489.9 647.0h0.2M479.0 631.3h0.2M501.5 590.7h0.2M485.8 628.2h0.2M479.2 633.2h0.2M490.8 629.2h0.2M498.3 603.0h0.2M473.5 618.8h0.2M503.0 600.6h0.2M483.1 625.4h0.2M480.1 655.2h0.2M469.6 637.2h0.2M486.1 619.9h0.2M474.0 619.6h0.2M494.3 640.3h0.2M470.9 646.7h0.2M500.4 588.9h0.2M493.7 635.7h0.2M495.9 649.0h0.2M485.4 656.2h0.2M482.0 620.9h0.2M484.9 611.5h0.2M475.3 652.7h0.2M497.3 640.3h0.2M483.6 656.9h0.2M487.1 618.2h0.2M467.3 633.9h0.2M488.7 625.2h0.2M483.8 608.9h0.2M481.3 624.0h0.2M471.7 640.0h0.2M504.5 595.1h0.2M475.1 652.5h0.2M463.5 634.0h0.2M486.8 613.3h0.2M491.2 605.6h0.2M472.5 636.0h0.2M469.3 633.1h0.2M484.4 658.7h0.2M473.3 653.6h0.2M473.8 620.7h0.2M485.4 631.2h0.2M478.6 653.6h0.2M499.5 599.1h0.2M496.7 607.3h0.2M468.9 645.5h0.2M477.6 644.1h0.2M479.4 620.2h0.2M491.0 639.5h0.2M475.4 631.8h0.2M486.8 633.0h0.2M474.8 646.6h0.2M486.6 641.1h0.2M497.2 598.9h0.2M496.0 640.7h0.2M477.3 650.3h0.2M472.5 634.1h0.2M480.3 655.3h0.2M474.1 648.7h0.2M482.3 655.1h0.2M481.1 637.6h0.2M494.0 642.6h0.2M488.7 655.7h0.2M486.2 605.5h0.2M469.6 646.6h0.2M465.6 640.2h0.2M477.7 634.1h0.2M492.3 656.3h0.2M468.4 645.5h0.2M485.0 658.3h0.2M473.4 634.2h0.2M476.7 624.8h0.2M479.6 630.2h0.2M500.5 598.0h0.2M488.5 657.1h0.2M467.9 643.9h0.2M466.9 632.5h0.2M473.2 628.1h0.2M496.1 650.9h0.2M476.5 644.2h0.2M493.6 612.7h0.2M484.5 610.1h0.2M499.8 592.3h0.2M477.5 647.9h0.2M467.0 634.5h0.2" stroke="#2f7a8a" stroke-width="1.1" stroke-linecap="round" fill="none"/>
<path d="M480.3 617.3h0.2M485.0 609.0h0.2M474.4 631.9h0.2M495.6 638.5h0.2M468.2 630.3h0.2M481.7 610.5h0.2M483.4 632.5h0.2M492.3 637.0h0.2M497.9 601.2h0.2M466.5 638.9h0.2M493.6 635.2h0.2M480.5 640.5h0.2M491.1 643.3h0.2M492.4 653.8h0.2M468.2 630.3h0.2M480.3 626.1h0.2M496.8 597.2h0.2M494.4 604.2h0.2M486.4 647.8h0.2M465.7 629.9h0.2M465.5 631.2h0.2M485.0 652.1h0.2M474.4 642.1h0.2M488.0 643.6h0.2M479.3 624.3h0.2M472.4 638.7h0.2M486.1 616.8h0.2M494.0 634.5h0.2M472.9 639.2h0.2M492.7 637.4h0.2M495.2 650.4h0.2M489.3 620.1h0.2M489.3 648.6h0.2M481.4 659.2h0.2M493.4 612.9h0.2M465.2 633.3h0.2M473.0 631.4h0.2M472.2 638.7h0.2M480.2 644.8h0.2M484.3 642.1h0.2M501.6 596.4h0.2M501.4 593.5h0.2M493.2 631.9h0.2M497.5 642.8h0.2M481.2 614.8h0.2M490.6 637.0h0.2M490.9 629.2h0.2M466.7 640.9h0.2M477.4 637.1h0.2M482.2 627.9h0.2M466.9 638.2h0.2M480.1 636.4h0.2M475.3 635.8h0.2M468.0 641.9h0.2M488.8 638.7h0.2M504.1 601.6h0.2M474.0 640.6h0.2M477.3 643.0h0.2M485.5 630.7h0.2M466.2 629.3h0.2" stroke="#3a9a7e" stroke-width="1.1" stroke-linecap="round" fill="none"/>
<text x="368.6" y="609.2" font-size="10" text-anchor="middle" fill="#231f20" stroke="#231f20" stroke-width="0.22">T</text>
<text x="472.1" y="609.2" font-size="10" text-anchor="middle" fill="#231f20" stroke="#231f20" stroke-width="0.22">T</text>
<line x1="310.7" y1="555.0" x2="310.7" y2="663.7" stroke="#5a5a5a" stroke-width="0.9"/>
<line x1="309.5" y1="557.9" x2="310.7" y2="557.9" stroke="#5a5a5a" stroke-width="0.9"/>
<text x="308.3" y="561.4" font-size="10" text-anchor="end" fill="#231f20" stroke="#231f20" stroke-width="0.22">15</text>
<line x1="309.5" y1="579.8" x2="310.7" y2="579.8" stroke="#5a5a5a" stroke-width="0.9"/>
<text x="308.3" y="583.3" font-size="10" text-anchor="end" fill="#231f20" stroke="#231f20" stroke-width="0.22">10</text>
<line x1="309.5" y1="602.4" x2="310.7" y2="602.4" stroke="#5a5a5a" stroke-width="0.9"/>
<text x="308.3" y="605.9" font-size="10" text-anchor="end" fill="#231f20" stroke="#231f20" stroke-width="0.22">5</text>
<line x1="309.5" y1="624.6" x2="310.7" y2="624.6" stroke="#5a5a5a" stroke-width="0.9"/>
<text x="308.3" y="628.1" font-size="10" text-anchor="end" fill="#231f20" stroke="#231f20" stroke-width="0.22">0</text>
<line x1="309.5" y1="645.3" x2="310.7" y2="645.3" stroke="#5a5a5a" stroke-width="0.9"/>
<text x="308.3" y="648.8" font-size="10" text-anchor="end" fill="#231f20" stroke="#231f20" stroke-width="0.22">−5</text>
<line x1="310.5" y1="663.7" x2="408.4" y2="663.7" stroke="#5a5a5a" stroke-width="0.9"/>
<line x1="414.0" y1="663.7" x2="511.0" y2="663.7" stroke="#5a5a5a" stroke-width="0.9"/>
<text x="328.5" y="677.0" font-size="10" text-anchor="middle" fill="#231f20" stroke="#231f20" stroke-width="0.22">−10</text>
<text x="347.4" y="677.0" font-size="10" text-anchor="middle" fill="#231f20" stroke="#231f20" stroke-width="0.22">−5</text>
<text x="366.0" y="677.0" font-size="10" text-anchor="middle" fill="#231f20" stroke="#231f20" stroke-width="0.22">0</text>
<text x="385.0" y="677.0" font-size="10" text-anchor="middle" fill="#231f20" stroke="#231f20" stroke-width="0.22">5</text>
<text x="405.0" y="677.0" font-size="10" text-anchor="middle" fill="#231f20" stroke="#231f20" stroke-width="0.22">10</text>
<text x="433.5" y="677.0" font-size="10" text-anchor="middle" fill="#231f20" stroke="#231f20" stroke-width="0.22">−10</text>
<text x="452.4" y="677.0" font-size="10" text-anchor="middle" fill="#231f20" stroke="#231f20" stroke-width="0.22">−5</text>
<text x="470.4" y="677.0" font-size="10" text-anchor="middle" fill="#231f20" stroke="#231f20" stroke-width="0.22">0</text>
<text x="489.3" y="677.0" font-size="10" text-anchor="middle" fill="#231f20" stroke="#231f20" stroke-width="0.22">5</text>
<text x="509.5" y="677.0" font-size="10" text-anchor="middle" fill="#231f20" stroke="#231f20" stroke-width="0.22">10</text>
<text x="416.5" y="686.8" font-size="10" text-anchor="middle" fill="#231f20" stroke="#231f20" stroke-width="0.22">UMAP_1</text>
<text x="292.0" y="609.5" font-size="10" text-anchor="middle" fill="#231f20" stroke="#231f20" stroke-width="0.22" transform="rotate(-90 292.0 606.0)">UMAP_2</text>
<defs><linearGradient id="gH1" x1="0" y1="1" x2="0" y2="0"><stop offset="0" stop-color="#1e2062"/><stop offset="0.33" stop-color="#2a6e8e"/><stop offset="0.66" stop-color="#4db56e"/><stop offset="1" stop-color="#f5d62a"/></linearGradient></defs>
<rect x="507.2" y="619.7" width="6.6" height="41.8" fill="url(#gH1)"/>
<text x="518.5" y="626.1" font-size="10" fill="#231f20" stroke="#231f20" stroke-width="0.22">3</text>
<text x="518.5" y="638.4" font-size="10" fill="#231f20" stroke="#231f20" stroke-width="0.22">2</text>
<text x="518.5" y="650.8" font-size="10" fill="#231f20" stroke="#231f20" stroke-width="0.22">1</text>
<text x="518.5" y="663.0" font-size="10" fill="#231f20" stroke="#231f20" stroke-width="0.22">0</text>
<text x="686.0" y="551.5" font-size="10" text-anchor="middle" font-weight="bold" fill="#231f20" stroke="#231f20" stroke-width="0.22">PBMCs of healthy patients</text>
<text x="630.0" y="565.3" font-size="10" text-anchor="middle" font-weight="bold" fill="#231f20" stroke="#231f20" stroke-width="0.22">JUND</text>
<text x="747.6" y="565.3" font-size="10" text-anchor="middle" font-weight="bold" fill="#231f20" stroke="#231f20" stroke-width="0.22">SOCS3</text>
<path d="M635.0,580.9 C635.7,578.8 636.2,577.7 639.3,576.6 C642.4,575.5 649.2,574.3 653.8,574.2 C658.4,574.1 664.2,574.6 666.8,576.0 C669.4,577.4 669.6,579.8 669.6,582.3 C669.6,584.8 668.0,589.1 666.8,591.0 C665.6,592.9 662.2,592.7 662.4,593.9 C662.6,595.1 666.0,596.5 668.2,598.2 C670.4,599.9 673.5,602.3 675.4,604.0 C677.3,605.7 679.4,606.8 679.7,608.3 C680.0,609.8 678.6,611.5 677.4,612.7 C676.2,613.9 673.6,615.8 672.5,615.5 C671.4,615.2 672.2,612.9 670.5,611.2 C668.8,609.5 664.7,607.3 662.4,605.4 C660.1,603.5 658.5,601.2 656.6,599.7 C654.7,598.2 653.8,596.9 650.9,596.2 C648.0,595.5 641.9,596.4 639.3,595.3 C636.6,594.2 635.7,591.9 635.0,589.5 C634.3,587.1 634.3,583.0 635.0,580.9Z" fill="none" stroke="#444" stroke-width="5.2" stroke-dasharray="2.2,1.6" stroke-linejoin="round"/>
<path d="M635.0,580.9 C635.7,578.8 636.2,577.7 639.3,576.6 C642.4,575.5 649.2,574.3 653.8,574.2 C658.4,574.1 664.2,574.6 666.8,576.0 C669.4,577.4 669.6,579.8 669.6,582.3 C669.6,584.8 668.0,589.1 666.8,591.0 C665.6,592.9 662.2,592.7 662.4,593.9 C662.6,595.1 666.0,596.5 668.2,598.2 C670.4,599.9 673.5,602.3 675.4,604.0 C677.3,605.7 679.4,606.8 679.7,608.3 C680.0,609.8 678.6,611.5 677.4,612.7 C676.2,613.9 673.6,615.8 672.5,615.5 C671.4,615.2 672.2,612.9 670.5,611.2 C668.8,609.5 664.7,607.3 662.4,605.4 C660.1,603.5 658.5,601.2 656.6,599.7 C654.7,598.2 653.8,596.9 650.9,596.2 C648.0,595.5 641.9,596.4 639.3,595.3 C636.6,594.2 635.7,591.9 635.0,589.5 C634.3,587.1 634.3,583.0 635.0,580.9Z" fill="none" stroke="#fff" stroke-width="3.6" stroke-linejoin="round"/>
<path d="M635.0,580.9 C635.7,578.8 636.2,577.7 639.3,576.6 C642.4,575.5 649.2,574.3 653.8,574.2 C658.4,574.1 664.2,574.6 666.8,576.0 C669.4,577.4 669.6,579.8 669.6,582.3 C669.6,584.8 668.0,589.1 666.8,591.0 C665.6,592.9 662.2,592.7 662.4,593.9 C662.6,595.1 666.0,596.5 668.2,598.2 C670.4,599.9 673.5,602.3 675.4,604.0 C677.3,605.7 679.4,606.8 679.7,608.3 C680.0,609.8 678.6,611.5 677.4,612.7 C676.2,613.9 673.6,615.8 672.5,615.5 C671.4,615.2 672.2,612.9 670.5,611.2 C668.8,609.5 664.7,607.3 662.4,605.4 C660.1,603.5 658.5,601.2 656.6,599.7 C654.7,598.2 653.8,596.9 650.9,596.2 C648.0,595.5 641.9,596.4 639.3,595.3 C636.6,594.2 635.7,591.9 635.0,589.5 C634.3,587.1 634.3,583.0 635.0,580.9Z" fill="#1f2664"/>
<path d="M647.0 592.6h0.2M667.4 582.9h0.2M665.5 599.7h0.2M677.0 609.1h0.2M670.7 602.8h0.2M664.1 580.0h0.2M640.7 580.2h0.2M661.9 603.0h0.2M653.3 585.4h0.2M659.1 579.9h0.2M664.0 580.6h0.2M639.8 592.6h0.2M647.9 588.8h0.2M666.9 576.9h0.2M647.8 584.4h0.2M675.1 607.7h0.2M652.0 595.7h0.2M678.5 607.4h0.2M654.5 580.7h0.2M654.3 576.0h0.2M661.5 599.7h0.2M662.8 600.9h0.2M678.1 610.9h0.2M645.2 582.4h0.2M662.0 582.1h0.2M652.4 589.6h0.2M662.3 595.3h0.2M665.7 601.1h0.2M649.6 578.8h0.2M674.5 607.7h0.2M641.1 582.3h0.2M671.6 611.0h0.2M671.9 605.8h0.2M669.8 604.1h0.2M677.7 609.2h0.2M648.2 591.5h0.2M672.9 614.8h0.2M656.0 577.6h0.2M640.6 581.5h0.2M648.6 575.7h0.2M657.5 576.6h0.2M650.7 593.2h0.2M656.0 595.8h0.2M641.2 593.1h0.2M644.1 582.7h0.2M653.3 581.7h0.2M669.0 581.6h0.2M661.4 592.5h0.2M650.0 582.0h0.2M641.7 590.5h0.2" stroke="#2f7a8a" stroke-width="1.1" stroke-linecap="round" fill="none"/>
<path d="M638.8 588.8h0.2M669.5 604.9h0.2M650.8 588.0h0.2M655.0 594.2h0.2M664.8 583.9h0.2M660.2 590.8h0.2M662.0 587.3h0.2M659.4 586.8h0.2M641.7 591.3h0.2M668.6 604.1h0.2M653.3 588.2h0.2M661.1 595.5h0.2M649.2 579.8h0.2M672.7 608.1h0.2" stroke="#3e9a7a" stroke-width="1.1" stroke-linecap="round" fill="none"/>
<path d="M583.0,614.1 C583.5,612.7 585.6,611.9 587.3,611.2 C589.0,610.5 591.6,610.8 593.1,609.8 C594.6,608.8 595.3,607.1 596.0,605.4 C596.7,603.7 596.9,600.8 597.4,599.7 C597.9,598.7 598.3,598.9 598.9,599.1 C599.5,599.3 600.6,599.6 601.2,601.1 C601.8,602.6 601.8,606.4 602.3,608.3 C602.8,610.2 603.2,611.5 604.1,612.7 C605.0,613.9 605.5,614.8 607.5,615.5 C609.5,616.2 614.8,616.5 616.2,617.0 C617.7,617.5 618.1,618.0 616.2,618.4 C614.3,618.8 607.6,618.7 604.7,619.3 C601.8,619.9 601.3,621.7 598.9,622.2 C596.5,622.7 592.6,622.6 590.2,622.2 C587.8,621.8 585.6,621.2 584.4,619.9 C583.2,618.5 582.5,615.5 583.0,614.1Z" fill="#1f2664"/>
<path d="M587.3 612.7h0.2M605.0 617.5h0.2M591.2 613.0h0.2M603.1 613.6h0.2M607.1 618.2h0.2M614.5 617.0h0.2M589.2 611.9h0.2M598.8 620.0h0.2M596.9 619.4h0.2M594.5 618.1h0.2M600.9 608.8h0.2M589.2 611.4h0.2M595.7 620.9h0.2M601.2 603.9h0.2M589.3 616.7h0.2M591.8 611.4h0.2M601.4 605.3h0.2M596.8 614.8h0.2M603.7 613.0h0.2M586.3 612.8h0.2M594.6 615.1h0.2M596.5 612.8h0.2M596.7 610.9h0.2M601.3 612.6h0.2M602.4 614.6h0.2" stroke="#2f7a8a" stroke-width="1.1" stroke-linecap="round" fill="none"/>
<path d="M588.6 618.8h0.2M593.5 618.6h0.2M601.7 616.3h0.2M599.8 609.9h0.2M596.4 614.2h0.2M593.7 618.8h0.2M584.7 617.5h0.2" stroke="#3e9a7a" stroke-width="1.1" stroke-linecap="round" fill="none"/>
<path d="M654.6,642.4 C655.6,642.4 656.8,643.6 657.5,645.0 C658.2,646.4 659.0,649.0 659.0,651.0 C659.0,653.0 658.2,655.4 657.5,657.0 C656.8,658.6 655.6,659.9 655.0,660.5 C654.4,661.1 654.6,661.1 654.0,660.5 C653.4,659.9 652.1,658.6 651.5,657.0 C650.9,655.4 650.2,653.0 650.2,651.0 C650.2,649.0 650.9,646.4 651.6,645.0 C652.3,643.6 653.6,642.4 654.6,642.4Z" fill="#1f2664"/>
<path d="M656.8 654.5h0.2M651.2 654.3h0.2M655.1 653.5h0.2M655.9 653.2h0.2M655.0 657.8h0.2M654.4 648.7h0.2M652.8 657.1h0.2M650.8 651.0h0.2" stroke="#2f7a8a" stroke-width="1.1" stroke-linecap="round" fill="none"/>
<path d="M655.6 656.2h0.2M657.7 651.1h0.2" stroke="#3e9a7a" stroke-width="1.1" stroke-linecap="round" fill="none"/>
<circle cx="622.0" cy="609.8" r="0.90" fill="#1f2664"/>
<text x="634.1" y="580.1" font-size="10" text-anchor="middle" fill="#231f20" stroke="#231f20" stroke-width="0.22">T</text>
<path d="M750.6,580.9 C751.3,578.8 751.8,577.7 754.9,576.6 C758.0,575.5 764.8,574.3 769.4,574.2 C774.0,574.1 779.8,574.6 782.4,576.0 C785.0,577.4 785.2,579.8 785.2,582.3 C785.2,584.8 783.6,589.1 782.4,591.0 C781.2,592.9 777.8,592.7 778.0,593.9 C778.2,595.1 781.6,596.5 783.8,598.2 C786.0,599.9 789.1,602.3 791.0,604.0 C792.9,605.7 795.0,606.8 795.3,608.3 C795.6,609.8 794.2,611.5 793.0,612.7 C791.8,613.9 789.2,615.8 788.1,615.5 C787.0,615.2 787.8,612.9 786.1,611.2 C784.4,609.5 780.3,607.3 778.0,605.4 C775.7,603.5 774.1,601.2 772.2,599.7 C770.3,598.2 769.4,596.9 766.5,596.2 C763.6,595.5 757.5,596.4 754.9,595.3 C752.2,594.2 751.3,591.9 750.6,589.5 C749.9,587.1 749.9,583.0 750.6,580.9Z" fill="none" stroke="#444" stroke-width="5.2" stroke-dasharray="2.2,1.6" stroke-linejoin="round"/>
<path d="M750.6,580.9 C751.3,578.8 751.8,577.7 754.9,576.6 C758.0,575.5 764.8,574.3 769.4,574.2 C774.0,574.1 779.8,574.6 782.4,576.0 C785.0,577.4 785.2,579.8 785.2,582.3 C785.2,584.8 783.6,589.1 782.4,591.0 C781.2,592.9 777.8,592.7 778.0,593.9 C778.2,595.1 781.6,596.5 783.8,598.2 C786.0,599.9 789.1,602.3 791.0,604.0 C792.9,605.7 795.0,606.8 795.3,608.3 C795.6,609.8 794.2,611.5 793.0,612.7 C791.8,613.9 789.2,615.8 788.1,615.5 C787.0,615.2 787.8,612.9 786.1,611.2 C784.4,609.5 780.3,607.3 778.0,605.4 C775.7,603.5 774.1,601.2 772.2,599.7 C770.3,598.2 769.4,596.9 766.5,596.2 C763.6,595.5 757.5,596.4 754.9,595.3 C752.2,594.2 751.3,591.9 750.6,589.5 C749.9,587.1 749.9,583.0 750.6,580.9Z" fill="none" stroke="#fff" stroke-width="3.6" stroke-linejoin="round"/>
<path d="M750.6,580.9 C751.3,578.8 751.8,577.7 754.9,576.6 C758.0,575.5 764.8,574.3 769.4,574.2 C774.0,574.1 779.8,574.6 782.4,576.0 C785.0,577.4 785.2,579.8 785.2,582.3 C785.2,584.8 783.6,589.1 782.4,591.0 C781.2,592.9 777.8,592.7 778.0,593.9 C778.2,595.1 781.6,596.5 783.8,598.2 C786.0,599.9 789.1,602.3 791.0,604.0 C792.9,605.7 795.0,606.8 795.3,608.3 C795.6,609.8 794.2,611.5 793.0,612.7 C791.8,613.9 789.2,615.8 788.1,615.5 C787.0,615.2 787.8,612.9 786.1,611.2 C784.4,609.5 780.3,607.3 778.0,605.4 C775.7,603.5 774.1,601.2 772.2,599.7 C770.3,598.2 769.4,596.9 766.5,596.2 C763.6,595.5 757.5,596.4 754.9,595.3 C752.2,594.2 751.3,591.9 750.6,589.5 C749.9,587.1 749.9,583.0 750.6,580.9Z" fill="#1f2664"/>
<path d="M785.6 602.1h0.2M760.1 588.1h0.2M770.5 582.4h0.2M779.3 597.2h0.2M767.1 591.2h0.2M769.8 588.9h0.2M759.5 578.0h0.2M774.1 575.2h0.2M752.4 590.9h0.2M778.7 585.6h0.2M784.8 600.1h0.2M783.9 599.3h0.2M767.7 578.1h0.2M780.0 590.7h0.2M765.7 580.3h0.2M769.4 574.5h0.2M782.8 607.0h0.2M779.3 584.1h0.2M760.9 593.2h0.2M770.0 575.9h0.2M758.6 577.0h0.2M767.5 583.7h0.2M753.1 592.4h0.2M784.4 583.3h0.2M787.3 603.2h0.2M767.6 580.0h0.2M757.8 588.0h0.2M769.2 577.3h0.2M758.2 582.1h0.2M779.6 599.3h0.2M775.7 585.2h0.2M783.3 586.6h0.2M772.4 577.4h0.2M776.4 585.3h0.2M762.2 587.1h0.2M769.1 591.9h0.2M793.5 610.3h0.2M779.7 579.8h0.2M778.8 605.9h0.2M778.5 582.1h0.2M788.4 615.1h0.2M759.6 588.9h0.2M775.8 590.2h0.2M757.7 590.9h0.2M762.6 592.2h0.2M778.0 579.5h0.2M755.0 576.6h0.2M793.3 608.6h0.2M792.5 605.7h0.2M770.7 586.4h0.2M790.0 613.3h0.2M790.2 605.6h0.2M778.7 604.7h0.2M769.3 590.5h0.2M773.7 583.9h0.2M790.9 612.4h0.2M769.7 576.0h0.2M776.9 576.2h0.2M787.9 601.5h0.2M779.5 604.8h0.2M767.9 577.5h0.2M790.7 613.9h0.2M763.0 595.6h0.2M778.6 578.3h0.2M791.5 609.2h0.2M790.0 608.4h0.2M778.0 590.3h0.2M786.4 609.8h0.2M780.3 586.8h0.2M775.2 584.4h0.2M777.6 601.6h0.2M770.0 583.2h0.2M778.9 589.5h0.2M780.4 588.6h0.2M783.2 582.0h0.2M774.4 590.8h0.2M785.8 601.1h0.2M762.4 582.5h0.2M751.7 586.1h0.2M787.5 604.0h0.2M788.5 602.5h0.2M760.2 591.6h0.2M785.1 605.8h0.2M758.3 591.1h0.2M762.0 584.5h0.2M784.6 602.1h0.2M778.7 592.0h0.2M781.9 589.9h0.2M781.6 604.6h0.2M774.0 598.1h0.2" stroke="#4db56e" stroke-width="1.1" stroke-linecap="round" fill="none"/>
<path d="M751.2 582.6h0.2M768.8 591.7h0.2M774.8 590.7h0.2M767.1 593.2h0.2M759.3 579.3h0.2M772.0 580.1h0.2M782.1 577.9h0.2M770.8 588.6h0.2M760.8 577.1h0.2M781.0 590.5h0.2M770.0 588.0h0.2M787.8 608.4h0.2M767.8 585.0h0.2M787.5 604.1h0.2M772.4 578.3h0.2M790.8 606.5h0.2M762.0 576.3h0.2M774.8 589.8h0.2M768.5 588.3h0.2M783.9 605.4h0.2M751.0 582.8h0.2M770.0 593.1h0.2M760.9 586.3h0.2M773.1 581.4h0.2M758.9 580.0h0.2" stroke="#c8d83a" stroke-width="1.1" stroke-linecap="round" fill="none"/>
<path d="M767.7 581.0h0.2M769.5 581.6h0.2M781.5 590.6h0.2M757.2 588.7h0.2M777.9 597.9h0.2M772.1 597.8h0.2M793.6 610.9h0.2M768.3 594.2h0.2M788.6 612.4h0.2M789.5 604.9h0.2M776.2 579.0h0.2M755.9 590.0h0.2M769.6 578.9h0.2M772.1 594.4h0.2M752.9 583.7h0.2M765.5 574.9h0.2M758.5 576.1h0.2M776.3 600.6h0.2M785.6 601.2h0.2M776.7 583.7h0.2M774.3 598.5h0.2M758.5 590.6h0.2M773.0 591.8h0.2M786.2 611.4h0.2M757.4 577.4h0.2M792.0 612.1h0.2M767.5 587.2h0.2M766.6 585.1h0.2M760.0 578.2h0.2M782.9 599.8h0.2M762.5 589.7h0.2M784.6 603.7h0.2M751.2 580.7h0.2M759.2 585.5h0.2M761.2 591.1h0.2M759.0 581.1h0.2M783.8 609.1h0.2M773.2 581.7h0.2M782.2 578.3h0.2M763.4 575.8h0.2M785.5 605.3h0.2M761.5 590.3h0.2M771.8 589.4h0.2M783.4 605.6h0.2M762.7 595.4h0.2M773.7 584.3h0.2M792.2 611.6h0.2M753.4 588.9h0.2M753.5 589.2h0.2M767.3 577.0h0.2M778.2 589.9h0.2M777.1 577.4h0.2M775.1 593.6h0.2M768.5 579.2h0.2M777.5 579.3h0.2M759.0 587.8h0.2M784.2 603.5h0.2M790.7 608.6h0.2M780.4 604.4h0.2M761.7 590.3h0.2M753.7 584.7h0.2M772.8 596.7h0.2M762.5 582.4h0.2M767.5 580.7h0.2M779.2 596.7h0.2M768.5 596.4h0.2M777.8 598.9h0.2M773.9 595.8h0.2M772.9 598.9h0.2M762.0 593.9h0.2" stroke="#2f7a8a" stroke-width="1.1" stroke-linecap="round" fill="none"/>
<path d="M698.6,614.1 C699.1,612.7 701.2,611.9 702.9,611.2 C704.6,610.5 707.2,610.8 708.7,609.8 C710.2,608.8 710.9,607.1 711.6,605.4 C712.3,603.7 712.5,600.8 713.0,599.7 C713.5,598.7 713.9,598.9 714.5,599.1 C715.1,599.3 716.2,599.6 716.8,601.1 C717.4,602.6 717.4,606.4 717.9,608.3 C718.4,610.2 718.8,611.5 719.7,612.7 C720.6,613.9 721.1,614.8 723.1,615.5 C725.1,616.2 730.4,616.5 731.8,617.0 C733.3,617.5 733.7,618.0 731.8,618.4 C729.9,618.8 723.2,618.7 720.3,619.3 C717.4,619.9 716.9,621.7 714.5,622.2 C712.1,622.7 708.2,622.6 705.8,622.2 C703.4,621.8 701.2,621.2 700.0,619.9 C698.8,618.5 698.1,615.5 698.6,614.1Z" fill="#1f2664"/>
<path d="M719.3 615.3h0.2M715.2 602.6h0.2M722.3 617.3h0.2M704.6 614.6h0.2M714.1 615.0h0.2M707.6 619.2h0.2M712.7 604.4h0.2M712.4 611.1h0.2M712.9 611.5h0.2M719.8 615.7h0.2M719.5 617.7h0.2M723.8 616.4h0.2M714.5 617.6h0.2M723.5 617.5h0.2M714.8 604.7h0.2M717.5 614.9h0.2M714.3 606.2h0.2M719.2 613.7h0.2M729.0 617.6h0.2M715.2 604.5h0.2M712.4 610.7h0.2M708.7 614.3h0.2M716.7 603.6h0.2M708.6 619.9h0.2M715.9 619.2h0.2M703.5 615.4h0.2M714.1 608.2h0.2M716.3 602.2h0.2M708.6 611.7h0.2M716.9 607.6h0.2M711.1 606.6h0.2M713.2 621.7h0.2M704.8 616.0h0.2M720.3 615.1h0.2M702.6 615.6h0.2M730.1 616.8h0.2M721.5 617.2h0.2M703.4 618.8h0.2M717.9 618.0h0.2M701.9 617.9h0.2M725.5 618.0h0.2M716.8 604.0h0.2M714.8 612.2h0.2M713.1 616.4h0.2M708.0 618.1h0.2" stroke="#4db56e" stroke-width="1.1" stroke-linecap="round" fill="none"/>
<path d="M701.1 618.1h0.2M709.2 609.5h0.2M716.9 617.7h0.2M708.9 612.2h0.2M709.3 620.3h0.2M710.6 620.2h0.2M715.0 617.4h0.2M707.5 618.2h0.2M712.8 606.8h0.2M731.2 617.4h0.2M719.8 619.0h0.2M718.5 617.9h0.2" stroke="#c8d83a" stroke-width="1.1" stroke-linecap="round" fill="none"/>
<path d="M715.7 612.1h0.2M712.6 608.4h0.2M714.9 600.2h0.2M712.2 603.2h0.2M721.5 614.4h0.2M701.4 619.2h0.2M702.8 612.8h0.2M706.5 615.6h0.2M699.2 615.4h0.2M721.3 617.2h0.2M718.6 614.0h0.2M712.3 603.9h0.2M715.0 616.1h0.2M706.5 617.8h0.2M721.2 615.3h0.2M704.8 614.9h0.2M715.6 615.4h0.2M713.0 619.9h0.2M717.9 615.4h0.2M708.4 619.1h0.2M703.5 611.3h0.2M709.2 610.3h0.2M704.6 617.4h0.2M717.8 610.8h0.2M709.0 616.9h0.2M712.7 611.2h0.2M715.2 606.7h0.2M709.4 620.3h0.2M710.7 619.3h0.2M704.6 614.8h0.2M707.5 618.5h0.2M712.5 605.3h0.2M717.9 616.8h0.2M717.1 603.9h0.2M704.3 618.5h0.2" stroke="#2f7a8a" stroke-width="1.1" stroke-linecap="round" fill="none"/>
<path d="M770.2,642.4 C771.2,642.4 772.4,643.6 773.1,645.0 C773.8,646.4 774.6,649.0 774.6,651.0 C774.6,653.0 773.8,655.4 773.1,657.0 C772.4,658.6 771.2,659.9 770.6,660.5 C770.0,661.1 770.2,661.1 769.6,660.5 C769.0,659.9 767.7,658.6 767.1,657.0 C766.5,655.4 765.8,653.0 765.8,651.0 C765.8,649.0 766.5,646.4 767.2,645.0 C767.9,643.6 769.2,642.4 770.2,642.4Z" fill="#1f2664"/>
<path d="M771.9 658.1h0.2M769.6 657.1h0.2M768.9 652.2h0.2M769.2 650.6h0.2M770.0 645.9h0.2M767.3 654.7h0.2M766.8 649.1h0.2M769.1 657.1h0.2M771.1 656.3h0.2M772.6 652.4h0.2M774.2 651.1h0.2M769.4 646.9h0.2M767.1 645.9h0.2M767.7 648.2h0.2M769.0 657.4h0.2" stroke="#4db56e" stroke-width="1.1" stroke-linecap="round" fill="none"/>
<path d="M773.1 647.1h0.2M771.3 656.4h0.2M769.0 652.1h0.2M769.7 644.9h0.2" stroke="#c8d83a" stroke-width="1.1" stroke-linecap="round" fill="none"/>
<path d="M773.4 646.4h0.2M771.0 647.4h0.2M768.4 644.5h0.2M771.0 643.8h0.2M773.4 655.3h0.2M767.9 652.6h0.2M768.7 655.9h0.2M766.5 650.7h0.2M769.5 648.7h0.2M773.0 654.6h0.2M768.7 654.4h0.2" stroke="#2f7a8a" stroke-width="1.1" stroke-linecap="round" fill="none"/>
<circle cx="737.6" cy="609.8" r="0.90" fill="#1f2664"/>
<text x="749.7" y="580.1" font-size="10" text-anchor="middle" fill="#231f20" stroke="#231f20" stroke-width="0.22">T</text>
<line x1="576.4" y1="569.0" x2="576.4" y2="665.7" stroke="#5a5a5a" stroke-width="0.9"/>
<line x1="575.2" y1="604.9" x2="576.4" y2="604.9" stroke="#5a5a5a" stroke-width="0.9"/>
<text x="573.6" y="608.4" font-size="10" text-anchor="end" fill="#231f20" stroke="#231f20" stroke-width="0.22">0</text>
<line x1="575.2" y1="642.8" x2="576.4" y2="642.8" stroke="#5a5a5a" stroke-width="0.9"/>
<text x="573.6" y="646.3" font-size="10" text-anchor="end" fill="#231f20" stroke="#231f20" stroke-width="0.22">−10</text>
<line x1="576.2" y1="665.7" x2="686.0" y2="665.7" stroke="#5a5a5a" stroke-width="0.9"/>
<line x1="693.0" y1="665.7" x2="806.0" y2="665.7" stroke="#5a5a5a" stroke-width="0.9"/>
<text x="600.0" y="678.2" font-size="10" text-anchor="middle" fill="#231f20" stroke="#231f20" stroke-width="0.22">−10</text>
<text x="620.5" y="678.2" font-size="10" text-anchor="middle" fill="#231f20" stroke="#231f20" stroke-width="0.22">−5</text>
<text x="641.8" y="678.2" font-size="10" text-anchor="middle" fill="#231f20" stroke="#231f20" stroke-width="0.22">0</text>
<text x="664.4" y="678.2" font-size="10" text-anchor="middle" fill="#231f20" stroke="#231f20" stroke-width="0.22">5</text>
<text x="688.2" y="678.2" font-size="10" text-anchor="middle" fill="#231f20" stroke="#231f20" stroke-width="0.22">10</text>
<text x="714.9" y="678.2" font-size="10" text-anchor="middle" fill="#231f20" stroke="#231f20" stroke-width="0.22">−10</text>
<text x="736.2" y="678.2" font-size="10" text-anchor="middle" fill="#231f20" stroke="#231f20" stroke-width="0.22">−5</text>
<text x="757.5" y="678.2" font-size="10" text-anchor="middle" fill="#231f20" stroke="#231f20" stroke-width="0.22">0</text>
<text x="779.3" y="678.2" font-size="10" text-anchor="middle" fill="#231f20" stroke="#231f20" stroke-width="0.22">5</text>
<text x="803.1" y="678.2" font-size="10" text-anchor="middle" fill="#231f20" stroke="#231f20" stroke-width="0.22">10</text>
<text x="695.2" y="687.6" font-size="10" text-anchor="middle" fill="#231f20" stroke="#231f20" stroke-width="0.22">UMAP_1</text>
<text x="556.6" y="618.8" font-size="10" text-anchor="middle" fill="#231f20" stroke="#231f20" stroke-width="0.22" transform="rotate(-90 556.6 615.2)">UMAP_2</text>
<defs><linearGradient id="gH2" x1="0" y1="1" x2="0" y2="0"><stop offset="0" stop-color="#1e2062"/><stop offset="0.33" stop-color="#2a6e8e"/><stop offset="0.66" stop-color="#4db56e"/><stop offset="1" stop-color="#f5d62a"/></linearGradient></defs>
<rect x="795.7" y="622.6" width="7.0" height="39.8" fill="url(#gH2)"/>
<text x="806.0" y="628.9" font-size="10" fill="#231f20" stroke="#231f20" stroke-width="0.22">3</text>
<text x="806.0" y="640.5" font-size="10" fill="#231f20" stroke="#231f20" stroke-width="0.22">2</text>
<text x="806.0" y="652.8" font-size="10" fill="#231f20" stroke="#231f20" stroke-width="0.22">1</text>
<text x="806.0" y="664.2" font-size="10" fill="#231f20" stroke="#231f20" stroke-width="0.22">0</text>
<text x="4.4" y="726.6" font-size="20.5" font-weight="bold" fill="#231f20" stroke="#231f20" stroke-width="0.22">I</text>
<path d="M57.2,739.6 V756 A3.6,3.6 0 0 0 64.4,756 V739.6 Z" fill="#b0303a"/>
<rect x="57.2" y="731.7" width="7.2" height="7.9" fill="#e6bf35"/>
<rect x="57.2" y="728.0" width="7.2" height="3.7" fill="#f6efe6"/>
<rect x="56.5" y="718.4" width="8.4" height="9.6" rx="1" fill="#e8642e"/>
<line x1="64.5" y1="732.0" x2="74.0" y2="721.0" stroke="#888" stroke-width="0.5" stroke-dasharray="1,1"/>
<line x1="64.5" y1="738.0" x2="80.0" y2="740.5" stroke="#888" stroke-width="0.5" stroke-dasharray="1,1"/>
<circle cx="86.8" cy="727.3" r="14.40" fill="#f9e6e8" stroke="#9a9a9a" stroke-width="0.7"/>
<circle cx="82.5" cy="721.0" r="2.80" fill="#d8ccee"/>
<circle cx="89.0" cy="725.0" r="2.60" fill="#e4d8f0"/>
<circle cx="78.9" cy="724.4" r="3.00" fill="#9a8ee0"/>
<circle cx="95.5" cy="728.8" r="3.00" fill="#a888d8"/>
<circle cx="91.9" cy="720.1" r="2.80" fill="#58ad74"/>
<circle cx="84.7" cy="732.4" r="2.90" fill="#4f9cb8"/>
<line x1="87.6" y1="732.4" x2="89.0" y2="732.4" stroke="#4f9cb8" stroke-width="0.7"/>
<line x1="86.8" y1="734.5" x2="87.7" y2="735.4" stroke="#4f9cb8" stroke-width="0.7"/>
<line x1="84.7" y1="735.3" x2="84.7" y2="736.7" stroke="#4f9cb8" stroke-width="0.7"/>
<line x1="82.6" y1="734.5" x2="81.7" y2="735.4" stroke="#4f9cb8" stroke-width="0.7"/>
<line x1="81.8" y1="732.4" x2="80.4" y2="732.4" stroke="#4f9cb8" stroke-width="0.7"/>
<line x1="82.6" y1="730.3" x2="81.7" y2="729.4" stroke="#4f9cb8" stroke-width="0.7"/>
<line x1="84.7" y1="729.5" x2="84.7" y2="728.1" stroke="#4f9cb8" stroke-width="0.7"/>
<line x1="86.8" y1="730.3" x2="87.7" y2="729.4" stroke="#4f9cb8" stroke-width="0.7"/>
<text x="69.5" y="755.9" font-size="11.2" fill="#231f20" stroke="#231f20" stroke-width="0.22">PBMCs</text>
<polygon points="116.2,722.9 113.1,725.8 108.9,724.5 108.0,720.3 111.1,717.4 115.3,718.7" fill="#cc4650"/>
<path d="M116.6,720.6 Q122,719 123,726.5" fill="none" stroke="#888" stroke-width="0.8"/>
<polygon points="121.6,726.0 124.4,726.0 123.0,728.3" fill="#888"/>
<path d="M120,736 V755 Q123.6,761 127.2,755 V736 Z" fill="#eef2f6" stroke="#b8c8d8" stroke-width="0.5"/>
<path d="M120,746 V755 Q123.6,761 127.2,755 V746 Z" fill="#f3b9c0"/>
<rect x="119.3" y="729.5" width="8.7" height="6.5" fill="#3d86b6"/>
<rect x="121.5" y="727.3" width="4.3" height="2.4" fill="#3d86b6"/>
<rect x="127.5" y="730.5" width="2.8" height="1.6" fill="#3d86b6"/>
<text x="135.2" y="724.8" font-size="11.2" fill="#231f20" stroke="#231f20" stroke-width="0.22">TILs</text>
<line x1="127.5" y1="740.0" x2="137.0" y2="733.0" stroke="#888" stroke-width="0.5" stroke-dasharray="1,1"/>
<line x1="127.5" y1="753.5" x2="145.0" y2="756.0" stroke="#888" stroke-width="0.5" stroke-dasharray="1,1"/>
<circle cx="148.9" cy="743.2" r="13.70" fill="#f9e6e8" stroke="#9a9a9a" stroke-width="0.7"/>
<circle cx="143.5" cy="737.0" r="2.80" fill="#dcd0f0"/>
<circle cx="150.0" cy="740.5" r="2.60" fill="#e4d8f0"/>
<circle cx="140.0" cy="741.3" r="3.00" fill="#9a8ee0"/>
<circle cx="157.0" cy="744.5" r="3.00" fill="#a888d8"/>
<circle cx="153.5" cy="735.5" r="2.80" fill="#58ad74"/>
<circle cx="147.5" cy="748.5" r="2.90" fill="#4f9cb8"/>
<line x1="150.4" y1="748.5" x2="151.8" y2="748.5" stroke="#4f9cb8" stroke-width="0.7"/>
<line x1="149.6" y1="750.6" x2="150.5" y2="751.5" stroke="#4f9cb8" stroke-width="0.7"/>
<line x1="147.5" y1="751.4" x2="147.5" y2="752.8" stroke="#4f9cb8" stroke-width="0.7"/>
<line x1="145.4" y1="750.6" x2="144.5" y2="751.5" stroke="#4f9cb8" stroke-width="0.7"/>
<line x1="144.6" y1="748.5" x2="143.2" y2="748.5" stroke="#4f9cb8" stroke-width="0.7"/>
<line x1="145.4" y1="746.4" x2="144.5" y2="745.5" stroke="#4f9cb8" stroke-width="0.7"/>
<line x1="147.5" y1="745.6" x2="147.5" y2="744.2" stroke="#4f9cb8" stroke-width="0.7"/>
<line x1="149.6" y1="746.4" x2="150.5" y2="745.5" stroke="#4f9cb8" stroke-width="0.7"/>
<line x1="102.7" y1="762.0" x2="102.7" y2="777.0" stroke="#111" stroke-width="1.1"/>
<polygon points="97.8,775.5 107.6,775.5 102.7,786.0" fill="#111"/>
<path d="M86.3,790.9 H93.3 L92.5,812 H87.1 Z" fill="#eef2f6" stroke="#c8d0d8" stroke-width="0.4"/>
<path d="M86.6,800 H93 L92.6,812 Q89.8,815 87,812 Z" fill="#8ec4e6"/>
<line x1="89.8" y1="812.0" x2="89.8" y2="835.0" stroke="#b8b8b8" stroke-width="0.8"/>
<path d="M91.5,814.2 H77 A6.6,6.6 0 0 0 77,827.4 H91.5" fill="none" stroke="#c0363e" stroke-width="4"/>
<rect x="81.0" y="812.2" width="1.8" height="4.0" fill="#777"/>
<rect x="81.0" y="825.4" width="1.8" height="4.0" fill="#777"/>
<rect x="83.5" y="812.2" width="1.8" height="4.0" fill="#777"/>
<rect x="83.5" y="825.4" width="1.8" height="4.0" fill="#777"/>
<rect x="86.0" y="812.2" width="1.8" height="4.0" fill="#e8a050"/>
<rect x="86.0" y="825.4" width="1.8" height="4.0" fill="#e8a050"/>
<rect x="88.5" y="812.2" width="1.8" height="4.0" fill="#e8a050"/>
<rect x="88.5" y="825.4" width="1.8" height="4.0" fill="#e8a050"/>
<rect x="90.5" y="812.0" width="1.6" height="18.0" fill="#222"/>
<text x="66.6" y="804.3" font-size="11.2" fill="#231f20" stroke="#231f20" stroke-width="0.22">CD3</text>
<path d="M109.6,791.5 V830 Q114.3,837 119,830 V791.5 Z" fill="#eaf2f8" stroke="#b4cce0" stroke-width="0.7"/>
<path d="M109.9,822 V830 Q114.3,836.5 118.7,830 V822 Z" fill="#cfe3f2"/>
<ellipse cx="114.3" cy="791.5" rx="4.9" ry="1.2" fill="#dfe8ef" stroke="#b4cce0" stroke-width="0.5"/>
<text x="129.4" y="797.8" font-size="11.2" fill="#231f20" stroke="#231f20" stroke-width="0.22">T cell</text>
<line x1="119.0" y1="824.0" x2="131.0" y2="821.0" stroke="#888" stroke-width="0.5" stroke-dasharray="1,1"/>
<line x1="119.0" y1="824.0" x2="134.0" y2="826.0" stroke="#888" stroke-width="0.5" stroke-dasharray="1,1"/>
<circle cx="140.3" cy="814.0" r="13.00" fill="#f9e6e8" stroke="#9a9a9a" stroke-width="0.7"/>
<circle cx="133.8" cy="811.8" r="3.50" fill="#93d2c8"/>
<circle cx="142.4" cy="808.2" r="3.50" fill="#93d2c8"/>
<circle cx="142.4" cy="817.2" r="3.50" fill="#93d2c8"/>
<defs><filter id="bb" x="-30%" y="-60%" width="160%" height="220%"><feGaussianBlur stdDeviation="0.9"/></filter><filter id="bs" x="-10%" y="-20%" width="120%" height="140%"><feGaussianBlur stdDeviation="0.4"/></filter></defs>
<text x="205.5" y="727.8" font-size="20.5" font-weight="bold" fill="#231f20" stroke="#231f20" stroke-width="0.22">J</text>
<line x1="247.8" y1="722.0" x2="247.8" y2="841.0" stroke="#666" stroke-width="1.0"/>
<text x="238.0" y="787.2" font-size="10" text-anchor="middle" font-weight="bold" fill="#231f20" stroke="#231f20" stroke-width="0.22" transform="rotate(-90 238.0 783.7)">Thymoma T cells</text>
<text x="295.6" y="736.5" font-size="9.8" fill="#231f20" stroke="#231f20" stroke-width="0.22" transform="rotate(-45 295.6 736.5)">TH1</text>
<text x="310.8" y="736.5" font-size="9.8" fill="#231f20" stroke="#231f20" stroke-width="0.22" transform="rotate(-45 310.8 736.5)">TH2</text>
<text x="325.9" y="736.5" font-size="9.8" fill="#231f20" stroke="#231f20" stroke-width="0.22" transform="rotate(-45 325.9 736.5)">TH3</text>
<text x="341.1" y="736.5" font-size="9.8" fill="#231f20" stroke="#231f20" stroke-width="0.22" transform="rotate(-45 341.1 736.5)">TH4</text>
<text x="356.2" y="736.5" font-size="9.8" fill="#231f20" stroke="#231f20" stroke-width="0.22" transform="rotate(-45 356.2 736.5)">TH5</text>
<text x="371.4" y="736.5" font-size="9.8" fill="#231f20" stroke="#231f20" stroke-width="0.22" transform="rotate(-45 371.4 736.5)">TH6</text>
<text x="386.6" y="736.5" font-size="9.8" fill="#231f20" stroke="#231f20" stroke-width="0.22" transform="rotate(-45 386.6 736.5)">TH7</text>
<text x="401.8" y="736.5" font-size="9.8" fill="#231f20" stroke="#231f20" stroke-width="0.22" transform="rotate(-45 401.8 736.5)">MGTH1</text>
<text x="416.9" y="736.5" font-size="9.8" fill="#231f20" stroke="#231f20" stroke-width="0.22" transform="rotate(-45 416.9 736.5)">MGTH2</text>
<text x="432.1" y="736.5" font-size="9.8" fill="#231f20" stroke="#231f20" stroke-width="0.22" transform="rotate(-45 432.1 736.5)">MGTH3</text>
<text x="447.2" y="736.5" font-size="9.8" fill="#231f20" stroke="#231f20" stroke-width="0.22" transform="rotate(-45 447.2 736.5)">MGTH4</text>
<text x="462.4" y="736.5" font-size="9.8" fill="#231f20" stroke="#231f20" stroke-width="0.22" transform="rotate(-45 462.4 736.5)">MGTH5</text>
<rect x="290.5" y="739.1" width="182.0" height="13.6" fill="#f0f0f0" stroke="#c8c8c8" stroke-width="0.5" filter="url(#bs)"/>
<g filter="url(#bb)"><rect x="291.0" y="742.2" width="14.1" height="7.5" rx="3.4" fill="#e6e6e6"/><rect x="306.2" y="742.2" width="14.1" height="7.5" rx="3.4" fill="#e6e6e6"/><rect x="321.4" y="742.2" width="14.1" height="7.5" rx="3.4" fill="#dbdbdb"/><rect x="336.5" y="742.2" width="14.1" height="7.5" rx="3.4" fill="#e0e0e0"/><rect x="351.7" y="742.2" width="14.1" height="7.5" rx="3.4" fill="#e0e0e0"/><rect x="366.9" y="742.2" width="14.1" height="7.5" rx="3.4" fill="#d9d9d9"/><rect x="382.0" y="742.2" width="14.1" height="7.5" rx="3.4" fill="#e6e6e6"/><rect x="397.2" y="742.2" width="14.1" height="7.5" rx="3.4" fill="#868686"/><rect x="412.4" y="741.2" width="14.1" height="9.4" rx="4.3" fill="#0a0a0a"/><rect x="427.5" y="741.8" width="14.1" height="8.2" rx="3.7" fill="#202020"/><rect x="442.7" y="741.2" width="14.1" height="9.4" rx="4.3" fill="#0a0a0a"/><rect x="457.9" y="742.2" width="14.1" height="7.5" rx="3.4" fill="#4e4e4e"/></g>
<rect x="290.5" y="754.1" width="182.0" height="12.1" fill="#e6e6e6" stroke="#c8c8c8" stroke-width="0.5" filter="url(#bs)"/>
<g filter="url(#bb)"><rect x="291.0" y="756.9" width="14.1" height="6.5" rx="3.0" fill="#111111"/><rect x="306.2" y="756.9" width="14.1" height="6.5" rx="3.0" fill="#111111"/><rect x="321.4" y="756.9" width="14.1" height="6.5" rx="3.0" fill="#111111"/><rect x="336.5" y="756.9" width="14.1" height="6.5" rx="3.0" fill="#111111"/><rect x="351.7" y="756.9" width="14.1" height="6.5" rx="3.0" fill="#111111"/><rect x="366.9" y="756.9" width="14.1" height="6.5" rx="3.0" fill="#111111"/><rect x="382.0" y="756.9" width="14.1" height="6.5" rx="3.0" fill="#111111"/><rect x="397.2" y="756.9" width="14.1" height="6.5" rx="3.0" fill="#111111"/><rect x="412.4" y="756.9" width="14.1" height="6.5" rx="3.0" fill="#111111"/><rect x="427.5" y="756.9" width="14.1" height="6.5" rx="3.0" fill="#111111"/><rect x="442.7" y="756.4" width="14.1" height="7.5" rx="3.4" fill="#1a1a1a"/><rect x="457.9" y="756.4" width="14.1" height="7.5" rx="3.4" fill="#202020"/></g>
<text x="295.6" y="809.5" font-size="9.8" fill="#231f20" stroke="#231f20" stroke-width="0.22" transform="rotate(-45 295.6 809.5)">TH1</text>
<text x="310.8" y="809.5" font-size="9.8" fill="#231f20" stroke="#231f20" stroke-width="0.22" transform="rotate(-45 310.8 809.5)">TH2</text>
<text x="325.9" y="809.5" font-size="9.8" fill="#231f20" stroke="#231f20" stroke-width="0.22" transform="rotate(-45 325.9 809.5)">TH3</text>
<text x="341.1" y="809.5" font-size="9.8" fill="#231f20" stroke="#231f20" stroke-width="0.22" transform="rotate(-45 341.1 809.5)">TH4</text>
<text x="356.2" y="809.5" font-size="9.8" fill="#231f20" stroke="#231f20" stroke-width="0.22" transform="rotate(-45 356.2 809.5)">TH5</text>
<text x="371.4" y="809.5" font-size="9.8" fill="#231f20" stroke="#231f20" stroke-width="0.22" transform="rotate(-45 371.4 809.5)">TH6</text>
<text x="386.6" y="809.5" font-size="9.8" fill="#231f20" stroke="#231f20" stroke-width="0.22" transform="rotate(-45 386.6 809.5)">TH7</text>
<text x="401.8" y="809.5" font-size="9.8" fill="#231f20" stroke="#231f20" stroke-width="0.22" transform="rotate(-45 401.8 809.5)">MGTH1</text>
<text x="416.9" y="809.5" font-size="9.8" fill="#231f20" stroke="#231f20" stroke-width="0.22" transform="rotate(-45 416.9 809.5)">MGTH2</text>
<text x="432.1" y="809.5" font-size="9.8" fill="#231f20" stroke="#231f20" stroke-width="0.22" transform="rotate(-45 432.1 809.5)">MGTH3</text>
<text x="447.2" y="809.5" font-size="9.8" fill="#231f20" stroke="#231f20" stroke-width="0.22" transform="rotate(-45 447.2 809.5)">MGTH4</text>
<text x="462.4" y="809.5" font-size="9.8" fill="#231f20" stroke="#231f20" stroke-width="0.22" transform="rotate(-45 462.4 809.5)">MGTH5</text>
<rect x="290.5" y="812.4" width="182.0" height="13.0" fill="#e2e2e2" stroke="#c8c8c8" stroke-width="0.5" filter="url(#bs)"/>
<g filter="url(#bb)"><rect x="291.0" y="815.6" width="14.1" height="6.5" rx="3.0" fill="#0a0a0a"/><rect x="306.2" y="816.1" width="14.1" height="5.5" rx="2.5" fill="#424242"/><rect x="321.4" y="816.0" width="14.1" height="5.9" rx="2.7" fill="#2c2c2c"/><rect x="336.5" y="816.3" width="14.1" height="5.2" rx="2.4" fill="#646464"/><rect x="351.7" y="816.3" width="14.1" height="5.2" rx="2.4" fill="#9c9c9c"/><rect x="366.9" y="815.3" width="14.1" height="7.2" rx="3.2" fill="#0a0a0a"/><rect x="382.0" y="815.5" width="14.1" height="6.8" rx="3.1" fill="#0a0a0a"/><rect x="397.2" y="816.3" width="14.1" height="5.2" rx="2.4" fill="#d4d4d4"/><rect x="412.4" y="816.3" width="14.1" height="5.2" rx="2.4" fill="#e0e0e0"/><rect x="427.5" y="816.3" width="14.1" height="5.2" rx="2.4" fill="#cecece"/><rect x="442.7" y="816.3" width="14.1" height="5.2" rx="2.4" fill="#e0e0e0"/><rect x="457.9" y="816.3" width="14.1" height="5.2" rx="2.4" fill="#d4d4d4"/></g>
<rect x="290.5" y="828.3" width="182.0" height="12.2" fill="#dedede" stroke="#c8c8c8" stroke-width="0.5" filter="url(#bs)"/>
<g filter="url(#bb)"><rect x="291.0" y="830.5" width="14.1" height="7.9" rx="3.6" fill="#0a0a0a"/><rect x="306.2" y="830.5" width="14.1" height="7.9" rx="3.6" fill="#0a0a0a"/><rect x="321.4" y="830.5" width="14.1" height="7.9" rx="3.6" fill="#0a0a0a"/><rect x="336.5" y="830.5" width="14.1" height="7.9" rx="3.6" fill="#0a0a0a"/><rect x="351.7" y="830.5" width="14.1" height="7.9" rx="3.6" fill="#0a0a0a"/><rect x="366.9" y="830.5" width="14.1" height="7.9" rx="3.6" fill="#0a0a0a"/><rect x="382.0" y="830.5" width="14.1" height="7.9" rx="3.6" fill="#0a0a0a"/><rect x="397.2" y="830.5" width="14.1" height="7.9" rx="3.6" fill="#0a0a0a"/><rect x="412.4" y="830.5" width="14.1" height="7.9" rx="3.6" fill="#0a0a0a"/><rect x="427.5" y="830.5" width="14.1" height="7.9" rx="3.6" fill="#0a0a0a"/><rect x="442.7" y="830.5" width="14.1" height="7.9" rx="3.6" fill="#0a0a0a"/><rect x="457.9" y="830.5" width="14.1" height="7.9" rx="3.6" fill="#0a0a0a"/></g>
<text x="288.0" y="751.2" font-size="10" text-anchor="end" fill="#231f20" stroke="#231f20" stroke-width="0.22">JUND</text>
<text x="288.0" y="763.4" font-size="10" text-anchor="end" fill="#231f20" stroke="#231f20" stroke-width="0.22">GAPDH</text>
<text x="288.0" y="821.8" font-size="10" text-anchor="end" fill="#231f20" stroke="#231f20" stroke-width="0.22">SOCS3</text>
<text x="288.0" y="837.6" font-size="10" text-anchor="end" fill="#231f20" stroke="#231f20" stroke-width="0.22">β-Tublin</text>
<text x="474.5" y="751.2" font-size="10" fill="#231f20" stroke="#231f20" stroke-width="0.22">45kd</text>
<text x="474.5" y="763.4" font-size="10" fill="#231f20" stroke="#231f20" stroke-width="0.22">35kd</text>
<text x="474.5" y="821.8" font-size="10" fill="#231f20" stroke="#231f20" stroke-width="0.22">28kd</text>
<text x="474.5" y="837.6" font-size="10" fill="#231f20" stroke="#231f20" stroke-width="0.22">55kd</text>
<line x1="555.6" y1="721.0" x2="555.6" y2="842.0" stroke="#666" stroke-width="1.0"/>
<text x="544.3" y="782.5" font-size="10" text-anchor="middle" font-weight="bold" fill="#231f20" stroke="#231f20" stroke-width="0.22" transform="rotate(-90 544.3 779.0)">Peripheral T cells</text>
<text x="606.5" y="741.5" font-size="9.8" fill="#231f20" stroke="#231f20" stroke-width="0.22" transform="rotate(-45 606.5 741.5)">TH1</text>
<text x="621.4" y="741.5" font-size="9.8" fill="#231f20" stroke="#231f20" stroke-width="0.22" transform="rotate(-45 621.4 741.5)">TH2</text>
<text x="636.4" y="741.5" font-size="9.8" fill="#231f20" stroke="#231f20" stroke-width="0.22" transform="rotate(-45 636.4 741.5)">TH3</text>
<text x="651.4" y="741.5" font-size="9.8" fill="#231f20" stroke="#231f20" stroke-width="0.22" transform="rotate(-45 651.4 741.5)">TH4</text>
<text x="666.3" y="741.5" font-size="9.8" fill="#231f20" stroke="#231f20" stroke-width="0.22" transform="rotate(-45 666.3 741.5)">TH5</text>
<text x="681.3" y="741.5" font-size="9.8" fill="#231f20" stroke="#231f20" stroke-width="0.22" transform="rotate(-45 681.3 741.5)">TH6</text>
<text x="696.2" y="741.5" font-size="9.8" fill="#231f20" stroke="#231f20" stroke-width="0.22" transform="rotate(-45 696.2 741.5)">TH7</text>
<text x="711.2" y="741.5" font-size="9.8" fill="#231f20" stroke="#231f20" stroke-width="0.22" transform="rotate(-45 711.2 741.5)">MGTH1</text>
<text x="726.1" y="741.5" font-size="9.8" fill="#231f20" stroke="#231f20" stroke-width="0.22" transform="rotate(-45 726.1 741.5)">MGTH2</text>
<text x="741.1" y="741.5" font-size="9.8" fill="#231f20" stroke="#231f20" stroke-width="0.22" transform="rotate(-45 741.1 741.5)">MGTH3</text>
<text x="756.1" y="741.5" font-size="9.8" fill="#231f20" stroke="#231f20" stroke-width="0.22" transform="rotate(-45 756.1 741.5)">MGTH4</text>
<text x="771.0" y="741.5" font-size="9.8" fill="#231f20" stroke="#231f20" stroke-width="0.22" transform="rotate(-45 771.0 741.5)">MGTH5</text>
<rect x="601.5" y="744.5" width="179.5" height="11.9" fill="#ececec" stroke="#c8c8c8" stroke-width="0.5" filter="url(#bs)"/>
<g filter="url(#bb)"><rect x="602.0" y="747.5" width="13.9" height="6.0" rx="2.7" fill="#a8a8a8"/><rect x="617.0" y="748.1" width="13.9" height="4.8" rx="2.2" fill="#d0d0d0"/><rect x="631.9" y="747.8" width="13.9" height="5.4" rx="2.5" fill="#bebebe"/><rect x="646.9" y="747.8" width="13.9" height="5.4" rx="2.5" fill="#b3b3b3"/><rect x="661.9" y="747.8" width="13.9" height="5.4" rx="2.5" fill="#bebebe"/><rect x="676.8" y="747.8" width="13.9" height="5.4" rx="2.5" fill="#c9c9c9"/><rect x="691.8" y="747.8" width="13.9" height="5.4" rx="2.5" fill="#bababa"/><rect x="706.7" y="747.3" width="13.9" height="6.3" rx="2.9" fill="#2c2c2c"/><rect x="721.7" y="747.2" width="13.9" height="6.6" rx="3.0" fill="#151515"/><rect x="736.6" y="747.3" width="13.9" height="6.3" rx="2.9" fill="#2c2c2c"/><rect x="751.6" y="747.5" width="13.9" height="6.0" rx="2.7" fill="#424242"/><rect x="766.6" y="747.5" width="13.9" height="6.0" rx="2.7" fill="#595959"/></g>
<rect x="601.5" y="758.2" width="179.5" height="10.4" fill="#e2e2e2" stroke="#c8c8c8" stroke-width="0.5" filter="url(#bs)"/>
<g filter="url(#bb)"><rect x="602.0" y="759.6" width="13.9" height="7.7" rx="3.5" fill="#0a0a0a"/><rect x="617.0" y="759.6" width="13.9" height="7.7" rx="3.5" fill="#0a0a0a"/><rect x="631.9" y="759.6" width="13.9" height="7.7" rx="3.5" fill="#0a0a0a"/><rect x="646.9" y="759.6" width="13.9" height="7.7" rx="3.5" fill="#0a0a0a"/><rect x="661.9" y="759.6" width="13.9" height="7.7" rx="3.5" fill="#0a0a0a"/><rect x="676.8" y="760.6" width="13.9" height="5.6" rx="2.5" fill="#373737"/><rect x="691.8" y="759.6" width="13.9" height="7.7" rx="3.5" fill="#0a0a0a"/><rect x="706.7" y="759.6" width="13.9" height="7.7" rx="3.5" fill="#0a0a0a"/><rect x="721.7" y="759.6" width="13.9" height="7.7" rx="3.5" fill="#0a0a0a"/><rect x="736.6" y="759.6" width="13.9" height="7.7" rx="3.5" fill="#0a0a0a"/><rect x="751.6" y="760.4" width="13.9" height="6.0" rx="2.7" fill="#2c2c2c"/><rect x="766.6" y="759.6" width="13.9" height="7.7" rx="3.5" fill="#0a0a0a"/></g>
<text x="606.5" y="811.5" font-size="9.8" fill="#231f20" stroke="#231f20" stroke-width="0.22" transform="rotate(-45 606.5 811.5)">TH1</text>
<text x="621.4" y="811.5" font-size="9.8" fill="#231f20" stroke="#231f20" stroke-width="0.22" transform="rotate(-45 621.4 811.5)">TH2</text>
<text x="636.4" y="811.5" font-size="9.8" fill="#231f20" stroke="#231f20" stroke-width="0.22" transform="rotate(-45 636.4 811.5)">TH3</text>
<text x="651.4" y="811.5" font-size="9.8" fill="#231f20" stroke="#231f20" stroke-width="0.22" transform="rotate(-45 651.4 811.5)">TH4</text>
<text x="666.3" y="811.5" font-size="9.8" fill="#231f20" stroke="#231f20" stroke-width="0.22" transform="rotate(-45 666.3 811.5)">TH5</text>
<text x="681.3" y="811.5" font-size="9.8" fill="#231f20" stroke="#231f20" stroke-width="0.22" transform="rotate(-45 681.3 811.5)">TH6</text>
<text x="696.2" y="811.5" font-size="9.8" fill="#231f20" stroke="#231f20" stroke-width="0.22" transform="rotate(-45 696.2 811.5)">TH7</text>
<text x="711.2" y="811.5" font-size="9.8" fill="#231f20" stroke="#231f20" stroke-width="0.22" transform="rotate(-45 711.2 811.5)">MGTH1</text>
<text x="726.1" y="811.5" font-size="9.8" fill="#231f20" stroke="#231f20" stroke-width="0.22" transform="rotate(-45 726.1 811.5)">MGTH2</text>
<text x="741.1" y="811.5" font-size="9.8" fill="#231f20" stroke="#231f20" stroke-width="0.22" transform="rotate(-45 741.1 811.5)">MGTH3</text>
<text x="756.1" y="811.5" font-size="9.8" fill="#231f20" stroke="#231f20" stroke-width="0.22" transform="rotate(-45 756.1 811.5)">MGTH4</text>
<text x="771.0" y="811.5" font-size="9.8" fill="#231f20" stroke="#231f20" stroke-width="0.22" transform="rotate(-45 771.0 811.5)">MGTH5</text>
<rect x="601.5" y="814.1" width="179.5" height="13.1" fill="#dedede" stroke="#c8c8c8" stroke-width="0.5" filter="url(#bs)"/>
<g filter="url(#bb)"><rect x="602.0" y="817.7" width="13.9" height="5.9" rx="2.7" fill="#202020"/><rect x="617.0" y="817.7" width="13.9" height="5.9" rx="2.7" fill="#202020"/><rect x="631.9" y="817.7" width="13.9" height="5.9" rx="2.7" fill="#202020"/><rect x="646.9" y="817.9" width="13.9" height="5.5" rx="2.5" fill="#373737"/><rect x="661.9" y="818.1" width="13.9" height="5.2" rx="2.4" fill="#424242"/><rect x="676.8" y="817.7" width="13.9" height="5.9" rx="2.7" fill="#2c2c2c"/><rect x="691.8" y="816.1" width="13.9" height="9.1" rx="4.1" fill="#0a0a0a"/><rect x="706.7" y="818.1" width="13.9" height="5.2" rx="2.4" fill="#c9c9c9"/><rect x="721.7" y="818.1" width="13.9" height="5.2" rx="2.4" fill="#d0d0d0"/><rect x="736.6" y="818.7" width="13.9" height="3.9" rx="1.8" fill="#7a7a7a"/><rect x="751.6" y="818.1" width="13.9" height="5.2" rx="2.4" fill="#d0d0d0"/><rect x="766.6" y="818.1" width="13.9" height="5.2" rx="2.4" fill="#c9c9c9"/></g>
<rect x="601.5" y="829.1" width="179.5" height="11.2" fill="#dedede" stroke="#c8c8c8" stroke-width="0.5" filter="url(#bs)"/>
<g filter="url(#bb)"><rect x="602.0" y="831.0" width="13.9" height="7.4" rx="3.3" fill="#0a0a0a"/><rect x="617.0" y="831.0" width="13.9" height="7.4" rx="3.3" fill="#0a0a0a"/><rect x="631.9" y="831.0" width="13.9" height="7.4" rx="3.3" fill="#0a0a0a"/><rect x="646.9" y="831.0" width="13.9" height="7.4" rx="3.3" fill="#0a0a0a"/><rect x="661.9" y="831.0" width="13.9" height="7.4" rx="3.3" fill="#0a0a0a"/><rect x="676.8" y="831.0" width="13.9" height="7.4" rx="3.3" fill="#0a0a0a"/><rect x="691.8" y="831.0" width="13.9" height="7.4" rx="3.3" fill="#0a0a0a"/><rect x="706.7" y="831.0" width="13.9" height="7.4" rx="3.3" fill="#0a0a0a"/><rect x="721.7" y="831.0" width="13.9" height="7.4" rx="3.3" fill="#0a0a0a"/><rect x="736.6" y="831.0" width="13.9" height="7.4" rx="3.3" fill="#0a0a0a"/><rect x="751.6" y="831.0" width="13.9" height="7.4" rx="3.3" fill="#0a0a0a"/><rect x="766.6" y="831.0" width="13.9" height="7.4" rx="3.3" fill="#0a0a0a"/></g>
<text x="598.5" y="753.9" font-size="10" text-anchor="end" fill="#231f20" stroke="#231f20" stroke-width="0.22">JUND</text>
<text x="598.5" y="766.4" font-size="10" text-anchor="end" fill="#231f20" stroke="#231f20" stroke-width="0.22">GAPDH</text>
<text x="598.5" y="824.1" font-size="10" text-anchor="end" fill="#231f20" stroke="#231f20" stroke-width="0.22">SOCS3</text>
<text x="598.5" y="838.2" font-size="10" text-anchor="end" fill="#231f20" stroke="#231f20" stroke-width="0.22">β-Tublin</text>
<text x="782.5" y="753.9" font-size="10" fill="#231f20" stroke="#231f20" stroke-width="0.22">45kd</text>
<text x="782.5" y="766.4" font-size="10" fill="#231f20" stroke="#231f20" stroke-width="0.22">35kd</text>
<text x="782.5" y="824.1" font-size="10" fill="#231f20" stroke="#231f20" stroke-width="0.22">28kd</text>
<text x="782.5" y="838.2" font-size="10" fill="#231f20" stroke="#231f20" stroke-width="0.22">55kd</text>
<text x="0.0" y="870.5" font-size="20.5" font-weight="bold" fill="#231f20" stroke="#231f20" stroke-width="0.22">K</text>
<text x="69.1" y="877.8" font-size="10" fill="#231f20" stroke="#231f20" stroke-width="0.22">SOCS3-Isolated T cells</text>
<line x1="67.9" y1="883.2" x2="165.6" y2="883.2" stroke="#555" stroke-width="0.9"/>
<text x="94.1" y="897.1" font-size="10" text-anchor="middle" fill="#231f20" stroke="#231f20" stroke-width="0.22">Tissues</text>
<text x="144.5" y="897.1" font-size="10" text-anchor="middle" fill="#231f20" stroke="#231f20" stroke-width="0.22">PBMCs</text>
<line x1="69.6" y1="903.4" x2="69.6" y2="974.5" stroke="#777" stroke-width="0.9"/>
<line x1="67.4" y1="903.7" x2="69.6" y2="903.7" stroke="#777" stroke-width="0.9"/>
<text x="67.0" y="907.2" font-size="10" text-anchor="end" fill="#231f20" stroke="#231f20" stroke-width="0.22">15</text>
<line x1="67.4" y1="927.0" x2="69.6" y2="927.0" stroke="#777" stroke-width="0.9"/>
<text x="67.0" y="930.5" font-size="10" text-anchor="end" fill="#231f20" stroke="#231f20" stroke-width="0.22">10</text>
<line x1="67.4" y1="951.3" x2="69.6" y2="951.3" stroke="#777" stroke-width="0.9"/>
<text x="67.0" y="954.8" font-size="10" text-anchor="end" fill="#231f20" stroke="#231f20" stroke-width="0.22">5</text>
<line x1="67.4" y1="974.5" x2="69.6" y2="974.5" stroke="#777" stroke-width="0.9"/>
<text x="67.0" y="978.0" font-size="10" text-anchor="end" fill="#231f20" stroke="#231f20" stroke-width="0.22">0</text>
<line x1="69.6" y1="974.5" x2="165.6" y2="974.5" stroke="#777" stroke-width="0.9"/>
<rect x="76.6" y="944.2" width="13.0" height="30.3" fill="#4d7fc0" stroke="#333" stroke-width="0.7"/>
<rect x="96.8" y="964.4" width="13.0" height="10.1" fill="#d95459" stroke="#333" stroke-width="0.7"/>
<rect x="125.0" y="945.5" width="13.0" height="29.0" fill="#4d7fc0" stroke="#333" stroke-width="0.7"/>
<rect x="145.2" y="966.6" width="13.0" height="7.9" fill="#d95459" stroke="#333" stroke-width="0.7"/>
<line x1="83.3" y1="932.4" x2="83.3" y2="944.2" stroke="#333" stroke-width="0.8"/>
<line x1="80.1" y1="932.4" x2="86.5" y2="932.4" stroke="#333" stroke-width="0.8"/>
<line x1="103.3" y1="957.3" x2="103.3" y2="964.4" stroke="#333" stroke-width="0.8"/>
<line x1="100.1" y1="957.3" x2="106.5" y2="957.3" stroke="#333" stroke-width="0.8"/>
<line x1="131.9" y1="934.9" x2="131.9" y2="962.7" stroke="#333" stroke-width="0.8"/>
<line x1="128.7" y1="934.9" x2="135.1" y2="934.9" stroke="#333" stroke-width="0.8"/>
<line x1="151.7" y1="961.0" x2="151.7" y2="966.6" stroke="#333" stroke-width="0.8"/>
<line x1="148.5" y1="961.0" x2="154.9" y2="961.0" stroke="#333" stroke-width="0.8"/>
<circle cx="83.1" cy="919.8" r="1.80" fill="#ffffff" stroke="#333" stroke-width="0.6"/>
<circle cx="83.1" cy="937.4" r="1.80" fill="#ffffff" stroke="#333" stroke-width="0.6"/>
<circle cx="78.9" cy="947.5" r="1.80" fill="#ffffff" stroke="#333" stroke-width="0.6"/>
<circle cx="88.1" cy="947.5" r="1.80" fill="#ffffff" stroke="#333" stroke-width="0.6"/>
<circle cx="83.1" cy="951.8" r="1.80" fill="#ffffff" stroke="#333" stroke-width="0.6"/>
<circle cx="83.1" cy="956.8" r="1.80" fill="#ffffff" stroke="#333" stroke-width="0.6"/>
<circle cx="103.3" cy="953.4" r="1.80" fill="#ffffff" stroke="#333" stroke-width="0.6"/>
<circle cx="103.3" cy="961.0" r="1.80" fill="#ffffff" stroke="#333" stroke-width="0.6"/>
<circle cx="99.1" cy="969.4" r="1.80" fill="#ffffff" stroke="#333" stroke-width="0.6"/>
<circle cx="107.5" cy="969.4" r="1.80" fill="#ffffff" stroke="#333" stroke-width="0.6"/>
<circle cx="103.3" cy="966.0" r="1.80" fill="#ffffff" stroke="#333" stroke-width="0.6"/>
<circle cx="131.1" cy="924.8" r="1.80" fill="#ffffff" stroke="#333" stroke-width="0.6"/>
<circle cx="131.1" cy="932.4" r="1.80" fill="#ffffff" stroke="#333" stroke-width="0.6"/>
<circle cx="131.1" cy="942.5" r="1.80" fill="#ffffff" stroke="#333" stroke-width="0.6"/>
<circle cx="126.9" cy="951.8" r="1.80" fill="#ffffff" stroke="#333" stroke-width="0.6"/>
<circle cx="136.1" cy="956.0" r="1.80" fill="#ffffff" stroke="#333" stroke-width="0.6"/>
<circle cx="131.1" cy="961.4" r="1.80" fill="#ffffff" stroke="#333" stroke-width="0.6"/>
<circle cx="152.1" cy="957.3" r="1.80" fill="#ffffff" stroke="#333" stroke-width="0.6"/>
<circle cx="148.8" cy="968.6" r="1.80" fill="#ffffff" stroke="#333" stroke-width="0.6"/>
<circle cx="156.3" cy="968.6" r="1.80" fill="#ffffff" stroke="#333" stroke-width="0.6"/>
<circle cx="152.1" cy="966.1" r="1.80" fill="#ffffff" stroke="#333" stroke-width="0.6"/>
<path d="M82.7,915.5 V910.5 H103.8 V951.8" fill="none" stroke="#444" stroke-width="0.7"/>
<path d="M131.4,921 V917.2 H152.1 V956.8" fill="none" stroke="#444" stroke-width="0.7"/>
<text x="95.7" y="911.0" font-size="10" text-anchor="middle" font-weight="bold" fill="#231f20" stroke="#231f20" stroke-width="0.22">**</text>
<text x="144.6" y="916.1" font-size="10" text-anchor="middle" font-weight="bold" fill="#231f20" stroke="#231f20" stroke-width="0.22">**</text>
<text x="80.8" y="988.2" font-size="10" text-anchor="middle" fill="#231f20" stroke="#231f20" stroke-width="0.22">TH</text>
<text x="105.8" y="988.2" font-size="10" text-anchor="middle" fill="#231f20" stroke="#231f20" stroke-width="0.22">MGTH</text>
<text x="129.9" y="988.2" font-size="10" text-anchor="middle" fill="#231f20" stroke="#231f20" stroke-width="0.22">TH</text>
<text x="153.9" y="988.2" font-size="10" text-anchor="middle" fill="#231f20" stroke="#231f20" stroke-width="0.22">MGTH</text>
<text x="41.0" y="933.5" font-size="10" text-anchor="middle" fill="#231f20" stroke="#231f20" stroke-width="0.22" transform="rotate(-90 41.0 930.0)">Relative mRNA expression</text>
<text x="71.3" y="1020.3" font-size="10" fill="#231f20" stroke="#231f20" stroke-width="0.22">JUND-Isolated T cells</text>
<line x1="65.4" y1="1026.1" x2="165.6" y2="1026.1" stroke="#555" stroke-width="0.9"/>
<text x="94.0" y="1038.0" font-size="10" text-anchor="middle" fill="#231f20" stroke="#231f20" stroke-width="0.22">Tissues</text>
<text x="146.2" y="1038.0" font-size="10" text-anchor="middle" fill="#231f20" stroke="#231f20" stroke-width="0.22">PBMCs</text>
<line x1="66.7" y1="1046.0" x2="66.7" y2="1117.5" stroke="#777" stroke-width="0.9"/>
<line x1="64.5" y1="1046.3" x2="66.7" y2="1046.3" stroke="#777" stroke-width="0.9"/>
<text x="64.1" y="1049.8" font-size="10" text-anchor="end" fill="#231f20" stroke="#231f20" stroke-width="0.22">15</text>
<line x1="64.5" y1="1070.7" x2="66.7" y2="1070.7" stroke="#777" stroke-width="0.9"/>
<text x="64.1" y="1074.2" font-size="10" text-anchor="end" fill="#231f20" stroke="#231f20" stroke-width="0.22">10</text>
<line x1="64.5" y1="1094.3" x2="66.7" y2="1094.3" stroke="#777" stroke-width="0.9"/>
<text x="64.1" y="1097.8" font-size="10" text-anchor="end" fill="#231f20" stroke="#231f20" stroke-width="0.22">5</text>
<line x1="64.5" y1="1117.5" x2="66.7" y2="1117.5" stroke="#777" stroke-width="0.9"/>
<text x="64.1" y="1121.0" font-size="10" text-anchor="end" fill="#231f20" stroke="#231f20" stroke-width="0.22">0</text>
<line x1="66.7" y1="1117.5" x2="165.6" y2="1117.5" stroke="#777" stroke-width="0.9"/>
<rect x="74.4" y="1108.1" width="13.8" height="9.4" fill="#4d7fc0" stroke="#333" stroke-width="0.7"/>
<rect x="95.4" y="1088.4" width="13.0" height="29.1" fill="#d95459" stroke="#333" stroke-width="0.7"/>
<rect x="125.7" y="1110.3" width="13.0" height="7.2" fill="#4d7fc0" stroke="#333" stroke-width="0.7"/>
<rect x="145.9" y="1087.0" width="13.0" height="30.5" fill="#d95459" stroke="#333" stroke-width="0.7"/>
<line x1="81.1" y1="1100.2" x2="81.1" y2="1108.1" stroke="#333" stroke-width="0.8"/>
<line x1="77.9" y1="1100.2" x2="84.3" y2="1100.2" stroke="#333" stroke-width="0.8"/>
<line x1="101.9" y1="1070.7" x2="101.9" y2="1109.4" stroke="#333" stroke-width="0.8"/>
<line x1="98.7" y1="1070.7" x2="105.1" y2="1070.7" stroke="#333" stroke-width="0.8"/>
<line x1="131.3" y1="1106.0" x2="131.3" y2="1110.3" stroke="#333" stroke-width="0.8"/>
<line x1="128.1" y1="1106.0" x2="134.5" y2="1106.0" stroke="#333" stroke-width="0.8"/>
<line x1="152.1" y1="1075.8" x2="152.1" y2="1100.2" stroke="#333" stroke-width="0.8"/>
<line x1="148.9" y1="1075.8" x2="155.3" y2="1075.8" stroke="#333" stroke-width="0.8"/>
<circle cx="76.8" cy="1096.8" r="1.80" fill="#ffffff" stroke="#333" stroke-width="0.6"/>
<circle cx="80.5" cy="1098.5" r="1.80" fill="#ffffff" stroke="#333" stroke-width="0.6"/>
<circle cx="81.4" cy="1106.1" r="1.80" fill="#ffffff" stroke="#333" stroke-width="0.6"/>
<circle cx="77.5" cy="1111.5" r="1.80" fill="#ffffff" stroke="#333" stroke-width="0.6"/>
<circle cx="83.9" cy="1111.5" r="1.80" fill="#ffffff" stroke="#333" stroke-width="0.6"/>
<circle cx="80.5" cy="1115.8" r="1.80" fill="#ffffff" stroke="#333" stroke-width="0.6"/>
<circle cx="85.6" cy="1116.2" r="1.80" fill="#ffffff" stroke="#333" stroke-width="0.6"/>
<circle cx="102.1" cy="1059.2" r="1.80" fill="#ffffff" stroke="#333" stroke-width="0.6"/>
<circle cx="97.4" cy="1090.6" r="1.80" fill="#ffffff" stroke="#333" stroke-width="0.6"/>
<circle cx="106.7" cy="1090.1" r="1.80" fill="#ffffff" stroke="#333" stroke-width="0.6"/>
<circle cx="106.7" cy="1095.1" r="1.80" fill="#ffffff" stroke="#333" stroke-width="0.6"/>
<circle cx="102.1" cy="1107.4" r="1.80" fill="#ffffff" stroke="#333" stroke-width="0.6"/>
<circle cx="131.1" cy="1100.2" r="1.80" fill="#ffffff" stroke="#333" stroke-width="0.6"/>
<circle cx="127.4" cy="1106.1" r="1.80" fill="#ffffff" stroke="#333" stroke-width="0.6"/>
<circle cx="136.1" cy="1108.6" r="1.80" fill="#ffffff" stroke="#333" stroke-width="0.6"/>
<circle cx="131.1" cy="1112.0" r="1.80" fill="#ffffff" stroke="#333" stroke-width="0.6"/>
<circle cx="126.9" cy="1115.3" r="1.80" fill="#ffffff" stroke="#333" stroke-width="0.6"/>
<circle cx="136.1" cy="1115.3" r="1.80" fill="#ffffff" stroke="#333" stroke-width="0.6"/>
<circle cx="152.1" cy="1068.7" r="1.80" fill="#ffffff" stroke="#333" stroke-width="0.6"/>
<circle cx="152.1" cy="1075.8" r="1.80" fill="#ffffff" stroke="#333" stroke-width="0.6"/>
<circle cx="152.1" cy="1089.2" r="1.80" fill="#ffffff" stroke="#333" stroke-width="0.6"/>
<circle cx="147.9" cy="1100.7" r="1.80" fill="#ffffff" stroke="#333" stroke-width="0.6"/>
<circle cx="156.7" cy="1097.7" r="1.80" fill="#ffffff" stroke="#333" stroke-width="0.6"/>
<path d="M81.4,1094 V1050.5 H102.1 V1053.9" fill="none" stroke="#444" stroke-width="0.7"/>
<path d="M131.6,1098 V1059.8 H152.1 V1063.1" fill="none" stroke="#444" stroke-width="0.7"/>
<text x="93.7" y="1050.5" font-size="10" text-anchor="middle" font-weight="bold" fill="#231f20" stroke="#231f20" stroke-width="0.22">*</text>
<text x="144.6" y="1059.8" font-size="10" text-anchor="middle" font-weight="bold" fill="#231f20" stroke="#231f20" stroke-width="0.22">**</text>
<text x="79.4" y="1131.5" font-size="10" text-anchor="middle" fill="#231f20" stroke="#231f20" stroke-width="0.22">TH</text>
<text x="104.4" y="1131.5" font-size="10" text-anchor="middle" fill="#231f20" stroke="#231f20" stroke-width="0.22">MGTH</text>
<text x="130.0" y="1131.5" font-size="10" text-anchor="middle" fill="#231f20" stroke="#231f20" stroke-width="0.22">TH</text>
<text x="154.2" y="1131.5" font-size="10" text-anchor="middle" fill="#231f20" stroke="#231f20" stroke-width="0.22">MGTH</text>
<text x="41.0" y="1079.3" font-size="10" text-anchor="middle" fill="#231f20" stroke="#231f20" stroke-width="0.22" transform="rotate(-90 41.0 1075.8)">Relative mRNA expression</text>
<text x="197.4" y="874.7" font-size="20.5" font-weight="bold" fill="#231f20" stroke="#231f20" stroke-width="0.22">L</text>
<line x1="221.2" y1="869.6" x2="221.2" y2="999.6" stroke="#666" stroke-width="1.0"/>
<line x1="221.2" y1="1010.8" x2="221.2" y2="1139.6" stroke="#666" stroke-width="1.0"/>
<text x="210.8" y="940.2" font-size="10" text-anchor="middle" font-weight="bold" fill="#231f20" stroke="#231f20" stroke-width="0.22" transform="rotate(-90 210.8 936.7)">MGTH</text>
<text x="210.8" y="1080.5" font-size="10" text-anchor="middle" font-weight="bold" fill="#231f20" stroke="#231f20" stroke-width="0.22" transform="rotate(-90 210.8 1077.0)">TH</text>
<rect x="227.7" y="869.1" width="55.3" height="31.3" fill="#17178c"/>
<rect x="227.7" y="869.1" width="55.3" height="31.3" fill="#000" filter="url(#nDark)" opacity="0.45"/>
<path d="M235.8 895.0h0M269.5 877.5h0M255.1 883.3h0M263.5 893.3h0M233.6 870.8h0M273.3 882.8h0M269.4 870.1h0M252.4 891.3h0M240.8 897.9h0M276.8 870.9h0M230.0 886.0h0M278.8 881.2h0M240.2 882.5h0M230.2 876.5h0M252.0 884.6h0M241.1 876.8h0M240.3 883.6h0M244.1 870.6h0M273.4 886.4h0M263.0 875.5h0M281.7 895.4h0M235.1 879.8h0M267.2 891.0h0M278.7 882.5h0M273.0 889.8h0M244.8 887.3h0M275.8 895.0h0M255.6 887.4h0M230.4 877.2h0M271.3 882.2h0M237.9 886.2h0M266.2 889.9h0M248.6 882.9h0M255.8 893.0h0M256.5 881.6h0M254.8 870.9h0M230.9 890.7h0M281.2 887.5h0M249.7 875.0h0M255.5 899.0h0M269.8 885.9h0M274.6 876.8h0M256.1 898.1h0M259.5 883.5h0M243.0 886.2h0M279.8 870.2h0M270.5 894.2h0M276.0 891.8h0M271.9 885.3h0M258.6 882.6h0M231.6 895.7h0M259.1 875.9h0M255.6 884.3h0M247.7 880.2h0M257.4 888.4h0M261.4 883.5h0M230.1 876.8h0M238.1 887.2h0M274.7 893.6h0M271.2 894.1h0" stroke="#2a3ad0" stroke-width="1.8" stroke-linecap="round" fill="none" stroke-opacity="0.7" filter="url(#sb0_4)"/>
<rect x="283.0" y="869.1" width="56.1" height="31.3" fill="#140404"/>
<rect x="283.0" y="869.1" width="56.1" height="31.3" fill="#000" filter="url(#nDark)" opacity="0.2"/>
<path d="M335.9 898.1h0M286.9 872.4h0M329.3 891.8h0M320.3 879.1h0M316.8 887.9h0M315.5 874.6h0M307.3 881.6h0M323.2 899.4h0M335.5 886.1h0M308.0 877.9h0M285.8 870.7h0M309.1 879.4h0M304.5 896.4h0M312.5 886.5h0M296.7 870.6h0M301.5 874.0h0M311.6 899.6h0M320.6 875.3h0M332.5 893.6h0M323.8 896.8h0M325.4 893.4h0M303.1 899.0h0M336.2 874.7h0M324.9 891.1h0M308.9 885.7h0" stroke="#5a0a0a" stroke-width="1.6" stroke-linecap="round" fill="none" stroke-opacity="0.6" filter="url(#sb0_4)"/>
<rect x="339.1" y="869.1" width="55.9" height="31.3" fill="#2a9a2c"/>
<rect x="339.1" y="869.1" width="55.9" height="31.3" fill="#000" filter="url(#nLight)" opacity="0.08"/>
<rect x="339.1" y="869.1" width="55.9" height="31.3" fill="#000" filter="url(#nDark)" opacity="0.55"/>
<rect x="227.7" y="902.8" width="167.3" height="96.3" fill="#2b8a44"/>
<rect x="227.7" y="902.8" width="167.3" height="96.3" fill="#000" filter="url(#nGreen)" opacity="0.55"/>
<rect x="227.7" y="902.8" width="167.3" height="96.3" fill="#000" filter="url(#nLight)" opacity="0.05"/>
<rect x="227.7" y="902.8" width="167.3" height="96.3" fill="#000" filter="url(#nDark)" opacity="0.7"/>
<path d="M268.1 955.1h0M289.9 960.7h0M332.1 910.1h0M231.0 982.7h0M271.6 926.0h0M393.1 948.2h0M366.9 948.7h0M334.3 918.1h0M333.6 985.5h0M315.2 973.6h0M339.6 910.0h0M354.0 959.5h0M278.6 906.9h0M371.7 948.4h0M347.5 986.6h0M346.7 990.5h0M294.0 979.2h0M302.2 991.9h0M373.9 913.1h0M251.3 924.3h0M388.2 944.9h0M332.2 932.2h0M312.5 940.2h0M286.8 958.9h0M325.3 988.9h0M341.4 991.3h0M370.2 997.1h0M339.6 919.3h0M370.9 994.6h0M378.1 957.4h0M346.6 923.8h0M366.1 957.9h0M275.9 909.9h0M369.8 997.0h0M243.5 979.2h0M296.6 918.1h0M277.3 976.2h0M372.9 908.1h0M330.2 908.2h0M347.4 935.1h0M374.2 996.1h0M312.2 997.8h0M279.9 911.2h0M327.8 906.9h0M261.4 942.3h0M329.6 918.6h0M235.9 985.5h0M280.6 994.1h0M376.8 939.5h0M304.8 952.8h0M335.1 959.9h0M321.1 962.2h0M384.1 951.6h0M300.0 971.7h0M268.1 932.3h0M390.2 952.9h0M319.3 905.0h0M297.4 958.5h0M232.2 961.8h0M333.2 909.6h0M332.4 947.8h0M340.9 937.1h0M345.5 973.3h0M232.5 909.6h0M340.4 994.5h0M270.3 946.8h0M326.6 934.0h0M288.9 933.3h0M289.8 959.9h0M278.4 939.4h0M356.3 906.5h0M322.8 973.1h0M280.0 924.9h0M361.5 926.4h0M259.8 944.9h0M344.0 913.5h0M282.0 935.3h0M366.4 945.2h0M370.0 919.9h0M284.4 965.1h0M374.9 946.4h0M266.0 915.3h0M316.2 921.9h0M362.0 982.8h0M259.1 930.1h0M362.0 964.3h0M361.9 936.4h0M250.2 931.4h0M359.8 929.4h0M286.0 943.1h0M298.1 942.4h0M380.8 918.6h0M229.6 992.6h0M374.0 996.7h0M300.5 993.3h0M381.9 924.8h0M351.9 982.6h0M338.2 952.7h0M276.5 936.0h0M266.4 910.3h0M326.0 930.9h0M362.5 908.2h0M377.9 969.2h0M381.3 988.2h0M377.3 958.2h0M231.0 974.0h0M257.2 932.1h0M338.2 953.3h0M297.1 992.2h0M329.9 936.0h0M270.5 984.9h0M307.6 977.5h0M286.9 922.5h0M317.1 980.7h0M257.1 978.4h0M380.9 979.7h0M364.7 904.7h0M332.6 985.0h0M237.1 929.5h0M273.2 953.5h0M298.6 948.4h0M357.0 904.1h0M237.9 915.9h0M249.4 910.4h0M389.7 984.3h0M243.1 951.1h0M281.0 933.5h0M286.8 964.8h0M325.6 937.9h0M260.4 934.9h0M249.3 956.2h0M347.0 939.7h0M242.0 920.7h0M290.4 960.8h0M358.0 939.7h0M361.0 962.5h0M300.1 939.0h0M310.7 970.0h0M298.2 969.2h0M304.9 927.0h0M317.3 969.3h0M240.7 943.9h0M299.1 986.6h0M383.4 939.1h0M377.0 978.3h0M272.1 947.6h0M249.2 980.4h0M338.1 987.4h0M359.6 966.7h0M349.9 957.0h0M245.9 959.2h0M229.7 917.4h0M356.6 908.1h0M244.0 913.3h0M374.1 920.8h0M232.7 983.1h0M248.9 983.3h0M340.0 982.6h0M386.0 958.4h0M360.6 907.4h0M355.5 952.0h0M346.9 914.0h0M352.4 991.8h0M238.9 934.4h0M321.9 981.8h0M268.8 920.8h0M270.1 961.9h0M353.2 941.0h0M289.5 941.2h0M286.6 943.3h0M242.6 951.0h0M389.4 942.8h0M352.2 919.0h0M342.8 975.0h0M340.0 952.6h0M308.7 964.4h0M376.9 918.0h0M244.7 974.3h0M380.1 952.6h0M302.0 971.5h0M259.6 929.1h0M261.7 959.0h0M280.8 925.8h0M342.9 993.6h0M277.7 970.3h0M297.0 984.2h0M325.3 929.1h0M264.8 906.1h0M308.0 939.9h0M257.3 937.8h0M282.0 976.7h0M252.5 997.1h0M308.0 960.3h0M306.1 982.4h0M364.4 956.3h0M308.3 971.7h0M370.2 941.6h0M349.9 994.2h0M306.0 925.5h0M267.6 971.4h0M340.3 994.1h0M369.7 926.7h0M260.1 928.3h0M259.7 970.2h0M370.5 988.5h0M270.9 985.3h0M280.6 943.7h0M349.1 912.0h0M244.1 982.3h0M277.0 937.5h0M324.6 967.4h0M230.0 935.4h0M300.8 949.6h0M263.5 958.9h0M386.5 940.7h0M318.7 915.2h0M274.2 966.5h0M247.4 987.3h0M378.8 913.1h0M384.2 939.1h0M356.3 975.1h0M277.6 967.5h0M336.8 979.7h0M272.7 974.8h0M387.5 967.2h0M317.3 914.6h0M310.3 937.1h0M347.3 967.7h0M322.3 921.1h0M335.4 963.3h0M258.4 987.6h0M337.0 915.5h0M382.6 917.2h0M283.6 971.7h0M327.4 956.1h0M335.7 947.0h0M280.4 920.5h0M240.2 971.2h0M353.3 955.0h0M350.9 937.7h0M272.7 940.0h0M372.8 907.9h0M312.1 927.2h0M355.7 937.2h0M283.8 941.9h0M318.2 976.5h0M287.1 983.6h0M247.4 929.4h0M245.3 914.5h0M357.4 972.3h0M259.3 921.7h0M297.6 973.8h0M363.4 974.3h0M326.5 917.7h0M294.6 922.2h0M315.9 957.4h0M262.2 927.5h0M357.8 906.8h0M361.4 987.7h0M385.5 940.0h0M320.0 958.8h0M333.4 995.8h0M342.1 932.1h0M370.8 949.5h0M328.1 972.3h0M229.2 976.4h0M338.1 950.2h0M315.3 947.2h0M260.8 953.7h0M235.0 951.0h0M335.4 945.7h0M322.2 994.1h0M376.0 916.7h0M359.6 962.5h0M237.2 937.8h0M267.4 911.3h0M317.8 991.4h0M282.2 985.8h0M343.5 916.6h0M370.5 960.5h0M381.8 971.2h0M350.9 936.2h0M362.0 991.5h0M371.0 945.0h0M353.7 949.5h0M246.9 908.0h0M241.7 922.8h0M255.4 950.7h0M344.2 954.5h0M298.5 965.0h0M279.1 947.6h0M353.8 941.7h0M258.6 988.5h0M347.6 938.4h0M290.1 953.7h0M327.3 925.0h0M229.3 923.6h0M358.1 917.4h0M304.7 922.3h0M263.4 920.0h0M295.5 919.8h0M233.4 914.3h0M256.6 950.0h0M238.7 906.1h0M302.8 942.3h0M344.9 908.8h0M295.4 941.2h0M233.2 994.7h0M265.0 912.8h0M307.2 919.4h0M331.6 936.5h0M249.3 908.8h0M348.9 929.8h0M358.8 947.7h0M382.8 932.2h0M270.1 928.9h0M363.3 963.1h0M285.7 912.8h0M341.4 995.1h0M326.6 904.3h0M233.8 912.5h0M257.0 907.4h0M237.8 965.5h0M377.4 922.8h0M389.5 948.8h0M361.4 990.2h0M384.0 907.2h0M279.1 961.0h0M385.0 912.2h0M277.3 983.8h0M247.8 940.6h0M284.0 967.9h0M382.1 920.4h0M350.9 972.9h0M366.7 956.0h0M381.2 938.1h0M297.3 925.5h0M357.5 949.1h0M273.3 919.9h0M347.8 960.9h0M346.1 940.3h0M309.2 918.4h0M346.1 906.1h0M305.9 975.2h0M340.6 913.1h0M268.0 983.3h0M334.8 986.5h0M372.8 946.2h0M376.8 972.8h0M283.9 938.7h0M240.7 941.5h0M386.5 913.8h0M322.7 914.3h0M242.2 965.0h0M268.6 908.5h0M254.0 964.5h0M325.5 905.0h0M266.8 994.9h0M265.2 956.8h0M298.1 977.4h0M328.6 978.1h0M317.2 921.6h0M258.2 911.4h0M365.1 914.5h0M232.8 994.8h0M261.7 987.9h0M243.0 947.7h0M265.6 981.9h0M330.4 964.3h0M354.5 985.9h0M285.9 960.6h0M302.4 914.4h0M366.7 959.8h0M363.3 923.3h0M317.8 947.6h0M349.0 911.2h0M286.0 949.5h0M240.7 955.9h0M350.2 943.7h0M335.8 960.9h0M264.2 936.9h0M393.1 935.5h0M299.9 911.9h0M264.8 919.5h0M382.5 972.2h0M373.2 996.7h0M329.9 991.5h0M317.2 943.3h0M385.3 988.8h0M385.5 949.5h0M356.5 942.2h0M393.4 990.5h0M277.0 991.8h0M259.3 913.0h0M348.0 931.6h0M314.6 964.0h0M235.5 974.0h0M274.4 944.6h0M285.7 973.7h0M352.1 931.0h0M245.9 932.1h0M296.7 911.2h0M254.1 975.6h0M344.4 995.7h0M390.5 986.3h0M290.3 919.1h0M280.3 947.5h0M315.6 954.9h0M288.2 984.1h0M275.9 947.5h0M375.2 979.8h0M277.9 926.8h0M362.0 904.9h0M250.5 953.9h0M317.3 919.5h0M237.1 923.1h0M355.9 947.7h0M390.4 977.8h0M390.4 907.3h0M259.4 905.2h0" stroke="#2a58d8" stroke-width="2.3" stroke-linecap="round" fill="none" stroke-opacity="0.85" filter="url(#sb0_5)"/>
<path d="M267.8 913.7h0M294.2 918.6h0M239.9 941.7h0M380.3 979.2h0M355.1 924.8h0M317.4 930.0h0M257.4 914.0h0M264.3 991.1h0M365.6 979.7h0M360.9 922.2h0M280.0 962.9h0M349.6 984.3h0M374.0 912.1h0M328.8 967.1h0M312.3 920.7h0M307.0 912.4h0M383.0 985.3h0M319.2 932.2h0M378.8 957.7h0M374.4 983.6h0M312.7 942.9h0M327.7 944.5h0M255.5 932.6h0M362.9 908.1h0M236.5 962.8h0M275.1 954.2h0M306.6 936.2h0M393.4 922.4h0M297.0 923.0h0M333.2 929.9h0M287.6 974.1h0M281.8 956.4h0M378.0 913.5h0M239.1 925.5h0M355.1 961.8h0M268.1 935.1h0M258.2 947.1h0M236.0 969.5h0M376.6 993.6h0M350.1 994.1h0M231.9 931.1h0M388.2 976.8h0M296.6 992.6h0M331.2 980.8h0M277.3 922.0h0M302.1 916.8h0M291.8 994.3h0M283.5 904.9h0M236.3 919.9h0M358.1 938.1h0M276.8 913.1h0M390.8 943.8h0M263.2 909.6h0M238.0 919.8h0M340.5 918.1h0M235.6 950.1h0M270.0 997.7h0M249.1 953.7h0M356.5 942.4h0M391.8 948.9h0M268.8 942.6h0M235.0 943.6h0M269.9 987.5h0M365.9 950.8h0M234.1 927.9h0M268.9 923.5h0M267.1 985.7h0M252.3 908.8h0M381.9 957.1h0M392.2 941.8h0M377.5 965.4h0M359.3 973.9h0M310.4 912.7h0M263.7 986.1h0M377.3 990.8h0M284.4 965.7h0M360.7 964.3h0M363.3 953.6h0M336.9 968.4h0M273.1 990.7h0M386.6 911.0h0M389.0 994.3h0M339.1 908.2h0M377.1 916.0h0M388.6 966.6h0M238.9 919.7h0M333.6 957.4h0M352.0 991.1h0M264.9 904.3h0M381.0 905.2h0M373.4 914.9h0M362.4 977.5h0M373.7 955.7h0M373.8 922.9h0M339.6 935.0h0M375.9 976.6h0M306.7 953.4h0M233.3 907.2h0M326.9 949.9h0M371.5 961.1h0M251.8 938.0h0M355.5 953.1h0M230.6 982.7h0M365.4 912.0h0M318.5 939.8h0M358.7 933.2h0M267.4 949.7h0M388.2 912.9h0M247.8 962.3h0M374.9 952.1h0M300.5 984.6h0M357.0 910.3h0M374.2 922.4h0M278.8 982.5h0M298.6 979.0h0M256.5 986.1h0M258.0 918.0h0M310.4 935.8h0M318.3 988.9h0M346.1 904.5h0M280.3 955.2h0M309.1 971.2h0M308.8 911.1h0M269.4 983.6h0M287.7 976.0h0M391.5 962.8h0M340.5 961.2h0M280.6 989.7h0M305.9 989.6h0M279.3 985.5h0M358.7 961.6h0M301.8 917.2h0M356.0 938.0h0M338.1 916.5h0M242.5 917.5h0M362.3 920.7h0M377.6 938.9h0M323.9 936.9h0M331.3 912.8h0M295.3 991.9h0M258.5 965.4h0M282.8 932.2h0M232.7 905.9h0M385.5 981.9h0M361.0 979.8h0M386.1 918.9h0M325.2 950.5h0M323.5 992.1h0M354.3 994.9h0M248.2 965.2h0M340.3 974.0h0M330.8 982.1h0M278.8 991.1h0M295.9 960.2h0M376.8 970.1h0M280.0 925.6h0M282.8 962.9h0M393.2 988.4h0M294.9 941.6h0M363.7 930.6h0" stroke="#40c0b0" stroke-width="2.4" stroke-linecap="round" fill="none" stroke-opacity="0.5" filter="url(#sb0_5)"/>
<rect x="227.7" y="902.8" width="167.3" height="96.3" fill="#000" filter="url(#nDark2)" opacity="0.6"/>
<path d="M229,999 C236,985 244,975 252,968 C262,958 272,948 278,935 C283,925 285,912 288,903 L292,903 C290,915 287,928 282,940 C276,952 266,962 258,972 C252,980 248,990 246,999 Z" fill="#05150f" fill-opacity="0.75"/>
<path d="M228,968 C236,972 246,980 252,990 L250,999 L228,999 Z" fill="#05150f" fill-opacity="0.6"/>
<path d="M228,930 C238,933 246,938 254,946 L250,952 C242,946 235,942 228,940 Z" fill="#05150f" fill-opacity="0.35"/>
<rect x="353.5" y="959.9" width="41.5" height="39.2" fill="#050505"/>
<circle cx="374.5" cy="979.1" r="19.50" fill="#2e7a5c"/>
<circle cx="374.5" cy="979.1" r="19.5" fill="#000" filter="url(#nDark)" opacity="0.5"/>
<path d="M353.5,999.1 V959.9 H395.0" fill="none" stroke="#e0e0e0" stroke-width="0.7" stroke-dasharray="1.5,1"/>
<rect x="227.7" y="1010.8" width="56.1" height="30.6" fill="#2020bc"/>
<rect x="227.7" y="1010.8" width="56.1" height="30.6" fill="#000" filter="url(#nLight)" opacity="0.06"/>
<rect x="227.7" y="1010.8" width="56.1" height="30.6" fill="#000" filter="url(#nDark)" opacity="0.5"/>
<rect x="283.8" y="1010.8" width="55.3" height="30.6" fill="#4a0c0e"/>
<rect x="283.8" y="1010.8" width="55.3" height="30.6" fill="#000" filter="url(#nDark)" opacity="0.35"/>
<defs><filter id="sb0_35" x="-5%" y="-5%" width="110%" height="110%"><feGaussianBlur stdDeviation="0.35"/></filter></defs>
<path d="M318.0 1033.1h0M327.3 1038.9h0M324.3 1038.3h0M286.2 1025.1h0M335.3 1030.4h0M333.0 1014.9h0M309.8 1018.8h0M313.8 1028.2h0M285.3 1017.9h0M299.6 1038.2h0M325.7 1016.2h0M327.4 1015.6h0M317.8 1015.3h0M284.7 1036.9h0M295.8 1017.8h0M337.4 1036.9h0M300.1 1039.5h0M313.6 1031.3h0M295.6 1038.9h0M321.7 1039.6h0M332.6 1020.3h0M304.0 1016.4h0M292.4 1013.5h0M300.8 1029.1h0M284.8 1031.3h0M302.7 1020.6h0M328.6 1025.5h0M301.6 1025.6h0M322.4 1013.3h0M337.0 1012.3h0M324.9 1036.1h0M285.6 1034.4h0M304.3 1028.4h0M285.1 1013.0h0M294.3 1039.3h0M295.2 1033.5h0M334.5 1038.9h0M303.1 1021.9h0M312.8 1034.1h0M290.4 1033.3h0M327.4 1036.5h0M286.6 1039.0h0M289.5 1021.5h0M317.4 1038.2h0M302.9 1038.4h0M313.9 1020.7h0M301.6 1016.7h0M288.8 1015.9h0M321.6 1040.5h0M293.3 1013.0h0M337.6 1027.1h0M306.4 1018.5h0M316.5 1035.6h0M309.1 1023.8h0M287.6 1038.2h0M286.4 1025.9h0M329.6 1015.4h0M323.9 1039.1h0M318.5 1034.5h0M290.3 1024.2h0M292.6 1036.1h0M300.4 1024.7h0M338.3 1036.3h0M337.0 1024.8h0M310.8 1032.8h0M310.3 1020.0h0M306.3 1015.8h0M304.8 1040.3h0M336.1 1029.8h0M311.4 1021.4h0M289.4 1019.5h0M326.6 1036.8h0M304.0 1034.4h0M326.2 1031.7h0M320.3 1033.6h0M304.1 1032.0h0M299.7 1025.7h0M325.9 1031.6h0M300.4 1039.0h0M319.5 1028.4h0M285.2 1027.5h0M298.1 1031.1h0M309.5 1035.3h0M319.4 1034.7h0M303.3 1030.3h0M324.2 1035.6h0M303.4 1036.0h0M331.3 1031.6h0M337.0 1039.3h0M312.4 1027.0h0M293.5 1035.9h0M334.9 1025.4h0M321.7 1032.5h0M323.8 1016.6h0M326.5 1028.4h0M320.3 1023.8h0M318.1 1034.1h0M318.8 1032.5h0M286.1 1016.2h0M308.3 1030.5h0M296.4 1031.5h0M318.5 1012.8h0M309.9 1018.2h0M287.5 1015.5h0M301.6 1016.9h0M295.0 1012.6h0M309.6 1022.6h0M317.5 1028.7h0M297.4 1037.8h0M284.6 1023.4h0M299.6 1023.5h0M290.8 1035.7h0M304.7 1012.6h0M317.5 1014.3h0M313.9 1021.4h0M315.8 1039.4h0M328.6 1023.8h0M328.3 1030.2h0M304.4 1015.7h0M316.6 1028.0h0M336.0 1039.7h0M317.3 1021.8h0M332.6 1011.6h0M290.4 1028.0h0M317.6 1015.7h0M318.4 1037.4h0M304.8 1024.1h0M296.8 1020.1h0M336.8 1022.6h0M336.2 1038.1h0" stroke="#d02020" stroke-width="1.6" stroke-linecap="round" fill="none" stroke-opacity="0.75" filter="url(#sb0_35)"/>
<rect x="339.1" y="1010.8" width="55.9" height="30.6" fill="#060806"/>
<rect x="339.1" y="1010.8" width="55.9" height="30.6" fill="#000" filter="url(#nDark)" opacity="0.2"/>
<path d="M383.0 1035.4h0M366.2 1019.2h0M339.9 1030.8h0M365.4 1033.6h0M360.2 1033.9h0M354.7 1034.9h0M379.5 1023.6h0M369.1 1031.4h0M350.4 1027.7h0M383.6 1019.3h0M383.5 1031.5h0M385.7 1021.3h0M345.0 1034.8h0M383.6 1024.5h0M345.0 1017.3h0M374.4 1020.0h0M391.6 1028.7h0M350.8 1030.6h0M359.5 1038.6h0M389.3 1026.5h0" stroke="#0a3a0a" stroke-width="1.6" stroke-linecap="round" fill="none" stroke-opacity="0.6" filter="url(#sb0_4)"/>
<rect x="227.7" y="1043.8" width="167.3" height="95.8" fill="#2416c8"/>
<rect x="227.7" y="1043.8" width="167.3" height="95.8" fill="#000" filter="url(#nLight)" opacity="0.03"/>
<rect x="227.7" y="1043.8" width="167.3" height="95.8" fill="#000" filter="url(#nDark)" opacity="0.8"/>
<defs><filter id="sb0_6" x="-5%" y="-5%" width="110%" height="110%"><feGaussianBlur stdDeviation="0.6"/></filter></defs>
<path d="M266.5 1134.5h0M250.0 1110.7h0M243.3 1068.3h0M393.3 1064.8h0M334.6 1087.9h0M303.7 1091.2h0M260.8 1122.3h0M244.0 1067.1h0M232.6 1070.1h0M296.2 1128.9h0M291.5 1055.9h0M271.7 1137.2h0M239.7 1102.8h0M291.2 1106.6h0M284.8 1109.4h0M311.0 1105.6h0M377.2 1099.3h0M252.6 1051.4h0M384.5 1090.7h0M261.1 1133.0h0M324.3 1112.9h0M373.9 1071.9h0M287.8 1126.7h0M251.4 1116.2h0M245.3 1109.3h0M344.5 1133.4h0M367.7 1092.0h0M261.7 1059.3h0M316.1 1092.6h0M241.0 1129.0h0M312.6 1110.3h0M265.4 1068.0h0M231.3 1077.2h0M273.1 1084.6h0M291.2 1122.7h0M375.6 1061.6h0M294.3 1060.8h0M338.1 1135.7h0M262.4 1116.4h0M278.5 1046.6h0M354.7 1077.1h0M257.2 1085.7h0M267.3 1083.4h0M302.5 1084.1h0M325.9 1072.1h0M244.9 1053.3h0M246.8 1093.6h0M288.4 1120.2h0M312.2 1111.0h0M390.1 1051.2h0M232.1 1058.4h0M292.7 1098.5h0M351.3 1077.9h0M387.7 1045.7h0M366.4 1064.9h0M372.9 1048.5h0M387.7 1115.7h0M391.8 1099.1h0M258.5 1135.2h0M301.8 1053.1h0M328.6 1091.4h0M307.0 1059.7h0M249.3 1099.2h0M303.6 1057.1h0M301.4 1112.6h0M346.7 1089.0h0M293.9 1078.8h0M266.3 1063.7h0M302.5 1055.4h0M348.3 1111.0h0M329.7 1047.5h0M289.0 1085.4h0M244.6 1135.0h0M353.3 1091.9h0M345.0 1064.0h0M267.0 1094.1h0M351.4 1105.3h0M230.4 1102.2h0M378.4 1114.2h0M381.5 1136.3h0M266.0 1072.8h0M319.1 1135.9h0M289.9 1132.6h0M368.9 1093.2h0M331.9 1134.0h0M357.8 1072.8h0M368.1 1063.5h0M290.0 1134.2h0M368.3 1074.3h0M277.0 1102.2h0M367.6 1108.8h0M382.9 1112.8h0M364.0 1101.4h0M288.7 1085.0h0M309.7 1094.4h0M366.8 1070.3h0M240.6 1113.3h0M273.8 1084.3h0M248.5 1122.2h0M274.3 1072.4h0M361.3 1092.1h0M274.8 1127.7h0M296.9 1078.9h0M387.7 1118.6h0M351.9 1068.5h0M362.8 1100.6h0M365.5 1079.5h0M357.4 1118.9h0M293.0 1106.0h0M357.3 1137.4h0M380.3 1118.2h0M251.7 1101.9h0M341.7 1053.5h0M305.2 1125.8h0M377.9 1131.1h0M244.5 1101.6h0M371.2 1105.8h0M281.8 1049.0h0M380.2 1124.9h0M336.6 1079.3h0" stroke="#7a2aa0" stroke-width="3.2" stroke-linecap="round" fill="none" stroke-opacity="0.45" filter="url(#sb0_6)"/>
<rect x="227.7" y="1043.8" width="167.3" height="95.8" fill="#000" filter="url(#nDark2)" opacity="0.8"/>
<defs><filter id="sb0_9" x="-5%" y="-5%" width="110%" height="110%"><feGaussianBlur stdDeviation="0.9"/></filter></defs>
<path d="M282.3 1059.1h0M336.2 1051.8h0M317.3 1079.2h0M238.5 1092.4h0M235.1 1085.5h0M240.5 1053.5h0M298.9 1122.2h0M249.4 1065.9h0M332.4 1133.5h0M324.1 1082.1h0M389.8 1049.4h0M370.4 1072.1h0M252.7 1056.0h0M279.8 1121.2h0M258.7 1099.3h0M334.2 1079.8h0M319.2 1050.9h0M238.8 1064.3h0M341.1 1084.9h0M280.7 1099.7h0M303.6 1073.0h0M359.9 1110.3h0M269.2 1098.6h0M315.5 1126.7h0M349.2 1071.9h0M390.5 1056.1h0M297.9 1115.7h0M254.0 1090.7h0M235.4 1107.4h0M355.0 1098.5h0M373.2 1074.3h0M343.5 1100.5h0M324.5 1087.6h0M367.4 1133.2h0M307.1 1107.0h0M238.9 1110.5h0M335.6 1137.7h0M364.4 1071.6h0M292.5 1107.4h0M232.7 1088.1h0M256.6 1056.0h0M238.7 1116.7h0M250.3 1068.2h0M293.4 1126.4h0M242.2 1087.0h0M319.5 1127.5h0M364.0 1125.7h0M274.8 1083.8h0M288.1 1127.5h0M386.8 1059.1h0M258.0 1066.7h0M267.4 1090.3h0M326.0 1069.6h0M229.6 1084.1h0M289.8 1097.9h0M386.0 1109.5h0M313.9 1102.7h0M340.4 1050.1h0M377.2 1117.8h0M373.1 1119.5h0M293.6 1082.3h0M246.0 1104.2h0M239.2 1051.3h0M263.4 1060.2h0M285.0 1050.0h0M229.0 1059.2h0M245.7 1079.0h0M233.2 1126.6h0M330.1 1058.9h0M270.5 1077.5h0M289.0 1056.5h0M368.9 1137.7h0M305.7 1090.2h0M243.1 1054.6h0M285.4 1069.8h0M365.5 1060.1h0M232.8 1133.8h0M316.0 1058.7h0M318.5 1047.6h0M316.0 1136.3h0M371.2 1110.0h0M272.0 1079.3h0M256.5 1117.1h0M316.7 1117.7h0M283.3 1065.9h0M362.7 1136.9h0M369.5 1120.3h0M363.8 1114.1h0M266.3 1093.3h0M287.5 1047.8h0M233.6 1071.1h0M271.7 1109.7h0M386.6 1086.8h0M383.4 1137.2h0M386.3 1079.1h0M265.3 1066.2h0M261.4 1064.1h0M331.8 1129.0h0M367.5 1089.8h0M336.6 1119.7h0M242.9 1106.7h0M378.9 1118.0h0M352.6 1089.7h0M258.4 1118.7h0M283.7 1119.8h0M389.1 1082.0h0M295.1 1133.4h0M348.4 1060.9h0M249.9 1059.2h0M378.1 1120.3h0M253.0 1122.2h0M390.5 1106.4h0M286.7 1096.2h0M250.5 1046.4h0M389.0 1105.7h0M315.7 1132.2h0M300.4 1126.4h0M365.1 1064.7h0M270.5 1072.4h0M268.6 1099.8h0M271.7 1084.1h0M250.6 1130.0h0M287.3 1087.8h0M325.1 1129.4h0M298.3 1130.7h0M311.6 1094.7h0M315.2 1046.8h0M301.5 1062.1h0M229.6 1119.6h0M257.4 1089.2h0M348.5 1097.0h0M282.7 1093.4h0M320.5 1118.2h0M246.4 1097.3h0M269.9 1070.9h0M356.2 1092.4h0M321.5 1116.0h0M379.3 1086.4h0M329.9 1092.2h0M313.4 1109.7h0M303.5 1094.8h0M307.7 1132.9h0M344.2 1126.8h0M384.2 1069.3h0M321.2 1133.1h0M367.4 1057.8h0M249.0 1086.3h0M240.9 1067.5h0M241.0 1107.5h0M358.1 1128.7h0M254.4 1111.9h0M337.8 1058.4h0M374.4 1135.3h0M265.1 1133.9h0M294.6 1090.5h0M392.1 1122.7h0M255.6 1085.3h0M313.9 1076.7h0M261.2 1074.8h0M348.0 1046.9h0M320.3 1086.1h0M231.9 1076.0h0M331.8 1092.8h0M239.5 1137.0h0M358.9 1135.7h0M246.2 1069.8h0M235.5 1117.7h0M273.5 1057.1h0M298.5 1130.1h0M363.9 1069.2h0M253.6 1130.8h0M323.0 1110.4h0M243.7 1050.4h0M342.4 1084.7h0M240.9 1132.6h0M333.5 1119.8h0M242.8 1124.9h0M239.9 1125.5h0M303.7 1076.7h0M320.1 1131.5h0M273.1 1057.1h0M315.8 1067.3h0M247.0 1060.1h0M237.3 1063.9h0M280.4 1073.5h0M354.1 1072.1h0M311.4 1061.6h0M286.1 1046.7h0M270.2 1046.5h0M349.8 1096.5h0M260.2 1089.3h0M383.0 1055.0h0M363.9 1085.4h0M310.5 1122.9h0M293.7 1092.3h0M342.3 1136.7h0M285.4 1122.7h0M345.4 1104.4h0M295.6 1077.5h0M237.9 1057.2h0M240.6 1114.2h0M271.1 1060.3h0M242.9 1123.5h0M372.4 1107.6h0M275.4 1067.6h0M277.2 1087.9h0M254.9 1086.6h0M272.3 1134.8h0M389.2 1096.1h0M269.2 1135.1h0M280.0 1078.3h0M229.1 1080.7h0M307.2 1092.0h0M262.1 1092.1h0M229.8 1069.7h0M243.7 1082.3h0M235.8 1047.1h0M279.1 1066.8h0M325.5 1094.4h0M352.6 1106.4h0M346.9 1127.1h0M293.1 1075.5h0M391.2 1059.0h0M348.3 1105.1h0M236.2 1123.0h0M375.9 1103.6h0M349.9 1120.8h0M251.9 1093.9h0M312.1 1122.9h0M361.6 1122.2h0M325.2 1128.4h0M341.5 1109.7h0M266.8 1048.0h0M250.9 1078.7h0M246.2 1123.0h0M321.0 1103.6h0M332.2 1108.6h0M309.6 1045.4h0M360.4 1114.9h0M311.8 1095.0h0M337.6 1051.2h0M350.4 1068.6h0M241.2 1069.8h0M349.1 1064.2h0M350.9 1136.1h0M310.4 1080.7h0M307.9 1108.8h0M355.3 1102.6h0M334.9 1052.3h0M253.2 1068.7h0M351.4 1073.5h0M322.5 1046.2h0M238.9 1070.1h0M339.7 1109.6h0M340.3 1072.2h0M314.1 1088.4h0M305.8 1056.1h0M376.2 1063.6h0M390.1 1132.4h0M231.8 1087.9h0M364.1 1135.4h0M303.0 1070.1h0M263.5 1133.3h0M263.7 1099.3h0M252.3 1093.9h0M386.0 1057.4h0M364.1 1092.5h0M375.1 1110.7h0M267.1 1128.8h0M309.1 1047.4h0M229.5 1090.9h0M303.2 1073.2h0M252.1 1077.1h0M281.0 1123.4h0M229.2 1115.1h0M367.2 1056.2h0M381.6 1111.6h0M377.5 1072.1h0M290.3 1081.7h0M393.6 1100.0h0M288.4 1085.0h0M274.3 1049.6h0M245.7 1122.9h0M276.0 1132.3h0M270.0 1069.8h0M313.2 1062.8h0M290.5 1134.3h0M374.7 1120.8h0M332.9 1130.3h0M384.0 1096.3h0M347.5 1049.7h0M349.6 1087.1h0M353.0 1105.2h0M276.1 1049.6h0M381.7 1056.9h0M306.8 1077.1h0M278.0 1114.0h0M389.8 1069.3h0M337.1 1073.1h0M320.8 1081.8h0M256.5 1060.1h0M263.2 1129.6h0M310.9 1065.6h0M378.3 1138.0h0M303.1 1058.1h0M260.7 1053.5h0M285.3 1053.5h0M268.4 1069.2h0M322.8 1127.8h0M352.5 1083.6h0M297.2 1094.0h0M291.1 1076.6h0M239.2 1070.9h0M388.4 1056.8h0M311.9 1103.8h0M371.1 1065.2h0M273.6 1068.2h0M294.8 1086.6h0M386.2 1124.2h0M372.8 1047.1h0M234.3 1111.2h0M376.6 1089.2h0M325.7 1045.1h0M293.5 1131.5h0M365.0 1124.9h0M389.2 1068.2h0M246.9 1059.5h0M315.0 1108.7h0M384.1 1112.4h0M335.6 1116.4h0M304.3 1096.5h0M235.5 1118.0h0M267.3 1130.9h0M335.3 1073.4h0M250.0 1068.5h0M333.8 1110.2h0M247.4 1051.6h0M315.4 1099.4h0M292.9 1065.9h0M328.0 1046.0h0M278.6 1088.0h0M387.0 1105.2h0M374.6 1089.4h0M267.6 1068.1h0M387.3 1110.8h0M279.6 1047.1h0M311.1 1108.0h0M298.2 1069.1h0M338.9 1131.4h0M266.3 1048.2h0M284.7 1084.3h0M341.4 1063.5h0M360.3 1114.0h0M312.2 1064.2h0M388.8 1074.1h0M364.1 1066.6h0M265.4 1116.0h0M277.6 1133.9h0M310.7 1062.5h0M265.8 1084.0h0M338.6 1133.6h0M253.1 1081.8h0M264.0 1135.9h0M252.3 1049.9h0M238.9 1081.7h0M377.0 1127.5h0M349.7 1138.1h0M382.5 1075.8h0M259.5 1132.4h0M351.9 1048.0h0M338.4 1080.4h0M290.6 1076.0h0M256.8 1045.3h0M275.1 1077.8h0M386.4 1056.6h0M387.9 1064.4h0M287.7 1121.7h0M364.4 1085.4h0M237.1 1089.2h0M290.4 1130.8h0M260.8 1079.0h0M376.8 1047.9h0M296.7 1120.8h0M355.3 1048.8h0M234.7 1050.9h0M380.6 1069.0h0M352.1 1128.9h0M284.8 1070.5h0M386.8 1102.6h0M272.2 1111.9h0M281.1 1070.8h0M229.6 1115.6h0M380.0 1104.2h0M384.4 1047.3h0M267.5 1089.4h0M386.6 1134.0h0M292.6 1068.5h0M299.8 1091.1h0M381.9 1062.1h0M361.2 1114.0h0M364.5 1117.2h0M329.0 1075.6h0M281.6 1078.8h0M357.9 1052.4h0M261.5 1115.3h0M269.7 1051.1h0M234.5 1096.6h0M282.6 1136.5h0M374.5 1137.2h0M272.6 1052.9h0M244.8 1091.6h0M345.9 1086.8h0M267.5 1083.9h0M331.2 1107.9h0M352.2 1124.1h0M338.4 1056.4h0M367.5 1072.5h0M322.4 1079.8h0M350.6 1063.6h0M269.7 1067.9h0M254.2 1127.5h0M324.3 1075.5h0M294.2 1137.6h0M312.6 1066.6h0M362.2 1106.0h0M392.3 1054.6h0M307.2 1121.5h0M367.5 1130.4h0M235.6 1072.5h0M248.6 1062.7h0M389.3 1099.5h0M382.2 1079.8h0M371.7 1087.0h0M271.8 1117.6h0M384.8 1054.9h0M327.2 1102.9h0M264.8 1079.5h0M252.2 1064.1h0M271.0 1101.0h0M336.3 1064.0h0M230.8 1075.6h0M340.7 1062.3h0M280.4 1064.0h0M360.0 1096.2h0M239.4 1054.5h0M294.1 1096.4h0M334.3 1053.6h0M255.9 1109.9h0M296.5 1071.5h0M279.6 1134.0h0M280.4 1097.9h0M287.8 1083.9h0M371.4 1138.0h0M288.9 1063.4h0M348.9 1064.1h0M229.9 1129.2h0M298.8 1121.6h0M295.9 1127.4h0M304.9 1060.2h0M231.4 1096.5h0M334.5 1129.9h0M243.6 1103.1h0M290.1 1092.1h0M253.0 1071.5h0M314.8 1131.4h0M246.9 1090.8h0M361.6 1135.3h0M261.5 1056.9h0M384.4 1136.1h0M308.5 1050.0h0M381.6 1081.2h0M378.0 1102.9h0M364.8 1060.0h0M358.5 1065.8h0M295.6 1124.0h0M365.6 1062.1h0M264.9 1082.3h0M314.3 1080.8h0M249.2 1068.1h0M348.4 1128.8h0M235.7 1097.5h0M353.8 1048.6h0M367.1 1056.0h0M327.8 1096.4h0M332.3 1073.6h0M298.2 1099.4h0M299.1 1106.5h0M302.6 1085.9h0M232.8 1102.8h0M309.6 1067.0h0M354.8 1117.8h0M304.5 1061.8h0M306.9 1055.0h0M250.1 1085.2h0M244.1 1086.3h0M313.0 1048.9h0M333.8 1052.7h0M349.8 1117.6h0M313.2 1050.1h0M312.0 1080.3h0M385.7 1057.8h0M370.2 1138.0h0M349.6 1121.1h0M260.9 1136.6h0M310.0 1134.3h0M379.9 1060.5h0M358.9 1131.9h0M239.7 1077.8h0M353.6 1059.9h0M376.7 1070.7h0M363.4 1058.4h0M311.7 1130.9h0M263.3 1069.6h0M312.3 1074.8h0M235.0 1062.0h0M255.5 1132.4h0M341.0 1128.6h0M256.8 1118.3h0M247.9 1094.6h0M333.8 1078.6h0M372.8 1096.8h0M324.5 1127.4h0M246.2 1137.7h0M332.7 1081.8h0M360.4 1069.8h0M392.2 1098.9h0M288.3 1116.4h0M301.8 1061.5h0M351.5 1049.6h0M364.1 1068.7h0M334.3 1136.9h0M325.5 1107.0h0M280.5 1045.2h0M234.5 1059.0h0M330.5 1085.4h0M313.4 1128.6h0M250.7 1066.3h0M336.6 1047.1h0M229.4 1078.2h0M246.5 1078.4h0M265.9 1099.5h0M326.0 1064.1h0M331.8 1089.4h0M251.2 1132.4h0M269.1 1059.0h0M244.7 1104.6h0M372.5 1118.0h0M295.2 1069.7h0M230.8 1105.2h0M321.6 1077.7h0M335.3 1086.5h0M383.4 1113.5h0M269.9 1129.3h0M236.2 1094.6h0M295.9 1067.2h0M238.6 1117.7h0M231.0 1096.5h0M384.0 1058.3h0M261.8 1101.8h0M312.5 1104.9h0M363.0 1061.3h0M279.9 1073.1h0M236.9 1128.0h0M358.0 1111.8h0M230.0 1123.8h0M351.8 1088.5h0M351.2 1087.3h0M266.2 1054.9h0M267.2 1048.7h0M284.2 1115.0h0M343.5 1123.9h0M346.2 1069.9h0M320.2 1085.7h0M358.9 1093.9h0M272.7 1104.9h0M388.0 1065.3h0M374.0 1046.5h0M271.9 1067.1h0M351.5 1133.2h0M351.9 1075.5h0M374.0 1075.7h0M268.4 1129.7h0M332.9 1109.7h0M338.6 1136.4h0M306.3 1123.4h0M343.9 1125.1h0M301.0 1112.7h0M322.9 1073.8h0M263.9 1103.1h0M241.8 1130.0h0M252.8 1047.6h0M246.5 1131.7h0M285.8 1058.3h0M233.7 1048.9h0M343.1 1104.2h0M343.8 1113.8h0M239.8 1100.1h0M288.8 1121.3h0M364.0 1128.2h0M239.8 1126.0h0" stroke="#d81c22" stroke-width="2.5" stroke-linecap="round" fill="none" stroke-opacity="0.78" filter="url(#sb0_9)"/>
<rect x="357.6" y="1101.1" width="37.4" height="38.5" fill="#050505"/>
<circle cx="375.7" cy="1120.0" r="17.50" fill="#33246a"/>
<circle cx="375.7" cy="1120.0" r="17.5" fill="#000" filter="url(#nDark)" opacity="0.5"/>
<path d="M357.6,1139.6 V1101.1 H395.0" fill="none" stroke="#e0e0e0" stroke-width="0.7" stroke-dasharray="1.5,1"/>
<text x="231.3" y="879.1" font-size="10" font-weight="bold" fill="#3070e8" stroke="#3070e8" stroke-width="0.22">DAPI</text>
<text x="287.5" y="879.1" font-size="10" font-weight="bold" fill="#d42424" stroke="#d42424" stroke-width="0.22">SOCS3</text>
<text x="343.5" y="879.1" font-size="10" font-weight="bold" fill="#3ed048" stroke="#3ed048" stroke-width="0.22">JUND</text>
<text x="231.3" y="1020.3" font-size="10" font-weight="bold" fill="#3070e8" stroke="#3070e8" stroke-width="0.22">DAPI</text>
<text x="287.5" y="1020.3" font-size="10" font-weight="bold" fill="#d42424" stroke="#d42424" stroke-width="0.22">SOCS3</text>
<text x="343.5" y="1020.3" font-size="10" font-weight="bold" fill="#3ed048" stroke="#3ed048" stroke-width="0.22">JUND</text>
<text x="229" y="898.5" font-size="2.6" fill="#ddd">50um</text>
<text x="284.5" y="898.5" font-size="2.6" fill="#ddd">50um</text>
<text x="340.5" y="898.5" font-size="2.6" fill="#ddd">50um</text>
<text x="229" y="997" font-size="2.6" fill="#ddd">50um</text>
<text x="355" y="997" font-size="2.6" fill="#ddd">50um</text>
<text x="229" y="1039.5" font-size="2.6" fill="#ddd">50um</text>
<text x="285" y="1039.5" font-size="2.6" fill="#ddd">50um</text>
<text x="340.5" y="1039.5" font-size="2.6" fill="#ddd">50um</text>
<text x="229" y="1137.5" font-size="2.6" fill="#ddd">50um</text>
<text x="359" y="1137.5" font-size="2.6" fill="#ddd">50um</text>
<text x="411.5" y="874.3" font-size="20.5" font-weight="bold" fill="#231f20" stroke="#231f20" stroke-width="0.22">M</text>
<line x1="462.3" y1="874.4" x2="462.3" y2="953.9" stroke="#777" stroke-width="0.9"/>
<line x1="459.8" y1="874.4" x2="462.3" y2="874.4" stroke="#777" stroke-width="0.9"/>
<text x="458.2" y="877.9" font-size="10" text-anchor="end" fill="#231f20" stroke="#231f20" stroke-width="0.22">15</text>
<line x1="459.8" y1="901.2" x2="462.3" y2="901.2" stroke="#777" stroke-width="0.9"/>
<text x="458.2" y="904.8" font-size="10" text-anchor="end" fill="#231f20" stroke="#231f20" stroke-width="0.22">10</text>
<line x1="459.8" y1="927.3" x2="462.3" y2="927.3" stroke="#777" stroke-width="0.9"/>
<text x="458.2" y="930.8" font-size="10" text-anchor="end" fill="#231f20" stroke="#231f20" stroke-width="0.22">5</text>
<line x1="459.8" y1="953.5" x2="462.3" y2="953.5" stroke="#777" stroke-width="0.9"/>
<text x="458.2" y="957.0" font-size="10" text-anchor="end" fill="#231f20" stroke="#231f20" stroke-width="0.22">0</text>
<line x1="462.3" y1="953.9" x2="546.3" y2="953.9" stroke="#777" stroke-width="0.9"/>
<line x1="474.2" y1="890.7" x2="474.2" y2="901.5" stroke="#444" stroke-width="0.8"/>
<line x1="474.2" y1="932.7" x2="474.2" y2="943.4" stroke="#444" stroke-width="0.8"/>
<line x1="472.0" y1="890.7" x2="476.5" y2="890.7" stroke="#444" stroke-width="0.8"/>
<line x1="472.0" y1="943.4" x2="476.5" y2="943.4" stroke="#444" stroke-width="0.8"/>
<rect x="468.1" y="901.5" width="12.3" height="31.2" fill="#e05a60" stroke="#3a3a3a" stroke-width="0.8"/>
<line x1="468.1" y1="910.2" x2="480.4" y2="910.2" stroke="#333" stroke-width="0.9"/>
<line x1="492.1" y1="922.3" x2="492.1" y2="933.1" stroke="#444" stroke-width="0.8"/>
<line x1="492.1" y1="943.4" x2="492.1" y2="948.4" stroke="#444" stroke-width="0.8"/>
<line x1="489.9" y1="922.3" x2="494.4" y2="922.3" stroke="#444" stroke-width="0.8"/>
<line x1="489.9" y1="948.4" x2="494.4" y2="948.4" stroke="#444" stroke-width="0.8"/>
<rect x="486.2" y="933.1" width="11.9" height="10.3" fill="#4a86c8" stroke="#3a3a3a" stroke-width="0.8"/>
<line x1="486.2" y1="938.0" x2="498.1" y2="938.0" stroke="#333" stroke-width="0.9"/>
<line x1="510.1" y1="895.7" x2="510.1" y2="911.8" stroke="#444" stroke-width="0.8"/>
<line x1="510.1" y1="938.0" x2="510.1" y2="943.4" stroke="#444" stroke-width="0.8"/>
<line x1="507.9" y1="895.7" x2="512.4" y2="895.7" stroke="#444" stroke-width="0.8"/>
<line x1="507.9" y1="943.4" x2="512.4" y2="943.4" stroke="#444" stroke-width="0.8"/>
<rect x="504.2" y="911.8" width="11.9" height="26.2" fill="#e05a60" stroke="#3a3a3a" stroke-width="0.8"/>
<line x1="504.2" y1="925.0" x2="516.1" y2="925.0" stroke="#333" stroke-width="0.9"/>
<line x1="528.6" y1="906.6" x2="528.6" y2="922.3" stroke="#444" stroke-width="0.8"/>
<line x1="528.6" y1="938.0" x2="528.6" y2="943.4" stroke="#444" stroke-width="0.8"/>
<line x1="526.3" y1="906.6" x2="530.8" y2="906.6" stroke="#444" stroke-width="0.8"/>
<line x1="526.3" y1="943.4" x2="530.8" y2="943.4" stroke="#444" stroke-width="0.8"/>
<rect x="522.3" y="922.3" width="12.6" height="15.7" fill="#4a86c8" stroke="#3a3a3a" stroke-width="0.8"/>
<line x1="522.3" y1="932.2" x2="534.9" y2="932.2" stroke="#333" stroke-width="0.9"/>
<line x1="474.1" y1="886.2" x2="510.2" y2="886.2" stroke="#555" stroke-width="0.9"/>
<text x="494.8" y="887.5" font-size="10" text-anchor="middle" font-weight="bold" fill="#231f20" stroke="#231f20" stroke-width="0.22">**</text>
<line x1="493.9" y1="877.5" x2="529.1" y2="877.5" stroke="#555" stroke-width="0.9"/>
<text x="511.1" y="878.5" font-size="10" text-anchor="middle" font-weight="bold" fill="#231f20" stroke="#231f20" stroke-width="0.22">****</text>
<line x1="474.1" y1="953.9" x2="474.1" y2="956.5" stroke="#777" stroke-width="0.9"/>
<text x="477.0" y="960.5" font-size="10" text-anchor="end" fill="#231f20" stroke="#231f20" stroke-width="0.22" transform="rotate(-45 477.0 960.5)">JUND</text>
<line x1="492.1" y1="953.9" x2="492.1" y2="956.5" stroke="#777" stroke-width="0.9"/>
<text x="496.5" y="960.5" font-size="10" text-anchor="end" fill="#231f20" stroke="#231f20" stroke-width="0.22" transform="rotate(-45 496.5 960.5)">SOCS3</text>
<line x1="510.2" y1="953.9" x2="510.2" y2="956.5" stroke="#777" stroke-width="0.9"/>
<text x="517.0" y="960.5" font-size="10" text-anchor="end" fill="#231f20" stroke="#231f20" stroke-width="0.22" transform="rotate(-45 517.0 960.5)">JUND</text>
<line x1="528.2" y1="953.9" x2="528.2" y2="956.5" stroke="#777" stroke-width="0.9"/>
<text x="536.5" y="960.5" font-size="10" text-anchor="end" fill="#231f20" stroke="#231f20" stroke-width="0.22" transform="rotate(-45 536.5 960.5)">SOCS3</text>
<line x1="456.0" y1="986.7" x2="493.0" y2="986.7" stroke="#555" stroke-width="0.9"/>
<line x1="497.0" y1="986.7" x2="533.6" y2="986.7" stroke="#555" stroke-width="0.9"/>
<text x="475.9" y="997.8" font-size="10" text-anchor="middle" fill="#231f20" stroke="#231f20" stroke-width="0.22">MGTH</text>
<text x="515.6" y="997.8" font-size="10" text-anchor="middle" fill="#231f20" stroke="#231f20" stroke-width="0.22">TH</text>
<text x="439.8" y="917.8" font-size="10" text-anchor="middle" fill="#231f20" stroke="#231f20" stroke-width="0.22" transform="rotate(-90 439.8 914.2)">Stainging Score</text>
<text x="553.4" y="874.8" font-size="20.5" font-weight="bold" fill="#231f20" stroke="#231f20" stroke-width="0.22">O</text>
<line x1="596.9" y1="874.4" x2="596.9" y2="969.7" stroke="#777" stroke-width="0.9"/>
<line x1="594.4" y1="874.4" x2="596.9" y2="874.4" stroke="#777" stroke-width="0.9"/>
<text x="593.0" y="877.9" font-size="10" text-anchor="end" fill="#231f20" stroke="#231f20" stroke-width="0.22">8</text>
<line x1="594.4" y1="898.4" x2="596.9" y2="898.4" stroke="#777" stroke-width="0.9"/>
<text x="593.0" y="901.9" font-size="10" text-anchor="end" fill="#231f20" stroke="#231f20" stroke-width="0.22">6</text>
<line x1="594.4" y1="922.3" x2="596.9" y2="922.3" stroke="#777" stroke-width="0.9"/>
<text x="593.0" y="925.8" font-size="10" text-anchor="end" fill="#231f20" stroke="#231f20" stroke-width="0.22">4</text>
<line x1="594.4" y1="946.1" x2="596.9" y2="946.1" stroke="#777" stroke-width="0.9"/>
<text x="593.0" y="949.6" font-size="10" text-anchor="end" fill="#231f20" stroke="#231f20" stroke-width="0.22">2</text>
<line x1="594.4" y1="969.7" x2="596.9" y2="969.7" stroke="#777" stroke-width="0.9"/>
<text x="593.0" y="973.2" font-size="10" text-anchor="end" fill="#231f20" stroke="#231f20" stroke-width="0.22">0</text>
<line x1="596.9" y1="969.7" x2="692.6" y2="969.7" stroke="#777" stroke-width="0.9"/>
<line x1="611.6" y1="922.3" x2="611.6" y2="934.4" stroke="#444" stroke-width="0.8"/>
<line x1="611.6" y1="958.0" x2="611.6" y2="958.0" stroke="#444" stroke-width="0.8"/>
<line x1="609.4" y1="922.3" x2="613.9" y2="922.3" stroke="#444" stroke-width="0.8"/>
<line x1="609.4" y1="958.0" x2="613.9" y2="958.0" stroke="#444" stroke-width="0.8"/>
<rect x="604.2" y="934.4" width="14.8" height="23.6" fill="#e05a60" stroke="#3a3a3a" stroke-width="0.8"/>
<line x1="604.2" y1="945.7" x2="619.0" y2="945.7" stroke="#333" stroke-width="0.9"/>
<line x1="633.4" y1="898.4" x2="633.4" y2="922.3" stroke="#444" stroke-width="0.8"/>
<line x1="633.4" y1="946.1" x2="633.4" y2="958.4" stroke="#444" stroke-width="0.8"/>
<line x1="631.2" y1="898.4" x2="635.7" y2="898.4" stroke="#444" stroke-width="0.8"/>
<line x1="631.2" y1="958.4" x2="635.7" y2="958.4" stroke="#444" stroke-width="0.8"/>
<rect x="626.2" y="922.3" width="14.4" height="23.8" fill="#4a86c8" stroke="#3a3a3a" stroke-width="0.8"/>
<line x1="626.2" y1="934.0" x2="640.6" y2="934.0" stroke="#333" stroke-width="0.9"/>
<line x1="655.6" y1="898.4" x2="655.6" y2="910.5" stroke="#444" stroke-width="0.8"/>
<line x1="655.6" y1="946.1" x2="655.6" y2="958.4" stroke="#444" stroke-width="0.8"/>
<line x1="653.3" y1="898.4" x2="657.8" y2="898.4" stroke="#444" stroke-width="0.8"/>
<line x1="653.3" y1="958.4" x2="657.8" y2="958.4" stroke="#444" stroke-width="0.8"/>
<rect x="648.4" y="910.5" width="14.4" height="35.6" fill="#9a60a8" stroke="#3a3a3a" stroke-width="0.8"/>
<line x1="648.4" y1="934.0" x2="662.8" y2="934.0" stroke="#333" stroke-width="0.9"/>
<line x1="677.8" y1="929.5" x2="677.8" y2="933.1" stroke="#444" stroke-width="0.8"/>
<line x1="677.8" y1="943.4" x2="677.8" y2="943.4" stroke="#444" stroke-width="0.8"/>
<line x1="675.5" y1="929.5" x2="680.0" y2="929.5" stroke="#444" stroke-width="0.8"/>
<line x1="675.5" y1="943.4" x2="680.0" y2="943.4" stroke="#444" stroke-width="0.8"/>
<rect x="670.6" y="933.1" width="14.4" height="10.3" fill="#62b9b2" stroke="#3a3a3a" stroke-width="0.8"/>
<line x1="670.6" y1="942.1" x2="685.0" y2="942.1" stroke="#333" stroke-width="0.9"/>
<line x1="612.3" y1="873.0" x2="677.8" y2="873.0" stroke="#aaa" stroke-width="0.9"/>
<line x1="612.3" y1="883.5" x2="677.8" y2="883.5" stroke="#aaa" stroke-width="0.9"/>
<line x1="612.3" y1="895.7" x2="677.8" y2="895.7" stroke="#aaa" stroke-width="0.9"/>
<text x="647.5" y="871.1" font-size="10" text-anchor="middle" fill="#231f20" stroke="#231f20" stroke-width="0.22">ns</text>
<text x="632.1" y="883.5" font-size="10" text-anchor="middle" font-weight="bold" fill="#231f20" stroke="#231f20" stroke-width="0.22">*</text>
<text x="667.3" y="881.5" font-size="10" text-anchor="middle" fill="#231f20" stroke="#231f20" stroke-width="0.22">ns</text>
<text x="622.2" y="895.3" font-size="10" text-anchor="middle" font-weight="bold" fill="#231f20" stroke="#231f20" stroke-width="0.22">*</text>
<text x="656.5" y="893.3" font-size="10" text-anchor="middle" fill="#231f20" stroke="#231f20" stroke-width="0.22">ns</text>
<line x1="611.6" y1="969.7" x2="611.6" y2="972.2" stroke="#777" stroke-width="0.9"/>
<text x="611.6" y="981.9" font-size="10" text-anchor="middle" fill="#231f20" stroke="#231f20" stroke-width="0.22">I</text>
<line x1="633.4" y1="969.7" x2="633.4" y2="972.2" stroke="#777" stroke-width="0.9"/>
<text x="633.4" y="981.9" font-size="10" text-anchor="middle" fill="#231f20" stroke="#231f20" stroke-width="0.22">II</text>
<line x1="655.6" y1="969.7" x2="655.6" y2="972.2" stroke="#777" stroke-width="0.9"/>
<text x="655.6" y="981.9" font-size="10" text-anchor="middle" fill="#231f20" stroke="#231f20" stroke-width="0.22">III</text>
<line x1="677.8" y1="969.7" x2="677.8" y2="972.2" stroke="#777" stroke-width="0.9"/>
<text x="677.8" y="981.9" font-size="10" text-anchor="middle" fill="#231f20" stroke="#231f20" stroke-width="0.22">IV</text>
<line x1="597.8" y1="986.4" x2="691.7" y2="986.4" stroke="#555" stroke-width="0.9"/>
<text x="645.7" y="997.3" font-size="10" text-anchor="middle" fill="#231f20" stroke="#231f20" stroke-width="0.22">MGFA subtype</text>
<text x="580.7" y="927.6" font-size="10" text-anchor="middle" fill="#231f20" stroke="#231f20" stroke-width="0.22" transform="rotate(-90 580.7 924.1)">SOCS3 Stainging Score</text>
<text x="697.6" y="874.5" font-size="20.5" font-weight="bold" fill="#231f20" stroke="#231f20" stroke-width="0.22">P</text>
<line x1="743.0" y1="884.5" x2="743.0" y2="967.5" stroke="#777" stroke-width="0.9"/>
<line x1="740.5" y1="884.5" x2="743.0" y2="884.5" stroke="#777" stroke-width="0.9"/>
<text x="739.5" y="888.0" font-size="10" text-anchor="end" fill="#231f20" stroke="#231f20" stroke-width="0.22">10</text>
<line x1="740.5" y1="900.9" x2="743.0" y2="900.9" stroke="#777" stroke-width="0.9"/>
<text x="739.5" y="904.4" font-size="10" text-anchor="end" fill="#231f20" stroke="#231f20" stroke-width="0.22">8</text>
<line x1="740.5" y1="917.6" x2="743.0" y2="917.6" stroke="#777" stroke-width="0.9"/>
<text x="739.5" y="921.1" font-size="10" text-anchor="end" fill="#231f20" stroke="#231f20" stroke-width="0.22">6</text>
<line x1="740.5" y1="934.5" x2="743.0" y2="934.5" stroke="#777" stroke-width="0.9"/>
<text x="739.5" y="938.0" font-size="10" text-anchor="end" fill="#231f20" stroke="#231f20" stroke-width="0.22">4</text>
<line x1="740.5" y1="950.5" x2="743.0" y2="950.5" stroke="#777" stroke-width="0.9"/>
<text x="739.5" y="954.0" font-size="10" text-anchor="end" fill="#231f20" stroke="#231f20" stroke-width="0.22">2</text>
<line x1="740.5" y1="967.5" x2="743.0" y2="967.5" stroke="#777" stroke-width="0.9"/>
<text x="739.5" y="971.0" font-size="10" text-anchor="end" fill="#231f20" stroke="#231f20" stroke-width="0.22">0</text>
<line x1="743.0" y1="967.5" x2="817.0" y2="967.5" stroke="#777" stroke-width="0.9"/>
<line x1="764.5" y1="917.6" x2="764.5" y2="934.5" stroke="#444" stroke-width="0.8"/>
<line x1="764.5" y1="950.3" x2="764.5" y2="950.3" stroke="#444" stroke-width="0.8"/>
<line x1="761.5" y1="917.6" x2="767.5" y2="917.6" stroke="#444" stroke-width="0.8"/>
<line x1="761.5" y1="950.3" x2="767.5" y2="950.3" stroke="#444" stroke-width="0.8"/>
<rect x="754.2" y="934.5" width="20.7" height="15.8" fill="#e05a60" stroke="#3a3a3a" stroke-width="0.8"/>
<line x1="754.2" y1="942.2" x2="774.9" y2="942.2" stroke="#333" stroke-width="0.9"/>
<line x1="795.9" y1="893.2" x2="795.9" y2="917.8" stroke="#444" stroke-width="0.8"/>
<line x1="795.9" y1="933.6" x2="795.9" y2="950.3" stroke="#444" stroke-width="0.8"/>
<line x1="792.9" y1="893.2" x2="798.9" y2="893.2" stroke="#444" stroke-width="0.8"/>
<line x1="792.9" y1="950.3" x2="798.9" y2="950.3" stroke="#444" stroke-width="0.8"/>
<rect x="785.5" y="917.8" width="20.8" height="15.8" fill="#4a86c8" stroke="#3a3a3a" stroke-width="0.8"/>
<line x1="785.5" y1="931.5" x2="806.3" y2="931.5" stroke="#333" stroke-width="0.9"/>
<path d="M764.6,913.2 V883.4 H795.2 V887.8" fill="none" stroke="#666" stroke-width="0.8"/>
<text x="781.7" y="882.0" font-size="10" text-anchor="middle" font-weight="bold" fill="#231f20" stroke="#231f20" stroke-width="0.22">*</text>
<line x1="765.7" y1="967.5" x2="765.7" y2="970.0" stroke="#777" stroke-width="0.9"/>
<text x="765.7" y="980.0" font-size="10" text-anchor="middle" fill="#231f20" stroke="#231f20" stroke-width="0.22">Yes</text>
<line x1="795.7" y1="967.5" x2="795.7" y2="970.0" stroke="#777" stroke-width="0.9"/>
<text x="795.7" y="980.0" font-size="10" text-anchor="middle" fill="#231f20" stroke="#231f20" stroke-width="0.22">No</text>
<line x1="743.3" y1="986.4" x2="817.4" y2="986.4" stroke="#555" stroke-width="0.9"/>
<text x="778.0" y="997.6" font-size="9.6" text-anchor="middle" fill="#231f20" stroke="#231f20" stroke-width="0.22">Postoperative MG in TH</text>
<text x="723.6" y="930.1" font-size="10" text-anchor="middle" fill="#231f20" stroke="#231f20" stroke-width="0.22" transform="rotate(-90 723.6 926.6)">SOCS3 Stainging Score</text>
<text x="413.2" y="1021.7" font-size="20.5" font-weight="bold" fill="#231f20" stroke="#231f20" stroke-width="0.22">N</text>
<line x1="466.9" y1="1020.2" x2="466.9" y2="1116.8" stroke="#777" stroke-width="0.9"/>
<line x1="464.4" y1="1020.2" x2="466.9" y2="1020.2" stroke="#777" stroke-width="0.9"/>
<text x="463.0" y="1023.8" font-size="10" text-anchor="end" fill="#231f20" stroke="#231f20" stroke-width="0.22">8</text>
<line x1="464.4" y1="1044.4" x2="466.9" y2="1044.4" stroke="#777" stroke-width="0.9"/>
<text x="463.0" y="1047.9" font-size="10" text-anchor="end" fill="#231f20" stroke="#231f20" stroke-width="0.22">6</text>
<line x1="464.4" y1="1068.5" x2="466.9" y2="1068.5" stroke="#777" stroke-width="0.9"/>
<text x="463.0" y="1072.1" font-size="10" text-anchor="end" fill="#231f20" stroke="#231f20" stroke-width="0.22">4</text>
<line x1="464.4" y1="1092.7" x2="466.9" y2="1092.7" stroke="#777" stroke-width="0.9"/>
<text x="463.0" y="1096.2" font-size="10" text-anchor="end" fill="#231f20" stroke="#231f20" stroke-width="0.22">2</text>
<line x1="464.4" y1="1116.8" x2="466.9" y2="1116.8" stroke="#777" stroke-width="0.9"/>
<text x="463.0" y="1120.3" font-size="10" text-anchor="end" fill="#231f20" stroke="#231f20" stroke-width="0.22">0</text>
<line x1="466.9" y1="1116.8" x2="610.9" y2="1116.8" stroke="#777" stroke-width="0.9"/>
<line x1="467.6" y1="1116.8" x2="467.6" y2="1119.3" stroke="#777" stroke-width="0.9"/>
<text x="467.6" y="1129.1" font-size="10" text-anchor="middle" fill="#231f20" stroke="#231f20" stroke-width="0.22">0</text>
<line x1="515.6" y1="1116.8" x2="515.6" y2="1119.3" stroke="#777" stroke-width="0.9"/>
<text x="515.6" y="1129.1" font-size="10" text-anchor="middle" fill="#231f20" stroke="#231f20" stroke-width="0.22">5</text>
<line x1="563.6" y1="1116.8" x2="563.6" y2="1119.3" stroke="#777" stroke-width="0.9"/>
<text x="563.6" y="1129.1" font-size="10" text-anchor="middle" fill="#231f20" stroke="#231f20" stroke-width="0.22">10</text>
<line x1="611.6" y1="1116.8" x2="611.6" y2="1119.3" stroke="#777" stroke-width="0.9"/>
<text x="611.6" y="1129.1" font-size="10" text-anchor="middle" fill="#231f20" stroke="#231f20" stroke-width="0.22">15</text>
<path d="M486.8,1061.278 Q534.8000000000001,1078.176 582.8,1089.039" fill="none" stroke="#888" stroke-width="0.7"/>
<path d="M486.8,1072.1409999999998 Q534.8000000000001,1079.383 582.8,1099.902" fill="none" stroke="#888" stroke-width="0.7"/>
<line x1="486.8" y1="1066.7" x2="582.8" y2="1094.5" stroke="#e06060" stroke-width="0.8"/>
<circle cx="486.8" cy="1044.4" r="1.90" fill="#3f7fc8"/>
<circle cx="496.4" cy="1044.4" r="1.90" fill="#3f7fc8"/>
<circle cx="506.0" cy="1044.4" r="1.90" fill="#3f7fc8"/>
<circle cx="486.8" cy="1068.5" r="1.90" fill="#3f7fc8"/>
<circle cx="496.4" cy="1068.5" r="1.90" fill="#3f7fc8"/>
<circle cx="506.0" cy="1068.5" r="1.90" fill="#3f7fc8"/>
<circle cx="525.2" cy="1068.5" r="1.90" fill="#3f7fc8"/>
<circle cx="544.4" cy="1068.5" r="1.90" fill="#3f7fc8"/>
<circle cx="554.0" cy="1068.5" r="1.90" fill="#3f7fc8"/>
<circle cx="582.8" cy="1068.5" r="1.90" fill="#3f7fc8"/>
<circle cx="486.8" cy="1080.6" r="1.90" fill="#3f7fc8"/>
<circle cx="496.4" cy="1080.6" r="1.90" fill="#3f7fc8"/>
<circle cx="506.0" cy="1080.6" r="1.90" fill="#3f7fc8"/>
<circle cx="525.2" cy="1080.6" r="1.90" fill="#3f7fc8"/>
<circle cx="544.4" cy="1080.6" r="1.90" fill="#3f7fc8"/>
<circle cx="554.0" cy="1080.6" r="1.90" fill="#3f7fc8"/>
<circle cx="582.8" cy="1080.6" r="1.90" fill="#3f7fc8"/>
<circle cx="506.0" cy="1092.7" r="1.90" fill="#3f7fc8"/>
<circle cx="544.4" cy="1092.7" r="1.90" fill="#3f7fc8"/>
<circle cx="554.0" cy="1092.7" r="1.90" fill="#3f7fc8"/>
<circle cx="582.8" cy="1092.7" r="1.90" fill="#3f7fc8"/>
<circle cx="525.2" cy="1104.7" r="1.90" fill="#3f7fc8"/>
<circle cx="554.0" cy="1104.7" r="1.90" fill="#3f7fc8"/>
<circle cx="582.8" cy="1104.7" r="1.90" fill="#3f7fc8"/>
<text x="532.6" y="1028.8" font-size="10" fill="#231f20" stroke="#231f20" stroke-width="0.22">R squad=0.356</text>
<text x="532.6" y="1044.0" font-size="10" fill="#231f20" stroke="#231f20" stroke-width="0.22">p&lt;0.0001</text>
<text x="543.4" y="1142.0" font-size="10" text-anchor="middle" fill="#231f20" stroke="#231f20" stroke-width="0.22">JUND-MGTH</text>
<text x="445.4" y="1068.5" font-size="10" text-anchor="middle" fill="#231f20" stroke="#231f20" stroke-width="0.22" transform="rotate(-90 445.4 1065.0)">SOCS3-MGTH</text>
<line x1="673.3" y1="1022.2" x2="673.3" y2="1116.8" stroke="#777" stroke-width="0.9"/>
<line x1="670.8" y1="1022.2" x2="673.3" y2="1022.2" stroke="#777" stroke-width="0.9"/>
<text x="669.4" y="1025.8" font-size="10" text-anchor="end" fill="#231f20" stroke="#231f20" stroke-width="0.22">10</text>
<line x1="670.8" y1="1041.1" x2="673.3" y2="1041.1" stroke="#777" stroke-width="0.9"/>
<text x="669.4" y="1044.7" font-size="10" text-anchor="end" fill="#231f20" stroke="#231f20" stroke-width="0.22">8</text>
<line x1="670.8" y1="1060.0" x2="673.3" y2="1060.0" stroke="#777" stroke-width="0.9"/>
<text x="669.4" y="1063.6" font-size="10" text-anchor="end" fill="#231f20" stroke="#231f20" stroke-width="0.22">6</text>
<line x1="670.8" y1="1079.0" x2="673.3" y2="1079.0" stroke="#777" stroke-width="0.9"/>
<text x="669.4" y="1082.5" font-size="10" text-anchor="end" fill="#231f20" stroke="#231f20" stroke-width="0.22">4</text>
<line x1="670.8" y1="1097.9" x2="673.3" y2="1097.9" stroke="#777" stroke-width="0.9"/>
<text x="669.4" y="1101.4" font-size="10" text-anchor="end" fill="#231f20" stroke="#231f20" stroke-width="0.22">2</text>
<line x1="670.8" y1="1116.8" x2="673.3" y2="1116.8" stroke="#777" stroke-width="0.9"/>
<text x="669.4" y="1120.3" font-size="10" text-anchor="end" fill="#231f20" stroke="#231f20" stroke-width="0.22">0</text>
<line x1="673.3" y1="1116.8" x2="815.1" y2="1116.8" stroke="#777" stroke-width="0.9"/>
<line x1="673.3" y1="1116.8" x2="673.3" y2="1119.3" stroke="#777" stroke-width="0.9"/>
<text x="673.3" y="1129.1" font-size="10" text-anchor="middle" fill="#231f20" stroke="#231f20" stroke-width="0.22">0</text>
<line x1="720.5" y1="1116.8" x2="720.5" y2="1119.3" stroke="#777" stroke-width="0.9"/>
<text x="720.5" y="1129.1" font-size="10" text-anchor="middle" fill="#231f20" stroke="#231f20" stroke-width="0.22">5</text>
<line x1="767.8" y1="1116.8" x2="767.8" y2="1119.3" stroke="#777" stroke-width="0.9"/>
<text x="767.8" y="1129.1" font-size="10" text-anchor="middle" fill="#231f20" stroke="#231f20" stroke-width="0.22">10</text>
<line x1="815.0" y1="1116.8" x2="815.0" y2="1119.3" stroke="#777" stroke-width="0.9"/>
<text x="815.0" y="1129.1" font-size="10" text-anchor="middle" fill="#231f20" stroke="#231f20" stroke-width="0.22">15</text>
<path d="M692.1999999999999,1056.2559999999999 Q739.4499999999999,1076.1219999999998 786.6999999999999,1089.839" fill="none" stroke="#888" stroke-width="0.7"/>
<path d="M692.1999999999999,1067.608 Q739.4499999999999,1077.068 786.6999999999999,1107.34" fill="none" stroke="#888" stroke-width="0.7"/>
<line x1="692.2" y1="1062.4" x2="786.7" y2="1098.4" stroke="#e06060" stroke-width="0.8"/>
<circle cx="692.2" cy="1041.1" r="1.90" fill="#3f7fc8"/>
<circle cx="701.6" cy="1041.1" r="1.90" fill="#3f7fc8"/>
<circle cx="711.1" cy="1041.1" r="1.90" fill="#3f7fc8"/>
<circle cx="701.6" cy="1031.7" r="1.90" fill="#3f7fc8"/>
<circle cx="692.2" cy="1060.0" r="1.90" fill="#3f7fc8"/>
<circle cx="701.6" cy="1060.0" r="1.90" fill="#3f7fc8"/>
<circle cx="711.1" cy="1060.0" r="1.90" fill="#3f7fc8"/>
<circle cx="730.0" cy="1060.0" r="1.90" fill="#3f7fc8"/>
<circle cx="748.9" cy="1060.0" r="1.90" fill="#3f7fc8"/>
<circle cx="692.2" cy="1079.0" r="1.90" fill="#3f7fc8"/>
<circle cx="701.6" cy="1079.0" r="1.90" fill="#3f7fc8"/>
<circle cx="711.1" cy="1079.0" r="1.90" fill="#3f7fc8"/>
<circle cx="730.0" cy="1079.0" r="1.90" fill="#3f7fc8"/>
<circle cx="748.9" cy="1079.0" r="1.90" fill="#3f7fc8"/>
<circle cx="758.3" cy="1079.0" r="1.90" fill="#3f7fc8"/>
<circle cx="711.1" cy="1088.4" r="1.90" fill="#3f7fc8"/>
<circle cx="730.0" cy="1088.4" r="1.90" fill="#3f7fc8"/>
<circle cx="748.9" cy="1088.4" r="1.90" fill="#3f7fc8"/>
<circle cx="758.3" cy="1088.4" r="1.90" fill="#3f7fc8"/>
<circle cx="758.3" cy="1097.9" r="1.90" fill="#3f7fc8"/>
<circle cx="786.7" cy="1097.9" r="1.90" fill="#3f7fc8"/>
<text x="741.0" y="1028.8" font-size="10" fill="#231f20" stroke="#231f20" stroke-width="0.22">R squad=0.337</text>
<text x="741.0" y="1044.5" font-size="10" fill="#231f20" stroke="#231f20" stroke-width="0.22">p&lt;0.0001</text>
<text x="743.6" y="1141.2" font-size="10" text-anchor="middle" fill="#231f20" stroke="#231f20" stroke-width="0.22">JUND-TH</text>
<text x="650.8" y="1069.2" font-size="10" text-anchor="middle" fill="#231f20" stroke="#231f20" stroke-width="0.22" transform="rotate(-90 650.8 1065.7)">SOCS3-TH</text>
</svg></body></html>
